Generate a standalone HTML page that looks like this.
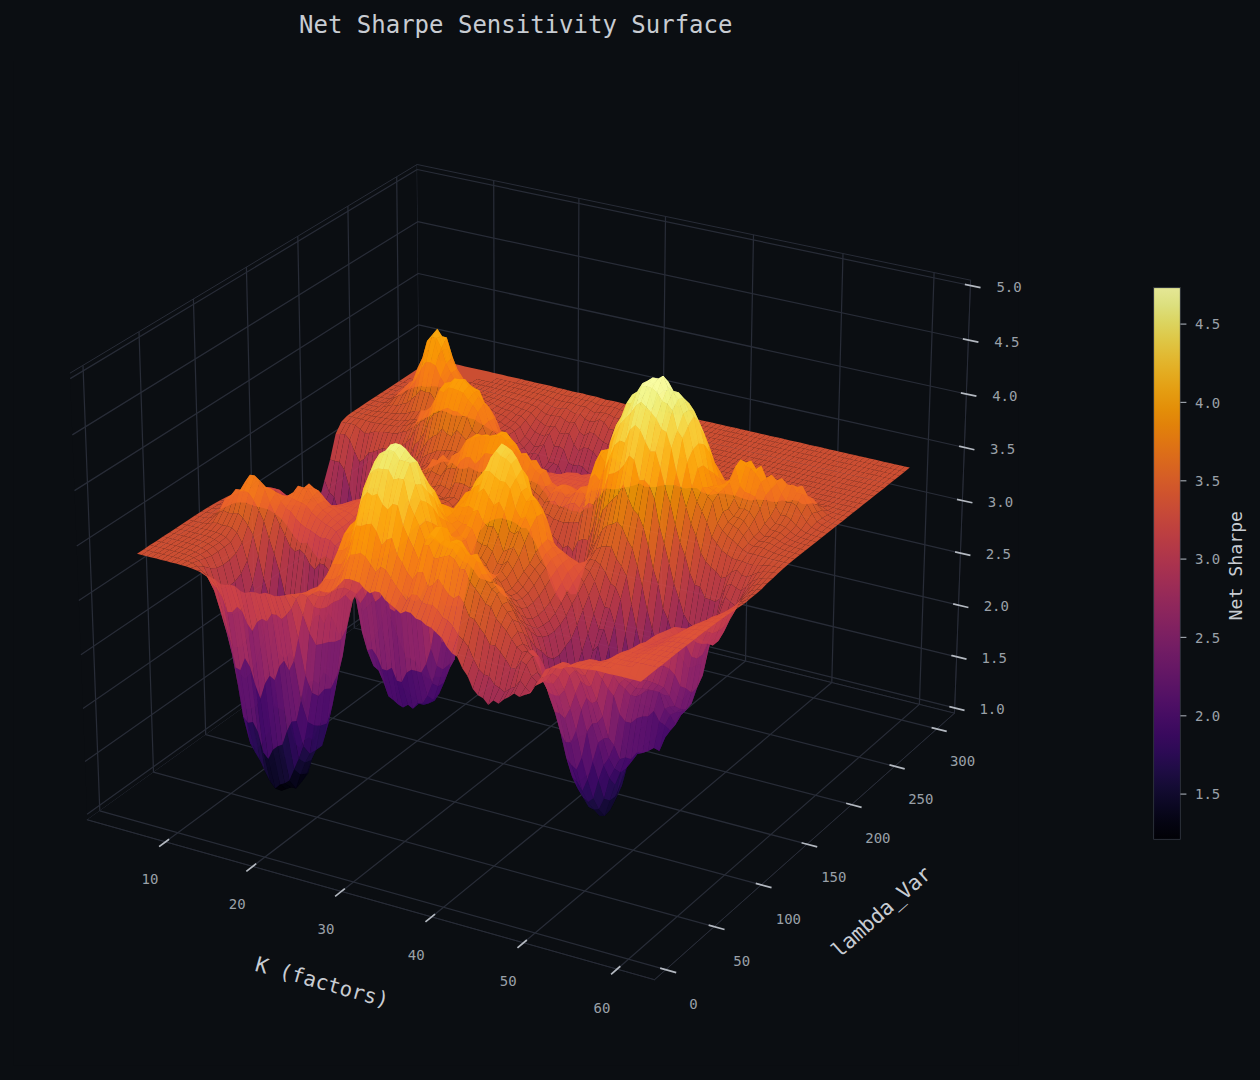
<!DOCTYPE html>
<html><head><meta charset="utf-8"><title>Net Sharpe Sensitivity Surface</title>
<style>html,body{margin:0;padding:0;background:#0b0e12;width:1260px;height:1080px;overflow:hidden}svg{display:block}</style>
</head><body>
<svg width="1260" height="1080" viewBox="0 0 1260 1080">
<defs>
<style type="text/css">*{stroke-linejoin: round; stroke-linecap: butt}</style>
</defs>
<g id="figure_1">
<g id="patch_1">
<path d="M0 1080l1260 0 0-1080-1260 0z" fill="#0b0e12"/>
</g>
<g id="patch_2">
<path d="M13.3 1065.7l1004.8 0 0-1004.8-1004.8 0z" fill="#0b0e12"/>
</g>
<g id="pane3d_1">
<g id="patch_3">
<path d="M87.3 819.8l333.7-239.7-3.9-415.6-347.2 208.7" style="fill: #0b0e12; stroke: #282c37; stroke-linejoin: miter"/>
</g>
</g>
<g id="pane3d_2">
<g id="patch_4">
<path d="M421 580.1l533.5 133.1 16.1-433-553.5-115.7" style="fill: #0b0e12; stroke: #282c37; stroke-linejoin: miter"/>
</g>
</g>
<g id="pane3d_3">
<g id="patch_5">
<path d="M87.3 819.8l567.2 159.9 300-266.5-533.5-133.1" style="fill: #0b0e12; stroke: #282c37; stroke-linejoin: miter"/>
</g>
</g>
<g id="grid3d_1">
<g id="Line3DCollection_1">
<path d="M165.6 841.8l329.3-243.3-1.2-418" style="fill: none; stroke: #282c37; stroke-width: 1.25"/>
<path d="M252.7 866.4l324.4-247.4 1.8-420.7" style="fill: none; stroke: #282c37; stroke-width: 1.25"/>
<path d="M341.4 891.4l319.2-251.5 4.9-423.5" style="fill: none; stroke: #282c37; stroke-width: 1.25"/>
<path d="M431.6 916.9l313.9-255.9 8-426.2" style="fill: none; stroke: #282c37; stroke-width: 1.25"/>
<path d="M523.5 942.8l308.3-260.2 11.2-429" style="fill: none; stroke: #282c37; stroke-width: 1.25"/>
<path d="M617 969.2l302.4-264.8 14.7-431.8" style="fill: none; stroke: #282c37; stroke-width: 1.25"/>
</g>
</g>
<g id="grid3d_2">
<g id="Line3DCollection_2">
<path d="M83 365.4l16.8 445.4 566 158.9" style="fill: none; stroke: #282c37; stroke-width: 1.25"/>
<path d="M139 331.7l14.5 440.5 560.7 154.5" style="fill: none; stroke: #282c37; stroke-width: 1.25"/>
<path d="M193.4 299l12.3 435.7 555.6 150.1" style="fill: none; stroke: #282c37; stroke-width: 1.25"/>
<path d="M246.4 267.1l10.2 431.1 550.5 146" style="fill: none; stroke: #282c37; stroke-width: 1.25"/>
<path d="M297.8 236.2l8.3 426.4 545.5 142.1" style="fill: none; stroke: #282c37; stroke-width: 1.25"/>
<path d="M347.9 206.1l6.4 421.9 540.5 138.3" style="fill: none; stroke: #282c37; stroke-width: 1.25"/>
<path d="M396.7 176.8l4.6 417.4 535.6 134.7" style="fill: none; stroke: #282c37; stroke-width: 1.25"/>
</g>
</g>
<g id="grid3d_3">
<g id="Line3DCollection_3">
<path d="M954.7 707.9l-533.7-132.9-333.9 239.3" style="fill: none; stroke: #282c37; stroke-width: 1.25"/>
<path d="M956.6 656.8l-536.1-131-335.5 235.8" style="fill: none; stroke: #282c37; stroke-width: 1.25"/>
<path d="M958.5 605.1l-538.5-128.9-337 232.2" style="fill: none; stroke: #282c37; stroke-width: 1.25"/>
<path d="M960.5 553.1l-540.9-126.9-338.7 228.6" style="fill: none; stroke: #282c37; stroke-width: 1.25"/>
<path d="M962.4 500.5l-543.3-124.8-340.3 224.9" style="fill: none; stroke: #282c37; stroke-width: 1.25"/>
<path d="M964.4 447.5l-545.8-122.7-341.9 221.1" style="fill: none; stroke: #282c37; stroke-width: 1.25"/>
<path d="M966.4 394l-548.2-120.5-343.7 217.1" style="fill: none; stroke: #282c37; stroke-width: 1.25"/>
<path d="M968.4 340l-550.7-118.3-345.4 213.2" style="fill: none; stroke: #282c37; stroke-width: 1.25"/>
<path d="M970.4 285.5l-553.2-116-347 209.1" style="fill: none; stroke: #282c37; stroke-width: 1.25"/>
</g>
</g>
<g id="axis3d_1">
<g id="line2d_1">
<path d="M87.3 819.8l567.2 159.9" style="fill: none; stroke: #282c37; stroke-width: 0.8; stroke-linecap: square"/>
</g>
<g id="xtick_1">
<g id="line2d_2">
<path d="M168.4 839.7l-8.6 6.4" style="fill: none; stroke: #b4b9c1; stroke-width: 1.7; stroke-linecap: square"/>
</g>
<g id="text_1">
<text style="font-size: 14px; font-family: 'DejaVu Sans Mono', monospace; text-anchor: middle; fill: #9aa0a8" x="150" y="884" transform="rotate(0 150 884)">10</text>
</g>
</g>
<g id="xtick_2">
<g id="line2d_3">
<path d="M255.5 864.2l-8.5 6.6" style="fill: none; stroke: #b4b9c1; stroke-width: 1.7; stroke-linecap: square"/>
</g>
<g id="text_2">
<text style="font-size: 14px; font-family: 'DejaVu Sans Mono', monospace; text-anchor: middle; fill: #9aa0a8" x="237.2" y="908.9" transform="rotate(0 237.2 908.9)">20</text>
</g>
</g>
<g id="xtick_3">
<g id="line2d_4">
<path d="M344.2 889.2l-8.4 6.6" style="fill: none; stroke: #b4b9c1; stroke-width: 1.7; stroke-linecap: square"/>
</g>
<g id="text_3">
<text style="font-size: 14px; font-family: 'DejaVu Sans Mono', monospace; text-anchor: middle; fill: #9aa0a8" x="326" y="934.3" transform="rotate(0 326 934.3)">30</text>
</g>
</g>
<g id="xtick_4">
<g id="line2d_5">
<path d="M434.4 914.6l-8.3 6.8" style="fill: none; stroke: #b4b9c1; stroke-width: 1.7; stroke-linecap: square"/>
</g>
<g id="text_4">
<text style="font-size: 14px; font-family: 'DejaVu Sans Mono', monospace; text-anchor: middle; fill: #9aa0a8" x="416.3" y="960.1" transform="rotate(0 416.3 960.1)">40</text>
</g>
</g>
<g id="xtick_5">
<g id="line2d_6">
<path d="M526.2 940.5l-8.1 6.9" style="fill: none; stroke: #b4b9c1; stroke-width: 1.7; stroke-linecap: square"/>
</g>
<g id="text_5">
<text style="font-size: 14px; font-family: 'DejaVu Sans Mono', monospace; text-anchor: middle; fill: #9aa0a8" x="508.3" y="986.3" transform="rotate(0 508.3 986.3)">50</text>
</g>
</g>
<g id="xtick_6">
<g id="line2d_7">
<path d="M619.7 966.8l-8 7" style="fill: none; stroke: #b4b9c1; stroke-width: 1.7; stroke-linecap: square"/>
</g>
<g id="text_6">
<text style="font-size: 14px; font-family: 'DejaVu Sans Mono', monospace; text-anchor: middle; fill: #9aa0a8" x="601.9" y="1013.1" transform="rotate(0 601.9 1013.1)">60</text>
</g>
</g>
<g id="text_7">
<text style="font-size: 20.8px; font-family: 'DejaVu Sans Mono', monospace; text-anchor: middle; fill: #c8ccd2" x="320.3" y="989.1" transform="rotate(-344.3 320.3 989.1)">K (factors)</text>
</g>
</g>
<g id="axis3d_2">
<g id="line2d_8">
<path d="M954.5 713.2l-300 266.5" style="fill: none; stroke: #282c37; stroke-width: 0.8; stroke-linecap: square"/>
</g>
<g id="xtick_7">
<g id="line2d_9">
<path d="M661 968.4l14.4 4" style="fill: none; stroke: #b4b9c1; stroke-width: 1.7; stroke-linecap: square"/>
</g>
<g id="text_8">
<text style="font-size: 14px; font-family: 'DejaVu Sans Mono', monospace; text-anchor: middle; fill: #9aa0a8" x="693.5" y="1009.2" transform="rotate(0 693.5 1009.2)">0</text>
</g>
</g>
<g id="xtick_8">
<g id="line2d_10">
<path d="M709.5 925.4l14.2 3.9" style="fill: none; stroke: #b4b9c1; stroke-width: 1.7; stroke-linecap: square"/>
</g>
<g id="text_9">
<text style="font-size: 14px; font-family: 'DejaVu Sans Mono', monospace; text-anchor: middle; fill: #9aa0a8" x="741.7" y="965.7" transform="rotate(0 741.7 965.7)">50</text>
</g>
</g>
<g id="xtick_9">
<g id="line2d_11">
<path d="M756.6 883.6l14.1 3.8" style="fill: none; stroke: #b4b9c1; stroke-width: 1.7; stroke-linecap: square"/>
</g>
<g id="text_10">
<text style="font-size: 14px; font-family: 'DejaVu Sans Mono', monospace; text-anchor: middle; fill: #9aa0a8" x="788.4" y="923.5" transform="rotate(0 788.4 923.5)">100</text>
</g>
</g>
<g id="xtick_10">
<g id="line2d_12">
<path d="M802.4 843l14 3.7" style="fill: none; stroke: #b4b9c1; stroke-width: 1.7; stroke-linecap: square"/>
</g>
<g id="text_11">
<text style="font-size: 14px; font-family: 'DejaVu Sans Mono', monospace; text-anchor: middle; fill: #9aa0a8" x="833.8" y="882.4" transform="rotate(0 833.8 882.4)">150</text>
</g>
</g>
<g id="xtick_11">
<g id="line2d_13">
<path d="M847 803.5l13.8 3.6" style="fill: none; stroke: #b4b9c1; stroke-width: 1.7; stroke-linecap: square"/>
</g>
<g id="text_12">
<text style="font-size: 14px; font-family: 'DejaVu Sans Mono', monospace; text-anchor: middle; fill: #9aa0a8" x="877.9" y="842.5" transform="rotate(0 877.9 842.5)">200</text>
</g>
</g>
<g id="xtick_12">
<g id="line2d_14">
<path d="M890.3 765.1l13.6 3.5" style="fill: none; stroke: #b4b9c1; stroke-width: 1.7; stroke-linecap: square"/>
</g>
<g id="text_13">
<text style="font-size: 14px; font-family: 'DejaVu Sans Mono', monospace; text-anchor: middle; fill: #9aa0a8" x="920.8" y="803.6" transform="rotate(0 920.8 803.6)">250</text>
</g>
</g>
<g id="xtick_13">
<g id="line2d_15">
<path d="M932.4 727.8l13.5 3.4" style="fill: none; stroke: #b4b9c1; stroke-width: 1.7; stroke-linecap: square"/>
</g>
<g id="text_14">
<text style="font-size: 14px; font-family: 'DejaVu Sans Mono', monospace; text-anchor: middle; fill: #9aa0a8" x="962.6" y="765.9" transform="rotate(0 962.6 765.9)">300</text>
</g>
</g>
<g id="text_15">
<text style="font-size: 20.8px; font-family: 'DejaVu Sans Mono', monospace; text-anchor: middle; fill: #c8ccd2" x="886.1" y="917.2" transform="rotate(-41.6 886.1 917.2)">lambda_Var</text>
</g>
</g>
<g id="axis3d_3">
<g id="line2d_16">
<path d="M954.5 713.2l16.1-433" style="fill: none; stroke: #282c37; stroke-width: 0.8; stroke-linecap: square"/>
</g>
<g id="xtick_14">
<g id="line2d_17">
<path d="M950.2 706.8l13.5 3.4" style="fill: none; stroke: #b4b9c1; stroke-width: 1.7; stroke-linecap: square"/>
</g>
<g id="text_16">
<text style="font-size: 14px; font-family: 'DejaVu Sans Mono', monospace; text-anchor: middle; fill: #9aa0a8" x="992.1" y="714" transform="rotate(0 992.1 714)">1.0</text>
</g>
</g>
<g id="xtick_15">
<g id="line2d_18">
<path d="M952.1 655.7l13.6 3.3" style="fill: none; stroke: #b4b9c1; stroke-width: 1.7; stroke-linecap: square"/>
</g>
<g id="text_17">
<text style="font-size: 14px; font-family: 'DejaVu Sans Mono', monospace; text-anchor: middle; fill: #9aa0a8" x="994.2" y="662.9" transform="rotate(0 994.2 662.9)">1.5</text>
</g>
</g>
<g id="xtick_16">
<g id="line2d_19">
<path d="M954 604.1l13.6 3.2" style="fill: none; stroke: #b4b9c1; stroke-width: 1.7; stroke-linecap: square"/>
</g>
<g id="text_18">
<text style="font-size: 14px; font-family: 'DejaVu Sans Mono', monospace; text-anchor: middle; fill: #9aa0a8" x="996.3" y="611.4" transform="rotate(0 996.3 611.4)">2.0</text>
</g>
</g>
<g id="xtick_17">
<g id="line2d_20">
<path d="M955.9 552l13.7 3.2" style="fill: none; stroke: #b4b9c1; stroke-width: 1.7; stroke-linecap: square"/>
</g>
<g id="text_19">
<text style="font-size: 14px; font-family: 'DejaVu Sans Mono', monospace; text-anchor: middle; fill: #9aa0a8" x="998.4" y="559.4" transform="rotate(0 998.4 559.4)">2.5</text>
</g>
</g>
<g id="xtick_18">
<g id="line2d_21">
<path d="M957.8 499.5l13.8 3.1" style="fill: none; stroke: #b4b9c1; stroke-width: 1.7; stroke-linecap: square"/>
</g>
<g id="text_20">
<text style="font-size: 14px; font-family: 'DejaVu Sans Mono', monospace; text-anchor: middle; fill: #9aa0a8" x="1000.5" y="506.9" transform="rotate(0 1000.5 506.9)">3.0</text>
</g>
</g>
<g id="xtick_19">
<g id="line2d_22">
<path d="M959.8 446.4l13.8 3.2" style="fill: none; stroke: #b4b9c1; stroke-width: 1.7; stroke-linecap: square"/>
</g>
<g id="text_21">
<text style="font-size: 14px; font-family: 'DejaVu Sans Mono', monospace; text-anchor: middle; fill: #9aa0a8" x="1002.6" y="454" transform="rotate(0 1002.6 454)">3.5</text>
</g>
</g>
<g id="xtick_20">
<g id="line2d_23">
<path d="M961.7 393l13.9 3" style="fill: none; stroke: #b4b9c1; stroke-width: 1.7; stroke-linecap: square"/>
</g>
<g id="text_22">
<text style="font-size: 14px; font-family: 'DejaVu Sans Mono', monospace; text-anchor: middle; fill: #9aa0a8" x="1004.8" y="400.5" transform="rotate(0 1004.8 400.5)">4.0</text>
</g>
</g>
<g id="xtick_21">
<g id="line2d_24">
<path d="M963.7 339l13.9 3" style="fill: none; stroke: #b4b9c1; stroke-width: 1.7; stroke-linecap: square"/>
</g>
<g id="text_23">
<text style="font-size: 14px; font-family: 'DejaVu Sans Mono', monospace; text-anchor: middle; fill: #9aa0a8" x="1006.9" y="346.6" transform="rotate(0 1006.9 346.6)">4.5</text>
</g>
</g>
<g id="xtick_22">
<g id="line2d_25">
<path d="M965.7 284.5l14 2.9" style="fill: none; stroke: #b4b9c1; stroke-width: 1.7; stroke-linecap: square"/>
</g>
<g id="text_24">
<text style="font-size: 14px; font-family: 'DejaVu Sans Mono', monospace; text-anchor: middle; fill: #9aa0a8" x="1009.1" y="292.2" transform="rotate(0 1009.1 292.2)">5.0</text>
</g>
</g>
</g>
<g id="axes_1">
<g id="Poly3DCollection_1" fill-opacity="0.9">
<path d="M427.1 362.7l4.6 1 5.6-3.7-4.6-1zM431.7 363.7l4.7 1.1 5.5-3.7-4.6-1.1zM436.4 364.8l4.6 1 5.5-3.7-4.6-1zM441 365.8l4.6 1.1 5.6-3.7-4.7-1.1zM421.5 366.3l4.6 1.1 5.6-3.7-4.6-1zM445.6 366.9l4.6 1 5.6-3.7-4.6-1zM426.1 367.4l4.7 1.1 5.6-3.7-4.7-1.1zM450.2 367.9l4.7 1.1 5.5-3.7-4.6-1.1zM430.8 368.5l4.6 1 5.6-3.7-4.6-1zM454.9 369l4.6 1 5.5-3.6-4.6-1.1zM435.4 369.5l4.6 1.1 5.6-3.7-4.6-1.1zM415.9 370l4.6 1.1 5.6-3.7-4.6-1.1zM459.5 370l4.6 1.1 5.6-3.7-4.7-1zM440 370.6l4.7 1 5.5-3.7-4.6-1zM420.5 371.1l4.7 1.1 5.6-3.7-4.7-1.1zM464.1 371.1l4.7 1.1 5.5-3.7-4.6-1.1zM444.7 371.6l4.6 1.1 5.6-3.7-4.7-1.1zM425.2 372.2l4.6 1 5.6-3.7-4.6-1zM468.8 372.2l4.6 1 5.6-3.7-4.7-1zM449.3 372.7l4.6 1.1 5.6-3.8-4.6-1zM429.8 373.2l4.6 1.1 5.6-3.7-4.6-1.1zM473.4 373.2l4.7 1.1 5.5-3.7-4.6-1.1zM410.3 373.8l4.6 1 5.6-3.7-4.6-1.1zM453.9 373.8l4.7 1 5.5-3.7-4.6-1.1zM434.4 374.3l4.7 1 5.6-3.7-4.7-1zM478.1 374.3l4.6 1.1 5.6-3.8-4.7-1zM414.9 374.8l4.6 1.1 5.7-3.7-4.7-1.1zM458.6 374.8l4.6 1.1 5.6-3.7-4.7-1.1zM439.1 375.3l4.6 1.1 5.6-3.7-4.6-1.1zM482.7 375.4l4.7 1 5.5-3.7-4.6-1.1zM419.5 375.9l4.7 1 5.6-3.7-4.6-1zM463.2 375.9l4.7 1 5.5-3.7-4.6-1zM443.7 376.4l4.7 1.1 5.5-3.7-4.6-1.1zM487.4 376.4l4.7 1.1 5.5-3.7-4.7-1.1zM424.2 376.9l4.6 1.1 5.6-3.7-4.6-1.1zM467.9 376.9l4.6 1.1 5.6-3.7-4.7-1.1zM404.6 377.5l4.7 1 5.6-3.7-4.6-1zM448.4 377.5l4.6 1 5.6-3.7-4.7-1zM492.1 377.5l4.6 1.1 5.6-3.8-4.7-1zM428.8 378l4.7 1 5.6-3.7-4.7-1zM472.5 378l4.7 1.1 5.5-3.7-4.6-1.1zM409.3 378.5l4.6 1.1 5.6-3.7-4.6-1.1zM453 378.5l4.7 1.1 5.5-3.7-4.6-1.1zM496.7 378.6l4.7 1 5.5-3.7-4.6-1.1zM477.2 379.1l4.7 1.1 5.5-3.8-4.7-1zM433.5 379l4.6 1.1 5.6-3.7-4.6-1.1zM413.9 379.6l4.6 1.1 5.7-3.8-4.7-1zM501.4 379.6l4.7 1.1 5.5-3.7-4.7-1.1zM457.7 379.6l4.6 1.1 5.6-3.8-4.7-1zM481.9 380.2l4.6 1 5.6-3.7-4.7-1.1zM438.1 380.1l4.7 1 5.6-3.6-4.7-1.1zM506.1 380.7l4.7 1.1 5.5-3.8-4.7-1zM462.3 380.7l4.7 1 5.5-3.7-4.6-1.1zM418.5 380.7l4.7 0.9 5.6-3.6-4.6-1.1zM399 381.2l4.6 1.1 5.7-3.8-4.7-1zM486.5 381.2l4.7 1.1 5.5-3.7-4.6-1.1zM442.8 381.1l4.6 1 5.6-3.6-4.6-1zM510.8 381.8l4.7 1.1 5.5-3.8-4.7-1.1zM467 381.7l4.6 1.1 5.6-3.7-4.7-1.1z" fill="#e05536"/>
<path d="M423.2 381.6l4.6 0.9 5.7-3.5-4.7-1z" fill="#e15635"/>
<path d="M403.6 382.3l4.6 1 5.7-3.7-4.6-1.1zM491.2 382.3l4.7 1.1 5.5-3.8-4.7-1zM447.4 382.1l4.7 1.1 5.6-3.6-4.7-1.1zM515.5 382.9l4.7 1.1 5.4-3.8-4.6-1.1zM471.6 382.8l4.7 1.1 5.6-3.7-4.7-1.1z" fill="#e05536"/>
<path d="M427.8 382.5l4.7 0.9 5.6-3.3-4.6-1.1z" fill="#e15635"/>
<path d="M495.9 383.4l4.7 1.1 5.5-3.8-4.7-1.1zM408.2 383.3l4.7 1 5.6-3.6-4.6-1.1z" fill="#e05536"/>
<path d="M452.1 383.2l4.6 1 5.6-3.5-4.6-1.1z" fill="#e15635"/>
<path d="M520.2 384l4.7 1.1 5.4-3.8-4.7-1.1zM476.3 383.9l4.7 1 5.5-3.7-4.6-1z" fill="#e05536"/>
<path d="M432.5 383.4l4.6 0.9 5.7-3.2-4.7-1z" fill="#e15635"/>
<path d="M500.6 384.5l4.7 1.1 5.5-3.8-4.7-1.1z" fill="#e05536"/>
<path d="M412.9 384.3l4.6 0.8 5.7-3.5-4.7-0.9zM456.7 384.2l4.7 1 5.6-3.5-4.7-1z" fill="#e15635"/>
<path d="M524.9 385.1l4.7 1.1 5.4-3.8-4.7-1.1zM393.3 384.9l4.6 1.1 5.7-3.7-4.6-1.1zM481 384.9l4.7 1.1 5.5-3.7-4.7-1.1z" fill="#e05536"/>
<path d="M437.1 384.3l4.7 1 5.6-3.2-4.6-1z" fill="#e15635"/>
<path d="M505.3 385.6l4.7 1.1 5.5-3.8-4.7-1.1z" fill="#e05536"/>
<path d="M461.4 385.2l4.7 0.9 5.5-3.3-4.6-1.1zM417.5 385.1l4.7 0.2 5.6-2.8-4.6-0.9z" fill="#e15635"/>
<path d="M529.6 386.2l4.7 1.1 5.4-3.9-4.7-1zM485.7 386l4.7 1.1 5.5-3.7-4.7-1.1zM397.9 386l4.7 1 5.6-3.7-4.6-1z" fill="#e05536"/>
<path d="M441.8 385.3l4.7 0.8 5.6-2.9-4.7-1.1z" fill="#e15635"/>
<path d="M510 386.7l4.7 1.1 5.5-3.8-4.7-1.1z" fill="#e05536"/>
<path d="M466.1 386.1l4.6 1.1 5.6-3.3-4.7-1.1zM422.2 385.3l4.6 0.3 5.7-2.2-4.7-0.9z" fill="#e15635"/>
<path d="M534.3 387.3l4.7 1.1 5.4-3.9-4.7-1.1zM490.4 387.1l4.7 1.2 5.5-3.8-4.7-1.1z" fill="#e05536"/>
<path d="M402.6 387l4.6 0.9 5.7-3.6-4.7-1zM446.5 386.1l4.6 0.8 5.6-2.7-4.6-1z" fill="#e15635"/>
<path d="M514.7 387.8l4.7 1.2 5.5-3.9-4.7-1.1z" fill="#e05536"/>
<path d="M470.7 387.2l4.7 1.2 5.6-3.5-4.7-1zM426.8 385.6l4.7 0.7 5.6-2-4.6-0.9z" fill="#e15635"/>
<path d="M539 388.4l4.7 1.2 5.4-4-4.7-1.1zM495.1 388.3l4.6 1.1 5.6-3.8-4.7-1.1z" fill="#e05536"/>
<path d="M407.2 387.9l4.6 0.1 5.7-2.9-4.6-0.8zM451.1 386.9l4.7 0.5 5.6-2.2-4.7-1z" fill="#e15635"/>
<path d="M519.4 389l4.7 1.3 5.5-4.1-4.7-1.1zM387.6 388.7l4.6 1 5.7-3.7-4.6-1.1z" fill="#e05536"/>
<path d="M475.4 388.4l4.7 1.2 5.6-3.6-4.7-1.1z" fill="#e15635"/>
<path d="M431.5 386.3l4.6-0.1 5.7-0.9-4.7-1z" fill="#e25734"/>
<path d="M543.7 389.6l4.7 1.2 5.5-4.1-4.8-1.1zM499.7 389.4l4.7 1.1 5.6-3.8-4.7-1.1z" fill="#e05536"/>
<path d="M455.8 387.4l4.7 0.6 5.6-1.9-4.7-0.9z" fill="#e15635"/>
<path d="M411.8 388l4.7-1.2 5.7-1.5-4.7-0.2z" fill="#e25734"/>
<path d="M524.1 390.3l4.7 1.1 5.5-4.1-4.7-1.1zM392.2 389.7l4.7 1 5.7-3.7-4.7-1zM480.1 389.6l4.7 1.1 5.6-3.6-4.7-1.1z" fill="#e05536"/>
<path d="M436.1 386.2l4.7 0.7 5.7-0.8-4.7-0.8z" fill="#e25734"/>
<path d="M548.4 390.8l4.7 1.2 5.5-4.1-4.7-1.2zM504.4 390.5l4.7 1.2 5.6-3.9-4.7-1.1z" fill="#e05536"/>
<path d="M460.5 388l4.6 1 5.6-1.8-4.6-1.1z" fill="#e15635"/>
<path d="M528.8 391.4l4.7 1.1 5.5-4.1-4.7-1.1zM484.8 390.7l4.7 1.3 5.6-3.7-4.7-1.2z" fill="#e05536"/>
<path d="M396.9 390.7l4.6 0.7 5.7-3.5-4.6-0.9z" fill="#e15635"/>
<path d="M416.5 386.8l4.6-0.9 5.7-0.3-4.6-0.3z" fill="#e35933"/>
<path d="M553.1 392l4.8 1.5 5.4-4.4-4.7-1.2zM509.1 391.7l4.8 1.3 5.5-4-4.7-1.2z" fill="#e05536"/>
<path d="M440.8 386.9l4.7 0.4 5.6-0.4-4.6-0.8z" fill="#e25734"/>
<path d="M465.1 389l4.7 1.2 5.6-1.8-4.7-1.2z" fill="#e15635"/>
<path d="M533.5 392.5l4.7 1.3 5.5-4.2-4.7-1.2zM489.5 392l4.7 1.2 5.5-3.8-4.6-1.1z" fill="#e05536"/>
<path d="M401.5 391.4l4.6-1 5.7-2.4-4.6-0.1z" fill="#e15635"/>
<path d="M421.1 385.9l4.7 0.8 5.7-0.4-4.7-0.7z" fill="#e35933"/>
<path d="M557.9 393.5l4.7 1.3 5.4-4.5-4.7-1.2zM513.9 393l4.7 1.5 5.5-4.2-4.7-1.3zM381.8 392.4l4.7 1 5.7-3.7-4.6-1z" fill="#e05536"/>
<path d="M469.8 390.2l4.7 1.8 5.6-2.4-4.7-1.2z" fill="#e15635"/>
<path d="M445.5 387.3l4.6-2 5.7 2.1-4.7-0.5z" fill="#e35933"/>
<path d="M538.2 393.8l4.7 1.3 5.5-4.3-4.7-1.2zM494.2 393.2l4.7 1.2 5.5-3.9-4.7-1.1zM562.6 394.8l4.7 1.1 5.4-4.5-4.7-1.1zM518.6 394.5l4.7 1.1 5.5-4.2-4.7-1.1z" fill="#e05536"/>
<path d="M425.8 386.7l4.6-2.3 5.7 1.8-4.6 0.1z" fill="#e45a31"/>
<path d="M386.5 393.4l4.6 1 5.8-3.7-4.7-1zM474.5 392l4.7 1.4 5.6-2.7-4.7-1.1z" fill="#e15635"/>
<path d="M406.1 390.4l4.7-3.3 5.7-0.3-4.7 1.2z" fill="#e35933"/>
<path d="M542.9 395.1l4.8 1.3 5.4-4.4-4.7-1.2zM498.9 394.4l4.7 1.3 5.5-4-4.7-1.2z" fill="#e05536"/>
<path d="M450.1 385.3l4.7-0.3 5.7 3-4.7-0.6z" fill="#e45a31"/>
<path d="M567.3 395.9l4.8 0.9 5.4-4.3-4.8-1.1zM523.3 395.6l4.7 1.3 5.5-4.4-4.7-1.1z" fill="#e05536"/>
<path d="M391.1 394.4l4.7 0.6 5.7-3.6-4.6-0.7zM479.2 393.4l4.7 1.6 5.6-3-4.7-1.3z" fill="#e15635"/>
<path d="M430.4 384.4l4.7-0.8 5.7 3.3-4.7-0.7z" fill="#e55c30"/>
<path d="M547.7 396.4l4.7 1.8 5.5-4.7-4.8-1.5zM503.6 395.7l4.7 1.5 5.6-4.2-4.8-1.3z" fill="#e05536"/>
<path d="M454.8 385l4.7 0.1 5.6 3.9-4.6-1zM410.8 387.1l4.6-3.3 5.7 2.1-4.6 0.9z" fill="#e55c30"/>
<path d="M528 396.9l4.7 1.7 5.5-4.8-4.7-1.3zM572.1 396.8l4.7 0.8 5.4-4.3-4.7-0.8z" fill="#e05536"/>
<path d="M483.9 395l4.7 1.7 5.6-3.5-4.7-1.2z" fill="#e15635"/>
<path d="M552.4 398.2l4.7 1.7 5.5-5.1-4.7-1.3z" fill="#df5337"/>
<path d="M508.3 397.2l4.7 1.7 5.6-4.4-4.7-1.5z" fill="#e05536"/>
<path d="M395.8 395l4.6-1.4 5.7-3.2-4.6 1z" fill="#e25734"/>
<path d="M376.1 396.2l4.7 1 5.7-3.8-4.7-1z" fill="#e05536"/>
<path d="M459.5 385.1l4.7 1.9 5.6 3.2-4.7-1.2z" fill="#e55c30"/>
<path d="M435.1 383.6l4.7-3.4 5.7 7.1-4.7-0.4z" fill="#e75e2e"/>
<path d="M532.7 398.6l4.7 1 5.5-4.5-4.7-1.3zM576.8 397.6l4.7 1.8 5.5-4.7-4.8-1.4zM488.6 396.7l4.7 1.5 5.6-3.8-4.7-1.2z" fill="#e05536"/>
<path d="M557.1 399.9l4.8 1.3 5.4-5.3-4.7-1.1z" fill="#df5337"/>
<path d="M415.4 383.8l4.7-0.8 5.7 3.7-4.7-0.8z" fill="#e75e2e"/>
<path d="M513 398.9l4.8 1.3 5.5-4.6-4.7-1.1z" fill="#e05536"/>
<path d="M464.2 387l4.7 3.3 5.6 1.7-4.7-1.8z" fill="#e45a31"/>
<path d="M380.8 397.2l4.6 1 5.7-3.8-4.6-1z" fill="#e15635"/>
<path d="M537.4 399.6l4.8 1.7 5.5-4.9-4.8-1.3z" fill="#df5337"/>
<path d="M581.5 399.4l4.8 1.1 5.4-4.7-4.7-1.1zM493.3 398.2l4.8 1.4 5.5-3.9-4.7-1.3z" fill="#e05536"/>
<path d="M400.4 393.6l4.6-5.6 5.8-0.9-4.7 3.3z" fill="#e45a31"/>
<path d="M561.9 401.2l4.7 1 5.5-5.4-4.8-0.9z" fill="#df5337"/>
<path d="M468.9 390.3l4.7 3.1 5.6 0-4.7-1.4z" fill="#e35933"/>
<path d="M517.8 400.2l4.7 1.5 5.5-4.8-4.7-1.3z" fill="#df5337"/>
<path d="M439.8 380.2l4.6-5 5.7 10.1-4.6 2z" fill="#e9612b"/>
<path d="M542.2 401.3l4.7 2.7 5.5-5.8-4.7-1.8z" fill="#df5337"/>
<path d="M385.4 398.2l4.7 0.5 5.7-3.7-4.7-0.6z" fill="#e15635"/>
<path d="M420.1 383l4.6-3.5 5.7 4.9-4.6 2.3z" fill="#e8602d"/>
<path d="M498.1 399.6l4.7 2 5.5-4.4-4.7-1.5zM586.3 400.5l4.8 0.7 5.4-4.5-4.8-0.9z" fill="#e05536"/>
<path d="M473.6 393.4l4.7 2.3 5.6-0.7-4.7-1.6z" fill="#e25734"/>
<path d="M522.5 401.7l4.7 1.3 5.5-4.4-4.7-1.7zM566.6 402.2l4.8 0.5 5.4-5.1-4.7-0.8z" fill="#df5337"/>
<path d="M546.9 404l4.7 2.2 5.5-6.3-4.7-1.7z" fill="#de5238"/>
<path d="M502.8 401.6l4.7 2 5.5-4.7-4.7-1.7z" fill="#df5337"/>
<path d="M591.1 401.2l4.7 2.6 5.4-5.5-4.7-1.6z" fill="#e05536"/>
<path d="M478.3 395.7l4.7 3.2 5.6-2.2-4.7-1.7zM390.1 398.7l4.6-1.5 5.7-3.6-4.6 1.4z" fill="#e25734"/>
<path d="M370.3 400l4.7 1 5.8-3.8-4.7-1z" fill="#e05536"/>
<path d="M444.4 375.2l4.7-4.9 5.7 14.7-4.7 0.3z" fill="#eb6628"/>
<path d="M527.2 403l4.7 1.9 5.5-5.3-4.7-1z" fill="#df5337"/>
<path d="M405 388l4.6-6 5.8 1.8-4.6 3.3z" fill="#e8602d"/>
<path d="M571.4 402.7l4.7 2 5.4-5.3-4.7-1.8z" fill="#df5337"/>
<path d="M551.6 406.2l4.8 1.8 5.5-6.8-4.8-1.3z" fill="#de5238"/>
<path d="M424.7 379.5l4.6-7 5.8 11.1-4.7 0.8z" fill="#eb6628"/>
<path d="M483 398.9l4.8 2.5 5.5-3.2-4.7-1.5z" fill="#e15635"/>
<path d="M507.5 403.6l4.7 1.5 5.6-4.9-4.8-1.3zM595.8 403.8l4.8 1.6 5.4-5.7-4.8-1.4z" fill="#df5337"/>
<path d="M531.9 404.9l4.8 2 5.5-5.6-4.8-1.7z" fill="#de5238"/>
<path d="M375 401l4.7 1.1 5.7-3.9-4.6-1z" fill="#e15635"/>
<path d="M576.1 404.7l4.8 1.3 5.4-5.5-4.8-1.1z" fill="#df5337"/>
<path d="M556.4 408l4.7 0.4 5.5-6.2-4.7-1z" fill="#de5238"/>
<path d="M449.1 370.3l4.7 2.5 5.7 12.3-4.7-0.1z" fill="#ec6726"/>
<path d="M487.8 401.4l4.7 2.1 5.6-3.9-4.8-1.4z" fill="#e05536"/>
<path d="M512.2 405.1l4.7 1.6 5.6-5-4.7-1.5zM600.6 405.4l4.7 0.6 5.4-5.6-4.7-0.7z" fill="#df5337"/>
<path d="M394.7 397.2l4.6-4.9 5.7-4.3-4.6 5.6z" fill="#e55c30"/>
<path d="M536.7 406.9l4.7 3.9 5.5-6.8-4.7-2.7z" fill="#dd513a"/>
<path d="M409.6 382l4.7-1.7 5.8 2.7-4.7 0.8z" fill="#eb6429"/>
<path d="M379.7 402.1l4.6 0.7 5.8-4.1-4.7-0.5z" fill="#e15635"/>
<path d="M580.9 406l4.7 0.7 5.5-5.5-4.8-0.7z" fill="#df5337"/>
<path d="M453.8 372.8l4.7 4.2 5.7 10-4.7-1.9z" fill="#eb6628"/>
<path d="M492.5 403.5l4.7 2.4 5.6-4.3-4.7-2z" fill="#e05536"/>
<path d="M541.4 410.8l4.7 3.5 5.5-8.1-4.7-2.2z" fill="#db503b"/>
<path d="M561.1 408.4l4.8-0.3 5.5-5.4-4.8-0.5zM516.9 406.7l4.8 2.4 5.5-6.1-4.7-1.3z" fill="#de5238"/>
<path d="M429.3 372.5l4.6-8.9 5.9 16.6-4.7 3.4z" fill="#ef6c23"/>
<path d="M458.5 377l4.7 5.2 5.7 8.1-4.7-3.3z" fill="#eb6429"/>
<path d="M605.3 406l4.8 0.5 5.4-5.1-4.8-1z" fill="#df5337"/>
<path d="M585.6 406.7l4.8 3.5 5.4-6.4-4.7-2.6z" fill="#de5238"/>
<path d="M497.2 405.9l4.7 2.4 5.6-4.7-4.7-2z" fill="#df5337"/>
<path d="M463.2 382.2l4.8 5.6 5.6 5.6-4.7-3.1z" fill="#e8602d"/>
<path d="M546.1 414.3l4.8 1.1 5.5-7.4-4.8-1.8z" fill="#da4e3c"/>
<path d="M521.7 409.1l4.7 1.3 5.5-5.5-4.7-1.9z" fill="#de5238"/>
<path d="M384.3 402.8l4.7-0.9 5.7-4.7-4.6 1.5z" fill="#e25734"/>
<path d="M565.9 408.1l4.7 2.9 5.5-6.3-4.7-2z" fill="#de5238"/>
<path d="M364.6 403.8l4.6 1.1 5.8-3.9-4.7-1z" fill="#e05536"/>
<path d="M414.3 380.3l4.6-7.1 5.8 6.3-4.6 3.5z" fill="#ed6925"/>
<path d="M468 387.8l4.7 3 5.6 4.9-4.7-2.3z" fill="#e75e2e"/>
<path d="M590.4 410.2l4.7 2.7 5.5-7.5-4.8-1.6z" fill="#dd513a"/>
<path d="M610.1 406.5l4.8 1 5.4-4.8-4.8-1.3z" fill="#df5337"/>
<path d="M399.3 392.3l4.6-4.4 5.7-5.9-4.6 6z" fill="#e9612b"/>
<path d="M501.9 408.3l4.8 1.6 5.5-4.8-4.7-1.5z" fill="#de5238"/>
<path d="M472.7 390.8l4.7 7.7 5.6 0.4-4.7-3.2z" fill="#e55c30"/>
<path d="M570.6 411l4.8 2.9 5.5-7.9-4.8-1.3zM526.4 410.4l4.8 2.6 5.5-6.1-4.8-2z" fill="#dd513a"/>
<path d="M550.9 415.4l4.7 0.6 5.5-7.6-4.7-0.4z" fill="#da4e3c"/>
<path d="M477.4 398.5l4.8 4.9 5.6-2-4.8-2.5z" fill="#e25734"/>
<path d="M369.2 404.9l4.7 1 5.8-3.8-4.7-1.1z" fill="#e05536"/>
<path d="M614.9 407.5l4.8 2.3 5.4-5.8-4.8-1.3z" fill="#df5337"/>
<path d="M595.1 412.9l4.8-0.3 5.4-6.6-4.7-0.6z" fill="#dd513a"/>
<path d="M531.2 413l4.7 5.5 5.5-7.7-4.7-3.9z" fill="#db503b"/>
<path d="M506.7 409.9l4.7 1.3 5.5-4.5-4.7-1.6z" fill="#de5238"/>
<path d="M433.9 363.6l4.7-8.5 5.8 20.1-4.6 5z" fill="#f2741c"/>
<path d="M389 401.9l4.6-3.4 5.7-6.2-4.6 4.9z" fill="#e45a31"/>
<path d="M482.2 403.4l4.7 3.1 5.6-3-4.7-2.1z" fill="#e15635"/>
<path d="M575.4 413.9l4.8 0.2 5.4-7.4-4.7-0.7z" fill="#dd513a"/>
<path d="M535.9 418.5l4.7 3.6 5.5-7.8-4.7-3.5z" fill="#d84c3e"/>
<path d="M555.6 416l4.8 0.4 5.5-8.3-4.8 0.3z" fill="#db503b"/>
<path d="M373.9 405.9l4.7 1 5.7-4.1-4.6-0.7z" fill="#e15635"/>
<path d="M619.7 409.8l4.7 1.4 5.4-5.9-4.7-1.3z" fill="#df5337"/>
<path d="M403.9 387.9l4.7 0 5.7-7.6-4.7 1.7z" fill="#eb6628"/>
<path d="M511.4 411.2l4.7 3.5 5.6-5.6-4.8-2.4z" fill="#dd513a"/>
<path d="M486.9 406.5l4.7 3.2 5.6-3.8-4.7-2.4z" fill="#e05536"/>
<path d="M540.6 422.1l4.8 3.6 5.5-10.3-4.8-1.1z" fill="#d74b3f"/>
<path d="M599.9 412.6l4.8 0.3 5.4-6.4-4.8-0.5z" fill="#de5238"/>
<path d="M580.2 414.1l4.7 4.9 5.5-8.8-4.8-3.5z" fill="#db503b"/>
<path d="M418.9 373.2l4.6-11.1 5.8 10.4-4.6 7z" fill="#f1731d"/>
<path d="M560.4 416.4l4.8 4 5.4-9.4-4.7-2.9zM584.9 419l4.8 2.5 5.4-8.6-4.7-2.7z" fill="#da4e3c"/>
<path d="M516.1 414.7l4.8 1.2 5.5-5.5-4.7-1.3z" fill="#db503b"/>
<path d="M491.6 409.7l4.8 3.4 5.5-4.8-4.7-2.4z" fill="#de5238"/>
<path d="M624.4 411.2l4.8 0.7 5.4-5.6-4.8-1z" fill="#df5337"/>
<path d="M378.6 406.9l4.6 0.2 5.8-5.2-4.7 0.9z" fill="#e15635"/>
<path d="M545.4 425.7l4.7 0.7 5.5-10.4-4.7-0.6z" fill="#d74b3f"/>
<path d="M565.2 420.4l4.7 2.6 5.5-9.1-4.8-2.9z" fill="#d94d3d"/>
<path d="M604.7 412.9l4.8 1.9 5.4-7.3-4.8-1z" fill="#de5238"/>
<path d="M393.6 398.5l4.6-3.1 5.7-7.5-4.6 4.4z" fill="#e8602d"/>
<path d="M358.8 407.7l4.6 1.1 5.8-3.9-4.6-1.1z" fill="#e05536"/>
<path d="M520.9 415.9l4.7 4.4 5.6-7.3-4.8-2.6z" fill="#db503b"/>
<path d="M496.4 413.1l4.7 1.5 5.6-4.7-4.8-1.6z" fill="#de5238"/>
<path d="M438.6 355.1l4.6-5.6 5.9 20.8-4.7 4.9z" fill="#f57d15"/>
<path d="M589.7 421.5l4.8 0.3 5.4-9.2-4.8 0.3z" fill="#d94d3d"/>
<path d="M525.6 420.3l4.8 6.8 5.5-8.6-4.7-5.5z" fill="#d84c3e"/>
<path d="M629.2 411.9l4.8 0.9 5.4-5.5-4.8-1z" fill="#df5337"/>
<path d="M408.6 387.9l4.6-8.4 5.7-6.3-4.6 7.1z" fill="#ef6c23"/>
<path d="M609.5 414.8l4.7 2.7 5.5-7.7-4.8-2.3z" fill="#dd513a"/>
<path d="M530.4 427.1l4.7 4.8 5.5-9.8-4.7-3.6z" fill="#d44842"/>
<path d="M569.9 423l4.8-0.6 5.5-8.3-4.8-0.2z" fill="#d94d3d"/>
<path d="M550.1 426.4l4.8-0.3 5.5-9.7-4.8-0.4z" fill="#d74b3f"/>
<path d="M363.4 408.8l4.7 1 5.8-3.9-4.7-1z" fill="#e05536"/>
<path d="M383.2 407.1l4.7-1.3 5.7-7.3-4.6 3.4z" fill="#e35933"/>
<path d="M501.1 414.6l4.7 2.2 5.6-5.6-4.7-1.3z" fill="#dd513a"/>
<path d="M535.1 431.9l4.8 2.7 5.5-8.9-4.8-3.6z" fill="#d24644"/>
<path d="M574.7 422.4l4.7 9.6 5.5-13-4.7-4.9z" fill="#d74b3f"/>
<path d="M398.2 395.4l4.7-0.6 5.7-6.9-4.7 0z" fill="#ea632a"/>
<path d="M614.2 417.5l4.8 1.3 5.4-7.6-4.7-1.4z" fill="#dd513a"/>
<path d="M554.9 426.1l4.7 7 5.6-12.7-4.8-4z" fill="#d54a41"/>
<path d="M579.4 432l4.8 3.8 5.5-14.3-4.8-2.5z" fill="#d34743"/>
<path d="M634 412.8l4.8 0.9 5.4-5.5-4.8-0.9z" fill="#df5337"/>
<path d="M471.8 395.7l4.7 8.8 5.7-1.1-4.8-4.9z" fill="#e55c30"/>
<path d="M594.5 421.8l4.8-2.3 5.4-6.6-4.8-0.3zM505.8 416.8l4.8 3.8 5.5-5.9-4.7-3.5z" fill="#db503b"/>
<path d="M443.2 349.5l4.7 0.3 5.9 23-4.7-2.5z" fill="#f68013"/>
<path d="M476.5 404.5l4.8 4.4 5.6-2.4-4.7-3.1z" fill="#e25734"/>
<path d="M467 385.1l4.8 10.6 5.6 2.8-4.7-7.7z" fill="#ea632a"/>
<path d="M368.1 409.8l4.7 1.1 5.8-4-4.7-1z" fill="#e15635"/>
<path d="M457.5 369.4l4.7 7.3 5.8 11.1-4.8-5.6z" fill="#ef6e21"/>
<path d="M559.6 433.1l4.8 0.8 5.5-10.9-4.7-2.6z" fill="#d34743"/>
<path d="M539.9 434.6l4.7 1.7 5.5-9.9-4.7-0.7z" fill="#d24644"/>
<path d="M462.2 376.7l4.8 8.4 5.7 5.7-4.7-3z" fill="#ed6925"/>
<path d="M423.5 362.1l4.6-12.9 5.8 14.4-4.6 8.9z" fill="#f68013"/>
<path d="M452.7 357.2l4.8 12.2 5.7 12.8-4.7-5.2z" fill="#f3761b"/>
<path d="M447.9 349.8l4.8 7.4 5.8 19.8-4.7-4.2z" fill="#f57d15"/>
<path d="M481.3 408.9l4.7 3.8 5.6-3-4.7-3.2z" fill="#e05536"/>
<path d="M619 418.8l4.8 1.6 5.4-8.5-4.8-0.7z" fill="#dd513a"/>
<path d="M510.6 420.6l4.7 1.7 5.6-6.4-4.8-1.2z" fill="#da4e3c"/>
<path d="M584.2 435.8l4.8-3.2 5.5-10.8-4.8-0.3z" fill="#d44842"/>
<path d="M638.8 413.7l4.8 0.2 5.4-5-4.8-0.7z" fill="#df5337"/>
<path d="M387.9 405.8l4.7-1 5.6-9.4-4.6 3.1z" fill="#e55c30"/>
<path d="M599.3 419.5l4.7 2.8 5.5-7.5-4.8-1.9z" fill="#db503b"/>
<path d="M486 412.7l4.8 4.1 5.6-3.7-4.8-3.4z" fill="#de5238"/>
<path d="M372.8 410.9l4.7 0.7 5.7-4.5-4.6-0.2z" fill="#e15635"/>
<path d="M564.4 433.9l4.8-0.6 5.5-10.9-4.8 0.6z" fill="#d44842"/>
<path d="M573.9 444.7l4.8 6.5 5.5-15.4-4.8-3.8z" fill="#ca404a"/>
<path d="M515.3 422.3l4.8 4.4 5.5-6.4-4.7-4.4z" fill="#d94d3d"/>
<path d="M520.1 426.7l4.7 9.8 5.6-9.4-4.8-6.8z" fill="#d44842"/>
<path d="M524.8 436.5l4.8 4.2 5.5-8.8-4.7-4.8z" fill="#cf4446"/>
<path d="M604 422.3l4.8 6.8 5.4-11.6-4.7-2.7z" fill="#d94d3d"/>
<path d="M544.6 436.3l4.8-3.1 5.5-7.1-4.8 0.3z" fill="#d34743"/>
<path d="M402.9 394.8l4.7-4.3 5.6-11-4.6 8.4z" fill="#ec6726"/>
<path d="M569.2 433.3l4.7 11.4 5.5-12.7-4.7-9.6z" fill="#d04545"/>
<path d="M353 411.5l4.6 1.1 5.8-3.8-4.6-1.1z" fill="#e05536"/>
<path d="M623.8 420.4l4.8-0.1 5.4-7.5-4.8-0.9z" fill="#dd513a"/>
<path d="M413.2 379.5l4.6-11.9 5.7-5.5-4.6 11.1z" fill="#f37819"/>
<path d="M490.8 416.8l4.7 1.9 5.6-4.1-4.7-1.5z" fill="#dd513a"/>
<path d="M529.6 440.7l4.7 6.1 5.6-12.2-4.8-2.7z" fill="#cc4248"/>
<path d="M549.4 433.2l4.7 13.2 5.5-13.3-4.7-7z" fill="#cf4446"/>
<path d="M643.6 413.9l4.9 0.6 5.3-4.6-4.8-1z" fill="#e05536"/>
<path d="M608.8 429.1l4.8 1 5.4-11.3-4.8-1.3z" fill="#d84c3e"/>
<path d="M554.1 446.4l4.8-0.1 5.5-12.4-4.8-0.8z" fill="#cc4248"/>
<path d="M589 432.6l4.8 0.6 5.5-13.7-4.8 2.3z" fill="#d54a41"/>
<path d="M392.6 404.8l4.6 0.9 5.7-10.9-4.7 0.6z" fill="#e75e2e"/>
<path d="M578.7 451.2l4.8-3.8 5.5-14.8-4.8 3.2z" fill="#cb4149"/>
<path d="M377.5 411.6l4.6 0.3 5.8-6.1-4.7 1.3z" fill="#e25734"/>
<path d="M534.3 446.8l4.8-0.6 5.5-9.9-4.7-1.7z" fill="#cb4149"/>
<path d="M495.5 418.7l4.8 3.2 5.5-5.1-4.7-2.2z" fill="#db503b"/>
<path d="M357.6 412.6l4.7 1.1 5.8-3.9-4.7-1z" fill="#e05536"/>
<path d="M568.4 462.7l4.8 2.9 5.5-14.4-4.8-6.5z" fill="#c03a51"/>
<path d="M628.6 420.3l4.8 0.4 5.4-7-4.8-0.9z" fill="#dd513a"/>
<path d="M648.5 414.5l4.8 1.4 5.3-4.8-4.8-1.2z" fill="#e05536"/>
<path d="M593.8 433.2l4.7 4.8 5.5-15.7-4.7-2.8z" fill="#d54a41"/>
<path d="M563.7 449.5l4.7 13.2 5.5-18-4.7-11.4z" fill="#c73e4c"/>
<path d="M613.6 430.1l4.8 0 5.4-9.7-4.8-1.6z" fill="#d84c3e"/>
<path d="M558.9 446.3l4.8 3.2 5.5-16.2-4.8 0.6z" fill="#cc4248"/>
<path d="M500.3 421.9l4.7 3.4 5.6-4.7-4.8-3.8z" fill="#da4e3c"/>
<path d="M598.5 438l4.8 4.2 5.5-13.1-4.8-6.8z" fill="#d24644"/>
<path d="M362.3 413.7l4.7 1.1 5.8-3.9-4.7-1.1z" fill="#e05536"/>
<path d="M428.1 349.2l4.6-14.9 5.9 20.8-4.7 8.5z" fill="#f98e09"/>
<path d="M548.6 462l4.8 1.2 5.5-16.9-4.8 0.1z" fill="#c13a50"/>
<path d="M382.1 411.9l4.7 0.5 5.8-7.6-4.7 1z" fill="#e35933"/>
<path d="M573.2 465.6l4.8-0.6 5.5-17.6-4.8 3.8z" fill="#c03a51"/>
<path d="M397.2 405.7l4.7-1.7 5.7-13.5-4.7 4.3z" fill="#e8602d"/>
<path d="M583.5 447.4l4.8 1.2 5.5-15.4-4.8-0.6z" fill="#cc4248"/>
<path d="M470.9 406.9l4.7 4.1 5.7-2.1-4.8-4.4z" fill="#e35933"/>
<path d="M505 425.3l4.8 2.5 5.5-5.5-4.7-1.7z" fill="#d94d3d"/>
<path d="M539.1 446.2l4.8-1.9 5.5-11.1-4.8 3.1z" fill="#ce4347"/>
<path d="M543.9 444.3l4.7 17.7 5.5-15.6-4.7-13.2z" fill="#c83f4b"/>
<path d="M653.3 415.9l4.8 0.9 5.3-4.7-4.8-1z" fill="#e05536"/>
<path d="M562.9 475.9l4.7 8.9 5.6-19.2-4.8-2.9z" fill="#b3325a"/>
<path d="M466.1 395.9l4.8 11 5.6-2.4-4.7-8.8z" fill="#e75e2e"/>
<path d="M633.4 420.7l4.9-0.9 5.3-5.9-4.8-0.2z" fill="#de5238"/>
<path d="M603.3 442.2l4.8 2.2 5.5-14.3-4.8-1z" fill="#d04545"/>
<path d="M407.6 390.5l4.6-5 5.6-17.9-4.6 11.9z" fill="#f1711f"/>
<path d="M519.3 442.4l4.7 5.3 5.6-7-4.8-4.2z" fill="#cc4248"/>
<path d="M618.4 430.1l4.8-0.1 5.4-9.7-4.8 0.1z" fill="#d84c3e"/>
<path d="M475.6 411l4.8 4.3 5.6-2.6-4.7-3.8z" fill="#e15635"/>
<path d="M524 447.7l4.8 6.8 5.5-7.7-4.7-6.1z" fill="#c83f4b"/>
<path d="M514.5 431.2l4.8 11.2 5.5-5.9-4.7-9.8z" fill="#d24644"/>
<path d="M558.1 465.5l4.8 10.4 5.5-13.2-4.7-13.2z" fill="#ba3655"/>
<path d="M509.8 427.8l4.7 3.4 5.6-4.5-4.8-4.4z" fill="#d84c3e"/>
<path d="M553.4 463.2l4.7 2.3 5.6-16-4.8-3.2z" fill="#c13a50"/>
<path d="M567.6 484.8l4.8 2 5.6-21.8-4.8 0.6z" fill="#b1325a"/>
<path d="M588.3 448.6l4.7 3.3 5.5-13.9-4.7-4.8z" fill="#cb4149"/>
<path d="M367 414.8l4.7 1.1 5.8-4.3-4.7-0.7z" fill="#e15635"/>
<path d="M480.4 415.3l4.8 4.6 5.6-3.1-4.8-4.1z" fill="#df5337"/>
<path d="M386.8 412.4l4.7 0.8 5.7-7.5-4.6-0.9z" fill="#e35933"/>
<path d="M461.3 380.3l4.8 15.6 5.7-0.2-4.8-10.6z" fill="#ee6a24"/>
<path d="M593 451.9l4.8 6.1 5.5-15.8-4.8-4.2z" fill="#c83f4b"/>
<path d="M608.1 444.4l4.8 1.6 5.5-15.9-4.8 0z" fill="#d04545"/>
<path d="M578 465l4.7 2.1 5.6-18.5-4.8-1.2z" fill="#c03a51"/>
<path d="M658.1 416.8l4.8 0.5 5.4-4.3-4.9-0.9z" fill="#e05536"/>
<path d="M417.8 367.6l4.6-9.8 5.7-8.6-4.6 12.9z" fill="#f8870e"/>
<path d="M528.8 454.5l4.8-1.6 5.5-6.7-4.8 0.6z" fill="#c73e4c"/>
<path d="M347.1 415.7l4.7 1.1 5.8-4.2-4.6-1.1z" fill="#e05536"/>
<path d="M638.3 419.8l4.8 0.5 5.4-5.8-4.9-0.6z" fill="#df5337"/>
<path d="M557.4 492.9l4.7 5.3 5.5-13.4-4.7-8.9z" fill="#a62d60"/>
<path d="M485.2 419.9l4.7 2.6 5.6-3.8-4.7-1.9z" fill="#dd513a"/>
<path d="M597.8 458l4.8 3.8 5.5-17.4-4.8-2.2z" fill="#c63d4d"/>
<path d="M623.2 430l4.8 0.7 5.4-10-4.8-0.4z" fill="#d94d3d"/>
<path d="M401.9 404l4.7-0.8 5.6-17.7-4.6 5z" fill="#eb6429"/>
<path d="M562.1 498.2l4.8 4.3 5.5-15.7-4.8-2z" fill="#a22b62"/>
<path d="M582.7 467.1l4.8 5.3 5.5-20.5-4.7-3.3z" fill="#bf3952"/>
<path d="M543.1 469.8l4.7-0.1 5.6-6.5-4.8-1.2z" fill="#ba3655"/>
<path d="M371.7 415.9l4.7 0.9 5.7-4.9-4.6-0.3z" fill="#e15635"/>
<path d="M572.4 486.8l4.8-2.2 5.5-17.5-4.7-2.1z" fill="#b1325a"/>
<path d="M456.5 369.2l4.8 11.1 5.7 4.8-4.8-8.4z" fill="#f3761b"/>
<path d="M552.6 478l4.8 14.9 5.5-17-4.8-10.4z" fill="#b0315b"/>
<path d="M391.5 413.2l4.7 0.2 5.7-9.4-4.7 1.7z" fill="#e45a31"/>
<path d="M662.9 417.3l4.8 1 5.4-4.3-4.8-1z" fill="#e05536"/>
<path d="M538.3 454.6l4.8 15.2 5.5-7.8-4.7-17.7z" fill="#c13a50"/>
<path d="M351.8 416.8l4.7 1.1 5.8-4.2-4.7-1.1z" fill="#e05536"/>
<path d="M489.9 422.5l4.7 1.8 5.7-2.4-4.8-3.2z" fill="#db503b"/>
<path d="M587.5 472.4l4.8 1.5 5.5-15.9-4.8-6.1z" fill="#bc3754"/>
<path d="M643.1 420.3l4.8 1.1 5.4-5.5-4.8-1.4z" fill="#df5337"/>
<path d="M612.9 446l4.8-2.1 5.5-13.9-4.8 0.1z" fill="#d24644"/>
<path d="M602.6 461.8l4.8-0.8 5.5-15-4.8-1.6z" fill="#c43c4e"/>
<path d="M451.7 358.1l4.8 11.1 5.7 7.5-4.7-7.3z" fill="#f68013"/>
<path d="M547.8 469.7l4.8 8.3 5.5-12.5-4.7-2.3z" fill="#b73557"/>
<path d="M533.6 452.9l4.7 1.7 5.6-10.3-4.8 1.9z" fill="#c83f4b"/>
<path d="M566.9 502.5l4.8 2.8 5.5-20.7-4.8 2.2z" fill="#a22b62"/>
<path d="M432.7 334.3l4.6-5.5 5.9 20.7-4.6 5.6z" fill="#fb9b06"/>
<path d="M592.3 473.9l4.7 7.2 5.6-19.3-4.8-3.8z" fill="#b93556"/>
<path d="M577.2 484.6l4.8 3.4 5.5-15.6-4.8-5.3z" fill="#b0315b"/>
<path d="M494.6 424.3l4.8 5.2 5.6-4.2-4.7-3.4zM628 430.7l4.8-3.2 5.5-7.7-4.9 0.9z" fill="#da4e3c"/>
<path d="M376.4 416.8l4.7 0.8 5.7-5.2-4.7-0.5z" fill="#e15635"/>
<path d="M412.2 385.5l4.6-7.8 5.6-19.9-4.6 9.8z" fill="#f57d15"/>
<path d="M582 488l4.7 7.7 5.6-21.8-4.8-1.5z" fill="#ad305d"/>
<path d="M667.7 418.3l4.9 0.8 5.3-4.1-4.8-1zM356.5 417.9l4.7 1.2 5.8-4.3-4.7-1.1z" fill="#e05536"/>
<path d="M338.2 542.2l4.9 13 5.7-14.1-4.8-7.7z" fill="#751b6e"/>
<path d="M647.9 421.4l4.8 1 5.4-5.6-4.8-0.9z" fill="#df5337"/>
<path d="M499.4 429.5l4.8 1.4 5.6-3.1-4.8-2.5z" fill="#d84c3e"/>
<path d="M396.2 413.4l4.7-0.1 5.7-10.1-4.7 0.8z" fill="#e55c30"/>
<path d="M343.1 555.2l4.7 2.8 5.6-19.8-4.6 2.9z" fill="#71196e"/>
<path d="M597 481.1l4.9-4.7 5.5-15.4-4.8 0.8z" fill="#b93556"/>
<path d="M586.7 495.7l4.8-1.7 5.5-12.9-4.7-7.2z" fill="#a92e5e"/>
<path d="M406.6 403.2l4.7-3.7 5.5-21.8-4.6 7.8z" fill="#ee6a24"/>
<path d="M446.8 337.6l4.9 20.5 5.8 11.3-4.8-12.2z" fill="#f98e09"/>
<path d="M571.7 505.3l4.8-2.1 5.5-15.2-4.8-3.4z" fill="#a22b62"/>
<path d="M344 533.4l4.8 7.7 5.4-30.8-5-23.6z" fill="#8d2369"/>
<path d="M513.7 444.7l4.8 5.4 5.5-2.4-4.7-5.3z" fill="#cb4149"/>
<path d="M465.2 409l4.8 5.3 5.6-3.3-4.7-4.1z" fill="#e45a31"/>
<path d="M607.4 461l4.8-1.2 5.5-15.9-4.8 2.1z" fill="#c73e4c"/>
<path d="M617.7 443.9l4.8-2.8 5.5-10.4-4.8-0.7z" fill="#d34743"/>
<path d="M518.5 450.1l4.7 7.1 5.6-2.7-4.8-6.8z" fill="#c73e4c"/>
<path d="M551.8 495.7l4.8 7.4 5.5-4.9-4.7-5.3z" fill="#a02a63"/>
<path d="M437.3 328.8l4.8 7.4 5.8 13.6-4.7-0.3z" fill="#fb9d07"/>
<path d="M348.8 541.1l4.6-2.9 5.3-36.6-4.5 8.7z" fill="#88226a"/>
<path d="M381.1 417.6l4.7 1 5.7-5.4-4.7-0.8z" fill="#e15635"/>
<path d="M460.4 398.1l4.8 10.9 5.7-2.1-4.8-11z" fill="#e9612b"/>
<path d="M508.9 434.4l4.8 10.3 5.6-2.3-4.8-11.2z" fill="#d24644"/>
<path d="M504.2 430.9l4.7 3.5 5.6-3.2-4.7-3.4z" fill="#d74b3f"/>
<path d="M556.6 503.1l4.8 3.5 5.5-4.1-4.8-4.3z" fill="#9b2964"/>
<path d="M470 414.3l4.8 3.1 5.6-2.1-4.8-4.3z" fill="#e25734"/>
<path d="M523.2 457.2l4.8 5.1 5.6-9.4-4.8 1.6z" fill="#c43c4e"/>
<path d="M361.2 419.1l4.7 1.4 5.8-4.6-4.7-1.1zM672.6 419.1l4.8 0.9 5.3-4-4.8-1z" fill="#e05536"/>
<path d="M576.5 503.2l4.7 4.8 5.5-12.3-4.7-7.7z" fill="#9f2a63"/>
<path d="M632.8 427.5l4.9-0.5 5.4-6.7-4.8-0.5z" fill="#dd513a"/>
<path d="M547.1 487.9l4.7 7.8 5.6-2.8-4.8-14.9z" fill="#a82e5f"/>
<path d="M442.1 336.2l4.7 1.4 5.9 19.6-4.8-7.4z" fill="#fb9906"/>
<path d="M652.7 422.4l4.9 0 5.3-5.1-4.8-0.5zM341.3 421.7l4.7 1.4 5.8-6.3-4.7-1.1z" fill="#df5337"/>
<path d="M333.4 530.9l4.8 11.3 5.8-8.8-5-20.5z" fill="#84206b"/>
<path d="M591.5 494l4.8 1.7 5.6-19.3-4.9 4.7z" fill="#ab2f5e"/>
<path d="M537.5 476.7l4.8 2 5.5-9-4.7 0.1z" fill="#b63458"/>
<path d="M474.8 417.4l4.7 3.3 5.7-0.8-4.8-4.6z" fill="#e05536"/>
<path d="M347.8 558l4.6-4.6 5.7-12.6-4.7-2.6z" fill="#741a6e"/>
<path d="M561.4 506.6l4.8 0.4 5.5-1.7-4.8-2.8z" fill="#9a2865"/>
<path d="M400.9 413.3l4.7 0.2 5.7-14-4.7 3.7z" fill="#e75e2e"/>
<path d="M422.4 357.8l4.6-16.9 5.7-6.6-4.6 14.9z" fill="#fb9906"/>
<path d="M532.8 462.7l4.7 14 5.6-6.9-4.8-15.2z" fill="#bd3853"/>
<path d="M542.3 478.7l4.8 9.2 5.5-9.9-4.8-8.3z" fill="#b3325a"/>
<path d="M385.8 418.6l4.7 0.7 5.7-5.9-4.7-0.2z" fill="#e25734"/>
<path d="M601.9 476.4l4.8-0.6 5.5-16-4.8 1.2z" fill="#bc3754"/>
<path d="M528 462.3l4.8 0.4 5.5-8.1-4.7-1.7z" fill="#c33b4f"/>
<path d="M365.9 420.5l4.7 1.5 5.8-5.2-4.7-0.9z" fill="#e05536"/>
<path d="M581.2 508l4.8-4.7 5.5-9.3-4.8 1.7z" fill="#9f2a63"/>
<path d="M677.4 420l4.9 1.2 5.3-4-4.9-1.2z" fill="#e05536"/>
<path d="M479.5 420.7l4.8 3.1 5.6-1.3-4.7-2.6z" fill="#df5337"/>
<path d="M455.6 381.7l4.8 16.4 5.7-2.2-4.8-15.6z" fill="#ef6e21"/>
<path d="M622.5 441.1l4.9-3.5 5.4-10.1-4.8 3.2z" fill="#d54a41"/>
<path d="M612.2 459.8l4.8-3.2 5.5-15.5-4.8 2.8z" fill="#ca404a"/>
<path d="M637.7 427l4.8 1.2 5.4-6.8-4.8-1.1z" fill="#dd513a"/>
<path d="M346 423.1l4.7 0.3 5.8-5.5-4.7-1.1z" fill="#df5337"/>
<path d="M657.6 422.4l4.8 0.4 5.3-4.5-4.8-1z" fill="#e05536"/>
<path d="M339 512.9l5 20.5 5.2-46.7-5-17.3z" fill="#9f2a63"/>
<path d="M566.2 507l4.8 3.4 5.5-7.2-4.8 2.1z" fill="#9a2865"/>
<path d="M411.3 399.5l4.6-4.2 5.5-26.7-4.6 9.1z" fill="#f1731d"/>
<path d="M328.5 521.2l4.9 9.7 5.6-18-4.9-16.2z" fill="#922568"/>
<path d="M484.3 423.8l4.7 3 5.6-2.5-4.7-1.8z" fill="#dd513a"/>
<path d="M337.2 558.7l4.6-0.8 6 0.1-4.7-2.8z" fill="#6c186e"/>
<path d="M596.3 495.7l4.9-1.8 5.5-18.1-4.8 0.6z" fill="#ad305d"/>
<path d="M332.3 545.1l4.9 13.6 5.9-3.5-4.9-13z" fill="#721a6e"/>
<path d="M353.4 538.2l4.7 2.6 5.1-50.5-4.5 11.3z" fill="#902568"/>
<path d="M352.4 553.4l4.7 2.2 5.6-17.5-4.6 2.7z" fill="#751b6e"/>
<path d="M370.6 422l4.7 0.9 5.8-5.3-4.7-0.8z" fill="#e05536"/>
<path d="M390.5 419.3l4.7 1 5.7-7-4.7 0.1z" fill="#e25734"/>
<path d="M416.8 377.7l4.6-9.1 5.6-27.7-4.6 16.9z" fill="#f98b0b"/>
<path d="M682.3 421.2l4.8 1.1 5.3-4.1-4.8-1z" fill="#e05536"/>
<path d="M642.5 428.2l4.8 0.7 5.4-6.5-4.8-1z" fill="#dd513a"/>
<path d="M450.8 373.3l4.8 8.4 5.7-1.4-4.8-11.1z" fill="#f57d15"/>
<path d="M405.6 413.5l4.7-1.2 5.6-17-4.6 4.2z" fill="#e9612b"/>
<path d="M350.7 423.4l4.7 1.8 5.8-6.1-4.7-1.2z" fill="#df5337"/>
<path d="M586 503.3l4.8 2.4 5.5-10-4.8-1.7z" fill="#a02a63"/>
<path d="M489 426.8l4.8 3.2 5.6-0.5-4.8-5.2z" fill="#db503b"/>
<path d="M662.4 422.8l4.8 0.6 5.4-4.3-4.9-0.8z" fill="#e05536"/>
<path d="M571 510.4l4.7 0.9 5.5-3.3-4.7-4.8z" fill="#9a2865"/>
<path d="M606.7 475.8l4.8-4.6 5.5-14.6-4.8 3.2z" fill="#bf3952"/>
<path d="M323.6 505.9l4.9 15.3 5.6-24.5-4.8-4.1z" fill="#9d2964"/>
<path d="M349.2 486.7l5 23.6 5.2-48.3-4.9-10.8z" fill="#b43359"/>
<path d="M627.4 437.6l4.8-2 5.5-8.6-4.9 0.5z" fill="#d94d3d"/>
<path d="M335.6 433.9l4.6 0.2 5.8-11-4.7-1.4z" fill="#db503b"/>
<path d="M446 363.5l4.8 9.8 5.7-4.1-4.8-11.1z" fill="#f8870e"/>
<path d="M354.2 510.3l4.5-8.7 5.3-42.7-4.6 3.1z" fill="#b0315b"/>
<path d="M324.5 480.2l4.8 12.4 5.4-31.5-4.6-1.7z" fill="#b93556"/>
<path d="M493.8 430l4.8 2.7 5.6-1.8-4.8-1.4z" fill="#da4e3c"/>
<path d="M375.3 422.9l4.7 0.6 5.8-4.9-4.7-1zM687.1 422.3l4.8 0.9 5.3-3.9-4.8-1.1z" fill="#e05536"/>
<path d="M327.4 532.7l4.9 12.4 5.9-2.9-4.8-11.3z" fill="#7f1e6c"/>
<path d="M617 456.6l4.9-5.7 5.5-13.3-4.9 3.5z" fill="#cf4446"/>
<path d="M355.4 425.2l4.7 4.1 5.8-8.8-4.7-1.4z" fill="#df5337"/>
<path d="M395.2 420.3l4.7 0.7 5.7-7.5-4.7-0.2z" fill="#e35933"/>
<path d="M318.9 501.5l4.7 4.4 5.7-13.3-4.8-12.4z" fill="#a62d60"/>
<path d="M334.1 496.7l4.9 16.2 5.2-43.5-4.8-7.4z" fill="#ae305c"/>
<path d="M341.8 557.9l4.7-0.3 5.9-4.2-4.6 4.6z" fill="#6d186e"/>
<path d="M508.1 445.3l4.8 10.8 5.6-6-4.8-5.4z" fill="#cc4248"/>
<path d="M459.6 412.7l4.7 3.5 5.7-1.9-4.8-5.3z" fill="#e55c30"/>
<path d="M329.3 492.6l4.8 4.1 5.3-34.7-4.7-0.9z" fill="#b43359"/>
<path d="M512.9 456.1l4.8 1 5.5 0.1-4.7-7.1z" fill="#c83f4b"/>
<path d="M454.8 404.4l4.8 8.3 5.6-3.7-4.8-10.9z" fill="#e9612b"/>
<path d="M647.3 428.9l4.9-0.5 5.4-6-4.9 0z" fill="#de5238"/>
<path d="M357.1 555.6l4.7 0 5.5-23.5-4.6 6z" fill="#781c6d"/>
<path d="M667.2 423.4l4.9 0.8 5.3-4.2-4.8-0.9z" fill="#e05536"/>
<path d="M330.1 459.4l4.6 1.7 5.5-27-4.6-0.2z" fill="#ce4347"/>
<path d="M503.3 437.9l4.8 7.4 5.6-0.6-4.8-10.3z" fill="#d34743"/>
<path d="M498.6 432.7l4.7 5.2 5.6-3.5-4.7-3.5z" fill="#d84c3e"/>
<path d="M546.3 493.8l4.8 9.9 5.5-0.6-4.8-7.4z" fill="#a32c61"/>
<path d="M358.1 540.8l4.6-2.7 5.2-47.9-4.7 0.1z" fill="#952667"/>
<path d="M590.8 505.7l4.9-6.1 5.5-5.7-4.9 1.8z" fill="#a32c61"/>
<path d="M601.2 493.9l4.8-6.5 5.5-16.2-4.8 4.6z" fill="#b1325a"/>
<path d="M427 340.9l4.7-3.6 5.6-8.5-4.6 5.5z" fill="#fca80d"/>
<path d="M360.1 429.3l4.8 3.9 5.7-11.2-4.7-1.5z" fill="#de5238"/>
<path d="M464.3 416.2l4.8 1.8 5.7-0.6-4.8-3.1z" fill="#e35933"/>
<path d="M551.1 503.7l4.8 0.9 5.5 2-4.8-3.5z" fill="#9f2a63"/>
<path d="M575.7 511.3l4.9-3.9 5.4-4.1-4.8 4.7z" fill="#9b2964"/>
<path d="M340.2 434.1l4.7 0.2 5.8-10.9-4.7-0.3z" fill="#db503b"/>
<path d="M632.2 435.6l4.8 2.2 5.5-9.6-4.8-1.2z" fill="#d94d3d"/>
<path d="M517.7 457.1l4.7-1.1 5.6 6.3-4.8-5.1z" fill="#c63d4d"/>
<path d="M410.3 412.3l4.7-1.2 5.6-21.4-4.7 5.6z" fill="#eb6628"/>
<path d="M322.5 518.8l4.9 13.9 6-1.8-4.9-9.7z" fill="#8a226a"/>
<path d="M691.9 423.2l4.9 1.1 5.3-3.9-4.9-1.1z" fill="#e05536"/>
<path d="M532 476.8l4.8-0.8 5.5 2.7-4.8-2z" fill="#b73557"/>
<path d="M380 423.5l4.7 0.9 5.8-5.1-4.7-0.7z" fill="#e15635"/>
<path d="M415.9 395.3l4.7-5.6 5.5-28-4.7 6.9z" fill="#f57b17"/>
<path d="M450 393.9l4.8 10.5 5.6-6.3-4.8-16.4z" fill="#ef6c23"/>
<path d="M541.5 478.5l4.8 15.3 5.5 1.9-4.7-7.8z" fill="#ad305d"/>
<path d="M527.2 460.8l4.8 16 5.5-0.1-4.7-14z" fill="#bd3853"/>
<path d="M399.9 421l4.7-0.2 5.7-8.5-4.7 1.2z" fill="#e35933"/>
<path d="M441.2 347.7l4.8 15.8 5.7-5.4-4.9-20.5z" fill="#fb9706"/>
<path d="M344.2 469.4l5 17.3 5.3-35.5-4.8-11.5z" fill="#c43c4e"/>
<path d="M672.1 424.2l4.8 1.4 5.4-4.4-4.9-1.2z" fill="#e05536"/>
<path d="M469.1 418l4.7 1 5.7 1.7-4.7-3.3z" fill="#e25734"/>
<path d="M652.2 428.4l4.8-0.6 5.4-5-4.8-0.4z" fill="#df5337"/>
<path d="M346.5 557.6l4.7-2.4 5.9 0.4-4.7-2.2z" fill="#71196e"/>
<path d="M334.7 461.1l4.7 0.9 5.5-27.7-4.7-0.2z" fill="#cf4446"/>
<path d="M611.5 471.2l4.9-6.1 5.5-14.2-4.9 5.7z" fill="#c43c4e"/>
<path d="M536.8 476l4.7 2.5 5.6 9.4-4.8-9.2z" fill="#b43359"/>
<path d="M364.9 433.2l4.6-0.1 5.8-10.2-4.7-0.9z" fill="#dd513a"/>
<path d="M522.4 456l4.8 4.8 5.6 1.9-4.8-0.4z" fill="#c63d4d"/>
<path d="M354.5 451.2l4.9 10.8 5.5-28.8-4.8-3.9z" fill="#d24644"/>
<path d="M555.9 504.6l4.8 0.9 5.5 1.5-4.8-0.4z" fill="#9d2964"/>
<path d="M344.9 434.3l4.8 5.4 5.7-14.5-4.7-1.8z" fill="#db503b"/>
<path d="M421.4 368.6l4.7-6.9 5.6-24.4-4.7 3.6z" fill="#fb9706"/>
<path d="M349.7 439.7l4.8 11.5 5.6-21.9-4.7-4.1z" fill="#d84c3e"/>
<path d="M637 437.8l4.9-0.5 5.4-8.4-4.8-0.7z" fill="#da4e3c"/>
<path d="M431.7 337.3l4.7 0.7 5.7-1.8-4.8-7.4z" fill="#fcaa0f"/>
<path d="M317.7 510l4.8 8.8 6 2.4-4.9-15.3z" fill="#972766"/>
<path d="M696.8 424.3l4.9 1.1 5.2-3.9-4.8-1.1z" fill="#e05536"/>
<path d="M445.2 385.1l4.8 8.8 5.6-12.2-4.8-8.4z" fill="#f37819"/>
<path d="M621.9 450.9l4.9-6.8 5.4-8.5-4.8 2z" fill="#d34743"/>
<path d="M384.7 424.4l4.7 0.8 5.8-4.9-4.7-1z" fill="#e15635"/>
<path d="M339.4 462l4.8 7.4 5.5-29.7-4.8-5.4z" fill="#cc4248"/>
<path d="M473.8 419l4.8 3.3 5.7 1.5-4.8-3.1z" fill="#e15635"/>
<path d="M436.4 338l4.8 9.7 5.6-10.1-4.7-1.4z" fill="#fca50a"/>
<path d="M361.8 555.6l4.6-4.5 5.6-21.9-4.7 2.9z" fill="#7d1e6d"/>
<path d="M580.6 507.4l4.8 0.5 5.4-2.2-4.8-2.4z" fill="#9f2a63"/>
<path d="M359.4 462l4.6-3.1 5.5-25.8-4.6 0.1z" fill="#d04545"/>
<path d="M415 411.1l4.7 0 5.6-19.2-4.7-2.2z" fill="#ec6726"/>
<path d="M362.7 538.1l4.6-6 5.3-45.5-4.7 3.6z" fill="#9a2865"/>
<path d="M358.7 501.6l4.5-11.3 5.4-37.6-4.6 6.2z" fill="#b93556"/>
<path d="M676.9 425.6l4.9 0.9 5.3-4.2-4.8-1.1z" fill="#e05536"/>
<path d="M440.4 377.3l4.8 7.8 5.6-11.8-4.8-9.8z" fill="#f68013"/>
<path d="M312.9 501.8l4.8 8.2 5.9-4.1-4.7-4.4z" fill="#a02a63"/>
<path d="M560.7 505.5l4.8 1.6 5.5 3.3-4.8-3.4z" fill="#9d2964"/>
<path d="M404.6 420.8l4.7-0.8 5.7-8.9-4.7 1.2z" fill="#e55c30"/>
<path d="M420.6 389.7l4.7 2.2 5.5-29.3-4.7-0.9z" fill="#f68013"/>
<path d="M657 427.8l4.9 0.2 5.3-4.6-4.8-0.6z" fill="#df5337"/>
<path d="M331.3 559.7l4.6 0 5.9-1.8-4.6 0.8z" fill="#6f196e"/>
<path d="M326.4 546.2l4.9 13.5 5.9-1-4.9-13.6z" fill="#741a6e"/>
<path d="M351.2 555.2l4.6-0.1 6 0.5-4.7 0z" fill="#721a6e"/>
<path d="M369.5 433.1l4.7-1.4 5.8-8.2-4.7-0.6z" fill="#de5238"/>
<path d="M595.7 499.6l4.8-7.7 5.5-4.5-4.8 6.5z" fill="#ab2f5e"/>
<path d="M478.6 422.3l4.8 2.8 5.6 1.7-4.7-3zM701.7 425.4l4.8 1.1 5.3-3.9-4.9-1.1z" fill="#e05536"/>
<path d="M606 487.4l4.9-8.8 5.5-13.5-4.9 6.1z" fill="#ba3655"/>
<path d="M389.4 425.2l4.7 0.8 5.8-5-4.7-0.7z" fill="#e15635"/>
<path d="M641.9 437.3l4.9-2.5 5.4-6.4-4.9 0.5z" fill="#db503b"/>
<path d="M435.6 365.8l4.8 11.5 5.6-13.8-4.8-15.8z" fill="#f98c0a"/>
<path d="M426.1 361.7l4.7 0.9 5.6-24.6-4.7-0.7z" fill="#fb9b06"/>
<path d="M681.8 426.5l4.8 0.8 5.3-4.1-4.8-0.9z" fill="#e05536"/>
<path d="M626.8 444.1l4.8 2.6 5.4-8.9-4.8-2.2z" fill="#d54a41"/>
<path d="M419.7 411.1l4.7-0.4 5.6-18.5-4.7-0.3z" fill="#ed6925"/>
<path d="M483.4 425.1l4.7 2.8 5.7 2.1-4.8-3.2z" fill="#df5337"/>
<path d="M434.8 400l4.8 3.4 5.6-18.3-4.8-7.8z" fill="#f1711f"/>
<path d="M565.5 507.1l4.8-0.4 5.4 4.6-4.7-0.9z" fill="#9d2964"/>
<path d="M425.3 391.9l4.7 0.3 5.6-26.4-4.8-3.2z" fill="#f67e14"/>
<path d="M449.1 410.2l4.8 5.3 5.7-2.8-4.8-8.3z" fill="#e8602d"/>
<path d="M585.4 507.9l4.8-0.5 5.5-7.8-4.9 6.1z" fill="#a02a63"/>
<path d="M430 392.2l4.8 7.8 5.6-22.7-4.8-11.5z" fill="#f47918"/>
<path d="M439.6 403.4l4.7 0.8 5.7-10.3-4.8-8.8z" fill="#ef6e21"/>
<path d="M444.3 404.2l4.8 6 5.7-5.8-4.8-10.5z" fill="#ec6726"/>
<path d="M661.9 428l4.8 0.5 5.4-4.3-4.9-0.8z" fill="#e05536"/>
<path d="M366.4 551.1l4.6-5.6 5.7-13-4.7-3.3z" fill="#82206c"/>
<path d="M430.8 362.6l4.8 3.2 5.6-18.1-4.8-9.7z" fill="#fb9706"/>
<path d="M409.3 420l4.7-0.5 5.7-8.4-4.7 0z" fill="#e65d2f"/>
<path d="M616.4 465.1l4.9-6.7 5.5-14.3-4.9 6.8z" fill="#cb4149"/>
<path d="M321.4 532.3l5 13.9 5.9-1.1-4.9-12.4z" fill="#82206c"/>
<path d="M706.5 426.5l4.9 1.1 5.3-3.9-4.9-1.1z" fill="#e05536"/>
<path d="M453.9 415.5l4.7-0.1 5.7 0.8-4.7-3.5z" fill="#e65d2f"/>
<path d="M374.2 431.7l4.7 0.3 5.8-7.6-4.7-0.9z" fill="#df5337"/>
<path d="M364 458.9l4.6-6.2 5.6-21-4.7 1.4z" fill="#d44842"/>
<path d="M335.9 559.7l4.7-2.4 5.9 0.3-4.7 0.3z" fill="#71196e"/>
<path d="M488.1 427.9l4.8 3.4 5.7 1.4-4.8-2.7z" fill="#dd513a"/>
<path d="M424.4 410.7l4.8 2.4 5.6-13.1-4.8-7.8z" fill="#ec6726"/>
<path d="M394.1 426l4.7 0.2 5.8-5.4-4.7 0.2z" fill="#e15635"/>
<path d="M355.8 555.1l4.7-4 5.9 0-4.6 4.5z" fill="#751b6e"/>
<path d="M631.6 446.7l4.8 1.1 5.5-10.5-4.9 0.5z" fill="#d54a41"/>
<path d="M686.6 427.3l4.9 1 5.3-4-4.9-1.1z" fill="#e05536"/>
<path d="M367.3 532.1l4.7-2.9 5.2-48.6-4.6 6z" fill="#a02a63"/>
<path d="M363.2 490.3l4.7-0.1 5.4-38.5-4.7 1z" fill="#bf3952"/>
<path d="M502.5 441.1l4.8 6.5 5.6 8.5-4.8-10.8z" fill="#d24644"/>
<path d="M646.8 434.8l4.8-0.7 5.4-6.3-4.8 0.6z" fill="#dd513a"/>
<path d="M492.9 431.3l4.8 2.9 5.6 3.7-4.7-5.2z" fill="#db503b"/>
<path d="M507.3 447.6l4.7 4.3 5.7 5.2-4.8-1z" fill="#ce4347"/>
<path d="M666.7 428.5l4.9 1.6 5.3-4.5-4.8-1.4z" fill="#e05536"/>
<path d="M570.3 506.7l4.8 2.3 5.5-1.6-4.9 3.9z" fill="#9f2a63"/>
<path d="M429.2 413.1l4.7-0.5 5.7-9.2-4.8-3.4z" fill="#eb6429"/>
<path d="M497.7 434.2l4.8 6.9 5.6 4.2-4.8-7.4z" fill="#d84c3e"/>
<path d="M711.4 427.6l4.9 1.1 5.2-3.9-4.8-1.1z" fill="#e05536"/>
<path d="M458.6 415.4l4.8-2 5.7 4.6-4.8-1.8z" fill="#e65d2f"/>
<path d="M378.9 432l4.7 0 5.8-6.8-4.7-0.8z" fill="#df5337"/>
<path d="M414 419.5l4.7-0.6 5.7-8.2-4.7 0.4z" fill="#e75e2e"/>
<path d="M600.5 491.9l4.9-4.5 5.5-8.8-4.9 8.8z" fill="#b3325a"/>
<path d="M691.5 428.3l4.9 1.1 5.3-4-4.9-1.1z" fill="#e05536"/>
<path d="M610.9 478.6l4.9-4.2 5.5-16-4.9 6.7z" fill="#c13a50"/>
<path d="M398.8 426.2l4.7-0.4 5.8-5.8-4.7 0.8z" fill="#e25734"/>
<path d="M340.6 557.3l4.7 0.1 5.9-2.2-4.7 2.4z" fill="#741a6e"/>
<path d="M316.4 511.3l5 21 6 0.4-4.9-13.9z" fill="#922568"/>
<path d="M540.8 487.8l4.8 4.7 5.5 11.2-4.8-9.9z" fill="#ad305d"/>
<path d="M368.6 452.7l4.7-1 5.6-19.7-4.7-0.3z" fill="#d74b3f"/>
<path d="M621.3 458.4l4.8-1 5.5-10.7-4.8-2.6z" fill="#cf4446"/>
<path d="M512 451.9l4.8 2.3 5.6 1.8-4.7 1.1z" fill="#cc4248"/>
<path d="M526.4 469.9l4.8 4.7 5.6 1.4-4.8 0.8z" fill="#bd3853"/>
<path d="M372 529.2l4.7 3.3 5.2-48.8-4.7-3.1z" fill="#a22b62"/>
<path d="M671.6 430.1l4.8 0.8 5.4-4.4-4.9-0.9z" fill="#e05536"/>
<path d="M371 545.5l4.6-4.2 5.7-18.6-4.6 9.8z" fill="#87216b"/>
<path d="M636.4 447.8l4.9-4 5.5-9-4.9 2.5z" fill="#d84c3e"/>
<path d="M651.6 434.1l4.9 0.1 5.4-6.2-4.9-0.2z" fill="#de5238"/>
<path d="M575.1 509l4.8 3.9 5.5-5-4.8-0.5z" fill="#9f2a63"/>
<path d="M590.2 507.4l4.9-9 5.4-6.5-4.8 7.7z" fill="#a82e5f"/>
<path d="M521.6 459l4.8 10.9 5.6 6.9-4.8-16z" fill="#c43c4e"/>
<path d="M367.9 490.2l4.7-3.6 5.4-36.7-4.7 1.8z" fill="#c13a50"/>
<path d="M433.9 412.6l4.7-2.6 5.7-5.8-4.7-0.8z" fill="#eb6628"/>
<path d="M716.3 428.7l4.8 1.1 5.3-3.9-4.9-1.1z" fill="#e05536"/>
<path d="M545.6 492.5l4.8 1 5.5 11.1-4.8-0.9z" fill="#a92e5e"/>
<path d="M383.6 432l4.7 0.4 5.8-6.4-4.7-0.8z" fill="#e05536"/>
<path d="M463.4 413.4l4.7-1.9 5.7 7.5-4.7-1z" fill="#e75e2e"/>
<path d="M306.9 503.5l4.8 8.3 6-1.8-4.8-8.2z" fill="#a22b62"/>
<path d="M418.7 418.9l4.7-0.5 5.8-5.3-4.8-2.4z" fill="#e8602d"/>
<path d="M311.7 511.8l4.7-0.5 6.1 7.5-4.8-8.8z" fill="#9d2964"/>
<path d="M516.8 454.2l4.8 4.8 5.6 1.8-4.8-4.8z" fill="#cb4149"/>
<path d="M360.5 551.1l4.6-3.2 5.9-2.4-4.6 5.6z" fill="#7c1d6d"/>
<path d="M536 474.3l4.8 13.5 5.5 6-4.8-15.3z" fill="#b63458"/>
<path d="M696.4 429.4l4.8 1 5.3-3.9-4.8-1.1z" fill="#e05536"/>
<path d="M531.2 474.6l4.8-0.3 5.5 4.2-4.7-2.5z" fill="#bd3853"/>
<path d="M403.5 425.8l4.7-1 5.8-5.3-4.7 0.5z" fill="#e45a31"/>
<path d="M626.1 457.4l4.9-1.4 5.4-8.2-4.8-1.1z" fill="#d04545"/>
<path d="M676.4 430.9l4.9 0.6 5.3-4.2-4.8-0.8z" fill="#e05536"/>
<path d="M438.6 410l4.8 0.8 5.7-0.6-4.8-6z" fill="#eb6628"/>
<path d="M373.3 451.7l4.7-1.8 5.6-17.9-4.7 0z" fill="#d84c3e"/>
<path d="M345.3 557.4l4.6-2 5.9-0.3-4.6 0.1z" fill="#751b6e"/>
<path d="M320.4 547.5l4.8 8.6 6.1 3.6-4.9-13.5z" fill="#781c6d"/>
<path d="M721.1 429.8l4.9 1.1 5.3-3.9-4.9-1.1z" fill="#e05536"/>
<path d="M325.2 556.1l4.8 3.2 5.9 0.4-4.6 0z" fill="#741a6e"/>
<path d="M376.7 532.5l4.6-9.8 5.4-36.2-4.8-2.8z" fill="#a32c61"/>
<path d="M550.4 493.5l4.8 2.1 5.5 9.9-4.8-0.9z" fill="#a82e5f"/>
<path d="M656.5 434.2l4.8-0.8 5.4-4.9-4.8-0.5z" fill="#df5337"/>
<path d="M579.9 512.9l4.8-7.5 5.5 2-4.8 0.5z" fill="#a22b62"/>
<path d="M468.1 411.5l4.8 2.6 5.7 8.2-4.8-3.3z" fill="#e75e2e"/>
<path d="M388.3 432.4l4.8 1.2 5.7-7.4-4.7-0.2zM701.2 430.4l4.9 1.1 5.3-3.9-4.9-1.1z" fill="#e05536"/>
<path d="M443.4 410.8l4.7 2 5.8 2.7-4.8-5.3z" fill="#ea632a"/>
<path d="M641.3 443.8l4.9-2.5 5.4-7.2-4.8 0.7z" fill="#da4e3c"/>
<path d="M615.8 474.4l4.8-6.9 5.5-10.1-4.8 1z" fill="#c73e4c"/>
<path d="M423.4 418.4l4.8-1.7 5.7-4.1-4.7 0.5z" fill="#e8602d"/>
<path d="M605.4 487.4l4.9-8.1 5.5-4.9-4.9 4.2z" fill="#ba3655"/>
<path d="M372.6 486.6l4.6-6 5.5-32.4-4.7 1.7z" fill="#c63d4d"/>
<path d="M555.2 495.6l4.8 5.7 5.5 5.8-4.8-1.6z" fill="#a62d60"/>
<path d="M472.9 414.1l4.8 5.1 5.7 5.9-4.8-2.8z" fill="#e65d2f"/>
<path d="M681.3 431.5l4.9 1 5.3-4.2-4.9-1zM726 430.9l4.9 1.1 5.3-3.9-4.9-1.1z" fill="#e05536"/>
<path d="M661.3 433.4l4.9 2.1 5.4-5.4-4.9-1.6z" fill="#df5337"/>
<path d="M375.6 541.3l4.6-6.7 5.7-15.2-4.6 3.3z" fill="#8f2469"/>
<path d="M408.2 424.8l4.7-2.1 5.8-3.8-4.7 0.6z" fill="#e55c30"/>
<path d="M595.1 498.4l4.8-3.3 5.5-7.7-4.9 4.5z" fill="#b0315b"/>
<path d="M378 449.9l4.7-1.7 5.6-15.8-4.7-0.4z" fill="#d94d3d"/>
<path d="M631 456l4.9-3.5 5.4-8.7-4.9 4z" fill="#d34743"/>
<path d="M448.1 412.8l4.8-1.1 5.7 3.7-4.7 0.1z" fill="#ea632a"/>
<path d="M706.1 431.5l4.9 1.1 5.3-3.9-4.9-1.1z" fill="#e05536"/>
<path d="M393.1 433.6l4.7-0.1 5.7-7.7-4.7 0.4z" fill="#e15635"/>
<path d="M315.3 524.6l5.1 22.9 6-1.3-5-13.9z" fill="#88226a"/>
<path d="M477.7 419.2l4.7 1.5 5.7 7.2-4.7-2.8z" fill="#e45a31"/>
<path d="M330 559.3l4.5-7.1 6.1 5.1-4.7 2.4z" fill="#771c6d"/>
<path d="M365.1 547.9l4.6-6.6 5.9 0-4.6 4.2z" fill="#82206c"/>
<path d="M560 501.3l4.8 1.9 5.5 3.5-4.8 0.4z" fill="#a62d60"/>
<path d="M349.9 555.4l4.6-3.9 6-0.4-4.7 4z" fill="#7a1d6d"/>
<path d="M381.3 522.7l4.6-3.3 5.5-36.4-4.7 3.5z" fill="#a82e5f"/>
<path d="M646.2 441.3l4.9-1 5.4-6.1-4.9-0.1z" fill="#db503b"/>
<path d="M686.2 432.5l4.8 1 5.4-4.1-4.9-1.1zM730.9 432l4.9 1.1 5.2-3.9-4.8-1.1z" fill="#e05536"/>
<path d="M620.6 467.5l4.9 2.7 5.5-14.2-4.9 1.4z" fill="#ca404a"/>
<path d="M482.4 420.7l4.8 5.5 5.7 5.1-4.8-3.4z" fill="#e35933"/>
<path d="M666.2 435.5l4.9 0.1 5.3-4.7-4.8-0.8z" fill="#df5337"/>
<path d="M377.2 480.6l4.7 3.1 5.5-34.4-4.7-1.1z" fill="#c83f4b"/>
<path d="M428.2 416.7l4.6-7.7 5.8 1-4.7 2.6z" fill="#eb6429"/>
<path d="M584.7 505.4l4.9-3.7 5.5-3.3-4.9 9z" fill="#a82e5f"/>
<path d="M382.7 448.2l4.7 1.1 5.7-15.7-4.8-1.2z" fill="#da4e3c"/>
<path d="M711 432.6l4.9 1.1 5.2-3.9-4.8-1.1z" fill="#e05536"/>
<path d="M412.9 422.7l4.8-0.7 5.7-3.6-4.7 0.5z" fill="#e75e2e"/>
<path d="M487.2 426.2l4.8 3 5.7 5-4.8-2.9z" fill="#e15635"/>
<path d="M564.8 503.2l4.8-2.2 5.5 8-4.8-2.3z" fill="#a62d60"/>
<path d="M397.8 433.5l4.7-1.8 5.7-6.9-4.7 1z" fill="#e25734"/>
<path d="M610.3 479.3l4.9-2.6 5.4-9.2-4.8 6.9z" fill="#c13a50"/>
<path d="M691 433.5l4.9 1 5.3-4.1-4.8-1zM735.8 433.1l4.9 1.1 5.2-3.9-4.9-1.1z" fill="#e05536"/>
<path d="M381.9 483.7l4.8 2.8 5.4-36.2-4.7-1z" fill="#c73e4c"/>
<path d="M334.5 552.2l4.7 1.7 6.1 3.5-4.7-0.1z" fill="#7a1d6d"/>
<path d="M452.9 411.7l4.7-7.2 5.8 8.9-4.8 2z" fill="#eb6628"/>
<path d="M492 429.2l4.8 2.5 5.7 9.4-4.8-6.9z" fill="#df5337"/>
<path d="M635.9 452.5l4.9-3.4 5.4-7.8-4.9 2.5z" fill="#d74b3f"/>
<path d="M671.1 435.6l4.8 0.3 5.4-4.4-4.9-0.6z" fill="#e05536"/>
<path d="M651.1 440.3l4.9-2 5.3-4.9-4.8 0.8z" fill="#de5238"/>
<path d="M496.8 431.7l4.8 6.3 5.7 9.6-4.8-6.5z" fill="#db503b"/>
<path d="M310.5 515.6l4.8 9 6.1 7.7-5-21z" fill="#9a2865"/>
<path d="M501.6 438l4.8 6.2 5.6 7.7-4.7-4.3z" fill="#d84c3e"/>
<path d="M715.9 433.7l4.8 1.1 5.3-3.9-4.9-1.1z" fill="#e05536"/>
<path d="M387.4 449.3l4.7 1 5.7-16.8-4.7 0.1z" fill="#da4e3c"/>
<path d="M354.5 551.5l4.7-4.1 5.9 0.5-4.6 3.2z" fill="#7f1e6c"/>
<path d="M380.2 534.6l4.7-6.2 5.6-17.7-4.6 8.7z" fill="#972766"/>
<path d="M569.6 501l4.8 4.1 5.5 7.8-4.8-3.9z" fill="#a62d60"/>
<path d="M599.9 495.1l4.9-10.9 5.5-4.9-4.9 8.1z" fill="#b93556"/>
<path d="M300.8 500.9l4.8 4.8 6.1 6.1-4.8-8.3z" fill="#a82e5f"/>
<path d="M625.5 470.2l4.9-10 5.5-7.7-4.9 3.5z" fill="#ce4347"/>
<path d="M369.7 541.3l4.7-6.3 5.8-0.4-4.6 6.7z" fill="#8a226a"/>
<path d="M506.4 444.2l4.8 4.1 5.6 5.9-4.8-2.3z" fill="#d54a41"/>
<path d="M432.8 409l4.8 1.5 5.8 0.3-4.8-0.8z" fill="#ec6726"/>
<path d="M695.9 434.5l4.9 1 5.3-4-4.9-1.1zM740.7 434.2l4.9 1.1 5.2-3.9-4.9-1.1z" fill="#e05536"/>
<path d="M305.6 505.7l4.9 9.9 5.9-4.3-4.7 0.5z" fill="#a32c61"/>
<path d="M385.9 519.4l4.6-8.7 5.5-32.7-4.6 5z" fill="#ae305c"/>
<path d="M417.7 422l4.7-3.9 5.8-1.4-4.8 1.7z" fill="#e9612b"/>
<path d="M516 453l4.8 9.8 5.6 7.1-4.8-10.9z" fill="#cc4248"/>
<path d="M386.7 486.5l4.7-3.5 5.4-32.8-4.7 0.1zM520.8 462.8l4.8-0.3 5.6 12.1-4.8-4.7z" fill="#c83f4b"/>
<path d="M402.5 431.7l4.7-0.8 5.7-8.2-4.7 2.1z" fill="#e45a31"/>
<path d="M675.9 435.9l4.9 0.8 5.4-4.2-4.9-1z" fill="#e05536"/>
<path d="M511.2 448.3l4.8 4.7 5.6 6-4.8-4.8z" fill="#d34743"/>
<path d="M656 438.3l4.8 2.4 5.4-5.2-4.9-2.1z" fill="#de5238"/>
<path d="M615.2 476.7l4.8 0 5.5-6.5-4.9-2.7z" fill="#c43c4e"/>
<path d="M720.7 434.8l4.9 1.1 5.3-3.9-4.9-1.1z" fill="#e05536"/>
<path d="M535.2 475.8l4.8 9.7 5.6 7-4.8-4.7z" fill="#ba3655"/>
<path d="M314.2 539.6l5.1 19.8 5.9-3.3-4.8-8.6z" fill="#7f1e6c"/>
<path d="M339.2 553.9l4.7-5.5 6 7-4.6 2z" fill="#7d1e6d"/>
<path d="M319.3 559.4l4.5-6.9 6.2 6.8-4.8-3.2z" fill="#7a1d6d"/>
<path d="M392.1 450.3l4.7-0.1 5.7-18.5-4.7 1.8z" fill="#db503b"/>
<path d="M640.8 449.1l4.8-1.9 5.5-6.9-4.9 1z" fill="#d94d3d"/>
<path d="M574.4 505.1l4.9-3.5 5.4 3.8-4.8 7.5z" fill="#a82e5f"/>
<path d="M457.6 404.5l4.7-2.8 5.8 9.8-4.7 1.9z" fill="#ee6a24"/>
<path d="M700.8 435.5l4.9 1 5.3-3.9-4.9-1.1zM745.6 435.3l4.9 1.2 5.2-4-4.9-1.1z" fill="#e05536"/>
<path d="M437.6 410.5l4.7-1.4 5.8 3.7-4.7-2z" fill="#ed6925"/>
<path d="M589.6 501.7l4.9-12.8 5.4 6.2-4.8 3.3z" fill="#b1325a"/>
<path d="M530.4 466.5l4.8 9.3 5.6 12-4.8-13.5z" fill="#c13a50"/>
<path d="M525.6 462.5l4.8 4 5.6 7.8-4.8 0.3z" fill="#c73e4c"/>
<path d="M540 485.5l4.8-3.3 5.6 11.3-4.8-1z" fill="#b73557"/>
<path d="M680.8 436.7l4.9 1 5.3-4.2-4.8-1z" fill="#e05536"/>
<path d="M660.8 440.7l4.9 0.4 5.4-5.5-4.9-0.1z" fill="#de5238"/>
<path d="M725.6 435.9l4.9 1.1 5.3-3.9-4.9-1.1z" fill="#e05536"/>
<path d="M359.2 547.4l4.7-1.9 5.8-4.2-4.6 6.6z" fill="#85216b"/>
<path d="M407.2 430.9l4.7-3 5.8-5.9-4.8 0.7z" fill="#e65d2f"/>
<path d="M391.4 483l4.6-5 5.5-31.3-4.7 3.5z" fill="#cc4248"/>
<path d="M705.7 436.5l4.8 1.2 5.4-4-4.9-1.1z" fill="#e05536"/>
<path d="M604.8 484.2l4.9-0.9 5.5-6.6-4.9 2.6z" fill="#bf3952"/>
<path d="M750.5 436.5l4.9 1.1 5.2-3.9-4.9-1.2z" fill="#e05536"/>
<path d="M630.4 460.2l4.9-4.6 5.5-6.5-4.9 3.4z" fill="#d34743"/>
<path d="M374.4 535l4.6-3.5 5.9-3.1-4.7 6.2z" fill="#922568"/>
<path d="M462.3 401.7l4.8 2.3 5.8 10.1-4.8-2.6z" fill="#ef6c23"/>
<path d="M396.8 450.2l4.7-3.5 5.7-15.8-4.7 0.8z" fill="#de5238"/>
<path d="M422.4 418.1l4.6-7.7 5.8-1.4-4.6 7.7z" fill="#ec6726"/>
<path d="M544.8 482.2l4.8 2.4 5.6 11-4.8-2.1z" fill="#b93556"/>
<path d="M343.9 548.4l4.6-1.3 6 4.4-4.6 3.9z" fill="#82206c"/>
<path d="M685.7 437.7l4.9 0.9 5.3-4.1-4.9-1z" fill="#e05536"/>
<path d="M645.6 447.2l4.9-3 5.5-5.9-4.9 2z" fill="#db503b"/>
<path d="M620 476.7l4.9-9.8 5.5-6.7-4.9 10z" fill="#ca404a"/>
<path d="M730.5 437l4.9 1.1 5.3-3.9-4.9-1.1z" fill="#e05536"/>
<path d="M442.3 409.1l4.7-6.1 5.9 8.7-4.8 1.1z" fill="#ef6c23"/>
<path d="M384.9 528.4l4.5-14.6 5.8-11.1-4.7 8z" fill="#a32c61"/>
<path d="M390.5 510.7l4.7-8 5.5-31.7-4.7 7z" fill="#b73557"/>
<path d="M665.7 441.1l4.9-0.8 5.3-4.4-4.8-0.3z" fill="#df5337"/>
<path d="M309.2 519.1l5 20.5 6.2 7.9-5.1-22.9z" fill="#922568"/>
<path d="M323.8 552.5l4.6-7.2 6.1 6.9-4.5 7.1z" fill="#801f6c"/>
<path d="M467.1 404l4.8 2 5.8 13.2-4.8-5.1z" fill="#ee6a24"/>
<path d="M549.6 484.6l4.9 3.3 5.5 13.4-4.8-5.7z" fill="#b63458"/>
<path d="M710.5 437.7l4.9 1.1 5.3-4-4.8-1.1zM755.4 437.6l4.9 1.1 5.2-3.9-4.9-1.1z" fill="#e05536"/>
<path d="M579.3 501.6l4.8-4.1 5.5 4.2-4.9 3.7z" fill="#ae305c"/>
<path d="M554.5 487.9l4.8 5.9 5.5 9.4-4.8-1.9z" fill="#b3325a"/>
<path d="M609.7 483.3l4.8-1.7 5.5-4.9-4.8 0z" fill="#c13a50"/>
<path d="M690.6 438.6l4.9 0.8 5.3-3.9-4.9-1zM735.4 438.1l4.9 1.2 5.3-4-4.9-1.1z" fill="#e05536"/>
<path d="M594.5 488.9l4.8-2.3 5.5-2.4-4.9 10.9z" fill="#ba3655"/>
<path d="M471.9 406l4.8-1.1 5.7 15.8-4.7-1.5z" fill="#ed6925"/>
<path d="M650.5 444.2l4.9 1.9 5.4-5.4-4.8-2.4z" fill="#dd513a"/>
<path d="M363.9 545.5l4.6-5.7 5.9-4.8-4.7 6.3z" fill="#8c2369"/>
<path d="M411.9 427.9l4.7-6.6 5.8-3.2-4.7 3.9z" fill="#e9612b"/>
<path d="M670.6 440.3l4.8 0.7 5.4-4.3-4.9-0.8z" fill="#e05536"/>
<path d="M635.3 455.6l4.9-4.8 5.4-3.6-4.8 1.9z" fill="#d84c3e"/>
<path d="M715.4 438.8l4.9 1 5.3-3.9-4.9-1.1zM760.3 438.7l4.9 1.1 5.2-3.9-4.9-1.1z" fill="#e05536"/>
<path d="M401.5 446.7l4.7-4.2 5.7-14.6-4.7 3z" fill="#e15635"/>
<path d="M396 478l4.7-7 5.5-28.5-4.7 4.2z" fill="#d24644"/>
<path d="M559.3 493.8l4.8 3.2 5.5 4-4.8 2.2z" fill="#b1325a"/>
<path d="M427 410.4l4.8-2.4 5.8 2.5-4.8-1.5z" fill="#ef6c23"/>
<path d="M348.5 547.1l4.7-5 6 5.3-4.7 4.1z" fill="#87216b"/>
<path d="M304.3 509.6l4.9 9.5 6.1 5.5-4.8-9z" fill="#a22b62"/>
<path d="M476.7 404.9l4.8 5.9 5.7 15.4-4.8-5.5z" fill="#ec6726"/>
<path d="M328.4 545.3l4.7 1.9 6.1 6.7-4.7-1.7z" fill="#84206b"/>
<path d="M695.5 439.4l4.8 1.1 5.4-4-4.9-1zM740.3 439.3l4.9 1.1 5.3-3.9-4.9-1.2z" fill="#e05536"/>
<path d="M481.5 410.8l4.8 6.8 5.7 11.6-4.8-3z" fill="#ea632a"/>
<path d="M655.4 446.1l4.9 0.6 5.4-5.6-4.9-0.4z" fill="#dd513a"/>
<path d="M675.4 441l4.9 1.1 5.4-4.4-4.9-1z" fill="#e05536"/>
<path d="M447 403l4.8-9.9 5.8 11.4-4.7 7.2z" fill="#f2741c"/>
<path d="M299.5 500.8l4.8 8.8 6.2 6-4.9-9.9z" fill="#ab2f5e"/>
<path d="M294.7 496.2l4.8 4.6 6.1 4.9-4.8-4.8z" fill="#b1325a"/>
<path d="M624.9 466.9l4.9-3.4 5.5-7.9-4.9 4.6z" fill="#d04545"/>
<path d="M720.3 439.8l4.9 1.2 5.3-4-4.9-1.1zM765.2 439.8l4.9 1.1 5.2-3.9-4.9-1.1z" fill="#e05536"/>
<path d="M486.3 417.6l4.8 3 5.7 11.1-4.8-2.5z" fill="#e8602d"/>
<path d="M379 531.5l4.6-13.6 5.8-4.1-4.5 14.6z" fill="#9d2964"/>
<path d="M564.1 497l4.8-3.9 5.5 12-4.8-4.1z" fill="#b3325a"/>
<path d="M599.3 486.6l4.9 1.8 5.5-5.1-4.9 0.9z" fill="#bf3952"/>
<path d="M395.2 502.7l4.6-11.1 5.5-28.5-4.6 7.9z" fill="#c13a50"/>
<path d="M700.3 440.5l4.9 1.2 5.3-4-4.8-1.2zM745.2 440.4l4.9 1.1 5.3-3.9-4.9-1.1z" fill="#e05536"/>
<path d="M389.4 513.8l4.7-4.9 5.7-17.3-4.6 11.1z" fill="#ae305c"/>
<path d="M313.1 552l4.7-2.3 6 2.8-4.5 6.9z" fill="#82206c"/>
<path d="M614.5 481.6l5-8 5.4-6.7-4.9 9.8z" fill="#c73e4c"/>
<path d="M491.1 420.6l4.8 2.9 5.7 14.5-4.8-6.3z" fill="#e75e2e"/>
<path d="M640.2 450.8l4.9-0.7 5.4-5.9-4.9 3z" fill="#da4e3c"/>
<path d="M431.8 408l4.7-3.4 5.8 4.5-4.7 1.4z" fill="#f06f20"/>
<path d="M308.1 532.4l5 19.6 6.2 7.4-5.1-19.8z" fill="#8a226a"/>
<path d="M584.1 497.5l4.9-11.7 5.5 3.1-4.9 12.8z" fill="#b73557"/>
<path d="M500.7 430.4l4.8 9.7 5.7 8.2-4.8-4.1z" fill="#e05536"/>
<path d="M495.9 423.5l4.8 6.9 5.7 13.8-4.8-6.2z" fill="#e35933"/>
<path d="M680.3 442.1l4.9 0.7 5.4-4.2-4.9-0.9z" fill="#e05536"/>
<path d="M660.3 446.7l4.9-1.3 5.4-5.1-4.9 0.8z" fill="#de5238"/>
<path d="M505.5 440.1l4.8 3.6 5.7 9.3-4.8-4.7z" fill="#dd513a"/>
<path d="M510.3 443.7l4.9 7.7 5.6 11.4-4.8-9.8z" fill="#d84c3e"/>
<path d="M333.1 547.2l4.7-6 6.1 7.2-4.7 5.5z" fill="#88226a"/>
<path d="M725.2 441l4.9 1.1 5.3-4-4.9-1.1zM770.1 440.9l5 1.2 5.2-4-5-1.1z" fill="#e05536"/>
<path d="M368.5 539.8l4.6-8.2 5.9-0.1-4.6 3.5z" fill="#932667"/>
<path d="M406.2 442.5l4.7-4.7 5.7-16.5-4.7 6.6z" fill="#e55c30"/>
<path d="M353.2 542.1l4.7-2.2 6 5.6-4.7 1.9z" fill="#8c2369"/>
<path d="M515.2 451.4l4.8 4.9 5.6 6.2-4.8 0.3z" fill="#d44842"/>
<path d="M416.6 421.3l4.6-11 5.8 0.1-4.6 7.7z" fill="#ee6a24"/>
<path d="M529.6 470.2l4.8 7.1 5.6 8.2-4.8-9.7z" fill="#c63d4d"/>
<path d="M400.7 471l4.6-7.9 5.6-25.3-4.7 4.7z" fill="#d84c3e"/>
<path d="M705.2 441.7l4.9 1 5.3-3.9-4.9-1.1zM750.1 441.5l5 1.1 5.2-3.9-4.9-1.1z" fill="#e05536"/>
<path d="M568.9 493.1l4.9-1.7 5.5 10.2-4.9 3.5z" fill="#b63458"/>
<path d="M524.8 458.6l4.8 11.6 5.6 5.6-4.8-9.3z" fill="#ce4347"/>
<path d="M604.2 488.4l4.9-5.1 5.4-1.7-4.8 1.7z" fill="#c13a50"/>
<path d="M645.1 450.1l4.9 1.4 5.4-5.4-4.9-1.9z" fill="#db503b"/>
<path d="M520 456.3l4.8 2.3 5.6 7.9-4.8-4z" fill="#d34743"/>
<path d="M685.2 442.8l4.9 0.8 5.4-4.2-4.9-0.8z" fill="#e05536"/>
<path d="M451.8 393.1l4.7-0.2 5.8 8.8-4.7 2.8z" fill="#f57b17"/>
<path d="M629.8 463.5l4.9-5 5.5-7.7-4.9 4.8z" fill="#d54a41"/>
<path d="M730.1 442.1l5 1.1 5.2-3.9-4.9-1.2zM775.1 442.1l4.9 1.1 5.2-3.9-4.9-1.2z" fill="#e05536"/>
<path d="M534.4 477.3l4.8-3.1 5.6 8-4.8 3.3z" fill="#c43c4e"/>
<path d="M665.2 445.4l4.9 0.2 5.3-4.6-4.8-0.7z" fill="#df5337"/>
<path d="M710.1 442.7l4.9 1.1 5.3-4-4.9-1zM755.1 442.6l4.9 1.2 5.2-4-4.9-1.1z" fill="#e05536"/>
<path d="M436.5 404.6l4.8-2.9 5.7 1.3-4.7 6.1z" fill="#f2741c"/>
<path d="M394.1 508.9l4.7-1.7 5.7-20.9-4.7 5.3z" fill="#b63458"/>
<path d="M650 451.5l4.8 0.7 5.5-5.5-4.9-0.6z" fill="#db503b"/>
<path d="M303.1 519l5 13.4 6.1 7.2-5-20.5z" fill="#9b2964"/>
<path d="M357.9 539.9l4.6-3.3 6 3.2-4.6 5.7z" fill="#902568"/>
<path d="M690.1 443.6l4.9 1 5.3-4.1-4.8-1.1z" fill="#e05536"/>
<path d="M317.8 549.7l4.5-9.9 6.1 5.5-4.6 7.2z" fill="#8a226a"/>
<path d="M735.1 443.2l4.9 1.1 5.2-3.9-4.9-1.1zM780 443.2l4.9 1.1 5.2-3.9-4.9-1.1z" fill="#e05536"/>
<path d="M399.8 491.6l4.7-5.3 5.5-29.9-4.7 6.7z" fill="#ca404a"/>
<path d="M619.5 473.6l4.9-6 5.4-4.1-4.9 3.4z" fill="#cf4446"/>
<path d="M383.6 517.9l4.7-4.6 5.8-4.4-4.7 4.9z" fill="#a92e5e"/>
<path d="M337.8 541.2l4.6-6.2 6.1 12.1-4.6 1.3z" fill="#8f2469"/>
<path d="M573.8 491.4l4.8 4.3 5.5 1.8-4.8 4.1z" fill="#b73557"/>
<path d="M456.5 392.9l4.8-0.6 5.8 11.7-4.8-2.3z" fill="#f57d15"/>
<path d="M670.1 445.6l4.8 1 5.4-4.5-4.9-1.1z" fill="#df5337"/>
<path d="M589 485.8l4.9-3.3 5.4 4.1-4.8 2.3z" fill="#c03a51"/>
<path d="M539.2 474.2l4.9 1.2 5.5 9.2-4.8-2.4z" fill="#c63d4d"/>
<path d="M421.2 410.3l4.8 0.2 5.8-2.5-4.8 2.4z" fill="#f1711f"/>
<path d="M715 443.8l4.9 1.1 5.3-3.9-4.9-1.2zM760 443.8l4.9 1.1 5.2-4-4.9-1.1z" fill="#e05536"/>
<path d="M410.9 437.8l4.7-9.4 5.6-18.1-4.6 11z" fill="#eb6429"/>
<path d="M634.7 458.5l5-3.7 5.4-4.7-4.9 0.7z" fill="#d94d3d"/>
<path d="M373.1 531.6l4.6-10.2 5.9-3.5-4.6 13.6z" fill="#9f2a63"/>
<path d="M405.3 463.1l4.7-6.7 5.6-28-4.7 9.4z" fill="#de5238"/>
<path d="M695 444.6l4.9 1.2 5.3-4.1-4.9-1.2zM740 444.3l4.9 1.1 5.2-3.9-4.9-1.1zM784.9 444.3l5 1.1 5.2-3.9-5-1.1z" fill="#e05536"/>
<path d="M544.1 475.4l4.8 2.5 5.6 10-4.9-3.3z" fill="#c63d4d"/>
<path d="M609.1 483.3l4.9-9.1 5.5-0.6-5 8z" fill="#c73e4c"/>
<path d="M654.8 452.2l5-2.3 5.4-4.5-4.9 1.3z" fill="#dd513a"/>
<path d="M461.3 392.3l4.8 1.7 5.8 12-4.8-2z" fill="#f57d15"/>
<path d="M674.9 446.6l4.9 0.5 5.4-4.3-4.9-0.7z" fill="#e05536"/>
<path d="M298.1 504.8l5 14.2 6.1 0.1-4.9-9.5z" fill="#ab2f5e"/>
<path d="M719.9 444.9l4.9 1.1 5.3-3.9-4.9-1.1zM764.9 444.9l4.9 1.1 5.3-3.9-5-1.2z" fill="#e05536"/>
<path d="M548.9 477.9l4.8 5.6 5.6 10.3-4.8-5.9zM593.9 482.5l4.8 2.9 5.5 3-4.9-1.8z" fill="#c13a50"/>
<path d="M288.6 495.6l4.8 6 6.1-0.8-4.8-4.6z" fill="#b73557"/>
<path d="M553.7 483.5l4.8 8.4 5.6 5.1-4.8-3.2z" fill="#bd3853"/>
<path d="M342.4 535l4.7 2.8 6.1 4.3-4.7 5z" fill="#922568"/>
<path d="M293.4 501.6l4.7 3.2 6.2 4.8-4.8-8.8z" fill="#b3325a"/>
<path d="M388.3 513.3l4.7 0.3 5.8-6.4-4.7 1.7z" fill="#ad305d"/>
<path d="M322.3 539.8l4.7 0.3 6.1 7.1-4.7-1.9z" fill="#902568"/>
<path d="M699.9 445.8l4.9 1 5.3-4.1-4.9-1zM744.9 445.4l4.9 1.2 5.3-4-5-1.1zM789.9 445.4l4.9 1.2 5.2-4-4.9-1.1z" fill="#e05536"/>
<path d="M426 410.5l4.7-3.2 5.8-2.7-4.7 3.4z" fill="#f2741c"/>
<path d="M639.7 454.8l4.8 2.5 5.5-5.8-4.9-1.4z" fill="#da4e3c"/>
<path d="M624.4 467.6l4.9-4.8 5.4-4.3-4.9 5z" fill="#d44842"/>
<path d="M441.3 401.7l4.6-13.3 5.9 4.7-4.8 9.9z" fill="#f68013"/>
<path d="M466.1 394l4.8-0.5 5.8 11.4-4.8 1.1z" fill="#f57d15"/>
<path d="M362.5 536.6l4.6-8.8 6 3.8-4.6 8.2z" fill="#982766"/>
<path d="M679.8 447.1l4.9 0.4 5.4-3.9-4.9-0.8zM724.8 446l5 1.1 5.3-3.9-5-1.1z" fill="#e05536"/>
<path d="M578.6 495.7l4.9-12.4 5.5 2.5-4.9 11.7z" fill="#bf3952"/>
<path d="M769.8 446l5 1.1 5.2-3.9-4.9-1.1z" fill="#e05536"/>
<path d="M659.8 449.9l4.9 0.3 5.4-4.6-4.9-0.2z" fill="#df5337"/>
<path d="M398.8 507.2l4.6-14.9 5.7-16.9-4.6 10.9z" fill="#bf3952"/>
<path d="M558.5 491.9l4.9-3.9 5.5 5.1-4.8 3.9z" fill="#bd3853"/>
<path d="M404.5 486.3l4.6-10.9 5.5-31-4.6 12z" fill="#d34743"/>
<path d="M598.7 485.4l4.9-3.1 5.5 1-4.9 5.1z" fill="#c43c4e"/>
<path d="M704.8 446.8l4.9 1 5.3-4-4.9-1.1zM749.8 446.6l4.9 1.1 5.3-3.9-4.9-1.2zM794.8 446.6l5 1.1 5.1-3.9-4.9-1.2z" fill="#e05536"/>
<path d="M306.9 542.5l4.7-0.7 6.2 7.9-4.7 2.3z" fill="#8f2469"/>
<path d="M644.5 457.3l4.9-0.3 5.4-4.8-4.8-0.7z" fill="#da4e3c"/>
<path d="M347.1 537.8l4.8 1.1 6 1-4.7 2.2z" fill="#952667"/>
<path d="M415.6 428.4l4.7-6.4 5.7-11.5-4.8-0.2z" fill="#ef6c23"/>
<path d="M302 529.9l4.9 12.6 6.2 9.5-5-19.6z" fill="#952667"/>
<path d="M470.9 393.5l4.8 1 5.8 16.3-4.8-5.9z" fill="#f57d15"/>
<path d="M684.7 447.5l4.9 1.1 5.4-4-4.9-1zM729.8 447.1l4.9 1.2 5.3-4-4.9-1.1zM774.8 447.1l4.9 1.2 5.2-4-4.9-1.1z" fill="#e05536"/>
<path d="M614 474.2l4.9-2.4 5.5-4.2-4.9 6z" fill="#cf4446"/>
<path d="M475.7 394.5l4.8 6.1 5.8 17-4.8-6.8z" fill="#f37819"/>
<path d="M504.7 439.8l4.8 5.3 5.7 6.3-4.9-7.7z" fill="#e15635"/>
<path d="M664.7 450.2l4.8 0.8 5.4-4.4-4.8-1z" fill="#df5337"/>
<path d="M327 540.1l4.6-8 6.2 9.1-4.7 6z" fill="#952667"/>
<path d="M499.8 428.8l4.9 11 5.6 3.9-4.8-3.6z" fill="#e55c30"/>
<path d="M377.7 521.4l4.7-6.8 5.9-1.3-4.7 4.6z" fill="#a92e5e"/>
<path d="M410 456.4l4.6-12 5.7-22.4-4.7 6.4z" fill="#e55c30"/>
<path d="M480.5 400.6l4.8 5.5 5.8 14.5-4.8-3z" fill="#f1731d"/>
<path d="M509.5 445.1l4.8 4.7 5.7 6.5-4.8-4.9z" fill="#de5238"/>
<path d="M430.7 407.3l4.8-4.9 5.8-0.7-4.8 2.9z" fill="#f47918"/>
<path d="M709.7 447.8l4.9 1.1 5.3-4-4.9-1.1zM754.7 447.7l5 1.1 5.2-3.9-4.9-1.1zM799.8 447.7l4.9 1.1 5.2-3.9-5-1.1z" fill="#e05536"/>
<path d="M629.3 462.8l4.9-2.9 5.5-5.1-5 3.7z" fill="#d84c3e"/>
<path d="M495 416.9l4.8 11.9 5.7 11.3-4.8-9.7z" fill="#ea632a"/>
<path d="M485.3 406.1l4.9 5.9 5.7 11.5-4.8-2.9z" fill="#f06f20"/>
<path d="M524 459.3l4.8 6.9 5.6 11.1-4.8-7.1z" fill="#d24644"/>
<path d="M514.3 449.8l4.8 4.3 5.7 4.5-4.8-2.3z" fill="#db503b"/>
<path d="M519.1 454.1l4.9 5.2 5.6 10.9-4.8-11.6z" fill="#d84c3e"/>
<path d="M393 513.6l4.6-14.2 5.8-7.1-4.6 14.9z" fill="#b63458"/>
<path d="M689.6 448.6l4.9 1.2 5.4-4-4.9-1.2z" fill="#e05536"/>
<path d="M490.2 412l4.8 4.9 5.7 13.5-4.8-6.9z" fill="#ee6a24"/>
<path d="M734.7 448.3l4.9 1.1 5.3-4-4.9-1.1zM779.7 448.3l5 1.1 5.2-4-5-1.1z" fill="#e05536"/>
<path d="M649.4 457l4.9-2.8 5.5-4.3-5 2.3z" fill="#dd513a"/>
<path d="M563.4 488l4.9-4.2 5.5 7.6-4.9 1.7z" fill="#c13a50"/>
<path d="M669.5 451l5 0.3 5.3-4.2-4.9-0.5z" fill="#df5337"/>
<path d="M445.9 388.4l4.8-6.3 5.8 10.8-4.7 0.2z" fill="#f8890c"/>
<path d="M420.3 422l4.7-2.5 5.7-12.2-4.7 3.2z" fill="#f1711f"/>
<path d="M528.8 466.2l4.8-0.6 5.6 8.6-4.8 3.1z" fill="#d04545"/>
<path d="M351.9 538.9l4.6-8.8 6 6.5-4.6 3.3z" fill="#9a2865"/>
<path d="M714.6 448.9l4.9 1.1 5.3-4-4.9-1.1zM759.7 448.8l4.9 1.2 5.2-4-4.9-1.1zM804.7 448.8l5 1.2 5.1-4-4.9-1.1z" fill="#e05536"/>
<path d="M296.9 509.6l5.1 20.3 6.1 2.5-5-13.4z" fill="#a62d60"/>
<path d="M367.1 527.8l4.7-7.5 5.9 1.1-4.6 10.2z" fill="#a32c61"/>
<path d="M583.5 483.3l4.9-4.9 5.5 4.1-4.9 3.3z" fill="#c83f4b"/>
<path d="M603.6 482.3l4.9-7.7 5.5-0.4-4.9 9.1z" fill="#cb4149"/>
<path d="M311.6 541.8l4.5-9.2 6.2 7.2-4.5 9.9z" fill="#952667"/>
<path d="M634.2 459.9l4.9 1.2 5.4-3.8-4.8-2.5z" fill="#da4e3c"/>
<path d="M382.4 514.6l4.7 0.1 5.9-1.1-4.7-0.3z" fill="#ae305c"/>
<path d="M694.5 449.8l5 1 5.3-4-4.9-1zM739.6 449.4l4.9 1.1 5.3-3.9-4.9-1.2zM784.7 449.4l4.9 1.1 5.2-3.9-4.9-1.2z" fill="#e05536"/>
<path d="M618.9 471.8l4.9-7.2 5.5-1.8-4.9 4.8z" fill="#d44842"/>
<path d="M568.3 483.8l4.8 2.3 5.5 9.6-4.8-4.3z" fill="#c33b4f"/>
<path d="M674.5 451.3l4.9 0.3 5.3-4.1-4.9-0.4z" fill="#e05536"/>
<path d="M409.1 475.4l4.6-14 5.7-20.9-4.8 3.9z" fill="#db503b"/>
<path d="M331.6 532.1l4.7-2.7 6.1 5.6-4.6 6.2z" fill="#9d2964"/>
<path d="M654.3 454.2l4.9 0.1 5.5-4.1-4.9-0.3z" fill="#de5238"/>
<path d="M719.5 450l5 1.1 5.3-4-5-1.1zM764.6 450l4.9 1.1 5.3-4-5-1.1z" fill="#e05536"/>
<path d="M282.5 495.9l4.7 1.7 6.2 4-4.8-6z" fill="#bc3754"/>
<path d="M809.7 450l4.9 1.1 5.2-4-5-1.1z" fill="#e05536"/>
<path d="M414.6 444.4l4.8-3.9 5.6-21-4.7 2.5z" fill="#ea632a"/>
<path d="M533.6 465.6l4.9 0.1 5.6 9.7-4.9-1.2z" fill="#d24644"/>
<path d="M403.4 492.3l4.6-15.7 5.7-15.2-4.6 14z" fill="#ce4347"/>
<path d="M450.7 382.1l4.8-0.7 5.8 10.9-4.8 0.6z" fill="#f98e09"/>
<path d="M639.1 461.1l4.9 0 5.4-4.1-4.9 0.3z" fill="#da4e3c"/>
<path d="M699.5 450.8l4.9 0.9 5.3-3.9-4.9-1zM744.5 450.5l5 1.2 5.2-4-4.9-1.1zM789.6 450.5l5 1.2 5.2-4-5-1.1z" fill="#e05536"/>
<path d="M291.9 497.2l5 12.4 6.2 9.4-5-14.2z" fill="#b43359"/>
<path d="M588.4 478.4l4.9 0.9 5.4 6.1-4.8-2.9z" fill="#ca404a"/>
<path d="M435.5 402.4l4.6-13.5 5.8-0.5-4.6 13.3z" fill="#f8850f"/>
<path d="M287.2 497.6l4.7-0.4 6.2 7.6-4.7-3.2z" fill="#ba3655"/>
<path d="M679.4 451.6l4.9 1 5.3-4-4.9-1.1z" fill="#e05536"/>
<path d="M538.5 465.7l4.8 6.5 5.6 5.7-4.8-2.5z" fill="#d04545"/>
<path d="M724.5 451.1l4.9 1.1 5.3-3.9-4.9-1.2zM769.5 451.1l5 1.1 5.2-3.9-4.9-1.2zM814.6 451.1l5 1.1 5.2-3.9-5-1.2z" fill="#e05536"/>
<path d="M659.2 454.3l4.9 0.8 5.4-4.1-4.8-0.8z" fill="#df5337"/>
<path d="M425 419.5l4.7-10.2 5.8-6.9-4.8 4.9z" fill="#f37819"/>
<path d="M356.5 530.1l4.7 1 5.9-3.3-4.6 8.8z" fill="#a02a63"/>
<path d="M543.3 472.2l4.9 3.7 5.5 7.6-4.8-5.6z" fill="#ce4347"/>
<path d="M336.3 529.4l4.7 0.8 6.1 7.6-4.7-2.8z" fill="#9f2a63"/>
<path d="M316.1 532.6l4.7-1.5 6.2 9-4.7-0.3z" fill="#9d2964"/>
<path d="M704.4 451.7l4.9 1.1 5.3-3.9-4.9-1.1zM749.5 451.7l4.9 1.1 5.3-4-5-1.1zM794.6 451.7l4.9 1.1 5.2-4-4.9-1.1z" fill="#e05536"/>
<path d="M455.5 381.4l4.8 0.4 5.8 12.2-4.8-1.7z" fill="#f98e09"/>
<path d="M608.5 474.6l4.9-4 5.5 1.2-4.9 2.4z" fill="#d24644"/>
<path d="M573.1 486.1l4.9-7.8 5.5 5-4.9 12.4z" fill="#c73e4c"/>
<path d="M548.2 475.9l4.8 1.8 5.5 14.2-4.8-8.4z" fill="#ca404a"/>
<path d="M623.8 464.6l4.9-2 5.5-2.7-4.9 2.9z" fill="#d94d3d"/>
<path d="M371.8 520.3l4.6-5.5 6-0.2-4.7 6.8z" fill="#ad305d"/>
<path d="M593.3 479.3l4.8-0.4 5.5 3.4-4.9 3.1z" fill="#cb4149"/>
<path d="M684.3 452.6l4.9 1.3 5.3-4.1-4.9-1.2z" fill="#e05536"/>
<path d="M644 461.1l4.9-2.5 5.4-4.4-4.9 2.8z" fill="#db503b"/>
<path d="M387.1 514.7l4.6-15.1 5.9-0.2-4.6 14.2z" fill="#b73557"/>
<path d="M729.4 452.2l4.9 1.2 5.3-4-4.9-1.1zM774.5 452.2l4.9 1.2 5.3-4-5-1.1zM819.6 452.2l5 1.2 5.1-4-4.9-1.1z" fill="#e05536"/>
<path d="M664.1 455.1l4.9 0.4 5.5-4.2-5-0.3z" fill="#df5337"/>
<path d="M341 530.2l4.8 2 6.1 6.7-4.8-1.1z" fill="#9f2a63"/>
<path d="M300.8 543.3l4.6-6.9 6.2 5.4-4.7 0.7z" fill="#982766"/>
<path d="M295.7 521.6l5.1 21.7 6.1-0.8-4.9-12.6z" fill="#9f2a63"/>
<path d="M419.4 440.5l4.7-7.9 5.6-23.3-4.7 10.2z" fill="#ee6a24"/>
<path d="M397.6 499.4l4.6-16 5.8-6.8-4.6 15.7z" fill="#c73e4c"/>
<path d="M709.3 452.8l4.9 1.2 5.3-4-4.9-1.1z" fill="#e05536"/>
<path d="M553 477.7l4.8 1.6 5.6 8.7-4.9 3.9z" fill="#ca404a"/>
<path d="M754.4 452.8l4.9 1.1 5.3-3.9-4.9-1.2zM799.5 452.8l5 1.1 5.2-3.9-5-1.2z" fill="#e05536"/>
<path d="M413.7 461.4l4.7-6.2 5.7-22.6-4.7 7.9z" fill="#e35933"/>
<path d="M460.3 381.8l4.8-2.6 5.8 14.3-4.8 0.5z" fill="#fa9008"/>
<path d="M499 433.2l4.8 5.3 5.7 6.6-4.8-5.3z" fill="#e8602d"/>
<path d="M689.2 453.9l4.9 1 5.4-4.1-5-1z" fill="#e05536"/>
<path d="M628.7 462.6l4.9 1.9 5.5-3.4-4.9-1.2z" fill="#da4e3c"/>
<path d="M734.3 453.4l4.9 1.1 5.3-4-4.9-1.1zM779.4 453.4l5 1.1 5.2-4-4.9-1.1zM824.6 453.4l4.9 1.1 5.2-4-5-1.1z" fill="#e05536"/>
<path d="M503.8 438.5l4.8 5 5.7 6.3-4.8-4.7z" fill="#e55c30"/>
<path d="M669 455.5l5 0.3 5.4-4.2-4.9-0.3z" fill="#e05536"/>
<path d="M494.1 418.2l4.9 15 5.7 6.6-4.9-11z" fill="#ec6726"/>
<path d="M508.6 443.5l4.9 7.8 5.6 2.8-4.8-4.3z" fill="#e25734"/>
<path d="M648.9 458.6l4.9-0.4 5.4-3.9-4.9-0.1z" fill="#de5238"/>
<path d="M408 476.6l4.7-5.6 5.7-15.8-4.7 6.2z" fill="#d84c3e"/>
<path d="M714.2 454l4.9 1.1 5.4-4-5-1.1zM759.3 453.9l5 1.2 5.2-4-4.9-1.1zM804.5 453.9l5 1.2 5.1-4-4.9-1.1z" fill="#e05536"/>
<path d="M320.8 531.1l4.6-9.2 6.2 10.2-4.6 8z" fill="#a32c61"/>
<path d="M376.4 514.8l4.8-0.1 5.9 0-4.7-0.1z" fill="#b1325a"/>
<path d="M361.2 531.1l4.6-12.2 6 1.4-4.7 7.5z" fill="#a92e5e"/>
<path d="M613.4 470.6l5-4 5.4-2-4.9 7.2z" fill="#d54a41"/>
<path d="M440.1 388.9l4.8-6 5.8-0.8-4.8 6.3z" fill="#fa9407"/>
<path d="M513.5 451.3l4.8 3.3 5.7 4.7-4.9-5.2z" fill="#df5337"/>
<path d="M598.1 478.9l4.9-4.6 5.5 0.3-4.9 7.7z" fill="#cf4446"/>
<path d="M345.8 532.2l4.7 0.4 6-2.5-4.6 8.8z" fill="#a22b62"/>
<path d="M465.1 379.2l4.8 5.5 5.8 9.8-4.8-1z" fill="#fa9008"/>
<path d="M518.3 454.6l4.9 6.5 5.6 5.1-4.8-6.9z" fill="#db503b"/>
<path d="M694.1 454.9l4.9 0.8 5.4-4-4.9-0.9z" fill="#e05536"/>
<path d="M429.7 409.3l4.7-9.1 5.7-11.3-4.6 13.5z" fill="#f78410"/>
<path d="M739.2 454.5l5 1.1 5.3-3.9-5-1.2zM784.4 454.5l5 1.1 5.2-3.9-5-1.2zM829.5 454.5l5 1.1 5.2-3.9-5-1.2z" fill="#e05536"/>
<path d="M633.6 464.5l4.9-0.4 5.5-3-4.9 0z" fill="#da4e3c"/>
<path d="M578 478.3l4.9-2.1 5.5 2.2-4.9 4.9z" fill="#cf4446"/>
<path d="M557.8 479.3l4.9-1.6 5.6 6.1-4.9 4.2z" fill="#cc4248"/>
<path d="M469.9 384.7l4.8 3.5 5.8 12.4-4.8-6.1z" fill="#f98c0a"/>
<path d="M489.3 407.5l4.8 10.7 5.7 10.6-4.8-11.9z" fill="#f2741c"/>
<path d="M674 455.8l4.9 0.9 5.4-4.1-4.9-1z" fill="#e05536"/>
<path d="M523.2 461.1l4.8 1.3 5.6 3.2-4.8 0.6z" fill="#da4e3c"/>
<path d="M719.1 455.1l5 1.1 5.3-4-4.9-1.1zM764.3 455.1l4.9 1.1 5.3-4-5-1.1zM809.5 455.1l4.9 1.1 5.2-4-5-1.1z" fill="#e05536"/>
<path d="M653.8 458.2l4.9 1.2 5.4-4.3-4.9-0.8z" fill="#df5337"/>
<path d="M484.4 402.3l4.9 5.2 5.7 9.4-4.8-4.9z" fill="#f57b17"/>
<path d="M474.7 388.2l4.8 2.4 5.8 15.5-4.8-5.5z" fill="#f8890c"/>
<path d="M479.5 390.6l4.9 11.7 5.8 9.7-4.9-5.9z" fill="#f78212"/>
<path d="M290.5 497.6l5.2 24 6.3 8.3-5.1-20.3z" fill="#b3325a"/>
<path d="M276.2 490.6l4.8 3 6.2 4-4.7-1.7z" fill="#c33b4f"/>
<path d="M699 455.7l4.9 1.1 5.4-4-4.9-1.1z" fill="#e05536"/>
<path d="M305.4 536.4l4.5-13.9 6.2 10.1-4.5 9.2z" fill="#a32c61"/>
<path d="M744.2 455.6l4.9 1.2 5.3-4-4.9-1.1zM789.4 455.6l4.9 1.2 5.2-4-4.9-1.1zM834.5 455.6l5 1.2 5.1-4-4.9-1.1z" fill="#e05536"/>
<path d="M418.4 455.2l4.7-7.6 5.6-26.9-4.6 11.9z" fill="#e9612b"/>
<path d="M424.1 432.6l4.6-11.9 5.7-20.5-4.7 9.1z" fill="#f37819"/>
<path d="M678.9 456.7l4.9 1.3 5.4-4.1-4.9-1.3z" fill="#e05536"/>
<path d="M444.9 382.9l4.8 0.3 5.8-1.8-4.8 0.7z" fill="#fb9706"/>
<path d="M325.4 521.9l4.8 5.5 6.1 2-4.7 2.7z" fill="#a82e5f"/>
<path d="M582.9 476.2l4.8 2.3 5.6 0.8-4.9-0.9z" fill="#d04545"/>
<path d="M638.5 464.1l5-2.1 5.4-3.4-4.9 2.5z" fill="#dd513a"/>
<path d="M350.5 532.6l4.7-3.9 6 2.4-4.7-1z" fill="#a52c60"/>
<path d="M724.1 456.2l4.9 1.1 5.3-3.9-4.9-1.2z" fill="#e05536"/>
<path d="M562.7 477.7l4.9-1 5.5 9.4-4.8-2.3z" fill="#ce4347"/>
<path d="M769.2 456.2l5 1.1 5.2-3.9-4.9-1.2z" fill="#e05536"/>
<path d="M528 462.4l4.8 2 5.7 1.3-4.9-0.1z" fill="#da4e3c"/>
<path d="M814.4 456.2l5 1.1 5.2-3.9-5-1.2z" fill="#e05536"/>
<path d="M618.4 466.6l4.9-3 5.4-1-4.9 2z" fill="#da4e3c"/>
<path d="M402.2 483.4l4.7-5.7 5.8-6.7-4.7 5.6z" fill="#d24644"/>
<path d="M658.7 459.4l4.9 0.3 5.4-4.2-4.9-0.4z" fill="#df5337"/>
<path d="M412.7 471l4.8-3.1 5.6-20.3-4.7 7.6z" fill="#dd513a"/>
<path d="M391.7 499.6l4.7-10 5.8-6.2-4.6 16z" fill="#c63d4d"/>
<path d="M281 493.6l4.7 1.2 6.2 2.4-4.7 0.4z" fill="#c33b4f"/>
<path d="M603 474.3l5-2.7 5.4-1-4.9 4z" fill="#d44842"/>
<path d="M703.9 456.8l5 1.2 5.3-4-4.9-1.2zM749.1 456.8l5 1.1 5.2-4-4.9-1.1zM794.3 456.8l5 1.1 5.2-4-5-1.1zM839.5 456.8l5 1.1 5.1-4-5-1.1z" fill="#e05536"/>
<path d="M381.2 514.7l4.6-13 5.9-2.1-4.6 15.1z" fill="#ba3655"/>
<path d="M365.8 518.9l4.7-5.2 5.9 1.1-4.6 5.5z" fill="#b3325a"/>
<path d="M532.8 464.4l4.9 2.5 5.6 5.3-4.8-6.5z" fill="#d94d3d"/>
<path d="M285.7 494.8l4.8 2.8 6.4 12-5-12.4z" fill="#c03a51"/>
<path d="M683.8 458l4.9 0.9 5.4-4-4.9-1zM729 457.3l4.9 1.2 5.3-4-4.9-1.1zM774.2 457.3l5 1.2 5.2-4-5-1.1zM819.4 457.3l5 1.2 5.1-4-4.9-1.1z" fill="#e05536"/>
<path d="M330.2 527.4l4.7-1.8 6.1 4.6-4.7-0.8z" fill="#a82e5f"/>
<path d="M587.7 478.5l4.9-2.8 5.5 3.2-4.8 0.4z" fill="#d24644"/>
<path d="M537.7 466.9l4.8 3.1 5.7 5.9-4.9-3.7z" fill="#d74b3f"/>
<path d="M623.3 463.6l4.9 3.1 5.4-2.2-4.9-1.9z" fill="#db503b"/>
<path d="M663.6 459.7l4.9 0 5.5-3.9-5-0.3z" fill="#e05536"/>
<path d="M449.7 383.2l4.8-4.7 5.8 3.3-4.8-0.4z" fill="#fb9b06"/>
<path d="M643.5 462l4.9 0 5.4-3.8-4.9 0.4z" fill="#de5238"/>
<path d="M434.4 400.2l4.7-9.9 5.8-7.4-4.8 6z" fill="#fa9207"/>
<path d="M708.9 458l4.9 1.1 5.3-4-4.9-1.1zM754.1 457.9l4.9 1.1 5.3-3.9-5-1.2zM799.3 457.9l5 1.1 5.2-3.9-5-1.2zM844.5 457.9l5 1.2 5.1-4-5-1.2z" fill="#e05536"/>
<path d="M567.6 476.7l4.9-1.9 5.5 3.5-4.9 7.8z" fill="#d24644"/>
<path d="M542.5 470l4.9 3.6 5.6 4.1-4.8-1.8z" fill="#d54a41"/>
<path d="M309.9 522.5l4.7-0.7 6.2 9.3-4.7 1.5z" fill="#ab2f5e"/>
<path d="M294.6 537l4.6-7 6.2 6.4-4.6 6.9z" fill="#a22b62"/>
<path d="M688.7 458.9l4.9 0.9 5.4-4.1-4.9-0.8z" fill="#e05536"/>
<path d="M406.9 477.7l4.8-0.7 5.8-9.1-4.8 3.1z" fill="#d54a41"/>
<path d="M733.9 458.5l5 1.1 5.3-4-5-1.1zM779.2 458.5l4.9 1.1 5.3-4-5-1.1zM824.4 458.5l5 1.1 5.1-4-5-1.1z" fill="#e05536"/>
<path d="M289.5 515.9l5.1 21.1 6.2 6.3-5.1-21.7z" fill="#a82e5f"/>
<path d="M608 471.6l4.9-2.6 5.5-2.4-5 4z" fill="#d84c3e"/>
<path d="M334.9 525.6l4.8 0.3 6.1 6.3-4.8-2z" fill="#a92e5e"/>
<path d="M628.2 466.7l4.9 0.2 5.4-2.8-4.9 0.4z" fill="#db503b"/>
<path d="M370.5 513.7l4.7 0.4 6 0.6-4.8 0.1z" fill="#b63458"/>
<path d="M668.5 459.7l5 1 5.4-4-4.9-0.9z" fill="#e05536"/>
<path d="M503 445.8l4.8 6.3 5.7-0.8-4.9-7.8z" fill="#e65d2f"/>
<path d="M493.2 430.5l4.9 6.2 5.7 1.8-4.8-5.3z" fill="#ec6726"/>
<path d="M355.2 528.7l4.6-12 6 2.2-4.6 12.2z" fill="#ae305c"/>
<path d="M498.1 436.7l4.9 9.1 5.6-2.3-4.8-5z" fill="#ea632a"/>
<path d="M713.8 459.1l4.9 1.1 5.4-4-5-1.1zM759 459l5 1.2 5.2-4-4.9-1.1zM804.3 459l4.9 1.2 5.2-4-4.9-1.1zM849.5 459.1l5 1.1 5.1-4-5-1.1z" fill="#e05536"/>
<path d="M423.1 447.6l4.7-7.2 5.7-26.3-4.8 6.6z" fill="#ef6c23"/>
<path d="M648.4 462l4.9 0.8 5.4-3.4-4.9-1.2z" fill="#df5337"/>
<path d="M417.5 467.9l4.6-9.7 5.7-17.8-4.7 7.2zM507.8 452.1l4.8 2.5 5.7 0-4.8-3.3z" fill="#e35933"/>
<path d="M547.4 473.6l4.9 0.6 5.5 5.1-4.8-1.6z" fill="#d44842"/>
<path d="M428.7 420.7l4.8-6.6 5.6-23.8-4.7 9.9z" fill="#f78410"/>
<path d="M454.5 378.5l4.8 0.8 5.8-0.1-4.8 2.6z" fill="#fc9f07"/>
<path d="M488.4 421.4l4.8 9.1 5.8 2.7-4.9-15z" fill="#f1711f"/>
<path d="M592.6 475.7l4.9-3.3 5.5 1.9-4.9 4.6z" fill="#d54a41"/>
<path d="M693.6 459.8l5 1 5.3-4-4.9-1.1zM738.9 459.6l4.9 1.2 5.3-4-4.9-1.2zM784.1 459.6l5 1.2 5.2-4-4.9-1.2zM829.4 459.6l5 1.2 5.1-4-5-1.2z" fill="#e05536"/>
<path d="M396.4 489.6l4.7-4.5 5.8-7.4-4.7 5.7z" fill="#cf4446"/>
<path d="M512.6 454.6l4.9 4.1 5.7 2.4-4.9-6.5z" fill="#e15635"/>
<path d="M439.1 390.3l4.8 2.3 5.8-9.4-4.8-0.3z" fill="#fb9706"/>
<path d="M339.7 525.9l4.7 0.2 6.1 6.5-4.7-0.4z" fill="#a92e5e"/>
<path d="M673.5 460.7l4.9 1.3 5.4-4-4.9-1.3z" fill="#e05536"/>
<path d="M572.5 474.8l4.8-1.8 5.6 3.2-4.9 2.1z" fill="#d54a41"/>
<path d="M718.7 460.2l5 1.1 5.3-4-4.9-1.1zM764 460.2l4.9 1.1 5.3-4-5-1.1zM809.2 460.2l5 1.1 5.2-4-5-1.1zM854.5 460.2l5 1.1 5.1-4-5-1.1z" fill="#e05536"/>
<path d="M653.3 462.8l4.9 0.6 5.4-3.7-4.9-0.3z" fill="#df5337"/>
<path d="M633.1 466.9l4.9-1.5 5.5-3.4-5 2.1z" fill="#dd513a"/>
<path d="M517.5 458.7l4.8 3.1 5.7 0.6-4.8-1.3z" fill="#df5337"/>
<path d="M459.3 379.3l4.8 0.4 5.8 5-4.8-5.5z" fill="#fc9f07"/>
<path d="M552.3 474.2l4.8 1 5.6 2.5-4.9 1.6z" fill="#d54a41"/>
<path d="M612.9 469l4.9-1.3 5.5-4.1-4.9 3z" fill="#db503b"/>
<path d="M314.6 521.8l4.6-6.6 6.2 6.7-4.6 9.2z" fill="#b1325a"/>
<path d="M385.8 501.7l4.7-9.7 5.9-2.4-4.7 10z" fill="#c73e4c"/>
<path d="M698.6 460.8l4.9 1.2 5.4-4-5-1.2zM743.8 460.8l5 1.1 5.3-4-5-1.1z" fill="#e05536"/>
<path d="M483.5 404.1l4.9 17.3 5.7-3.2-4.8-10.7z" fill="#f67e14"/>
<path d="M789.1 460.8l5 1.1 5.2-4-5-1.1zM834.4 460.8l5 1.1 5.1-4-5-1.1z" fill="#e05536"/>
<path d="M411.7 477l4.7-4.1 5.7-14.7-4.6 9.7z" fill="#da4e3c"/>
<path d="M270.1 490.2l4.6-1.7 6.3 5.1-4.8-3z" fill="#cb4149"/>
<path d="M464.1 379.7l4.8 6 5.8 2.5-4.8-3.5z" fill="#fb9b06"/>
<path d="M678.4 462l4.9 0.8 5.4-3.9-4.9-0.9z" fill="#e05536"/>
<path d="M522.3 461.8l4.9 2.3 5.6 0.3-4.8-2z" fill="#df5337"/>
<path d="M723.7 461.3l4.9 1.2 5.3-4-4.9-1.2zM768.9 461.3l5 1.2 5.3-4-5-1.2zM814.2 461.3l5 1.2 5.2-4-5-1.2z" fill="#e05536"/>
<path d="M375.2 514.1l4.7-7.5 5.9-4.9-4.6 13z" fill="#bc3754"/>
<path d="M859.5 461.3l5 1.2 5.1-4-5-1.2z" fill="#e05536"/>
<path d="M597.5 472.4l4.9-0.6 5.6-0.2-5 2.7z" fill="#d84c3e"/>
<path d="M577.3 473l4.9 2.5 5.5 3-4.8-2.3z" fill="#d54a41"/>
<path d="M427.8 440.4l4.8-4 5.7-24.1-4.8 1.8z" fill="#f1731d"/>
<path d="M478.6 396.4l4.9 7.7 5.8 3.4-4.9-5.2z" fill="#f8890c"/>
<path d="M468.9 385.7l4.9 6.8 5.7-1.9-4.8-2.4z" fill="#fb9706"/>
<path d="M284.4 497.9l5.1 18 6.2 5.7-5.2-24z" fill="#bd3853"/>
<path d="M433.5 414.1l4.8-1.8 5.6-19.7-4.8-2.3z" fill="#f8890c"/>
<path d="M473.8 392.5l4.8 3.9 5.8 5.9-4.9-11.7z" fill="#fa9008"/>
<path d="M443.9 392.6l4.8-5.1 5.8-9-4.8 4.7z" fill="#fb9b06"/>
<path d="M658.2 463.4l4.9 0.3 5.4-4-4.9 0z" fill="#e05536"/>
<path d="M344.4 526.1l4.7-4.8 6.1 7.4-4.7 3.9z" fill="#ae305c"/>
<path d="M401.1 485.1l4.7-2 5.9-6.1-4.8 0.7z" fill="#d34743"/>
<path d="M422.1 458.2l4.8-3.8 5.7-18-4.8 4z" fill="#e8602d"/>
<path d="M638 465.4l4.9 0.5 5.5-3.9-4.9 0z" fill="#df5337"/>
<path d="M703.5 462l4.9 1.1 5.4-4-4.9-1.1zM748.8 461.9l4.9 1.1 5.3-4-4.9-1.1z" fill="#e05536"/>
<path d="M299.2 530l4.5-13.2 6.2 5.7-4.5 13.9z" fill="#ae305c"/>
<path d="M794.1 461.9l4.9 1.1 5.3-4-5-1.1zM839.4 461.9l5 1.1 5.1-3.9-5-1.2z" fill="#e05536"/>
<path d="M359.8 516.7l4.7-0.3 6-2.7-4.7 5.2z" fill="#b73557"/>
<path d="M617.8 467.7l4.9 1.4 5.5-2.4-4.9-3.1z" fill="#dd513a"/>
<path d="M557.1 475.2l4.9-1.2 5.6 2.7-4.9 1z" fill="#d74b3f"/>
<path d="M527.2 464.1l4.8 2.7 5.7 0.1-4.9-2.5z" fill="#de5238"/>
<path d="M274.7 488.5l4.8 1.2 6.2 5.1-4.7-1.2z" fill="#cb4149"/>
<path d="M683.3 462.8l4.9 0.9 5.4-3.9-4.9-0.9zM728.6 462.5l5 1.1 5.3-4-5-1.1zM773.9 462.5l5 1.1 5.2-4-4.9-1.1zM819.2 462.5l5 1.1 5.2-4-5-1.1zM864.5 462.5l5 1.1 5.1-4-5-1.1z" fill="#e05536"/>
<path d="M319.2 515.2l4.7-2.3 6.3 14.5-4.8-5.5z" fill="#b63458"/>
<path d="M582.2 475.5l4.9-0.8 5.5 1-4.9 2.8z" fill="#d74b3f"/>
<path d="M663.1 463.7l4.9 0.9 5.5-3.9-5-1z" fill="#e05536"/>
<path d="M279.5 489.7l4.9 8.2 6.1-0.3-4.8-2.8z" fill="#c83f4b"/>
<path d="M532 466.8l4.9 2.5 5.6 0.7-4.8-3.1z" fill="#dd513a"/>
<path d="M708.4 463.1l5 1.1 5.3-4-4.9-1.1zM753.7 463l5 1.2 5.3-4-5-1.2zM799 463l5 1.2 5.2-4-4.9-1.2zM844.4 463l5 1.2 5.1-4-5-1.1z" fill="#e05536"/>
<path d="M622.7 469.1l4.9 0.4 5.5-2.6-4.9-0.2z" fill="#dd513a"/>
<path d="M497.2 450.7l4.9 5.1 5.7-3.7-4.8-6.3z" fill="#e65d2f"/>
<path d="M642.9 465.9l4.9 0.6 5.5-3.7-4.9-0.8z" fill="#df5337"/>
<path d="M602.4 471.8l5-1.1 5.5-1.7-4.9 2.6z" fill="#da4e3c"/>
<path d="M492.4 443l4.8 7.7 5.8-4.9-4.9-9.1z" fill="#ea632a"/>
<path d="M487.5 438.1l4.9 4.9 5.7-6.3-4.9-6.2z" fill="#ed6925"/>
<path d="M438.3 412.3l4.7-2.8 5.7-22-4.8 5.1z" fill="#f98c0a"/>
<path d="M416.4 472.9l4.8-5.5 5.7-13-4.8 3.8z" fill="#e05536"/>
<path d="M448.7 387.5l4.8 1.3 5.8-9.5-4.8-0.8z" fill="#fc9f07"/>
<path d="M432.6 436.4l4.8-1.8 5.6-25.1-4.7 2.8z" fill="#f3761b"/>
<path d="M482.7 426.4l4.8 11.7 5.7-7.6-4.8-9.1z" fill="#f1711f"/>
<path d="M688.2 463.7l5 1.1 5.4-4-5-1z" fill="#e05536"/>
<path d="M390.5 492l4.7-4.6 5.9-2.3-4.7 4.5z" fill="#cf4446"/>
<path d="M733.6 463.6l4.9 1.2 5.3-4-4.9-1.2z" fill="#e05536"/>
<path d="M323.9 512.9l4.9 7.4 6.1 5.3-4.7 1.8z" fill="#b43359"/>
<path d="M778.9 463.6l5 1.2 5.2-4-5-1.2zM824.2 463.6l5 1.2 5.2-4-5-1.2zM869.5 463.6l5 1.2 5.1-4-5-1.2z" fill="#e05536"/>
<path d="M405.8 483.1l4.8-2.9 5.8-7.3-4.7 4.1z" fill="#d54a41"/>
<path d="M364.5 516.4l4.8-2.4 5.9 0.1-4.7-0.4z" fill="#ba3655"/>
<path d="M502.1 455.8l4.8 1 5.7-2.2-4.8-2.5z" fill="#e55c30"/>
<path d="M562 474l4.9-1.4 5.6 2.2-4.9 1.9z" fill="#d94d3d"/>
<path d="M426.9 454.4l4.8-1.5 5.7-18.3-4.8 1.8z" fill="#eb6429"/>
<path d="M536.9 469.3l4.9 2.3 5.6 2-4.9-3.6z" fill="#da4e3c"/>
<path d="M668 464.6l5 1.3 5.4-3.9-4.9-1.3zM713.4 464.2l4.9 1.1 5.4-4-5-1.1zM758.7 464.2l5 1.1 5.2-4-4.9-1.1zM804 464.2l5 1.1 5.2-4-5-1.1zM849.4 464.2l5 1.1 5.1-4-5-1.1z" fill="#e05536"/>
<path d="M647.8 466.5l4.9 0.5 5.5-3.6-4.9-0.6z" fill="#df5337"/>
<path d="M349.1 521.3l4.7-5.1 6 0.5-4.6 12z" fill="#b63458"/>
<path d="M506.9 456.8l4.9 3.7 5.7-1.8-4.9-4.1z" fill="#e35933"/>
<path d="M627.6 469.5l4.9-0.9 5.5-3.2-4.9 1.5z" fill="#de5238"/>
<path d="M453.5 388.8l4.9 1.7 5.7-10.8-4.8-0.4z" fill="#fc9f07"/>
<path d="M587.1 474.7l4.9-1.3 5.5-1-4.9 3.3z" fill="#d94d3d"/>
<path d="M328.8 520.3l4.7 1.3 6.2 4.3-4.8-0.3z" fill="#b3325a"/>
<path d="M693.2 464.8l4.9 1.2 5.4-4-4.9-1.2zM738.5 464.8l5 1.1 5.3-4-5-1.1zM783.9 464.8l4.9 1.1 5.3-4-5-1.1zM829.2 464.8l5 1.1 5.2-4-5-1.1zM874.5 464.8l5.1 1.1 5-4-5-1.1z" fill="#e05536"/>
<path d="M541.8 471.6l4.8 0.8 5.7 1.8-4.9-0.6z" fill="#da4e3c"/>
<path d="M283.2 509.8l5.1 17.4 6.3 9.8-5.1-21.1z" fill="#b43359"/>
<path d="M477.8 412.5l4.9 13.9 5.7-5-4.9-17.3z" fill="#f67e14"/>
<path d="M607.4 470.7l4.9-1.2 5.5-1.8-4.9 1.3z" fill="#dd513a"/>
<path d="M288.3 527.2l4.6-7 6.3 9.8-4.6 7z" fill="#b0315b"/>
<path d="M303.7 516.8l4.6-4.1 6.3 9.1-4.7 0.7z" fill="#b73557"/>
<path d="M379.9 506.6l4.6-13.2 6-1.4-4.7 9.7z" fill="#c83f4b"/>
<path d="M443 409.5l4.8-1.4 5.7-19.3-4.8-1.3z" fill="#fa9008"/>
<path d="M511.8 460.5l4.9 3.4 5.6-2.1-4.8-3.1z" fill="#e25734"/>
<path d="M673 465.9l4.9 0.9 5.4-4-4.9-0.8zM718.3 465.3l5 1.2 5.3-4-4.9-1.2zM763.7 465.3l4.9 1.2 5.3-4-5-1.2zM809 465.3l5 1.2 5.2-4-5-1.2zM854.4 465.3l5 1.2 5.1-4-5-1.2z" fill="#e05536"/>
<path d="M458.4 390.5l4.8 2.6 5.7-7.4-4.8-6z" fill="#fb9d07"/>
<path d="M437.4 434.6l4.8-6.2 5.6-20.3-4.8 1.4z" fill="#f57b17"/>
<path d="M566.9 472.6l4.9 0.1 5.5 0.3-4.8 1.8z" fill="#da4e3c"/>
<path d="M421.2 467.4l4.7-3.2 5.8-11.3-4.8 1.5z" fill="#e35933"/>
<path d="M395.2 487.4l4.8-0.3 5.8-4-4.7 2z" fill="#d24644"/>
<path d="M463.2 393.1l4.9 7.1 5.7-7.7-4.9-6.8z" fill="#fb9706"/>
<path d="M652.7 467l5 0.5 5.4-3.8-4.9-0.3z" fill="#e05536"/>
<path d="M468.1 400.2l4.8 5 5.7-8.8-4.8-3.9z" fill="#fa9207"/>
<path d="M431.7 452.9l4.8-2.2 5.7-22.3-4.8 6.2z" fill="#ec6726"/>
<path d="M698.1 466l5 1.1 5.3-4-4.9-1.1zM743.5 465.9l4.9 1.1 5.3-4-4.9-1.1zM788.8 465.9l5 1.2 5.2-4.1-4.9-1.1zM834.2 465.9l5 1.2 5.2-4.1-5-1.1z" fill="#e05536"/>
<path d="M472.9 405.2l4.9 7.3 5.7-8.4-4.9-7.7z" fill="#f98b0b"/>
<path d="M879.6 465.9l5 1.2 5.1-4-5.1-1.2z" fill="#e05536"/>
<path d="M516.7 463.9l4.8 2.7 5.7-2.5-4.9-2.3z" fill="#e15635"/>
<path d="M632.5 468.6l4.9 0.5 5.5-3.2-4.9-0.5z" fill="#df5337"/>
<path d="M546.6 472.4l4.9 0.4 5.6 2.4-4.8-1z" fill="#da4e3c"/>
<path d="M333.5 521.6l4.8-2.1 6.1 6.6-4.7-0.2z" fill="#b43359"/>
<path d="M410.6 480.2l4.7-6.6 5.9-6.2-4.8 5.5z" fill="#da4e3c"/>
<path d="M369.3 514l4.6-9.9 6 2.5-4.7 7.5z" fill="#c03a51"/>
<path d="M263.8 487.7l4.8 3 6.1-2.2-4.6 1.7z" fill="#d04545"/>
<path d="M612.3 469.5l4.9 2 5.5-2.4-4.9-1.4z" fill="#de5238"/>
<path d="M447.8 408.1l4.9 2.9 5.7-20.5-4.9-1.7z" fill="#fa9008"/>
<path d="M592 473.4l4.9-0.5 5.5-1.1-4.9 0.6z" fill="#db503b"/>
<path d="M677.9 466.8l4.9 0.9 5.4-4-4.9-0.9zM723.3 466.5l4.9 1.1 5.4-4-5-1.1zM768.6 466.5l5 1.1 5.3-4-5-1.1zM814 466.5l5 1.1 5.2-4-5-1.1zM859.4 466.5l5 1.1 5.1-4-5-1.1z" fill="#e05536"/>
<path d="M481.8 446.6l4.9 3.9 5.7-7.5-4.9-4.9z" fill="#eb6628"/>
<path d="M571.8 472.7l4.9 1.8 5.5 1-4.9-2.5z" fill="#db503b"/>
<path d="M442.2 428.4l4.8 5.7 5.7-23.1-4.9-2.9z" fill="#f57d15"/>
<path d="M521.5 466.6l4.9 1.9 5.6-1.7-4.8-2.7z" fill="#e05536"/>
<path d="M308.3 512.7l4.8 2 6.1 0.5-4.6 6.6z" fill="#bc3754"/>
<path d="M486.7 450.5l4.8 4.4 5.7-4.2-4.8-7.7z" fill="#e9612b"/>
<path d="M476.9 434.4l4.9 12.2 5.7-8.5-4.8-11.7z" fill="#ef6e21"/>
<path d="M657.7 467.5l4.9 1.1 5.4-4-4.9-0.9z" fill="#e05536"/>
<path d="M353.8 516.2l4.7-3.9 6 4.1-4.7 0.3z" fill="#bc3754"/>
<path d="M491.5 454.9l4.9 6.2 5.7-5.3-4.9-5.1z" fill="#e65d2f"/>
<path d="M703.1 467.1l4.9 1.1 5.4-4-5-1.1zM748.4 467l5 1.2 5.3-4-5-1.2zM793.8 467.1l5 1.1 5.2-4-5-1.2zM839.2 467.1l5 1.1 5.2-4-5-1.2zM884.6 467.1l5 1.1 5.1-4-5-1.1z" fill="#e05536"/>
<path d="M278.1 494.8l5.1 15 6.3 6.1-5.1-18z" fill="#c43c4e"/>
<path d="M452.7 411l4.8 1.1 5.7-19-4.8-2.6z" fill="#fa9008"/>
<path d="M637.4 469.1l4.9 0.8 5.5-3.4-4.9-0.6z" fill="#df5337"/>
<path d="M436.5 450.7l4.8 0.4 5.7-17-4.8-5.7z" fill="#ed6925"/>
<path d="M425.9 464.2l4.8-1.9 5.8-11.6-4.8 2.2z" fill="#e55c30"/>
<path d="M551.5 472.8l4.9 1.3 5.6-0.1-4.9 1.2z" fill="#db503b"/>
<path d="M617.2 471.5l4.9 0.7 5.5-2.7-4.9-0.4z" fill="#de5238"/>
<path d="M400 487.1l4.7-4.3 5.9-2.6-4.8 2.9z" fill="#d54a41"/>
<path d="M447 434.1l4.8 2.5 5.7-24.5-4.8-1.1z" fill="#f47918"/>
<path d="M682.8 467.7l5 1.1 5.4-4-5-1.1z" fill="#e05536"/>
<path d="M268.6 490.7l4.7-2.7 6.2 1.7-4.8-1.2z" fill="#d04545"/>
<path d="M728.2 467.6l5 1.2 5.3-4-4.9-1.2zM773.6 467.6l5 1.2 5.3-4-5-1.2zM819 467.6l5 1.2 5.2-4-5-1.2zM864.4 467.6l5 1.2 5.1-4-5-1.2z" fill="#e05536"/>
<path d="M472.1 430.1l4.8 4.3 5.8-8-4.9-13.9z" fill="#f37819"/>
<path d="M496.4 461.1l4.8 0.5 5.7-4.8-4.8-1z" fill="#e55c30"/>
<path d="M596.9 472.9l4.9 0.2 5.6-2.4-5 1.1z" fill="#dd513a"/>
<path d="M526.4 468.5l4.8 1.9 5.7-1.1-4.9-2.5z" fill="#df5337"/>
<path d="M457.5 412.1l4.8 4.2 5.8-16.1-4.9-7.1z" fill="#f98c0a"/>
<path d="M338.3 519.5l4.7-0.7 6.1 2.5-4.7 4.8z" fill="#b73557"/>
<path d="M576.7 474.5l4.8 0.4 5.6-0.2-4.9 0.8z" fill="#db503b"/>
<path d="M384.5 493.4l4.8-3.8 5.9-2.2-4.7 4.6z" fill="#d04545"/>
<path d="M662.6 468.6l4.9 1.2 5.5-3.9-5-1.3zM708 468.2l5 1.1 5.3-4-4.9-1.1zM753.4 468.2l5 1.1 5.3-4-5-1.1zM798.8 468.2l5 1.2 5.2-4.1-5-1.1zM844.2 468.2l5 1.2 5.2-4.1-5-1.1zM889.6 468.2l5.1 1.2 5-4.1-5-1.1z" fill="#e05536"/>
<path d="M441.3 451.1l4.8-0.8 5.7-13.7-4.8-2.5z" fill="#ed6925"/>
<path d="M292.9 520.2l4.5-9.9 6.3 6.5-4.5 13.2z" fill="#ba3655"/>
<path d="M273.3 488l4.8 6.8 6.3 3.1-4.9-8.2z" fill="#cf4446"/>
<path d="M462.3 416.3l4.9 0.4 5.7-11.5-4.8-5z" fill="#f8890c"/>
<path d="M467.2 416.7l4.9 13.4 5.7-17.6-4.9-7.3z" fill="#f78212"/>
<path d="M415.3 473.6l4.8-3.2 5.8-6.2-4.7 3.2z" fill="#df5337"/>
<path d="M642.3 469.9l5 0.9 5.4-3.8-4.9-0.5z" fill="#e05536"/>
<path d="M531.2 470.4l4.9 2 5.7-0.8-4.9-2.3z" fill="#de5238"/>
<path d="M358.5 512.3l4.8 0.7 6 1-4.8 2.4z" fill="#bf3952"/>
<path d="M501.2 461.6l4.9 2.6 5.7-3.7-4.9-3.7z" fill="#e45a31"/>
<path d="M687.8 468.8l4.9 1.1 5.4-3.9-4.9-1.2zM733.2 468.8l4.9 1.1 5.4-4-5-1.1zM778.6 468.8l5 1.1 5.2-4-4.9-1.1zM824 468.8l5 1.1 5.2-4-5-1.1zM869.4 468.8l5.1 1.1 5.1-4-5.1-1.1z" fill="#e05536"/>
<path d="M622.1 472.2l4.9-0.4 5.5-3.2-4.9 0.9z" fill="#df5337"/>
<path d="M451.8 436.6l4.8-6.5 5.7-13.8-4.8-4.2z" fill="#f57b17"/>
<path d="M556.4 474.1l4.9-0.2 5.6-1.3-4.9 1.4z" fill="#dd513a"/>
<path d="M313.1 514.7l4.7-4.2 6.1 2.4-4.7 2.3z" fill="#c03a51"/>
<path d="M430.7 462.3l4.8 1.1 5.8-12.3-4.8-0.4z" fill="#e65d2f"/>
<path d="M667.5 469.8l5 0.9 5.4-3.9-4.9-0.9z" fill="#e05536"/>
<path d="M601.8 473.1l4.9-0.6 5.6-3-4.9 1.2z" fill="#de5238"/>
<path d="M713 469.3l4.9 1.2 5.4-4-5-1.2zM758.4 469.3l5 1.2 5.2-4-4.9-1.2zM803.8 469.4l5 1.1 5.2-4-5-1.2zM849.2 469.4l5.1 1.1 5.1-4-5-1.2zM894.7 469.4l5 1.1 5.1-4-5.1-1.2z" fill="#e05536"/>
<path d="M581.5 474.9l4.9-0.5 5.6-1-4.9 1.3z" fill="#dd513a"/>
<path d="M506.1 464.2l4.9 3.7 5.7-4-4.9-3.4z" fill="#e35933"/>
<path d="M471.2 450.4l4.9 6.8 5.7-10.6-4.9-12.2z" fill="#eb6628"/>
<path d="M373.9 504.1l4.7-8.3 5.9-2.4-4.6 13.2z" fill="#ca404a"/>
<path d="M476.1 457.2l4.8 1.7 5.8-8.4-4.9-3.9z" fill="#e9612b"/>
<path d="M536.1 472.4l4.9 1 5.6-1-4.8-0.8z" fill="#de5238"/>
<path d="M647.3 470.8l4.9 0.6 5.5-3.9-5-0.5z" fill="#e05536"/>
<path d="M466.3 440.1l4.9 10.3 5.7-16-4.8-4.3z" fill="#ef6e21"/>
<path d="M389.3 489.6l4.8-0.1 5.9-2.4-4.8 0.3z" fill="#d34743"/>
<path d="M404.7 482.8l4.7-5.8 5.9-3.4-4.7 6.6z" fill="#da4e3c"/>
<path d="M446.1 450.3l4.8 0.1 5.7-20.3-4.8 6.5z" fill="#ee6a24"/>
<path d="M692.7 469.9l5 1.2 5.4-4-5-1.1zM738.1 469.9l5 1.2 5.3-4.1-4.9-1.1zM783.6 469.9l5 1.2 5.2-4-5-1.2zM829 469.9l5 1.2 5.2-4-5-1.2zM874.5 469.9l5 1.2 5.1-4-5-1.2z" fill="#e05536"/>
<path d="M456.6 430.1l4.9 5 5.7-18.4-4.9-0.4z" fill="#f57b17"/>
<path d="M343 518.8l4.7-6.2 6.1 3.6-4.7 5.1z" fill="#bd3853"/>
<path d="M317.8 510.5l4.7 0.5 6.3 9.3-4.9-7.4z" fill="#c03a51"/>
<path d="M627 471.8l4.9 0.8 5.5-3.5-4.9-0.5z" fill="#df5337"/>
<path d="M511 467.9l4.8 2.3 5.7-3.6-4.8-2.7z" fill="#e15635"/>
<path d="M461.5 435.1l4.8 5 5.8-10-4.9-13.4z" fill="#f3761b"/>
<path d="M480.9 458.9l4.9 4.6 5.7-8.6-4.8-4.4zM435.5 463.4l4.8-1.5 5.8-11.6-4.8 0.8z" fill="#e75e2e"/>
<path d="M561.3 473.9l4.9 0.5 5.6-1.7-4.9-0.1z" fill="#de5238"/>
<path d="M420.1 470.4l4.8-1.9 5.8-6.2-4.8 1.9z" fill="#e25734"/>
<path d="M672.5 470.7l4.9 1 5.4-4-4.9-0.9zM717.9 470.5l5 1.1 5.3-4-4.9-1.1zM763.4 470.5l4.9 1.1 5.3-4-5-1.1zM808.8 470.5l5 1.2 5.2-4.1-5-1.1zM854.3 470.5l5 1.2 5.1-4.1-5-1.1zM899.7 470.5l5 1.2 5.1-4.1-5-1.1z" fill="#e05536"/>
<path d="M606.7 472.5l4.9 1.6 5.6-2.6-4.9-2z" fill="#df5337"/>
<path d="M485.8 463.5l4.9 3.3 5.7-5.7-4.9-6.2z" fill="#e55c30"/>
<path d="M322.5 511l4.9 4.9 6.1 5.7-4.7-1.3z" fill="#bd3853"/>
<path d="M586.4 474.4l5 0.3 5.5-1.8-4.9 0.5zM541 473.4l4.9 1.2 5.6-1.8-4.9-0.4z" fill="#de5238"/>
<path d="M652.2 471.4l4.9 1 5.5-3.8-4.9-1.1zM697.7 471.1l4.9 1.1 5.4-4-4.9-1.1zM743.1 471.1l5 1.1 5.3-4-5-1.2zM788.6 471.1l5 1.1 5.2-4-5-1.1zM834 471.1l5.1 1.1 5.1-4-5-1.1zM879.5 471.1l5 1.1 5.1-4-5-1.1z" fill="#e05536"/>
<path d="M297.4 510.3l4.7-0.6 6.2 3-4.6 4.1z" fill="#c13a50"/>
<path d="M515.8 470.2l4.9 1.5 5.7-3.2-4.9-1.9z" fill="#e15635"/>
<path d="M363.3 513l4.6-8 6-0.9-4.6 9.9z" fill="#c43c4e"/>
<path d="M276.9 505.1l5 13.9 6.4 8.2-5.1-17.4z" fill="#c03a51"/>
<path d="M257.6 487.5l4.8 0.9 6.2 2.3-4.8-3z" fill="#d44842"/>
<path d="M450.9 450.4l4.9 1 5.7-16.3-4.9-5z" fill="#ef6c23"/>
<path d="M631.9 472.6l4.9 0.9 5.5-3.6-4.9-0.8z" fill="#e05536"/>
<path d="M566.2 474.4l4.9 1.3 5.6-1.2-4.9-1.8z" fill="#de5238"/>
<path d="M490.7 466.8l4.8 0.5 5.7-5.7-4.8-0.5z" fill="#e45a31"/>
<path d="M281.9 519l4.7-4.3 6.3 5.5-4.6 7z" fill="#bc3754"/>
<path d="M677.4 471.7l4.9 1.1 5.5-4-5-1.1zM722.9 471.6l4.9 1.2 5.4-4-5-1.2zM768.3 471.6l5 1.2 5.3-4-5-1.2zM813.8 471.7l5 1.1 5.2-4-5-1.2zM859.3 471.7l5 1.1 5.1-4-5-1.2z" fill="#e05536"/>
<path d="M611.6 474.1l5 0.8 5.5-2.7-4.9-0.7z" fill="#df5337"/>
<path d="M394.1 489.5l4.7-3.8 5.9-2.9-4.7 4.3z" fill="#d54a41"/>
<path d="M440.3 461.9l4.9-1.5 5.7-10-4.8-0.1z" fill="#e9612b"/>
<path d="M424.9 468.5l4.8-0.7 5.8-4.4-4.8-1.1z" fill="#e35933"/>
<path d="M455.8 451.4l4.8 4.1 5.7-15.4-4.8-5z" fill="#ee6a24"/>
<path d="M465.5 460.5l4.8 5.7 5.8-9-4.9-6.8z" fill="#e75e2e"/>
<path d="M327.4 515.9l4.7-0.3 6.2 3.9-4.8 2.1z" fill="#bf3952"/>
<path d="M460.6 455.5l4.9 5 5.7-10.1-4.9-10.3z" fill="#eb6429"/>
<path d="M520.7 471.7l4.9 1.6 5.6-2.9-4.8-1.9zM657.1 472.4l5 1.1 5.4-3.7-4.9-1.2z" fill="#e05536"/>
<path d="M545.9 474.6l4.9 1 5.6-1.5-4.9-1.3z" fill="#de5238"/>
<path d="M702.6 472.2l5 1.1 5.4-4-5-1.1zM748.1 472.2l5 1.2 5.3-4.1-5-1.1zM793.6 472.2l5 1.2 5.2-4-5-1.2zM839.1 472.2l5 1.2 5.1-4-5-1.2zM884.5 472.2l5.1 1.2 5.1-4-5.1-1.2z" fill="#e05536"/>
<path d="M591.4 474.7l4.9 0.3 5.5-1.9-4.9-0.2zM409.4 477l4.8-3.4 5.9-3.2-4.8 3.2z" fill="#df5337"/>
<path d="M347.7 512.6l4.7-3 6.1 2.7-4.7 3.9z" fill="#c33b4f"/>
<path d="M378.6 495.8l4.7-4.3 6-1.9-4.8 3.8z" fill="#d24644"/>
<path d="M495.5 467.3l4.9 1.8 5.7-4.9-4.9-2.6z" fill="#e45a31"/>
<path d="M470.3 466.2l4.9 0.3 5.7-7.6-4.8-1.7z" fill="#e55c30"/>
<path d="M262.4 488.4l4.7-1.4 6.2 1-4.7 2.7z" fill="#d54a41"/>
<path d="M636.8 473.5l5 0.8 5.5-3.5-5-0.9z" fill="#e05536"/>
<path d="M571.1 475.7l4.9 0.7 5.5-1.5-4.8-0.4z" fill="#de5238"/>
<path d="M302.1 509.7l4.8-1.4 6.2 6.4-4.8-2z" fill="#c43c4e"/>
<path d="M682.3 472.8l5 1.1 5.4-4-4.9-1.1zM727.8 472.8l5 1.1 5.3-4-4.9-1.1zM773.3 472.8l5 1.2 5.3-4.1-5-1.1zM818.8 472.8l5 1.2 5.2-4.1-5-1.1zM864.3 472.8l5 1.2 5.2-4.1-5.1-1.1z" fill="#e05536"/>
<path d="M271.9 493.9l5 11.2 6.3 4.7-5.1-15z" fill="#cc4248"/>
<path d="M616.6 474.9l4.9 0.2 5.5-3.3-4.9 0.4z" fill="#df5337"/>
<path d="M525.6 473.3l4.8 1.6 5.7-2.5-4.9-2z" fill="#e05536"/>
<path d="M445.2 460.4l4.8-0.3 5.8-8.7-4.9-1z" fill="#ea632a"/>
<path d="M662.1 473.5l4.9 0.9 5.5-3.7-5-0.9zM753.1 473.4l5 1.1 5.3-4-5-1.2zM707.6 473.3l4.9 1.2 5.4-4-4.9-1.2zM798.6 473.4l5 1.1 5.2-4-5-1.1zM844.1 473.4l5 1.1 5.2-4-5.1-1.1zM889.6 473.4l5 1.1 5.1-4-5-1.1z" fill="#e05536"/>
<path d="M500.4 469.1l4.8 2.8 5.8-4-4.9-3.7z" fill="#e35933"/>
<path d="M550.8 475.6l4.8 0.6 5.7-2.3-4.9 0.2z" fill="#df5337"/>
<path d="M429.7 467.8l4.8-2.1 5.8-3.8-4.8 1.5z" fill="#e55c30"/>
<path d="M267.1 487l4.8 6.9 6.2 0.9-4.8-6.8z" fill="#d44842"/>
<path d="M475.2 466.5l4.8 2 5.8-5-4.9-4.6z" fill="#e55c30"/>
<path d="M596.3 475l4.9 0.9 5.5-3.4-4.9 0.6z" fill="#df5337"/>
<path d="M332.1 515.6l4.8-2.1 6.1 5.3-4.7 0.7z" fill="#c03a51"/>
<path d="M641.8 474.3l4.9 0.9 5.5-3.8-4.9-0.6zM732.8 473.9l5 1.2 5.3-4-5-1.2zM778.3 474l5 1.1 5.3-4-5-1.2zM687.3 473.9l4.9 1.1 5.5-3.9-5-1.2zM823.8 474l5 1.1 5.2-4-5-1.2z" fill="#e05536"/>
<path d="M576 476.4l4.9 0.6 5.5-2.6-4.9 0.5z" fill="#df5337"/>
<path d="M869.3 474l5.1 1.1 5.1-4-5-1.2z" fill="#e05536"/>
<path d="M352.4 509.6l4.8 1.4 6.1 2-4.8-0.7z" fill="#c63d4d"/>
<path d="M398.8 485.7l4.8-5.4 5.8-3.3-4.7 5.8z" fill="#da4e3c"/>
<path d="M505.2 471.9l4.9 2.2 5.7-3.9-4.8-2.3z" fill="#e15635"/>
<path d="M414.2 473.6l4.8-2.6 5.9-2.5-4.8 1.9z" fill="#e25734"/>
<path d="M383.3 491.5l4.8 0.9 6-2.9-4.8 0.1z" fill="#d44842"/>
<path d="M530.4 474.9l4.9 1.3 5.7-2.8-4.9-1z" fill="#e05536"/>
<path d="M480 468.5l4.9 2.8 5.8-4.5-4.9-3.3z" fill="#e35933"/>
<path d="M621.5 475.1l4.9 1 5.5-3.5-4.9-0.8z" fill="#e05536"/>
<path d="M450 460.1l4.8 1.4 5.8-6-4.8-4.1z" fill="#e9612b"/>
<path d="M367.9 505l4.7-8.7 6-0.5-4.7 8.3z" fill="#ce4347"/>
<path d="M286.6 514.7l4.6-7.4 6.2 3-4.5 9.9z" fill="#c43c4e"/>
<path d="M306.9 508.3l4.6-3.5 6.3 5.7-4.7 4.2z" fill="#c73e4c"/>
<path d="M667 474.4l5 1.2 5.4-3.9-4.9-1zM758.1 474.5l4.9 1.2 5.3-4.1-4.9-1.1zM712.5 474.5l5 1.1 5.4-4-5-1.1zM803.6 474.5l5 1.2 5.2-4-5-1.2zM849.1 474.5l5 1.2 5.2-4-5-1.2zM894.6 474.5l5.1 1.2 5-4-5-1.2z" fill="#e05536"/>
<path d="M555.6 476.2l4.9 0.9 5.7-2.7-4.9-0.5z" fill="#df5337"/>
<path d="M601.2 475.9l4.9 1.2 5.5-3-4.9-1.6z" fill="#e05536"/>
<path d="M454.8 461.5l4.9 3.6 5.8-4.6-4.9-5z" fill="#e8602d"/>
<path d="M646.7 475.2l5 0.9 5.4-3.7-4.9-1zM737.8 475.1l5 1.1 5.3-4-5-1.1zM783.3 475.1l5 1.2 5.3-4.1-5-1.1zM828.8 475.1l5.1 1.2 5.2-4.1-5.1-1.1zM874.4 475.1l5 1.2 5.1-4.1-5-1.1zM692.2 475l5 1.1 5.4-3.9-4.9-1.1z" fill="#e05536"/>
<path d="M510.1 474.1l4.9 1.2 5.7-3.6-4.9-1.5z" fill="#e15635"/>
<path d="M434.5 465.7l4.8-3.3 5.9-2-4.9 1.5z" fill="#e75e2e"/>
<path d="M580.9 477l4.9 0.8 5.6-3.1-5-0.3z" fill="#df5337"/>
<path d="M484.9 471.3l4.9-0.6 5.7-3.4-4.8-0.5z" fill="#e35933"/>
<path d="M535.3 476.2l4.9 1.2 5.7-2.8-4.9-1.2z" fill="#e05536"/>
<path d="M459.7 465.1l4.8 3.4 5.8-2.3-4.8-5.7z" fill="#e55c30"/>
<path d="M626.4 476.1l4.9 0.8 5.5-3.4-4.9-0.9zM763 475.7l5 1.1 5.3-4-5-1.2zM808.6 475.7l5 1.1 5.2-4-5-1.1zM717.5 475.6l5 1.1 5.3-3.9-4.9-1.2zM672 475.6l4.9 1 5.4-3.8-4.9-1.1zM854.1 475.7l5.1 1.2 5.1-4.1-5-1.1z" fill="#e05536"/>
<path d="M336.9 513.5l4.7-3.6 6.1 2.7-4.7 6.2z" fill="#c43c4e"/>
<path d="M560.5 477.1l4.9 1.2 5.7-2.6-4.9-1.3z" fill="#df5337"/>
<path d="M419 471l4.8-0.8 5.9-2.4-4.8 0.7z" fill="#e35933"/>
<path d="M388.1 492.4l4.8-2.8 5.9-3.9-4.7 3.8z" fill="#d74b3f"/>
<path d="M606.1 477.1l4.9 0.6 5.6-2.8-5-0.8z" fill="#e05536"/>
<path d="M311.5 504.8l4.9 3.7 6.1 2.5-4.7-0.5zM357.2 511l4.7-5.3 6-0.7-4.6 8z" fill="#c83f4b"/>
<path d="M251.4 487.8l4.8 1.6 6.2-1-4.8-0.9z" fill="#d84c3e"/>
<path d="M651.7 476.1l4.9 0.8 5.5-3.4-5-1.1zM742.8 476.2l4.9 1.2 5.4-4-5-1.2zM788.3 476.3l5 1.1 5.3-4-5-1.2zM833.9 476.3l5 1.1 5.2-4-5-1.2zM879.4 476.3l5.1 1.1 5.1-4-5.1-1.2z" fill="#e05536"/>
<path d="M697.2 476.1l5 1.1 5.4-3.9-5-1.1zM515 475.3l4.9 1.2 5.7-3.2-4.9-1.6z" fill="#e15635"/>
<path d="M403.6 480.3l4.7-2.9 5.9-3.8-4.8 3.4z" fill="#df5337"/>
<path d="M464.5 468.5l4.9-1.5 5.8-0.5-4.9-0.3z" fill="#e55c30"/>
<path d="M540.2 477.4l4.9 1 5.7-2.8-4.9-1zM585.8 477.8l4.9 0.6 5.6-3.4-4.9-0.3z" fill="#e05536"/>
<path d="M489.8 470.7l4.8 1.1 5.8-2.7-4.9-1.8z" fill="#e35933"/>
<path d="M631.3 476.9l5 0.9 5.5-3.5-5-0.8z" fill="#e05536"/>
<path d="M316.4 508.5l4.8 4 6.2 3.4-4.9-4.9z" fill="#c73e4c"/>
<path d="M768 476.8l5 1.2 5.3-4-5-1.2zM813.6 476.8l5 1.2 5.2-4-5-1.2z" fill="#e05536"/>
<path d="M291.2 507.3l4.7-1 6.2 3.4-4.7 0.6z" fill="#ca404a"/>
<path d="M722.5 476.7l4.9 1.2 5.4-4-5-1.1zM859.2 476.9l5 1.1 5.1-4-5-1.2z" fill="#e05536"/>
<path d="M676.9 476.6l5 1 5.4-3.7-5-1.1z" fill="#e15635"/>
<path d="M372.6 496.3l4.8-2.1 5.9-2.7-4.7 4.3z" fill="#d44842"/>
<path d="M439.3 462.4l4.8-1 5.9-1.3-4.8 0.3z" fill="#e9612b"/>
<path d="M565.4 478.3l4.9 1 5.7-2.9-4.9-0.7z" fill="#df5337"/>
<path d="M270.7 502.8l4.9 11.3 6.3 4.9-5-13.9z" fill="#c83f4b"/>
<path d="M611 477.7l4.9 0.8 5.6-3.4-4.9-0.2zM747.7 477.4l5 1.1 5.4-4-5-1.1zM793.3 477.4l5 1.2 5.3-4.1-5-1.1zM838.9 477.4l5 1.2 5.2-4.1-5-1.1zM884.5 477.4l5 1.2 5.1-4.1-5-1.1z" fill="#e05536"/>
<path d="M702.2 477.2l4.9 1.2 5.4-3.9-4.9-1.2zM656.6 476.9l4.9 1 5.5-3.5-4.9-0.9zM519.9 476.5l4.8 1.2 5.7-2.8-4.8-1.6z" fill="#e15635"/>
<path d="M256.2 489.4l4.7-0.6 6.2-1.8-4.7 1.4z" fill="#d84c3e"/>
<path d="M494.6 471.8l4.9 2.2 5.7-2.1-4.8-2.8z" fill="#e35933"/>
<path d="M275.6 514.1l4.7-2.4 6.3 3-4.7 4.3z" fill="#c63d4d"/>
<path d="M469.4 467l4.9 2.8 5.7-1.3-4.8-2zM423.8 470.2l4.8-2.7 5.9-1.8-4.8 2.1z" fill="#e55c30"/>
<path d="M321.2 512.5l4.8-0.7 6.1 3.8-4.7 0.3z" fill="#c63d4d"/>
<path d="M545.1 478.4l4.9 1 5.6-3.2-4.8-0.6zM590.7 478.4l4.9 0.9 5.6-3.4-4.9-0.9z" fill="#e05536"/>
<path d="M341.6 509.9l4.7-1.1 6.1 0.8-4.7 3z" fill="#c83f4b"/>
<path d="M636.3 477.8l4.9 0.9 5.5-3.5-4.9-0.9zM773 478l5 1.2 5.3-4.1-5-1.1zM727.4 477.9l5 1.2 5.4-4-5-1.2zM818.6 478l5 1.2 5.2-4.1-5-1.1zM864.2 478l5 1.2 5.2-4.1-5.1-1.1z" fill="#e05536"/>
<path d="M681.9 477.6l4.9 1 5.4-3.6-4.9-1.1z" fill="#e15635"/>
<path d="M392.9 489.6l4.8-4.4 5.9-4.9-4.8 5.4z" fill="#db503b"/>
<path d="M265.7 491.8l5 11 6.2 2.3-5-11.2z" fill="#d24644"/>
<path d="M570.3 479.3l5 0.7 5.6-3-4.9-0.6z" fill="#e05536"/>
<path d="M444.1 461.4l4.9 0.2 5.8-0.1-4.8-1.4z" fill="#e9612b"/>
<path d="M408.3 477.4l4.8-2.8 5.9-3.6-4.8 2.6zM499.5 474l4.9 2.3 5.7-2.2-4.9-2.2z" fill="#e25734"/>
<path d="M260.9 488.8l4.8 3 6.2 2.1-4.8-6.9z" fill="#d84c3e"/>
<path d="M615.9 478.5l5 0.9 5.5-3.3-4.9-1z" fill="#e05536"/>
<path d="M295.9 506.3l4.7-2.5 6.3 4.5-4.8 1.4z" fill="#cc4248"/>
<path d="M474.3 469.8l4.8 2.4 5.8-0.9-4.9-2.8z" fill="#e45a31"/>
<path d="M752.7 478.5l5 1.2 5.3-4-4.9-1.2zM798.3 478.6l5 1.1 5.3-4-5-1.2zM843.9 478.6l5.1 1.1 5.1-4-5-1.2z" fill="#e05536"/>
<path d="M524.7 477.7l4.9 1.3 5.7-2.8-4.9-1.3z" fill="#e15635"/>
<path d="M889.5 478.6l5.1 1.2 5.1-4.1-5.1-1.2z" fill="#e05536"/>
<path d="M707.1 478.4l5 1.1 5.4-3.9-5-1.1zM661.5 477.9l5 1.4 5.5-3.7-5-1.2z" fill="#e15635"/>
<path d="M377.4 494.2l4.8 0.6 5.9-2.4-4.8-0.9z" fill="#d54a41"/>
<path d="M550 479.4l4.9 1.1 5.6-3.4-4.9-0.9zM595.6 479.3l4.9 0.7 5.6-2.9-4.9-1.2z" fill="#e05536"/>
<path d="M361.9 505.7l4.7-7.8 6-1.6-4.7 8.7z" fill="#d04545"/>
<path d="M778 479.2l5 1.1 5.3-4-5-1.2zM732.4 479.1l5 1.2 5.4-4.1-5-1.1zM823.6 479.2l5.1 1.1 5.2-4-5.1-1.2zM869.2 479.2l5.1 1.1 5.1-4-5-1.2z" fill="#e05536"/>
<path d="M641.2 478.7l5 1.1 5.5-3.7-5-0.9zM686.8 478.6l5 1.1 5.4-3.6-5-1.1z" fill="#e15635"/>
<path d="M326 511.8l4.8 0.6 6.1 1.1-4.8 2.1z" fill="#c73e4c"/>
<path d="M346.3 508.8l4.8 0.5 6.1 1.7-4.8-1.4z" fill="#cb4149"/>
<path d="M449 461.6l4.8 2.1 5.9 1.4-4.9-3.6z" fill="#e9612b"/>
<path d="M575.3 480l4.9 0.9 5.6-3.1-4.9-0.8z" fill="#e05536"/>
<path d="M504.4 476.3l4.9 0.2 5.7-1.2-4.9-1.2z" fill="#e25734"/>
<path d="M529.6 479l4.9 1.3 5.7-2.9-4.9-1.2zM757.7 479.7l5 1.2 5.3-4.1-5-1.1zM803.3 479.7l5.1 1.2 5.2-4.1-5-1.1zM849 479.7l5 1.2 5.2-4-5.1-1.2z" fill="#e05536"/>
<path d="M620.9 479.4l4.9 0.7 5.5-3.2-4.9-0.8zM712.1 479.5l5 1.1 5.4-3.9-5-1.1zM666.5 479.3l5 0.9 5.4-3.6-4.9-1z" fill="#e15635"/>
<path d="M428.6 467.5l4.8-6 5.9 0.9-4.8 3.3z" fill="#e8602d"/>
<path d="M479.1 472.2l4.9-5 5.8 3.5-4.9 0.6z" fill="#e55c30"/>
<path d="M453.8 463.7l4.9 4.7 5.8 0.1-4.8-3.4z" fill="#e75e2e"/>
<path d="M280.3 511.7l4.6-7.1 6.3 2.7-4.6 7.4z" fill="#cb4149"/>
<path d="M382.2 494.8l4.8-1.2 5.9-4-4.8 2.8z" fill="#d84c3e"/>
<path d="M554.9 480.5l4.9 1 5.6-3.2-4.9-1.2z" fill="#e05536"/>
<path d="M413.1 474.6l4.8-1.8 5.9-2.6-4.8 0.8z" fill="#e45a31"/>
<path d="M600.5 480l5 0.8 5.5-3.1-4.9-0.6z" fill="#e05536"/>
<path d="M300.6 503.8l4.8 0.7 6.1 0.3-4.6 3.5z" fill="#cf4446"/>
<path d="M783 480.3l5.1 1.2 5.2-4.1-5-1.1zM828.7 480.3l5 1.2 5.2-4.1-5-1.1zM737.4 480.3l5 1.1 5.3-4-4.9-1.2zM874.3 480.3l5.1 1.2 5.1-4.1-5.1-1.1z" fill="#e05536"/>
<path d="M691.8 479.7l5 1.2 5.4-3.7-5-1.1z" fill="#e15635"/>
<path d="M397.7 485.2l4.7-2.4 5.9-5.4-4.7 2.9z" fill="#df5337"/>
<path d="M646.2 479.8l4.9 0.2 5.5-3.1-4.9-0.8z" fill="#e15635"/>
<path d="M509.3 476.5l4.8 0.8 5.8-0.8-4.9-1.2z" fill="#e25734"/>
<path d="M245.2 489.8l4.7 1.3 6.3-1.7-4.8-1.6z" fill="#da4e3c"/>
<path d="M580.2 480.9l4.9 0.9 5.6-3.4-4.9-0.6zM534.5 480.3l4.9 1.2 5.7-3.1-4.9-1zM762.7 480.9l5 1.1 5.3-4-5-1.2zM808.4 480.9l5 1.2 5.2-4.1-5-1.2zM854 480.9l5.1 1.2 5.1-4.1-5-1.1z" fill="#e05536"/>
<path d="M717.1 480.6l5 1.2 5.3-3.9-4.9-1.2zM625.8 480.1l5 0.8 5.5-3.1-5-0.9zM671.5 480.2l4.9 0.8 5.5-3.4-5-1z" fill="#e15635"/>
<path d="M330.8 512.4l4.7-4.4 6.1 1.9-4.7 3.6z" fill="#cb4149"/>
<path d="M351.1 509.3l4.7-5.3 6.1 1.7-4.7 5.3z" fill="#ce4347"/>
<path d="M559.8 481.5l4.9 1 5.6-3.2-4.9-1z" fill="#e05536"/>
<path d="M305.4 504.5l4.8 4.5 6.2-0.5-4.9-3.7z" fill="#ce4347"/>
<path d="M458.7 468.4l4.8-5.5 5.9 4.1-4.9 1.5z" fill="#e8602d"/>
<path d="M788.1 481.5l5 1.1 5.2-4-5-1.2zM833.7 481.5l5 1.1 5.2-4-5-1.2zM742.4 481.4l5 1.1 5.3-4-5-1.1zM879.4 481.5l5 1.2 5.1-4.1-5-1.2z" fill="#e05536"/>
<path d="M605.5 480.8l4.9 1 5.5-3.3-4.9-0.8z" fill="#e15635"/>
<path d="M366.6 497.9l4.8-1.7 6-2-4.8 2.1z" fill="#d54a41"/>
<path d="M696.8 480.9l4.9 1.2 5.4-3.7-4.9-1.2z" fill="#e15635"/>
<path d="M484 467.2l4.8-1 5.8 5.6-4.8-1.1z" fill="#e75e2e"/>
<path d="M651.1 480l5 0.9 5.4-3-4.9-1z" fill="#e15635"/>
<path d="M433.4 461.5l4.9 0.2 5.8-0.3-4.8 1z" fill="#eb6429"/>
<path d="M585.1 481.8l4.9 1 5.6-3.5-4.9-0.9z" fill="#e05536"/>
<path d="M514.1 477.3l4.9-0.1 5.7 0.5-4.8-1.2z" fill="#e25734"/>
<path d="M539.4 481.5l4.9 1.2 5.7-3.3-4.9-1zM767.7 482l5 1.2 5.3-4-5-1.2zM813.4 482.1l5 1.1 5.2-4-5-1.2zM859.1 482.1l5 1.1 5.1-4-5-1.2z" fill="#e05536"/>
<path d="M722.1 481.8l5 1.3 5.3-4-5-1.2z" fill="#e15635"/>
<path d="M249.9 491.1l4.8 0 6.2-2.3-4.7 0.6z" fill="#da4e3c"/>
<path d="M417.9 472.8l4.8-2.9 5.9-2.4-4.8 2.7z" fill="#e65d2f"/>
<path d="M310.2 509l4.8 1.2 6.2 2.3-4.8-4z" fill="#cc4248"/>
<path d="M630.8 480.9l4.9 1.4 5.5-3.6-4.9-0.9zM676.4 481l5 0.9 5.4-3.3-4.9-1z" fill="#e15635"/>
<path d="M387 493.6l4.7-3.8 6-4.6-4.8 4.4z" fill="#db503b"/>
<path d="M284.9 504.6l4.8 0.5 6.2 1.2-4.7 1z" fill="#cf4446"/>
<path d="M402.4 482.8l4.8-2 5.9-6.2-4.8 2.8z" fill="#e25734"/>
<path d="M564.7 482.5l4.9 1 5.7-3.5-5-0.7zM793.1 482.6l5 1.2 5.2-4.1-5-1.1zM838.7 482.6l5.1 1.2 5.2-4.1-5.1-1.1zM747.4 482.5l5 1.2 5.3-4-5-1.2z" fill="#e05536"/>
<path d="M488.8 466.2l4.9 5.5 5.8 2.3-4.9-2.2z" fill="#e65d2f"/>
<path d="M884.4 482.7l5.1 1.1 5.1-4-5.1-1.2z" fill="#e05536"/>
<path d="M701.7 482.1l5 1.1 5.4-3.7-5-1.1z" fill="#e15635"/>
<path d="M264.4 501.7l4.9 8.1 6.3 4.3-4.9-11.3z" fill="#cf4446"/>
<path d="M610.4 481.8l4.9 0.7 5.6-3.1-5-0.9zM656.1 480.9l4.9 1.7 5.5-3.3-5-1.4z" fill="#e15635"/>
<path d="M463.5 462.9l4.9 0.8 5.9 6.1-4.9-2.8z" fill="#e9612b"/>
<path d="M371.4 496.2l4.8 0.9 6-2.3-4.8-0.6z" fill="#d84c3e"/>
<path d="M335.5 508l4.7-0.7 6.1 1.5-4.7 1.1z" fill="#ce4347"/>
<path d="M772.7 483.2l5 1.2 5.3-4.1-5-1.1z" fill="#e05536"/>
<path d="M544.3 482.7l4.9 1.2 5.7-3.4-4.9-1.1z" fill="#e15635"/>
<path d="M818.4 483.2l5.1 1.2 5.2-4.1-5.1-1.1z" fill="#e05536"/>
<path d="M519 477.2l4.9 1.8 5.7 0-4.9-1.3z" fill="#e25734"/>
<path d="M254.7 491.1l4.8 2.9 6.2-2.2-4.8-3z" fill="#da4e3c"/>
<path d="M864.1 483.2l5.1 1.2 5.1-4.1-5.1-1.1z" fill="#e05536"/>
<path d="M727.1 483.1l4.9 1.1 5.4-3.9-5-1.2z" fill="#e15635"/>
<path d="M315 510.2l4.8 0.5 6.2 1.1-4.8 0.7z" fill="#cc4248"/>
<path d="M590 482.8l4.9 0.4 5.6-3.2-4.9-0.7z" fill="#e15635"/>
<path d="M259.5 494l4.9 7.7 6.3 1.1-5-11z" fill="#d74b3f"/>
<path d="M269.3 509.8l4.8-1.8 6.2 3.7-4.7 2.4z" fill="#cc4248"/>
<path d="M493.7 471.7l4.9 2.9 5.8 1.7-4.9-2.3z" fill="#e55c30"/>
<path d="M635.7 482.3l4.9 0.6 5.6-3.1-5-1.1zM681.4 481.9l5 0.9 5.4-3.1-5-1.1z" fill="#e15635"/>
<path d="M438.3 461.7l4.8-6.9 5.9 6.8-4.9-0.2z" fill="#ec6726"/>
<path d="M798.1 483.8l5 1.2 5.3-4.1-5.1-1.2z" fill="#e05536"/>
<path d="M569.6 483.5l4.9 0.9 5.7-3.5-4.9-0.9z" fill="#e15635"/>
<path d="M843.8 483.8l5 1.2 5.2-4.1-5-1.2zM752.4 483.7l5 1.2 5.3-4-5-1.2z" fill="#e05536"/>
<path d="M355.8 504l4.8-4.8 6-1.3-4.7 7.8z" fill="#d44842"/>
<path d="M706.7 483.2l5 1 5.4-3.6-5-1.1z" fill="#e15635"/>
<path d="M289.7 505.1l4.8-1 6.1-0.3-4.7 2.5z" fill="#d24644"/>
<path d="M661 482.6l5 0.7 5.5-3.1-5-0.9zM615.3 482.5l5 0.4 5.5-2.8-4.9-0.7z" fill="#e15635"/>
<path d="M468.4 463.7l4.9-0.8 5.8 9.3-4.8-2.4z" fill="#e9612b"/>
<path d="M407.2 480.8l4.9-1.6 5.8-6.4-4.8 1.8z" fill="#e45a31"/>
<path d="M422.7 469.9l4.9-2.6 5.8-5.8-4.8 6z" fill="#ea632a"/>
<path d="M391.7 489.8l4.8-1.7 5.9-5.3-4.7 2.4z" fill="#de5238"/>
<path d="M523.9 479l4.9 1.6 5.7-0.3-4.9-1.3z" fill="#e25734"/>
<path d="M777.7 484.4l5.1 1.1 5.3-4-5.1-1.2zM823.5 484.4l5 1.2 5.2-4.1-5-1.2zM869.2 484.4l5 1.2 5.2-4.1-5.1-1.2z" fill="#e05536"/>
<path d="M732 484.2l5 1.1 5.4-3.9-5-1.1zM549.2 483.9l4.9 0.8 5.7-3.2-4.9-1z" fill="#e15635"/>
<path d="M376.2 497.1l4.8-1.2 6-2.3-4.8 1.2z" fill="#d94d3d"/>
<path d="M340.2 507.3l4.8 1.3 6.1 0.7-4.8-0.5z" fill="#cf4446"/>
<path d="M594.9 483.2l5 0.5 5.6-2.9-5-0.8zM686.4 482.8l4.9 1.3 5.5-3.2-5-1.2z" fill="#e15635"/>
<path d="M498.6 474.6l4.9-3.7 5.8 5.6-4.9-0.2z" fill="#e55c30"/>
<path d="M319.8 510.7l4.8-0.8 6.2 2.5-4.8-0.6z" fill="#ce4347"/>
<path d="M640.6 482.9l5-0.8 5.5-2.1-4.9-0.2z" fill="#e25734"/>
<path d="M443.1 454.8l4.8 5 5.9 3.9-4.8-2.1z" fill="#ed6925"/>
<path d="M803.1 485l5 1.1 5.3-4-5-1.2zM757.4 484.9l5 1.2 5.3-4.1-5-1.1zM848.8 485l5.1 1.1 5.2-4-5.1-1.2z" fill="#e05536"/>
<path d="M574.5 484.4l5 1 5.6-3.6-4.9-0.9zM711.7 484.2l5 1.2 5.4-3.6-5-1.2zM666 483.3l5 0.3 5.4-2.6-4.9-0.8z" fill="#e15635"/>
<path d="M620.3 482.9l4.9 0.7 5.6-2.7-5-0.8z" fill="#e25734"/>
<path d="M238.9 491.7l4.8 0.7 6.2-1.3-4.7-1.3z" fill="#db503b"/>
<path d="M528.8 480.6l4.9 1.1 5.7-0.2-4.9-1.2z" fill="#e25734"/>
<path d="M294.5 504.1l4.7-1 6.2 1.4-4.8-0.7z" fill="#d34743"/>
<path d="M782.8 485.5l5 1.2 5.3-4.1-5-1.1zM828.5 485.6l5 1.1 5.2-4.1-5-1.1zM874.2 485.6l5.1 1.1 5.1-4-5-1.2z" fill="#e05536"/>
<path d="M737 485.3l5 1.1 5.4-3.9-5-1.1z" fill="#e15635"/>
<path d="M274.1 508l4.6-4.7 6.2 1.3-4.6 7.1z" fill="#d24644"/>
<path d="M554.1 484.7l5 0.9 5.6-3.1-4.9-1z" fill="#e15635"/>
<path d="M447.9 459.8l4.9 1.5 5.9 7.1-4.9-4.7z" fill="#eb6628"/>
<path d="M691.3 484.1l5 1.4 5.4-3.4-4.9-1.2zM599.9 483.7l4.9 1.2 5.6-3.1-4.9-1z" fill="#e15635"/>
<path d="M412.1 479.2l4.8-1.1 5.8-8.2-4.8 2.9z" fill="#e65d2f"/>
<path d="M396.5 488.1l4.9-0.9 5.8-6.4-4.8 2z" fill="#e05536"/>
<path d="M645.6 482.1l5 0.6 5.5-1.8-5-0.9z" fill="#e25734"/>
<path d="M808.1 486.1l5.1 1.2 5.2-4.1-5-1.1zM762.4 486.1l5 1.2 5.3-4.1-5-1.2zM853.9 486.1l5 1.2 5.2-4.1-5-1.1z" fill="#e05536"/>
<path d="M360.6 499.2l4.8-2.2 6-0.8-4.8 1.7z" fill="#d84c3e"/>
<path d="M473.3 462.9l4.8-8.7 5.9 13-4.9 5z" fill="#eb6628"/>
<path d="M716.7 485.4l5 1.4 5.4-3.7-5-1.3zM579.5 485.4l4.9 0.9 5.6-3.5-4.9-1z" fill="#e15635"/>
<path d="M503.5 470.9l4.9-3.3 5.7 9.7-4.8-0.8z" fill="#e75e2e"/>
<path d="M345 508.6l4.8-5.3 6 0.7-4.7 5.3z" fill="#d24644"/>
<path d="M381 495.9l4.8-3.6 5.9-2.5-4.7 3.8z" fill="#db503b"/>
<path d="M625.2 483.6l5 1.6 5.5-2.9-4.9-1.4z" fill="#e25734"/>
<path d="M324.6 509.9l4.7-2.9 6.2 1-4.7 4.4z" fill="#d04545"/>
<path d="M533.7 481.7l4.9 2.8 5.7-1.8-4.9-1.2zM671 483.6l4.9 0.6 5.5-2.3-5-0.9z" fill="#e25734"/>
<path d="M299.2 503.1l4.8 3.5 6.2 2.4-4.8-4.5z" fill="#d34743"/>
<path d="M427.6 467.3l4.7-8.3 6 2.7-4.9-0.2z" fill="#ec6726"/>
<path d="M243.7 492.4l4.8 0.9 6.2-2.2-4.8 0z" fill="#dd513a"/>
<path d="M787.8 486.7l5 1.2 5.3-4.1-5-1.2zM833.5 486.7l5.1 1.2 5.2-4.1-5.1-1.2zM879.3 486.7l5.1 1.2 5.1-4.1-5.1-1.1z" fill="#e05536"/>
<path d="M742 486.4l5 1.2 5.4-3.9-5-1.2zM559.1 485.6l4.9 1.2 5.6-3.3-4.9-1zM696.3 485.5l5 0.9 5.4-3.2-5-1.1zM604.8 484.9l5 0.5 5.5-2.9-4.9-0.7z" fill="#e15635"/>
<path d="M650.6 482.7l4.9 2.6 5.5-2.7-4.9-1.7z" fill="#e25734"/>
<path d="M767.4 487.3l5 1.1 5.3-4-5-1.2zM813.2 487.3l5 1.2 5.3-4.1-5.1-1.2zM858.9 487.3l5.1 1.2 5.2-4.1-5.1-1.2z" fill="#e05536"/>
<path d="M721.7 486.8l5 1.1 5.3-3.7-4.9-1.1z" fill="#e15635"/>
<path d="M304 506.6l4.8 1.3 6.2 2.3-4.8-1.2z" fill="#d24644"/>
<path d="M452.8 461.3l4.8-8.6 5.9 10.2-4.8 5.5z" fill="#ed6925"/>
<path d="M584.4 486.3l4.9-0.1 5.6-3-4.9-0.4z" fill="#e15635"/>
<path d="M278.7 503.3l4.8 0.6 6.2 1.2-4.8-0.5z" fill="#d44842"/>
<path d="M538.6 484.5l4.9 1.5 5.7-2.1-4.9-1.2z" fill="#e15635"/>
<path d="M365.4 497l4.8 1.4 6-1.3-4.8-0.9z" fill="#d94d3d"/>
<path d="M630.2 485.2l4.9-0.1 5.5-2.2-4.9-0.6zM401.4 487.2l4.8-0.2 5.9-7.8-4.9 1.6z" fill="#e25734"/>
<path d="M248.5 493.3l4.8 2.3 6.2-1.6-4.8-2.9z" fill="#db503b"/>
<path d="M675.9 484.2l5 0.4 5.5-1.8-5-0.9z" fill="#e25734"/>
<path d="M792.8 487.9l5 1.1 5.3-4-5-1.2zM838.6 487.9l5 1.2 5.2-4.1-5-1.2z" fill="#e05536"/>
<path d="M747 487.6l5.1 1.2 5.3-3.9-5-1.2z" fill="#e15635"/>
<path d="M416.9 478.1l4.8-3.9 5.9-6.9-4.9 2.6zM508.4 467.6l4.9-0.2 5.7 9.8-4.9 0.1z" fill="#e8602d"/>
<path d="M564 486.8l4.9 1 5.6-3.4-4.9-0.9z" fill="#e15635"/>
<path d="M258.2 501.7l4.8 6.1 6.3 2-4.9-8.1z" fill="#d44842"/>
<path d="M701.3 486.4l5 0.7 5.4-2.9-5-1z" fill="#e15635"/>
<path d="M253.3 495.6l4.9 6.1 6.2 0-4.9-7.7z" fill="#d94d3d"/>
<path d="M655.5 485.3l5 0.2 5.5-2.2-5-0.7z" fill="#e25734"/>
<path d="M329.3 507l4.8 0.2 6.1 0.1-4.7 0.7z" fill="#d34743"/>
<path d="M609.8 485.4l4.9-0.3 5.6-2.2-5-0.4z" fill="#e25734"/>
<path d="M385.8 492.3l4.8-0.8 5.9-3.4-4.8 1.7z" fill="#de5238"/>
<path d="M478.1 454.2l4.9-1.1 5.8 13.1-4.8 1z" fill="#ee6a24"/>
<path d="M772.4 488.4l5.1 1.2 5.3-4.1-5.1-1.1zM818.2 488.5l5.1 1.1 5.2-4-5-1.2zM864 488.5l5.1 1.1 5.1-4-5-1.2z" fill="#e05536"/>
<path d="M726.7 487.9l5 0.9 5.3-3.5-5-1.1z" fill="#e15635"/>
<path d="M308.8 507.9l4.9 1.6 6.1 1.2-4.8-0.5z" fill="#d24644"/>
<path d="M432.3 459l4.9 1.6 5.9-5.8-4.8 6.9z" fill="#ef6c23"/>
<path d="M543.5 486l5-0.1 5.6-1.2-4.9-0.8z" fill="#e25734"/>
<path d="M349.8 503.3l4.7-3.3 6.1-0.8-4.8 4.8z" fill="#d74b3f"/>
<path d="M589.3 486.2l5 0 5.6-2.5-5-0.5z" fill="#e25734"/>
<path d="M263 507.8l4.8-1.1 6.3 1.3-4.8 1.8z" fill="#d34743"/>
<path d="M680.9 484.6l5 1.8 5.4-2.3-4.9-1.3z" fill="#e25734"/>
<path d="M797.8 489l5.1 1.2 5.2-4.1-5-1.1zM843.6 489.1l5.1 1.1 5.2-4.1-5.1-1.1z" fill="#e05536"/>
<path d="M752.1 488.8l5 1.2 5.3-3.9-5-1.2z" fill="#e15635"/>
<path d="M283.5 503.9l4.7-1.8 6.3 2-4.8 1z" fill="#d54a41"/>
<path d="M370.2 498.4l4.8-2 6-0.5-4.8 1.2z" fill="#da4e3c"/>
<path d="M513.3 467.4l4.9 3 5.7 8.6-4.9-1.8z" fill="#e8602d"/>
<path d="M568.9 487.8l4.9 1 5.7-3.4-5-1z" fill="#e15635"/>
<path d="M635.1 485.1l5-2.5 5.5-0.5-5 0.8zM406.2 487l4.8-0.4 5.9-8.5-4.8 1.1z" fill="#e35933"/>
<path d="M706.3 487.1l5 1.2 5.4-2.9-5-1.2z" fill="#e15635"/>
<path d="M483 453.1l4.9 3.6 5.8 15-4.9-5.5z" fill="#ee6a24"/>
<path d="M457.6 452.7l4.9-0.7 5.9 11.7-4.9-0.8z" fill="#ef6e21"/>
<path d="M777.5 489.6l5 1.2 5.3-4.1-5-1.2zM823.3 489.6l5 1.2 5.2-4.1-5-1.1zM869.1 489.6l5 1.2 5.2-4.1-5.1-1.1z" fill="#e05536"/>
<path d="M334.1 507.2l4.8 0.5 6.1 0.9-4.8-1.3z" fill="#d44842"/>
<path d="M660.5 485.5l5-0.5 5.5-1.4-5-0.3zM614.7 485.1l5 0.6 5.5-2.1-4.9-0.7z" fill="#e35933"/>
<path d="M731.7 488.8l5 1.1 5.3-3.5-5-1.1z" fill="#e15635"/>
<path d="M232.7 493.9l4.8 1 6.2-2.5-4.8-0.7z" fill="#de5238"/>
<path d="M313.7 509.5l4.7-1.6 6.2 2-4.8 0.8z" fill="#d34743"/>
<path d="M390.6 491.5l4.8-0.7 6-3.6-4.9 0.9z" fill="#e05536"/>
<path d="M487.9 456.7l4.9 3.6 5.8 14.3-4.9-2.9z" fill="#ec6726"/>
<path d="M548.5 485.9l4.9 1.5 5.7-1.8-5-0.9zM685.9 486.4l5 1.4 5.4-2.3-5-1.4z" fill="#e25734"/>
<path d="M518.2 470.4l4.9 2.2 5.7 8-4.9-1.6z" fill="#e8602d"/>
<path d="M437.2 460.6l4.9-0.8 5.8 0-4.8-5z" fill="#ef6e21"/>
<path d="M594.3 486.2l4.9 1.5 5.6-2.8-4.9-1.2z" fill="#e25734"/>
<path d="M421.7 474.2l4.8-0.7 5.8-14.5-4.7 8.3z" fill="#eb6628"/>
<path d="M802.9 490.2l5 1.2 5.3-4.1-5.1-1.2zM848.7 490.2l5.1 1.2 5.1-4.1-5-1.2zM757.1 490l5 1.3 5.3-4-5-1.2z" fill="#e05536"/>
<path d="M711.3 488.3l5 1.9 5.4-3.4-5-1.4zM573.8 488.8l5 1 5.6-3.5-4.9-0.9z" fill="#e15635"/>
<path d="M288.2 502.1l4.8-0.2 6.2 1.2-4.7 1z" fill="#d84c3e"/>
<path d="M782.5 490.8l5 1.1 5.3-4-5-1.2zM828.3 490.8l5.1 1.2 5.2-4.1-5.1-1.2zM874.1 490.8l5.1 1.2 5.2-4.1-5.1-1.2z" fill="#e05536"/>
<path d="M640.1 482.6l5 0 5.5 0.1-5-0.6z" fill="#e45a31"/>
<path d="M354.5 500l4.8-0.8 6.1-2.2-4.8 2.2z" fill="#da4e3c"/>
<path d="M267.8 506.7l4.7-3 6.2-0.4-4.6 4.7z" fill="#d54a41"/>
<path d="M619.7 485.7l4.9 1.7 5.6-2.2-5-1.6z" fill="#e35933"/>
<path d="M442.1 459.8l4.9 6.4 5.8-4.9-4.9-1.5z" fill="#ef6c23"/>
<path d="M736.7 489.9l5 1.3 5.3-3.6-5-1.2z" fill="#e15635"/>
<path d="M462.5 452l4.9 1.5 5.9 9.4-4.9 0.8z" fill="#f06f20"/>
<path d="M523.1 472.6l4.9 4.5 5.7 4.6-4.9-1.1z" fill="#e75e2e"/>
<path d="M665.5 485l5-0.2 5.4-0.6-4.9-0.6z" fill="#e35933"/>
<path d="M411 486.6l4.8-2 5.9-10.4-4.8 3.9z" fill="#e55c30"/>
<path d="M237.5 494.9l4.7 0.8 6.3-2.4-4.8-0.9zM375 496.4l4.7-4.4 6.1 0.3-4.8 3.6z" fill="#de5238"/>
<path d="M553.4 487.4l4.9 1.6 5.7-2.2-4.9-1.2zM690.9 487.8l5 0.3 5.4-1.7-5-0.9z" fill="#e25734"/>
<path d="M807.9 491.4l5.1 1.1 5.2-4-5-1.2zM853.8 491.4l5 1.2 5.2-4.1-5.1-1.2z" fill="#e05536"/>
<path d="M599.2 487.7l5-0.1 5.6-2.2-5-0.5z" fill="#e25734"/>
<path d="M762.1 491.3l5 1.2 5.3-4.1-5-1.1z" fill="#e05536"/>
<path d="M338.9 507.7l4.8-2.6 6.1-1.8-4.8 5.3z" fill="#d54a41"/>
<path d="M492.8 460.3l4.9-2 5.8 12.6-4.9 3.7z" fill="#ed6925"/>
<path d="M716.3 490.2l5 1.1 5.4-3.4-5-1.1zM395.4 490.8l4.8-0.8 6-3-4.8 0.2z" fill="#e15635"/>
<path d="M318.4 507.9l4.8-0.8 6.1-0.1-4.7 2.9z" fill="#d54a41"/>
<path d="M578.8 489.8l4.9-0.8 5.6-2.8-4.9 0.1z" fill="#e25734"/>
<path d="M645.1 482.6l4.9 4.2 5.5-1.5-4.9-2.6z" fill="#e45a31"/>
<path d="M528 477.1l4.9 3.1 5.7 4.3-4.9-2.8z" fill="#e65d2f"/>
<path d="M293 501.9l4.8 3.3 6.2 1.4-4.8-3.5z" fill="#d84c3e"/>
<path d="M787.5 491.9l5.1 1.2 5.2-4.1-5-1.1zM833.4 492l5 1.1 5.2-4-5-1.2z" fill="#e05536"/>
<path d="M741.7 491.2l5 1.2 5.4-3.6-5.1-1.2z" fill="#e15635"/>
<path d="M426.5 473.5l4.9-2.8 5.8-10.1-4.9-1.6z" fill="#ed6925"/>
<path d="M624.6 487.4l5-0.8 5.5-1.5-4.9 0.1z" fill="#e35933"/>
<path d="M242.2 495.7l4.8 2 6.3-2.1-4.8-2.3z" fill="#de5238"/>
<path d="M558.3 489l4.9 1.1 5.7-2.3-4.9-1z" fill="#e25734"/>
<path d="M359.3 499.2l4.8-0.9 6.1 0.1-4.8-1.4z" fill="#db503b"/>
<path d="M670.5 484.8l5 0.2 5.4-0.4-5-0.4z" fill="#e45a31"/>
<path d="M813 492.5l5 1.2 5.3-4.1-5.1-1.1zM858.8 492.6l5.1 1.1 5.2-4.1-5.1-1.1zM767.1 492.5l5 1.1 5.4-4-5.1-1.2z" fill="#e05536"/>
<path d="M695.9 488.1l5 0.5 5.4-1.5-5-0.7z" fill="#e25734"/>
<path d="M272.5 503.7l4.8 0.2 6.2 0-4.8-0.6z" fill="#d84c3e"/>
<path d="M297.8 505.2l4.8 1.6 6.2 1.1-4.8-1.3z" fill="#d74b3f"/>
<path d="M532.9 480.2l4.9 1.7 5.7 4.1-4.9-1.5z" fill="#e55c30"/>
<path d="M721.3 491.3l5 0.4 5.4-2.9-5-0.9z" fill="#e15635"/>
<path d="M604.2 487.6l4.9-0.8 5.6-1.7-4.9 0.3zM650 486.8l5 0.2 5.5-1.5-5-0.2z" fill="#e35933"/>
<path d="M247 497.7l4.9 4.6 6.3-0.6-4.9-6.1z" fill="#db503b"/>
<path d="M447 466.2l4.8-10.1 5.8-3.4-4.8 8.6z" fill="#f1711f"/>
<path d="M415.8 484.6l4.9-1.3 5.8-9.8-4.8 0.7z" fill="#e75e2e"/>
<path d="M379.7 492l4.9 0.2 6-0.7-4.8 0.8z" fill="#e05536"/>
<path d="M400.2 490l4.9 0.9 5.9-4.3-4.8 0.4z" fill="#e25734"/>
<path d="M792.6 493.1l5 1.2 5.3-4.1-5.1-1.2zM838.4 493.1l5.1 1.2 5.2-4.1-5.1-1.1z" fill="#e05536"/>
<path d="M251.9 502.3l4.9 4.1 6.2 1.4-4.8-6.1z" fill="#d84c3e"/>
<path d="M746.7 492.4l5 1.3 5.4-3.7-5-1.2z" fill="#e15635"/>
<path d="M583.7 489l5-0.2 5.6-2.6-5 0z" fill="#e35933"/>
<path d="M323.2 507.1l4.8-0.3 6.1 0.4-4.8-0.2z" fill="#d74b3f"/>
<path d="M467.4 453.5l4.8-11.6 5.9 12.3-4.8 8.7z" fill="#f3761b"/>
<path d="M431.4 470.7l4.9 3.4 5.8-14.3-4.9 0.8z" fill="#ee6a24"/>
<path d="M563.2 490.1l5 1.3 5.6-2.6-4.9-1z" fill="#e25734"/>
<path d="M343.7 505.1l4.8-3.2 6-1.9-4.7 3.3z" fill="#da4e3c"/>
<path d="M497.7 458.3l4.9-5.8 5.8 15.1-4.9 3.3z" fill="#ef6e21"/>
<path d="M675.5 485l5 2 5.4-0.6-5-1.8z" fill="#e45a31"/>
<path d="M818 493.7l5.1 1.2 5.2-4.1-5-1.2zM863.9 493.7l5.1 1.2 5.1-4.1-5-1.2zM772.1 493.6l5.1 1.1 5.3-3.9-5-1.2z" fill="#e05536"/>
<path d="M400.4 686.6l4.8 2.4 5.7-30.2-4.9-1.8z" fill="#4a0c6b"/>
<path d="M700.9 488.6l5 1.5 5.4-1.8-5-1.2z" fill="#e35933"/>
<path d="M395.4 674.2l5 12.4 5.6-29.6-5-12.3z" fill="#510e6c"/>
<path d="M302.6 506.8l4.8-0.6 6.3 3.3-4.9-1.6z" fill="#d74b3f"/>
<path d="M364.1 498.3l4.8-1.5 6.1-0.4-4.8 2z" fill="#de5238"/>
<path d="M726.3 491.7l5 0.9 5.4-2.7-5-1.1z" fill="#e15635"/>
<path d="M537.8 481.9l5-0.4 5.7 4.4-5 0.1zM629.6 486.6l5-5.5 5.5 1.5-5 2.5z" fill="#e55c30"/>
<path d="M277.3 503.9l4.7 0.5 6.2-2.3-4.7 1.8z" fill="#d94d3d"/>
<path d="M256.8 506.4l4.7-0.5 6.3 0.8-4.8 1.1z" fill="#d84c3e"/>
<path d="M226.4 496.9l4.8 0.9 6.3-2.9-4.8-1z" fill="#df5337"/>
<path d="M843.5 494.3l5.1 1.2 5.2-4.1-5.1-1.2zM797.6 494.3l5 1.1 5.3-4-5-1.2z" fill="#e05536"/>
<path d="M609.1 486.8l5-0.7 5.6-0.4-5-0.6z" fill="#e45a31"/>
<path d="M436.3 474.1l4.8 1.7 5.9-9.6-4.9-6.4z" fill="#ed6925"/>
<path d="M751.7 493.7l5 1.4 5.4-3.8-5-1.3z" fill="#e15635"/>
<path d="M394.5 697.1l4.9 4.1 5.8-12.2-4.8-2.4z" fill="#360961"/>
<path d="M655 487l5.1-3.4 5.4 1.4-5 0.5z" fill="#e55c30"/>
<path d="M405.2 689l4.9 6.5 5.7-33.4-4.9-3.3z" fill="#470b6a"/>
<path d="M588.7 488.8l4.9 1.7 5.6-2.8-4.9-1.5z" fill="#e35933"/>
<path d="M420.7 483.3l4.8 0.3 5.9-12.9-4.9 2.8z" fill="#e9612b"/>
<path d="M405.1 490.9l4.8-2.3 5.9-4-4.8 2z" fill="#e35933"/>
<path d="M384.6 492.2l4.8-2.8 6 1.4-4.8 0.7zM568.2 491.4l4.9 1.5 5.7-3.1-5-1z" fill="#e25734"/>
<path d="M328 506.8l4.8 0.8 6.1 0.1-4.8-0.5z" fill="#d84c3e"/>
<path d="M680.5 487l5 1.2 5.4-0.4-5-1.4z" fill="#e45a31"/>
<path d="M410.1 695.5l4.9 2.4 5.7-26.4-4.9-9.4z" fill="#420a68"/>
<path d="M389.5 682l5 15.1 5.9-10.5-5-12.4z" fill="#3e0966"/>
<path d="M705.9 490.1l5 2.5 5.4-2.4-5-1.9z" fill="#e25734"/>
<path d="M823.1 494.9l5 1.2 5.3-4.1-5.1-1.2zM869 494.9l5.1 1.2 5.1-4.1-5.1-1.2zM777.2 494.7l5 1.2 5.3-4-5-1.1z" fill="#e05536"/>
<path d="M399.4 701.2l4.8 2.9 5.9-8.6-4.9-6.5z" fill="#340a5f"/>
<path d="M390.4 661.2l5 13 5.6-29.5-4.9-12.8z" fill="#5c126e"/>
<path d="M415 697.9l4.9 2.2 5.7-23.3-4.9-5.3z" fill="#3e0966"/>
<path d="M731.3 492.6l5 1.4 5.4-2.8-5-1.3z" fill="#e15635"/>
<path d="M542.8 481.5l4.9 3.1 5.7 2.8-4.9-1.5z" fill="#e55c30"/>
<path d="M451.8 456.1l4.8-0.8 5.9-3.3-4.9 0.7z" fill="#f37819"/>
<path d="M307.4 506.2l4.8-0.6 6.2 2.3-4.7 1.6z" fill="#d84c3e"/>
<path d="M348.5 501.9l4.8-1 6-1.7-4.8 0.8z" fill="#dd513a"/>
<path d="M848.6 495.5l5 1.2 5.2-4.1-5-1.2zM802.6 495.4l5.1 1.2 5.3-4.1-5.1-1.1z" fill="#e05536"/>
<path d="M614.1 486.1l5 2.5 5.5-1.2-4.9-1.7z" fill="#e45a31"/>
<path d="M756.7 495.1l5.1 1.2 5.3-3.8-5-1.2z" fill="#e15635"/>
<path d="M231.2 497.8l4.8 0.8 6.2-2.9-4.7-0.8z" fill="#df5337"/>
<path d="M282 504.4l4.8-1.3 6.2-1.2-4.8 0.2z" fill="#db503b"/>
<path d="M502.6 452.5l4.9-5.1 5.8 20-4.9 0.2z" fill="#f1731d"/>
<path d="M593.6 490.5l5-0.7 5.6-2.2-5 0.1z" fill="#e35933"/>
<path d="M425.5 483.6l4.9 2.3 5.9-11.8-4.9-3.4z" fill="#e9612b"/>
<path d="M404.2 704.1l4.9-1.5 5.9-4.7-4.9-2.4z" fill="#320a5e"/>
<path d="M710.9 492.6l5 1.1 5.4-2.4-5-1.1z" fill="#e25734"/>
<path d="M261.5 505.9l4.7-2 6.3-0.2-4.7 3z" fill="#da4e3c"/>
<path d="M634.6 481.1l5-0.5 5.5 2-5 0z" fill="#e8602d"/>
<path d="M368.9 496.8l4.8-3.4 6-1.4-4.7 4.4z" fill="#e05536"/>
<path d="M685.5 488.2l5-0.6 5.4 0.5-5-0.3z" fill="#e45a31"/>
<path d="M828.1 496.1l5.1 1.1 5.2-4.1-5-1.1zM782.2 495.9l5.1 1.1 5.3-3.9-5.1-1.2z" fill="#e05536"/>
<path d="M384.5 671.2l5 10.8 5.9-7.8-5-13z" fill="#4c0c6b"/>
<path d="M660.1 483.6l5-0.6 5.4 1.8-5 0.2z" fill="#e65d2f"/>
<path d="M419.9 700.1l4.8-1.6 5.8-19-4.9-2.7z" fill="#3d0965"/>
<path d="M573.1 492.9l5-1.9 5.6-2-4.9 0.8z" fill="#e35933"/>
<path d="M441.1 475.8l4.9-6.2 5.8-13.5-4.8 10.1z" fill="#ef6c23"/>
<path d="M389.4 489.4l4.8 1.3 6-0.7-4.8 0.8z" fill="#e35933"/>
<path d="M547.7 484.6l4.9 1.9 5.7 2.5-4.9-1.6z" fill="#e55c30"/>
<path d="M332.8 507.6l4.8-1.7 6.1-0.8-4.8 2.6z" fill="#d94d3d"/>
<path d="M736.3 494l5.1 1.1 5.3-2.7-5-1.2z" fill="#e15635"/>
<path d="M472.2 441.9l4.9-8.2 5.9 19.4-4.9 1.1z" fill="#f68013"/>
<path d="M409.9 488.6l4.9-1.4 5.9-3.9-4.9 1.3z" fill="#e55c30"/>
<path d="M853.6 496.7l5.1 1.1 5.2-4.1-5.1-1.1zM807.7 496.6l5.1 1.2 5.2-4.1-5-1.2z" fill="#e05536"/>
<path d="M236 498.6l4.8 1.7 6.2-2.6-4.8-2z" fill="#df5337"/>
<path d="M761.8 496.3l5 1 5.3-3.7-5-1.1z" fill="#e15635"/>
<path d="M385.3 643.5l5.1 17.7 5.7-29.3-5-12.5z" fill="#6a176e"/>
<path d="M639.6 480.6l4.9 5.9 5.5 0.3-4.9-4.2z" fill="#e75e2e"/>
<path d="M619.1 488.6l4.9-1.3 5.6-0.7-5 0.8z" fill="#e55c30"/>
<path d="M430.4 485.9l4.9 0.7 5.8-10.8-4.8-1.7z" fill="#e9612b"/>
<path d="M286.8 503.1l4.8 1.9 6.2 0.2-4.8-3.3z" fill="#db503b"/>
<path d="M353.3 500.9l4.8-1 6-1.6-4.8 0.9z" fill="#de5238"/>
<path d="M312.2 505.6l4.8-1.2 6.2 2.7-4.8 0.8z" fill="#da4e3c"/>
<path d="M456.6 455.3l4.9-6.9 5.9 5.1-4.9-1.5z" fill="#f57b17"/>
<path d="M409.1 702.6l4.8-0.5 6-2-4.9-2.2z" fill="#320a5e"/>
<path d="M507.5 447.4l4.9 2.7 5.8 20.3-4.9-3z" fill="#f2741c"/>
<path d="M715.9 493.7l5-0.5 5.4-1.5-5-0.4z" fill="#e25734"/>
<path d="M833.2 497.2l5.1 1.2 5.2-4.1-5.1-1.2z" fill="#e05536"/>
<path d="M787.3 497l5 1 5.3-3.7-5-1.2z" fill="#e15635"/>
<path d="M552.6 486.5l5 2.7 5.6 0.9-4.9-1.1z" fill="#e45a31"/>
<path d="M690.5 487.6l5 0 5.4 1-5-0.5zM598.6 489.8l4.9-2.3 5.6-0.7-4.9 0.8z" fill="#e55c30"/>
<path d="M741.4 495.1l5 1.5 5.3-2.9-5-1.3z" fill="#e15635"/>
<path d="M240.8 500.3l4.8 2.2 6.3-0.2-4.9-4.6z" fill="#de5238"/>
<path d="M266.2 503.9l4.8 0.9 6.3-0.9-4.8-0.2z" fill="#db503b"/>
<path d="M379.5 657.7l5 13.5 5.9-10-5.1-17.7z" fill="#5a116e"/>
<path d="M665.1 483l5-1.8 5.4 3.8-5-0.2z" fill="#e8602d"/>
<path d="M424.7 698.5l4.9 0 5.7-21.8-4.8 2.8z" fill="#3e0966"/>
<path d="M394.2 490.7l4.9-2.3 6 2.5-4.9-0.9zM578.1 491l4.9-0.7 5.7-1.5-5 0.2z" fill="#e45a31"/>
<path d="M644.5 486.5l5-1.3 5.5 1.8-5-0.2z" fill="#e65d2f"/>
<path d="M858.7 497.8l5.1 1.2 5.2-4.1-5.1-1.2zM812.8 497.8l5 1.2 5.3-4.1-5.1-1.2z" fill="#e05536"/>
<path d="M414.8 487.2l4.8 2.2 5.9-5.8-4.8-0.3z" fill="#e65d2f"/>
<path d="M766.8 497.3l5.1 1 5.3-3.6-5.1-1.1z" fill="#e15635"/>
<path d="M291.6 505l4.8 0.3 6.2 1.5-4.8-1.6z" fill="#da4e3c"/>
<path d="M373.7 493.4l4.8-2.8 6.1 1.6-4.9-0.2z" fill="#e35933"/>
<path d="M512.4 450.1l4.9 3.5 5.8 19-4.9-2.2z" fill="#f1731d"/>
<path d="M477.1 433.7l4.9 1.6 5.9 21.4-4.9-3.6z" fill="#f78212"/>
<path d="M337.6 505.9l4.8-1.9 6.1-2.1-4.8 3.2zM245.6 502.5l4.8 2 6.4 1.9-4.9-4.1z" fill="#db503b"/>
<path d="M557.6 489.2l4.9 2.4 5.7-0.2-5-1.3z" fill="#e45a31"/>
<path d="M388.4 696.3l4.9 3.6 6.1 1.3-4.9-4.1z" fill="#360961"/>
<path d="M838.3 498.4l5 1.2 5.3-4.1-5.1-1.2z" fill="#e05536"/>
<path d="M792.3 498l5.1 0.9 5.2-3.5-5-1.1z" fill="#e15635"/>
<path d="M413.9 702.1l4.9 1.7 5.9-5.3-4.8 1.6z" fill="#340a5f"/>
<path d="M435.3 486.6l4.9-1.5 5.8-15.5-4.9 6.2z" fill="#ea632a"/>
<path d="M380.3 626.8l5 16.7 5.8-24.1-5-14.1z" fill="#7a1d6d"/>
<path d="M720.9 493.2l5.1 0.5 5.3-1.1-5-0.9z" fill="#e35933"/>
<path d="M220.2 500.2l4.7 0.9 6.3-3.3-4.8-0.9z" fill="#df5337"/>
<path d="M446 469.6l4.8-1.9 5.8-12.4-4.8 0.8z" fill="#f1731d"/>
<path d="M746.4 496.6l5 1.5 5.3-3-5-1.4z" fill="#e15635"/>
<path d="M317 504.4l4.8 0 6.2 2.4-4.8 0.3z" fill="#db503b"/>
<path d="M517.3 453.6l4.9 4.6 5.8 18.9-4.9-4.5z" fill="#f06f20"/>
<path d="M695.5 487.6l5 1.7 5.4 0.8-5-1.5z" fill="#e55c30"/>
<path d="M522.2 458.2l5 12.7 5.7 9.3-4.9-3.1z" fill="#ee6a24"/>
<path d="M358.1 499.9l4.8-2.3 6-0.8-4.8 1.5z" fill="#e05536"/>
<path d="M419.6 489.4l4.9 2.4 5.9-5.9-4.9-2.3z" fill="#e65d2f"/>
<path d="M271 504.8l4.8-0.3 6.2-0.1-4.7-0.5z" fill="#dd513a"/>
<path d="M383.4 681.7l5 14.6 6.1 0.8-5-15.1z" fill="#3e0966"/>
<path d="M670.1 481.2l5 2 5.4 3.8-5-2z" fill="#e8602d"/>
<path d="M393.3 699.9l4.9 4.6 6-0.4-4.8-2.9z" fill="#320a5e"/>
<path d="M863.8 499l5.1 1.2 5.2-4.1-5.1-1.2zM817.8 499l5.1 1.1 5.2-4-5-1.2z" fill="#e05536"/>
<path d="M583 490.3l5 1.9 5.6-1.7-4.9-1.7z" fill="#e45a31"/>
<path d="M482 435.3l4.9-0.9 5.9 25.9-4.9-3.6z" fill="#f78212"/>
<path d="M771.9 498.3l5 1 5.3-3.4-5-1.2z" fill="#e15635"/>
<path d="M429.6 698.5l4.9 2.3 5.7-23.9-4.9-0.2z" fill="#400a67"/>
<path d="M603.5 487.5l5-1.5 5.6 0.1-5 0.7z" fill="#e75e2e"/>
<path d="M624 487.3l5.1-10.4 5.5 4.2-5 5.5z" fill="#e9612b"/>
<path d="M562.5 491.6l4.9 2.7 5.7-1.4-4.9-1.5z" fill="#e35933"/>
<path d="M527.2 470.9l4.9-1.9 5.7 12.9-4.9-1.7z" fill="#ec6726"/>
<path d="M296.4 505.3l4.8-2.1 6.2 3-4.8 0.6z" fill="#db503b"/>
<path d="M399.1 488.4l4.8-2.5 6 2.7-4.8 2.3z" fill="#e65d2f"/>
<path d="M250.4 504.5l4.8-0.7 6.3 2.1-4.7 0.5z" fill="#db503b"/>
<path d="M843.3 499.6l5.1 1.2 5.2-4.1-5-1.2z" fill="#e05536"/>
<path d="M700.5 489.3l5 4 5.4-0.7-5-2.5z" fill="#e45a31"/>
<path d="M797.4 498.9l5 0.9 5.3-3.2-5.1-1.2z" fill="#e15635"/>
<path d="M378.5 490.6l4.9-1.4 6 0.2-4.8 2.8z" fill="#e55c30"/>
<path d="M649.5 485.2l5.1-6.1 5.5 4.5-5.1 3.4z" fill="#e9612b"/>
<path d="M751.4 498.1l5 1.2 5.4-3-5.1-1.2z" fill="#e15635"/>
<path d="M726 493.7l5 1.1 5.3-0.8-5-1.4z" fill="#e35933"/>
<path d="M224.9 501.1l4.8 0.8 6.3-3.3-4.8-0.8z" fill="#e05536"/>
<path d="M374.4 636.5l5.1 21.2 5.8-14.2-5-16.7z" fill="#6c186e"/>
<path d="M461.5 448.4l4.8-8.3 5.9 1.8-4.8 11.6z" fill="#f78410"/>
<path d="M406 657l4.9 1.8 5.2-75-4.9-0.3z" fill="#7d1e6d"/>
<path d="M418.8 703.8l4.9 0.9 5.9-6.2-4.9 0z" fill="#340a5f"/>
<path d="M424.5 491.8l4.9 1.7 5.9-6.9-4.9-0.7z" fill="#e55c30"/>
<path d="M398.2 704.5l4.9 2.9 6-4.8-4.9 1.5z" fill="#310a5c"/>
<path d="M342.4 504l4.8 0.1 6.1-3.2-4.8 1z" fill="#de5238"/>
<path d="M321.8 504.4l4.8 0.8 6.2 2.4-4.8-0.8z" fill="#db503b"/>
<path d="M675.1 483.2l5 2.5 5.4 2.5-5-1.2z" fill="#e75e2e"/>
<path d="M420.7 671.5l4.9 5.3 5.4-64.5-5-11.3z" fill="#6c186e"/>
<path d="M822.9 500.1l5.1 1.2 5.2-4.1-5.1-1.1z" fill="#e05536"/>
<path d="M378.4 670.2l5 11.5 6.1 0.3-5-10.8z" fill="#4d0d6c"/>
<path d="M776.9 499.3l5.1 1 5.3-3.3-5.1-1.1z" fill="#e15635"/>
<path d="M401 644.7l5 12.3 5.2-73.5-5-20.3z" fill="#85216b"/>
<path d="M486.9 434.4l4.9 2.1 5.9 21.8-4.9 2z" fill="#f78212"/>
<path d="M440.2 485.1l4.9 2.2 5.7-19.6-4.8 1.9z" fill="#eb6628"/>
<path d="M608.5 486l5 3.2 5.6-0.6-5-2.5z" fill="#e75e2e"/>
<path d="M275.8 504.5l4.8-0.2 6.2-1.2-4.8 1.3z" fill="#de5238"/>
<path d="M588 492.2l4.9-1.6 5.7-0.8-5 0.7z" fill="#e55c30"/>
<path d="M450.8 467.7l4.9 1.4 5.8-20.7-4.9 6.9z" fill="#f3761b"/>
<path d="M705.5 493.3l5 1.4 5.4-1-5-1.1z" fill="#e45a31"/>
<path d="M425.6 676.8l4.9 2.7 5.3-71.7-4.8 4.5z" fill="#6a176e"/>
<path d="M391.1 619.4l5 12.5 5.3-62.9-4.9-2.2z" fill="#932667"/>
<path d="M362.9 497.6l4.8-2.1 6-2.1-4.8 3.4z" fill="#e25734"/>
<path d="M848.4 500.8l5.1 1.2 5.2-4.2-5.1-1.1z" fill="#e05536"/>
<path d="M567.4 494.3l5-3.4 5.7 0.1-5 1.9z" fill="#e45a31"/>
<path d="M415.8 662.1l4.9 9.4 5.3-70.5-5-15.8z" fill="#771c6d"/>
<path d="M434.5 700.8l4.8-7.3 5.8-16.3-4.9-0.3z" fill="#440a68"/>
<path d="M802.4 499.8l5.1 1.7 5.3-3.7-5.1-1.2z" fill="#e15635"/>
<path d="M532.1 469l5-1.5 5.7 14-5 0.4z" fill="#ed6925"/>
<path d="M373.5 666.1l4.9 4.1 6.1 1-5-13.5z" fill="#550f6d"/>
<path d="M731 494.8l5 1 5.4-0.7-5.1-1.1z" fill="#e35933"/>
<path d="M410.9 658.8l4.9 3.3 5.2-76.9-4.9-1.4z" fill="#7d1e6d"/>
<path d="M396.1 631.9l4.9 12.8 5.2-81.5-4.8 5.8z" fill="#8f2469"/>
<path d="M756.4 499.3l5.1 0.4 5.3-2.4-5-1z" fill="#e15635"/>
<path d="M229.7 501.9l4.8 0.8 6.3-2.4-4.8-1.7z" fill="#e05536"/>
<path d="M255.2 503.8l4.7-0.6 6.3 0.7-4.7 2zM301.2 503.2l4.7-3.8 6.3 6.2-4.8 0.6z" fill="#de5238"/>
<path d="M403.9 485.9l4.8-1.2 6.1 2.5-4.9 1.4zM680.1 485.7l5-0.3 5.4 2.2-5 0.6z" fill="#e8602d"/>
<path d="M423.7 704.7l4.8-1.2 6-2.7-4.9-2.3z" fill="#360961"/>
<path d="M429.4 493.5l4.9-0.2 5.9-8.2-4.9 1.5z" fill="#e65d2f"/>
<path d="M828 501.3l5 1.2 5.3-4.1-5.1-1.2z" fill="#e05536"/>
<path d="M326.6 505.2l4.9 0.4 6.1 0.3-4.8 1.7z" fill="#dd513a"/>
<path d="M383.4 489.2l4.8-1.5 6 3-4.8-1.3z" fill="#e65d2f"/>
<path d="M386.1 605.3l5 14.1 5.4-52.6-5-11.6z" fill="#9d2964"/>
<path d="M403.1 707.4l4.9-2.6 5.9-2.7-4.8 0.5z" fill="#340a5f"/>
<path d="M347.2 504.1l4.8 0.1 6.1-4.3-4.8 1z" fill="#df5337"/>
<path d="M782 500.3l5 0.7 5.3-3-5-1z" fill="#e15635"/>
<path d="M445.1 487.3l4.9 2.6 5.7-20.8-4.9-1.4z" fill="#eb6628"/>
<path d="M629.1 476.9l5-1.8 5.5 5.5-5 0.5z" fill="#ec6726"/>
<path d="M375.1 598.7l5.2 28.1 5.8-21.5-5.2-26.5z" fill="#902568"/>
<path d="M280.6 504.3l4.8-0.1 6.2 0.8-4.8-1.9z" fill="#de5238"/>
<path d="M613.5 489.2l5-4.3 5.5 2.4-4.9 1.3z" fill="#e8602d"/>
<path d="M654.6 479.1l5.1-2.6 5.4 6.5-5 0.6z" fill="#eb6429"/>
<path d="M853.5 502l5.1 1.2 5.2-4.2-5.1-1.2z" fill="#e05536"/>
<path d="M807.5 501.5l5.1 1.2 5.2-3.7-5-1.2z" fill="#e15635"/>
<path d="M710.5 494.7l5.1-3 5.3 1.5-5 0.5z" fill="#e45a31"/>
<path d="M537.1 467.5l4.9 3 5.7 14.1-4.9-3.1z" fill="#ed6925"/>
<path d="M736 495.8l5 1.4 5.4-0.6-5-1.5z" fill="#e35933"/>
<path d="M491.8 436.5l4.9-2 5.9 18-4.9 5.8z" fill="#f8850f"/>
<path d="M592.9 490.6l5-3.5 5.6 0.4-4.9 2.3z" fill="#e75e2e"/>
<path d="M234.5 502.7l4.8-0.4 6.3 0.2-4.8-2.2z" fill="#e05536"/>
<path d="M761.5 499.7l5.1 0.4 5.3-1.8-5.1-1z" fill="#e25734"/>
<path d="M634.1 475.1l5 7.7 5.4 3.7-4.9-5.9z" fill="#eb6429"/>
<path d="M430.5 679.5l4.8-2.8 5.4-71.7-4.9 2.8z" fill="#6d186e"/>
<path d="M833 502.5l5.1 1.2 5.2-4.1-5-1.2z" fill="#e05536"/>
<path d="M572.4 490.9l5-0.8 5.6 0.2-4.9 0.7z" fill="#e65d2f"/>
<path d="M259.9 503.2l4.8 0.1 6.3 1.5-4.8-0.9z" fill="#df5337"/>
<path d="M434.3 493.3l4.9 2.4 5.9-8.4-4.9-2.2z" fill="#e65d2f"/>
<path d="M367.7 495.5l4.8-0.8 6-4.1-4.8 2.8z" fill="#e55c30"/>
<path d="M542 470.5l4.9 7.4 5.7 8.6-4.9-1.9z" fill="#eb6628"/>
<path d="M368.4 644.2l5.1 21.9 6-8.4-5.1-21.2z" fill="#65156e"/>
<path d="M408.7 484.7l4.9-1.3 6 6-4.8-2.2z" fill="#e9612b"/>
<path d="M408 704.8l4.9 4 5.9-5-4.9-1.7z" fill="#340a5f"/>
<path d="M787 501l5.1-1 5.3-1.1-5.1-0.9z" fill="#e15635"/>
<path d="M213.9 503.7l4.8 0.8 6.2-3.4-4.7-0.9z" fill="#e05536"/>
<path d="M685.1 485.4l5.1-2.8 5.3 5-5 0z" fill="#e9612b"/>
<path d="M305.9 499.4l4.8 0.3 6.3 4.7-4.8 1.2z" fill="#e05536"/>
<path d="M466.3 440.1l4.9-2.6 5.9-3.8-4.9 8.2z" fill="#f98e09"/>
<path d="M331.5 505.6l4.8-0.3 6.1-1.3-4.8 1.9z" fill="#de5238"/>
<path d="M455.7 469.1l4.9-7.8 5.7-21.2-4.8 8.3z" fill="#f67e14"/>
<path d="M388.2 487.7l4.8-1.5 6.1 2.2-4.9 2.3z" fill="#e8602d"/>
<path d="M858.6 503.2l5.1 1.1 5.2-4.1-5.1-1.2z" fill="#e05536"/>
<path d="M812.6 502.7l5 0.9 5.3-3.5-5.1-1.1z" fill="#e15635"/>
<path d="M741 497.2l5.1 2 5.3-1.1-5-1.5z" fill="#e35933"/>
<path d="M352 504.2l4.8-2.6 6.1-4-4.8 2.3z" fill="#e15635"/>
<path d="M546.9 477.9l5 4.5 5.7 6.8-5-2.7z" fill="#ea632a"/>
<path d="M428.5 703.5l4.9-3.7 5.9-6.3-4.8 7.3z" fill="#390963"/>
<path d="M285.4 504.2l4.7-3.3 6.3 4.4-4.8-0.3z" fill="#df5337"/>
<path d="M288.9 772.4l4.9 3.2 5.7-28-4.9-4.9z" fill="#08051d"/>
<path d="M639.1 482.8l5-3.6 5.4 6-5 1.3z" fill="#eb6429"/>
<path d="M766.6 500.1l5 1.3 5.3-2.1-5-1z" fill="#e25734"/>
<path d="M439.2 495.7l4.9 2.6 5.9-8.4-4.9-2.6z" fill="#e65d2f"/>
<path d="M450 489.9l4.8-7.1 5.8-21.5-4.9 7.8z" fill="#ee6a24"/>
<path d="M380.9 578.8l5.2 26.5 5.4-50.1-5.1-15.1z" fill="#ae305c"/>
<path d="M715.6 491.7l5 0.1 5.4 1.9-5.1-0.5z" fill="#e65d2f"/>
<path d="M239.3 502.3l4.7-2.1 6.4 4.3-4.8-2z" fill="#e05536"/>
<path d="M369.1 604.6l5.3 31.9 5.9-9.7-5.2-28.1z" fill="#85216b"/>
<path d="M838.1 503.7l5.1 1.2 5.2-4.1-5.1-1.2z" fill="#e05536"/>
<path d="M439.3 693.5l4.8-10.9 5.8-14.8-4.8 9.4z" fill="#4c0c6b"/>
<path d="M659.7 476.5l5-4.6 5.4 9.3-5 1.8z" fill="#ed6925"/>
<path d="M577.4 490.1l4.9 2.8 5.7-0.7-5-1.9z" fill="#e75e2e"/>
<path d="M278 778.7l4.9 4.8 6-11.1-5-11.9z" fill="#02020c"/>
<path d="M435.3 676.7l4.9 0.2 5.4-66-4.9-5.9z" fill="#6f196e"/>
<path d="M413.6 483.4l4.9 1.3 6 7.1-4.9-2.4z" fill="#e9612b"/>
<path d="M264.7 503.3l4.8-0.2 6.3 1.4-4.8 0.3z" fill="#e05536"/>
<path d="M283.9 760.5l5 11.9 5.7-29.7-5.2-19.1z" fill="#0e092b"/>
<path d="M551.9 482.4l4.9 3.3 5.7 5.9-4.9-2.4z" fill="#e9612b"/>
<path d="M218.7 504.5l4.7 0.6 6.3-3.2-4.8-0.8z" fill="#e05536"/>
<path d="M597.9 487.1l5-1.6 5.6 0.5-5 1.5z" fill="#e9612b"/>
<path d="M412.9 708.8l4.8-5.7 6 1.6-4.9-0.9z" fill="#360961"/>
<path d="M792.1 500l5.1 0.6 5.2-0.8-5-0.9z" fill="#e25734"/>
<path d="M282.9 783.5l4.8 0.9 6.1-8.8-4.9-3.2z" fill="#010108"/>
<path d="M690.2 482.6l5 1.9 5.3 4.8-5-1.7z" fill="#ea632a"/>
<path d="M746.1 499.2l5 1.4 5.3-1.3-5-1.2z" fill="#e25734"/>
<path d="M817.6 503.6l5.1 1 5.3-3.3-5.1-1.2z" fill="#e15635"/>
<path d="M496.7 434.5l4.9-3 5.9 15.9-4.9 5.1z" fill="#f98c0a"/>
<path d="M372.5 494.7l4.8-2.4 6.1-3.1-4.9 1.4z" fill="#e75e2e"/>
<path d="M310.7 499.7l4.8-2.1 6.3 6.8-4.8 0z" fill="#e15635"/>
<path d="M336.3 505.3l4.8 0.8 6.1-2-4.8-0.1z" fill="#df5337"/>
<path d="M556.8 485.7l5 6.8 5.6 1.8-4.9-2.7z" fill="#e75e2e"/>
<path d="M440.2 676.9l4.9 0.3 5.5-59.9-5-6.4z" fill="#6c186e"/>
<path d="M771.6 501.4l5.1 0.7 5.3-1.8-5.1-1z" fill="#e25734"/>
<path d="M418.5 484.7l4.9 6.1 6 2.7-4.9-1.7z" fill="#e8602d"/>
<path d="M293.8 775.6l4.8-0.2 5.5-35.4-4.6 7.6z" fill="#09061f"/>
<path d="M618.5 484.9l5.1-13.9 5.5 5.9-5.1 10.4z" fill="#ec6726"/>
<path d="M471.2 437.5l4.9 0.3 5.9-2.5-4.9-1.6z" fill="#fa9207"/>
<path d="M720.6 491.8l5.1 1.2 5.3 1.8-5-1.1z" fill="#e65d2f"/>
<path d="M843.2 504.9l5.1 1.2 5.2-4.1-5.1-1.2z" fill="#e05536"/>
<path d="M695.2 484.5l4.9 6.4 5.4 2.4-5-4z" fill="#e8602d"/>
<path d="M356.8 501.6l4.9 0.6 6-6.7-4.8 2.1z" fill="#e35933"/>
<path d="M272.9 762.6l5.1 16.1 5.9-18.2-5.1-14.5z" fill="#08051d"/>
<path d="M444.1 498.3l4.9-1 5.8-14.5-4.8 7.1z" fill="#e75e2e"/>
<path d="M290.1 500.9l4.8-2 6.3 4.3-4.8 2.1z" fill="#e15635"/>
<path d="M664.7 471.9l5 6 5.4 5.3-5-2z" fill="#ed6925"/>
<path d="M393 486.2l4.8-6.3 6.1 6-4.8 2.5z" fill="#eb6429"/>
<path d="M244 500.2l4.7-1.2 6.5 4.8-4.8 0.7z" fill="#e15635"/>
<path d="M582.3 492.9l5-1.9 5.6-0.4-4.9 1.6z" fill="#e75e2e"/>
<path d="M797.2 500.6l5 3.4 5.3-2.5-5.1-1.7z" fill="#e25734"/>
<path d="M287.7 784.4l4.9 1.9 6-10.9-4.8 0.2z" fill="#010108"/>
<path d="M602.9 485.5l5 3.1 5.6 0.6-5-3.2z" fill="#ea632a"/>
<path d="M268.9 731.3l5.1 14.9 5.5-37.7-4.9-2.4z" fill="#260c51"/>
<path d="M223.4 505.1l4.8 0.5 6.3-2.9-4.8-0.8zM269.5 503.1l4.8 0.1 6.3 1.1-4.8 0.2z" fill="#e15635"/>
<path d="M268 757.6l4.9 5 5.9-16.6-4.8 0.2z" fill="#0d0829"/>
<path d="M822.7 504.6l5.1 1.4 5.2-3.5-5-1.2z" fill="#e15635"/>
<path d="M460.6 461.3l4.8-4 5.8-19.8-4.9 2.6z" fill="#f8850f"/>
<path d="M700.1 490.9l5 1.8 5.4 2-5-1.4z" fill="#e75e2e"/>
<path d="M278.8 746l5.1 14.5 5.5-36.9-5.1-12.9z" fill="#1b0c41"/>
<path d="M751.1 500.6l5.1-2.7 5.3 1.8-5.1-0.4z" fill="#e35933"/>
<path d="M644.1 479.2l5.1-7 5.4 6.9-5.1 6.1z" fill="#ee6a24"/>
<path d="M274 746.2l4.8-0.2 5.5-35.3-4.8-2.2z" fill="#210c4a"/>
<path d="M341.1 506.1l4.9 1 6-2.9-4.8-0.1z" fill="#e05536"/>
<path d="M423.4 490.8l4.9-0.9 6 3.4-4.9 0.2z" fill="#e75e2e"/>
<path d="M669.7 477.9l5 2.4 5.4 5.4-5-2.5z" fill="#ec6726"/>
<path d="M262.9 742.5l5.1 15.1 6-11.4-5.1-14.9z" fill="#140b34"/>
<path d="M417.7 703.1l4.9 0.5 5.9-0.1-4.8 1.2z" fill="#390963"/>
<path d="M454.8 482.8l4.9 0.1 5.7-25.6-4.8 4z" fill="#f1711f"/>
<path d="M315.5 497.6l4.8 0 6.3 7.6-4.8-0.8z" fill="#e25734"/>
<path d="M561.8 492.5l4.9-5.6 5.7 4-5 3.4z" fill="#e8602d"/>
<path d="M445.1 677.2l4.8-9.4 5.6-46.1-4.9-4.4z" fill="#6d186e"/>
<path d="M501.6 431.5l5 1.1 5.8 17.5-4.9-2.7z" fill="#f98e09"/>
<path d="M848.3 506.1l5.1 1.2 5.2-4.1-5.1-1.2z" fill="#e05536"/>
<path d="M725.7 493l5-0.2 5.3 3-5-1z" fill="#e65d2f"/>
<path d="M776.7 502.1l5.1-2.1 5.2 1-5-0.7z" fill="#e35933"/>
<path d="M377.3 492.3l4.9-1.9 6-2.7-4.8 1.5z" fill="#e9612b"/>
<path d="M476.1 437.8l4.9-2.4 5.9-1-4.9 0.9z" fill="#fa9407"/>
<path d="M802.2 504l5.1 0.3 5.3-1.6-5.1-1.2z" fill="#e15635"/>
<path d="M361.7 502.2l4.8-0.8 6-6.7-4.8 0.8z" fill="#e45a31"/>
<path d="M382.1 669l4.8 1.6 6.4 29.3-4.9-3.6z" fill="#4c0c6b"/>
<path d="M433.4 699.8l4.8-13.5 5.9-3.7-4.8 10.9z" fill="#450a69"/>
<path d="M827.8 506l5.1 1.6 5.2-3.9-5.1-1.2z" fill="#e15635"/>
<path d="M248.7 499l4.8-0.2 6.4 4.4-4.7 0.6z" fill="#e35933"/>
<path d="M294.6 742.7l4.9 4.9 5.3-44.7-5.1-15z" fill="#290b55"/>
<path d="M506.6 432.6l4.9 6.4 5.8 14.6-4.9-3.5z" fill="#f98c0a"/>
<path d="M428.3 489.9l5 7.1 5.9-1.3-4.9-2.4z" fill="#e75e2e"/>
<path d="M516.5 444.4l4.9 9.2 5.8 17.3-5-12.7z" fill="#f67e14"/>
<path d="M369.7 559.7l5.4 39 5.8-19.9-5.3-30.8z" fill="#b0315b"/>
<path d="M377 656.2l5.1 12.8 6.3 27.3-5-14.6z" fill="#540f6d"/>
<path d="M274.3 503.2l4.8-0.6 6.3 1.6-4.8 0.1z" fill="#e15635"/>
<path d="M449 497.3l4.9-0.1 5.8-14.3-4.9-0.1z" fill="#e9612b"/>
<path d="M298.6 775.4l4.7-3.5 5.6-34.5-4.8 2.6z" fill="#0c0826"/>
<path d="M607.9 488.6l5-5.5 5.6 1.8-5 4.3z" fill="#eb6429"/>
<path d="M228.2 505.6l4.7-4 6.4 0.7-4.8 0.4z" fill="#e25734"/>
<path d="M292.6 786.3l4.7-1.7 6-12.7-4.7 3.5z" fill="#02010a"/>
<path d="M397.8 479.9l4.9 0.7 6 4.1-4.8 1.2z" fill="#ec6726"/>
<path d="M511.5 439l5 5.4 5.7 13.8-4.9-4.6z" fill="#f8870e"/>
<path d="M363.1 611l5.3 33.2 6-7.7-5.3-31.9z" fill="#82206c"/>
<path d="M207.6 507.4l4.8 0.8 6.3-3.7-4.8-0.8z" fill="#e05536"/>
<path d="M375.6 548l5.3 30.8 5.5-38.7-5.1-21.8z" fill="#c43c4e"/>
<path d="M587.3 491l5-3.9 5.6 0-5 3.5z" fill="#ea632a"/>
<path d="M271.7 778.8l5 8.7 6.2-4-4.9-4.8z" fill="#010108"/>
<path d="M674.7 480.3l5-3.1 5.4 8.2-5 0.3z" fill="#ed6925"/>
<path d="M853.4 507.3l5.1 1.2 5.2-4.2-5.1-1.1z" fill="#e05536"/>
<path d="M521.4 453.6l5-0.7 5.7 16.1-4.9 1.9z" fill="#f57b17"/>
<path d="M294.9 498.9l4.6-6.8 6.4 7.3-4.7 3.8z" fill="#e55c30"/>
<path d="M320.3 497.6l4.9 1.1 6.3 6.9-4.9-0.4z" fill="#e35933"/>
<path d="M756.2 497.9l5.1-1.5 5.3 3.7-5.1-0.4z" fill="#e55c30"/>
<path d="M730.7 492.8l5.1 1.8 5.2 2.6-5-1.4z" fill="#e65d2f"/>
<path d="M346 507.1l4.8-0.4 6-5.1-4.8 2.6z" fill="#e15635"/>
<path d="M465.4 457.3l4.9 0.3 5.8-19.8-4.9-0.3z" fill="#f8890c"/>
<path d="M705.1 492.7l5.2-6.7 5.3 5.7-5.1 3z" fill="#e9612b"/>
<path d="M459.7 482.9l4.9 1.7 5.7-27-4.9-0.3z" fill="#f1731d"/>
<path d="M433.3 497l4.9 1.5 5.9-0.2-4.9-2.6z" fill="#e55c30"/>
<path d="M367.2 650.2l4.9-1.3 6.3 21.3-4.9-4.1z" fill="#64156e"/>
<path d="M386.9 670.6l4.9-2.9 6.4 36.8-4.9-4.6z" fill="#4c0c6b"/>
<path d="M444.1 682.6l4.7-18 5.9-5.3-4.8 8.5z" fill="#5a116e"/>
<path d="M807.3 504.3l5.2-0.9 5.1 0.2-5-0.9z" fill="#e25734"/>
<path d="M276.7 787.5l4.9 3.2 6.1-6.3-4.8-0.9z" fill="#010005"/>
<path d="M481 435.4l5 1.4 5.8-0.3-4.9-2.1z" fill="#fb9606"/>
<path d="M623.6 471l5-3.9 5.5 8-5 1.8z" fill="#f1711f"/>
<path d="M781.8 500l5.2-3 5.1 3-5.1 1z" fill="#e45a31"/>
<path d="M832.9 507.6l5.1 1.3 5.2-4-5.1-1.2z" fill="#e15635"/>
<path d="M266.7 769.6l5 9.2 6.3-0.1-5.1-16.1z" fill="#040314"/>
<path d="M372.1 648.9l4.9 7.3 6.4 25.5-5-11.5z" fill="#5f136e"/>
<path d="M566.7 486.9l5-0.1 5.7 3.3-5 0.8z" fill="#ea632a"/>
<path d="M382.2 490.4l4.8-2.1 6-2.1-4.8 1.5z" fill="#eb6429"/>
<path d="M422.6 703.6l4.8-7.9 6 4.1-4.9 3.7z" fill="#3e0966"/>
<path d="M453.9 497.2l4.9 3.6 5.8-16.2-4.9-1.7z" fill="#e9612b"/>
<path d="M391.8 667.7l5 13.1 6.3 26.6-4.9-2.9z" fill="#490b6a"/>
<path d="M366.5 501.4l4.9-0.6 5.9-8.5-4.8 2.4z" fill="#e65d2f"/>
<path d="M464.6 484.6l4.9 3.4 5.8-24-5-6.4z" fill="#f1711f"/>
<path d="M735.8 494.6l5 3.1 5.3 1.5-5.1-2z" fill="#e65d2f"/>
<path d="M325.2 498.7l4.9 6.2 6.2 0.4-4.8 0.3z" fill="#e25734"/>
<path d="M649.2 472.2l5.1-6.6 5.4 10.9-5.1 2.6z" fill="#f1711f"/>
<path d="M253.5 498.8l4.7-4 6.5 8.5-4.8-0.1z" fill="#e45a31"/>
<path d="M212.4 508.2l4.7 0.5 6.3-3.6-4.7-0.6z" fill="#e15635"/>
<path d="M362.1 632.6l5.1 17.6 6.3 15.9-5.1-21.9z" fill="#6d186e"/>
<path d="M526.4 452.9l4.9 7.7 5.8 6.9-5 1.5z" fill="#f57b17"/>
<path d="M628.6 467.1l4.9 11.7 5.6 4-5-7.7z" fill="#f06f20"/>
<path d="M470.3 457.6l5 6.4 5.7-28.6-4.9 2.4z" fill="#f8890c"/>
<path d="M261.7 759.8l5 9.8 6.2-7-4.9-5z" fill="#0a0722"/>
<path d="M303.3 771.9l4.9 1.2 5.5-33.4-4.8-2.3z" fill="#0d0829"/>
<path d="M761.3 496.4l5.1 2.2 5.2 2.8-5-1.3z" fill="#e55c30"/>
<path d="M299.5 747.6l4.6-7.6 5.1-57.9-4.4 20.8z" fill="#2d0b59"/>
<path d="M438.2 498.5l4.9 1.3 5.9-2.5-4.9 1z" fill="#e55c30"/>
<path d="M449.9 667.8l4.8-8.5 5.7-48.4-4.9 10.8z" fill="#751b6e"/>
<path d="M279.1 502.6l4.7-4.8 6.3 3.1-4.7 3.3z" fill="#e45a31"/>
<path d="M396.8 680.8l4.9 1.3 6.3 22.7-4.9 2.6z" fill="#450a69"/>
<path d="M402.7 480.6l4.8-4.8 6.1 7.6-4.9 1.3z" fill="#ee6a24"/>
<path d="M289.4 723.6l5.2 19.1 5.1-54.8-5.4-27.5z" fill="#3b0964"/>
<path d="M350.8 506.7l4.9 0.5 6-5-4.9-0.6z" fill="#e25734"/>
<path d="M297.3 784.6l4.8-3.3 6.1-8.2-4.9-1.2z" fill="#02020e"/>
<path d="M391.5 555.2l5 11.6 5.2-71.8-4.9-0.4z" fill="#d34743"/>
<path d="M281.6 790.7l4.8-1.7 6.2-2.7-4.9-1.9z" fill="#010005"/>
<path d="M386.4 540.1l5.1 15.1 5.3-60.6-4.9-0.9z" fill="#d84c3e"/>
<path d="M458.8 500.8l4.9 1.3 5.8-14.1-4.9-3.4z" fill="#e8602d"/>
<path d="M571.7 486.8l5 5.5 5.6 0.6-4.9-2.8z" fill="#ea632a"/>
<path d="M838 508.9l5 1.3 5.3-4.1-5.1-1.2z" fill="#e05536"/>
<path d="M812.5 503.4l5.1 0.7 5.1 0.5-5.1-1z" fill="#e35933"/>
<path d="M486 436.8l4.9-1.1 5.8-1.2-4.9 2z" fill="#fb9606"/>
<path d="M263.2 689.5l5.7 41.8 5.7-25.2-5.6-37.9z" fill="#400a67"/>
<path d="M274.6 706.1l4.9 2.4 5.2-49.4-4.9-5.3z" fill="#510e6c"/>
<path d="M232.9 501.6l4.6-7.4 6.5 6-4.7 2.1z" fill="#e55c30"/>
<path d="M592.3 487.1l5-3.2 5.6 1.6-5 1.6z" fill="#ec6726"/>
<path d="M679.7 477.2l5.2-5.8 5.3 11.2-5.1 2.8z" fill="#ef6c23"/>
<path d="M256.7 748.8l5 11 6.3-2.2-5.1-15.1z" fill="#110a30"/>
<path d="M330.1 504.9l4.9 1.8 6.1-0.6-4.8-0.8z" fill="#e25734"/>
<path d="M710.3 486l5-0.8 5.3 6.6-5-0.1z" fill="#eb6429"/>
<path d="M363.7 568.6l5.4 36 6-5.9-5.4-39z" fill="#a82e5f"/>
<path d="M787 497l5.1-0.3 5.1 3.9-5.1-0.6z" fill="#e65d2f"/>
<path d="M531.3 460.6l5-0.7 5.7 10.6-4.9-3z" fill="#f57b17"/>
<path d="M633.5 478.8l5.1-7 5.5 7.4-5 3.6z" fill="#ef6e21"/>
<path d="M740.8 497.7l5.1-1.5 5.2 4.4-5-1.4z" fill="#e65d2f"/>
<path d="M299.5 492.1l4.8-4.3 6.4 11.9-4.8-0.3z" fill="#e8602d"/>
<path d="M371.4 500.8l4.9 6.9 5.9-17.3-4.9 1.9z" fill="#e65d2f"/>
<path d="M469.5 488l4.9-2.7 5.8-26-4.9 4.7z" fill="#f1711f"/>
<path d="M387 488.3l4.9 5.4 5.9-13.8-4.8 6.3z" fill="#eb6628"/>
<path d="M396.5 566.8l4.9 2.2 5.2-76.5-4.9 2.5z" fill="#d24644"/>
<path d="M217.1 508.7l4.8-0.2 6.3-2.9-4.8-0.5z" fill="#e15635"/>
<path d="M766.4 498.6l5 1.3 5.3 2.2-5.1-0.7z" fill="#e55c30"/>
<path d="M381.3 518.3l5.1 21.8 5.5-46.4-4.9-5.4z" fill="#df5337"/>
<path d="M258.2 494.8l4.9 2.3 6.4 6-4.8 0.2z" fill="#e55c30"/>
<path d="M475.3 464l4.9-4.7 5.8-22.5-5-1.4z" fill="#f98b0b"/>
<path d="M536.3 459.9l4.9 8.3 5.7 9.7-4.9-7.4z" fill="#f3761b"/>
<path d="M443.1 499.8l4.9 1.4 5.9-4-4.9 0.1z" fill="#e65d2f"/>
<path d="M576.7 492.3l5-1 5.6-0.3-5 1.9z" fill="#ea632a"/>
<path d="M355.7 507.2l4.8 2.6 6-8.4-4.8 0.8zM817.6 504.1l5 2.9 5.2-1-5.1-1.4z" fill="#e25734"/>
<path d="M843 510.2l5.1 1.2 5.3-4.1-5.1-1.2z" fill="#e05536"/>
<path d="M541.2 468.2l5 2.1 5.7 12.1-5-4.5z" fill="#f1711f"/>
<path d="M551.1 483.6l5 6.9 5.7 2-5-6.8z" fill="#eb6628"/>
<path d="M370.5 526.1l5.1 21.9 5.7-29.7-5-10.6z" fill="#d54a41"/>
<path d="M407.5 475.8l5 4.6 6 4.3-4.9-1.3z" fill="#ef6c23"/>
<path d="M463.7 502.1l4.9 1 5.8-17.8-4.9 2.7z" fill="#e8602d"/>
<path d="M376.3 507.7l5 10.6 5.7-30-4.8 2.1z" fill="#e55c30"/>
<path d="M257.2 705.1l5.7 37.4 6-11.2-5.7-41.8z" fill="#310a5c"/>
<path d="M546.2 470.3l4.9 13.3 5.7 2.1-4.9-3.3z" fill="#ef6c23"/>
<path d="M335 506.7l4.8 2.2 6.2-1.8-4.9-1z" fill="#e15635"/>
<path d="M279.5 708.5l4.8 2.2 5-58.1-4.6 6.5z" fill="#510e6c"/>
<path d="M792.1 496.7l5 3.9 5.1 3.4-5-3.4z" fill="#e55c30"/>
<path d="M597.3 483.9l5 4.7 5.6 0-5-3.1z" fill="#ec6726"/>
<path d="M286.4 789l4.7-1.7 6.2-2.7-4.7 1.7z" fill="#010106"/>
<path d="M426 601l5 11.3 5.3-80.4-5-8.6z" fill="#b63458"/>
<path d="M401.7 682.1l4.8-9.4 6.4 36.1-4.9-4z" fill="#490b6a"/>
<path d="M612.9 483.1l5.2-19.6 5.5 7.5-5.1 13.9z" fill="#f1711f"/>
<path d="M715.3 485.2l5.1 1.5 5.3 6.3-5.1-1.2z" fill="#eb6628"/>
<path d="M654.3 465.6l5-4.2 5.4 10.5-5 4.6z" fill="#f37819"/>
<path d="M412.5 480.4l4.9 5.7 6 4.7-4.9-6.1z" fill="#ed6925"/>
<path d="M490.9 435.7l4.9 1.1 5.8-5.3-4.9 3z" fill="#fb9906"/>
<path d="M283.8 497.8l4.8-0.6 6.3 1.7-4.8 2z" fill="#e65d2f"/>
<path d="M684.9 471.4l5 2.2 5.3 10.9-5-1.9z" fill="#f06f20"/>
<path d="M448 501.2l4.9 5.4 5.9-5.8-4.9-3.6z" fill="#e55c30"/>
<path d="M284.3 710.7l5.1 12.9 4.9-63.2-5-7.8z" fill="#4d0d6c"/>
<path d="M411.2 583.5l4.9 0.3 5.3-74.9-5-5.3z" fill="#c83f4b"/>
<path d="M822.6 507l5 3.6 5.3-3-5.1-1.6z" fill="#e25734"/>
<path d="M391.9 493.7l4.9 0.9 5.9-14-4.9-0.7z" fill="#ec6726"/>
<path d="M360.5 509.8l5 6.7 5.9-15.7-4.9 0.6z" fill="#e25734"/>
<path d="M689.9 473.6l4.9 11.7 5.3 5.6-4.9-6.4z" fill="#ee6a24"/>
<path d="M263.1 497.1l4.8-0.1 6.4 6.2-4.8-0.1z" fill="#e65d2f"/>
<path d="M431 612.3l4.8-4.5 5.4-75.6-4.9-0.3z" fill="#b3325a"/>
<path d="M438.2 686.3l4.7-17.1 5.9-4.6-4.7 18z" fill="#57106e"/>
<path d="M201.3 511.4l4.8 0.9 6.3-4.1-4.8-0.8z" fill="#e05536"/>
<path d="M401.4 569l4.8-5.8 5.3-67.3-4.9-3.4z" fill="#d34743"/>
<path d="M745.9 496.2l5.1-4.7 5.2 6.4-5.1 2.7z" fill="#e8602d"/>
<path d="M417.4 486.1l4.9 5.1 6-1.3-4.9 0.9z" fill="#eb6628"/>
<path d="M848.1 511.4l5.2 1.2 5.2-4.1-5.1-1.2z" fill="#e05536"/>
<path d="M406.2 563.2l5 20.3 5.2-79.9-4.9-7.7z" fill="#cf4446"/>
<path d="M365.5 516.5l5 9.6 5.8-18.4-4.9-6.9z" fill="#df5337"/>
<path d="M237.5 494.2l4.7-4.3 6.5 9.1-4.7 1.2z" fill="#e8602d"/>
<path d="M771.4 499.9l5.2-5.1 5.2 5.2-5.1 2.1z" fill="#e65d2f"/>
<path d="M304.3 487.8l4.7-4.2 6.5 14-4.8 2.1z" fill="#ea632a"/>
<path d="M694.8 485.3l5 1.2 5.3 6.2-5-1.8z" fill="#eb6628"/>
<path d="M364.5 536.9l5.2 22.8 5.9-11.7-5.1-21.9z" fill="#ca404a"/>
<path d="M308.2 773.1l4.5-16.8 5.6-30.6-4.6 14z" fill="#150b37"/>
<path d="M427.4 695.7l4.8-12.3 6 2.9-4.8 13.5z" fill="#4a0c6b"/>
<path d="M556.1 490.5l4.9-5.8 5.7 2.2-4.9 5.6z" fill="#eb6628"/>
<path d="M339.8 508.9l4.9 2.1 6.1-4.3-4.8 0.4z" fill="#e15635"/>
<path d="M221.9 508.5l4.7-5.1 6.3-1.8-4.7 4z" fill="#e35933"/>
<path d="M421 585.2l5 15.8 5.3-77.7-5-11.1z" fill="#c03a51"/>
<path d="M797.1 500.6l5.2-3.4 5 7.1-5.1-0.3z" fill="#e55c30"/>
<path d="M452.9 506.6l4.9 2.7 5.9-7.2-4.9-1.3z" fill="#e45a31"/>
<path d="M474.4 485.3l4.9-0.1 5.8-32.2-4.9 6.3z" fill="#f3761b"/>
<path d="M269 668.2l5.6 37.9 5.2-52.3-5.5-29.8z" fill="#64156e"/>
<path d="M468.6 503.1l4.9 0 5.8-17.9-4.9 0.1z" fill="#e9612b"/>
<path d="M302.1 781.3l4.7-7.7 5.9-17.3-4.5 16.8z" fill="#07051b"/>
<path d="M304.1 740l4.8-2.6 5.1-56.8-4.8 1.5z" fill="#390963"/>
<path d="M416.1 583.8l4.9 1.4 5.3-73-4.9-3.3z" fill="#c73e4c"/>
<path d="M480.2 459.3l4.9-6.3 5.8-17.3-4.9 1.1z" fill="#f98e09"/>
<path d="M720.4 486.7l5.1-0.7 5.2 6.8-5 0.2z" fill="#eb6628"/>
<path d="M827.6 510.6l5.1 1.9 5.3-3.6-5.1-1.3z" fill="#e15635"/>
<path d="M659.3 461.4l5 2.3 5.4 14.2-5-6z" fill="#f47918"/>
<path d="M581.7 491.3l5-5.5 5.6 1.3-5 3.9z" fill="#ec6726"/>
<path d="M422.3 491.2l4.9-2.4 6.1 8.2-5-7.1z" fill="#eb6429"/>
<path d="M602.3 488.6l5-9.3 5.6 3.8-5 5.5z" fill="#ee6a24"/>
<path d="M495.8 436.8l4.9-1.6 5.9-2.6-5-1.1z" fill="#fb9b06"/>
<path d="M291.1 787.3l4.9 1.1 6.1-7.1-4.8 3.3z" fill="#02010a"/>
<path d="M638.6 471.8l5.2-11.6 5.4 12-5.1 7z" fill="#f37819"/>
<path d="M356.8 602.3l5.3 30.3 6.3 11.6-5.3-33.2z" fill="#88226a"/>
<path d="M206.1 512.3l4.8 0.7 6.2-4.3-4.7-0.5z" fill="#e15635"/>
<path d="M396.8 494.6l4.9 0.4 5.8-19.2-4.8 4.8z" fill="#ed6925"/>
<path d="M267.9 497l4.8-0.3 6.4 5.9-4.8 0.6z" fill="#e75e2e"/>
<path d="M270.3 781.8l5 6.8 6.3 2.1-4.9-3.2z" fill="#010108"/>
<path d="M664.3 463.7l5 5.3 5.4 11.3-5-2.4z" fill="#f3761b"/>
<path d="M265.3 772.1l5 9.7 6.4 5.7-5-8.7z" fill="#030210"/>
<path d="M344.7 511l4.9 2 6.1-5.8-4.9-0.5z" fill="#e25734"/>
<path d="M457.8 509.3l5 0.9 5.8-7.1-4.9-1z" fill="#e35933"/>
<path d="M406.5 672.7l4.8-2.9 6.4 33.3-4.8 5.7z" fill="#4d0d6c"/>
<path d="M435.8 607.8l4.9-2.8 5.4-71-4.9-1.8z" fill="#b63458"/>
<path d="M288.6 497.2l4.7-5 6.2-0.1-4.6 6.8z" fill="#ea632a"/>
<path d="M309 483.6l4.9 4.5 6.4 9.5-4.8 0z" fill="#eb6429"/>
<path d="M427.2 488.8l5 7.5 6 2.2-4.9-1.5zM242.2 489.9l4.8 2.4 6.5 6.5-4.8 0.2z" fill="#ea632a"/>
<path d="M357.6 571.4l5.5 39.6 6-6.4-5.4-36z" fill="#a62d60"/>
<path d="M832.7 512.5l5.1 1.6 5.2-3.9-5-1.3z" fill="#e15635"/>
<path d="M308.9 737.4l4.8 2.3 5.2-55.4-4.9-3.7z" fill="#390963"/>
<path d="M500.7 435.2l5 4.7 5.8-0.9-4.9-6.4z" fill="#fb9906"/>
<path d="M448.8 664.6l4.8-22.6 5.9-12.3-4.8 29.6z" fill="#721a6e"/>
<path d="M802.3 497.2l5.1-1.4 5.1 7.6-5.2 0.9z" fill="#e75e2e"/>
<path d="M260.2 760.7l5.1 11.4 6.4 6.7-5-9.2z" fill="#08051d"/>
<path d="M725.5 486l5 0.5 5.3 8.1-5.1-1.8z" fill="#ec6726"/>
<path d="M250.9 708.8l5.8 40 6.2-6.3-5.7-37.4z" fill="#2b0b57"/>
<path d="M751 491.5l5.2-4 5.1 8.9-5.1 1.5z" fill="#eb6429"/>
<path d="M505.7 439.9l5 6.1 5.8-1.6-5-5.4z" fill="#fa9407"/>
<path d="M473.5 503.1l5-0.2 5.7-22.1-4.9 4.4z" fill="#eb6429"/>
<path d="M359.5 526l5 10.9 6-10.8-5-9.6z" fill="#d84c3e"/>
<path d="M561 484.7l5 0.1 5.7 2-5 0.1z" fill="#ee6a24"/>
<path d="M485.1 453l4.9 1 5.8-17.2-4.9-1.1z" fill="#fa9207"/>
<path d="M510.7 446l4.9 3 5.8 4.6-4.9-9.2z" fill="#f98e09"/>
<path d="M432.2 496.3l4.9 3.8 6-0.3-4.9-1.3z" fill="#e8602d"/>
<path d="M479.3 485.2l4.9-4.4 5.8-26.8-4.9-1z" fill="#f57b17"/>
<path d="M699.8 486.5l5.2-11.9 5.3 11.4-5.2 6.7z" fill="#ef6c23"/>
<path d="M349.6 513l4.9 3.9 6-7.1-4.8-2.6z" fill="#e15635"/>
<path d="M776.6 494.8l5.3-6.7 5.1 8.9-5.2 3z" fill="#ea632a"/>
<path d="M440.7 605l4.9 5.9 5.5-71.5-5-5.4z" fill="#b43359"/>
<path d="M454.7 659.3l4.8-29.6 5.7-38.4-4.8 19.6z" fill="#88226a"/>
<path d="M210.9 513l4.7 0.3 6.3-4.8-4.8 0.2z" fill="#e15635"/>
<path d="M275.3 788.6l4.7-4.2 6.4 4.6-4.8 1.7z" fill="#02010a"/>
<path d="M313.9 488.1l4.9 2.6 6.4 8-4.9-1.1z" fill="#eb6429"/>
<path d="M354.5 516.9l5 9.1 6-9.5-5-6.7z" fill="#de5238"/>
<path d="M255.2 752.5l5 8.2 6.5 8.9-5-9.8z" fill="#0e092b"/>
<path d="M445.6 610.9l5 6.4 5.4-72.5-4.9-5.4z" fill="#b0315b"/>
<path d="M462.8 510.2l4.9 1.2 5.8-8.3-4.9 0z" fill="#e45a31"/>
<path d="M515.6 449l5 6.4 5.8-2.5-5 0.7z" fill="#f98b0b"/>
<path d="M669.3 469l5.1-4.7 5.3 12.9-5 3.1z" fill="#f37819"/>
<path d="M401.7 495l4.9-2.5 5.9-12.1-5-4.6z" fill="#ee6a24"/>
<path d="M730.5 486.5l5 6.1 5.3 5.1-5-3.1z" fill="#eb6628"/>
<path d="M618.1 463.5l5-2.9 5.5 6.5-5 3.9z" fill="#f67e14"/>
<path d="M837.8 514.1l5.1 1.4 5.2-4.1-5.1-1.2z" fill="#e15635"/>
<path d="M566 484.8l5 7 5.7 0.5-5-5.5z" fill="#ed6925"/>
<path d="M318.8 490.7l5.1 10.3 6.2 3.9-4.9-6.2zM226.6 503.4l4.5-8.4 6.4-0.8-4.6 7.4z" fill="#e8602d"/>
<path d="M586.7 485.8l5-1.7 5.6-0.2-5 3.2z" fill="#ef6c23"/>
<path d="M450.6 617.3l4.9 4.4 5.5-73.6-5-3.3z" fill="#ad305d"/>
<path d="M272.7 496.7l4.7-1.4 6.4 2.5-4.7 4.8z" fill="#e9612b"/>
<path d="M323.9 501l4.9 5.6 6.2 0.1-4.9-1.8z" fill="#e55c30"/>
<path d="M437.1 500.1l4.9 3.9 6-2.8-4.9-1.4z" fill="#e75e2e"/>
<path d="M358.5 542.5l5.2 26.1 6-8.9-5.2-22.8z" fill="#c63d4d"/>
<path d="M250.2 743.3l5 9.2 6.5 7.3-5-11z" fill="#160b39"/>
<path d="M411.3 669.8l5 1.1 6.3 32.7-4.9-0.5z" fill="#510e6c"/>
<path d="M299.7 687.9l5.1 15 4.8-74-5-10.8z" fill="#69166e"/>
<path d="M478.5 502.9l4.9 1.5 5.8-17.9-5-5.7z" fill="#eb6429"/>
<path d="M623.1 460.6l4.9 12.3 5.5 5.9-4.9-11.7z" fill="#f57b17"/>
<path d="M807.4 495.8l5.1 2.4 5.1 5.9-5.1-0.7z" fill="#e8602d"/>
<path d="M756.2 487.5l5 4.1 5.2 7-5.1-2.2z" fill="#eb6429"/>
<path d="M520.6 455.4l4.9 0 5.8 5.2-4.9-7.7z" fill="#f8870e"/>
<path d="M247 492.3l4.7-6.1 6.5 8.6-4.7 4z" fill="#eb6628"/>
<path d="M484.2 480.8l5 5.7 5.8-32.3-5-0.2z" fill="#f57b17"/>
<path d="M490 454l5 0.2 5.7-19-4.9 1.6z" fill="#fa9207"/>
<path d="M406.6 492.5l4.9 3.4 5.9-9.8-4.9-5.7zM545.4 487.1l4.9 6.8 5.8-3.4-5-6.9z" fill="#ed6925"/>
<path d="M296 788.4l4.5-13.9 6.3-0.9-4.7 7.7z" fill="#040314"/>
<path d="M442 504l5 5.4 5.9-2.8-4.9-5.4z" fill="#e55c30"/>
<path d="M571 491.8l5-0.3 5.7-0.2-5 1z" fill="#ec6726"/>
<path d="M257.6 657.8l5.6 31.7 5.8-21.3-5.5-27.8z" fill="#65156e"/>
<path d="M328.8 506.6l4.9 2.5 6.1-0.2-4.8-2.2z" fill="#e45a31"/>
<path d="M735.5 492.6l5.1-1.4 5.3 5-5.1 1.5zM411.5 495.9l4.9 7.7 5.9-12.4-4.9-5.1z" fill="#eb6429"/>
<path d="M467.7 511.4l4.9 1 5.9-9.5-5 0.2z" fill="#e45a31"/>
<path d="M194.9 515.6l4.8 1 6.4-4.3-4.8-0.9z" fill="#e05536"/>
<path d="M525.5 455.4l5 8.2 5.8-3.7-5 0.7z" fill="#f78410"/>
<path d="M842.9 515.5l5.1 1.3 5.3-4.2-5.2-1.2z" fill="#e05536"/>
<path d="M312.7 756.3l4.6-10.2 5.7-26.1-4.7 5.7z" fill="#230c4c"/>
<path d="M812.5 498.2l5 6.7 5.1 2.1-5-2.9z" fill="#e65d2f"/>
<path d="M293.3 492.2l4.7-6.5 6.3 2.1-4.8 4.3z" fill="#ed6925"/>
<path d="M483.4 504.4l4.9 2.3 5.8-19.3-4.9-0.9z" fill="#ea632a"/>
<path d="M447 509.4l4.9 4.1 5.9-4.2-4.9-2.7z" fill="#e35933"/>
<path d="M530.5 463.6l4.9 7.4 5.8-2.8-4.9-8.3z" fill="#f67e14"/>
<path d="M591.7 484.1l4.9 3.2 5.7 1.3-5-4.7z" fill="#ef6c23"/>
<path d="M313.7 739.7l4.6-14 5.2-53.5-4.6 12.1z" fill="#420a68"/>
<path d="M540.4 474.5l5 12.6 5.7-3.5-4.9-13.3z" fill="#f1731d"/>
<path d="M643.8 460.2l5.1-10.1 5.4 15.5-5.1 6.6z" fill="#f78212"/>
<path d="M489.2 486.5l4.9 0.9 5.8-29.6-4.9-3.6z" fill="#f47918"/>
<path d="M215.6 513.3l4.7-4.5 6.3-5.4-4.7 5.1z" fill="#e45a31"/>
<path d="M306.8 773.6l4.5-13.7 6-13.8-4.6 10.2z" fill="#110a30"/>
<path d="M280 784.4l4.8-1.1 6.3 4-4.7 1.7z" fill="#02020e"/>
<path d="M761.2 491.6l5.1-1.2 5.1 9.5-5-1.3z" fill="#eb6429"/>
<path d="M416.4 503.6l5 5.3 5.8-20.1-4.9 2.4z" fill="#ea632a"/>
<path d="M628 472.9l5.1-11.8 5.5 10.7-5.1 7z" fill="#f47918"/>
<path d="M279.8 653.8l4.9 5.3 5-59.7-4.9-5.3z" fill="#87216b"/>
<path d="M781.9 488.1l5.2-3.8 5 12.4-5.1 0.3z" fill="#ec6726"/>
<path d="M535.4 471l5 3.5 5.8-4.2-5-2.1z" fill="#f57b17"/>
<path d="M817.5 504.9l5 5.2 5.1 0.5-5-3.6z" fill="#e45a31"/>
<path d="M495 454.2l4.9 3.6 5.8-17.9-5-4.7z" fill="#fa9207"/>
<path d="M333.7 509.1l4.9 4.9 6.1-3-4.9-2.1z" fill="#e35933"/>
<path d="M432.2 683.4l4.7-17.6 6 3.4-4.7 17.1z" fill="#5c126e"/>
<path d="M455.5 621.7l4.9-10.8 5.5-66.7-4.9 3.9z" fill="#b0315b"/>
<path d="M277.4 495.3l4.9 0 6.3 1.9-4.8 0.6z" fill="#eb6429"/>
<path d="M705 474.6l5.1-1.6 5.2 12.2-5 0.8z" fill="#f1731d"/>
<path d="M416.3 670.9l4.9 1.6 6.2 23.2-4.8 7.9z" fill="#540f6d"/>
<path d="M550.3 493.9l5-5.9 5.7-3.3-4.9 5.8z" fill="#ee6a24"/>
<path d="M304.8 702.9l4.4-20.8 5-64.8-4.6 11.6z" fill="#6c186e"/>
<path d="M251.6 672.2l5.6 32.9 6-15.6-5.6-31.7z" fill="#59106e"/>
<path d="M451.9 513.5l5 0.9 5.9-4.2-5-0.9zM822.5 510.1l5 4.9 5.2-2.5-5.1-1.9z" fill="#e25734"/>
<path d="M421.4 508.9l4.9 3.3 5.9-15.9-5-7.5z" fill="#e8602d"/>
<path d="M472.6 512.4l5 1.4 5.8-9.4-4.9-1.5z" fill="#e45a31"/>
<path d="M199.7 516.6l4.8 1.1 6.4-4.7-4.8-0.7z" fill="#e15635"/>
<path d="M499.9 457.8l4.9 0.6 5.9-12.4-5-6.1z" fill="#f98e09"/>
<path d="M431.3 523.3l5 8.6 5.7-27.9-4.9-3.9z" fill="#e15635"/>
<path d="M674.4 464.3l5.2-7 5.3 14.1-5.2 5.8z" fill="#f67e14"/>
<path d="M426.3 512.2l5 11.1 5.8-23.2-4.9-3.8z" fill="#e55c30"/>
<path d="M488.3 506.7l5 1.1 5.8-19.8-5-0.6z" fill="#ea632a"/>
<path d="M607.3 479.3l5.2-23.9 5.6 8.1-5.2 19.6z" fill="#f57b17"/>
<path d="M338.6 514l4.9 3.8 6.1-4.8-4.9-2z" fill="#e15635"/>
<path d="M509.8 468.1l5 12.3 5.8-25-5-6.4z" fill="#f78212"/>
<path d="M353.5 531.4l5 11.1 6-5.6-5-10.9z" fill="#d44842"/>
<path d="M263.5 640.4l5.5 27.8 5.3-44.2-5.4-27.9z" fill="#84206b"/>
<path d="M494.1 487.4l5 0.6 5.7-29.6-4.9-0.6z" fill="#f47918"/>
<path d="M251.7 486.2l4.7-5.5 6.7 16.4-4.9-2.3z" fill="#ee6a24"/>
<path d="M504 494.3l5 6.7 5.8-20.6-5-12.3z" fill="#ef6e21"/>
<path d="M504.8 458.4l5 9.7 5.8-19.1-4.9-3z" fill="#f98b0b"/>
<path d="M436.3 531.9l4.9 0.3 5.8-22.8-5-5.4z" fill="#de5238"/>
<path d="M294.3 660.4l5.4 27.5 4.9-69.8-5.3-20.1z" fill="#7c1d6d"/>
<path d="M576 491.5l5-4.6 5.7-1.1-5 5.5z" fill="#ee6a24"/>
<path d="M231.1 495l4.7-6 6.4 0.9-4.7 4.3zM787.1 484.3l5.1 2.2 4.9 14.1-5-3.9z" fill="#ed6925"/>
<path d="M442.9 669.2l4.7-28.5 6 1.3-4.8 22.6z" fill="#71196e"/>
<path d="M827.5 515l5 2.7 5.3-3.6-5.1-1.6z" fill="#e15635"/>
<path d="M284.7 659.1l4.6-6.5 5.1-59.1-4.7 5.9z" fill="#8a226a"/>
<path d="M499.1 488l4.9 6.3 5.8-26.2-5-9.7z" fill="#f3761b"/>
<path d="M514.8 480.4l4.9-4.1 5.8-20.9-4.9 0z" fill="#f68013"/>
<path d="M343.5 517.8l5 4.6 6-5.5-4.9-3.9z" fill="#e05536"/>
<path d="M317.3 746.1l4.8-0.3 5.9-20.9-5-4.9z" fill="#280b53"/>
<path d="M348.5 522.4l5 9 6-5.4-5-9.1z" fill="#db503b"/>
<path d="M596.6 487.3l5.1-7.9 5.6-0.1-5 9.3z" fill="#f06f20"/>
<path d="M710.1 473l5 3.3 5.3 10.4-5.1-1.5z" fill="#f1731d"/>
<path d="M284.8 783.3l4.7-2.8 6.5 7.9-4.9-1.1z" fill="#040312"/>
<path d="M298 485.7l4.9 2.8 6.1-4.9-4.7 4.2z" fill="#ef6e21"/>
<path d="M493.3 507.8l4.9 2 5.8-15.5-4.9-6.3z" fill="#ea632a"/>
<path d="M477.6 513.8l4.9 1.1 5.8-8.2-4.9-2.3z" fill="#e45a31"/>
<path d="M766.3 490.4l5.2-2.9 5.1 7.3-5.2 5.1z" fill="#ec6726"/>
<path d="M456.9 514.4l4.9 2.2 5.9-5.2-4.9-1.2z" fill="#e25734"/>
<path d="M274.3 624l5.5 29.8 5-59.7-5.3-22.4z" fill="#972766"/>
<path d="M509 501l4.9-3.5 5.8-21.2-4.9 4.1zM740.6 491.2l5.4-14.4 5 14.7-5.1 4.7z" fill="#ef6c23"/>
<path d="M204.5 517.7l4.8 0.4 6.3-4.8-4.7-0.3z" fill="#e15635"/>
<path d="M282.3 495.3l4.8 0.7 6.2-3.8-4.7 5z" fill="#eb6628"/>
<path d="M441.2 532.2l4.9 1.8 5.8-20.5-4.9-4.1z" fill="#dd513a"/>
<path d="M498.2 509.8l5 3 5.8-11.8-5-6.7z" fill="#e75e2e"/>
<path d="M244.6 708.8l5.6 34.5 6.5 5.5-5.8-40z" fill="#2f0a5b"/>
<path d="M351.5 568.9l5.3 33.4 6.3 8.7-5.5-39.6z" fill="#ab2f5e"/>
<path d="M555.3 488l5 1.8 5.7-5-5-0.1z" fill="#ef6e21"/>
<path d="M352.4 548.6l5.2 22.8 6.1-2.8-5.2-26.1z" fill="#c43c4e"/>
<path d="M689.5 473l5 2.2 5.3 11.3-5-1.2z" fill="#f2741c"/>
<path d="M684.6 458.5l4.9 14.5 5.3 12.3-4.9-11.7z" fill="#f57b17"/>
<path d="M832.5 517.7l5.1 1.7 5.3-3.9-5.1-1.4z" fill="#e15635"/>
<path d="M256.4 480.7l4.8 1.2 6.7 15.1-4.8 0.1z" fill="#ef6c23"/>
<path d="M792.2 486.5l5.1 0.4 5 10.3-5.2 3.4z" fill="#ed6925"/>
<path d="M679.6 457.3l5 1.2 5.3 15.1-5-2.2z" fill="#f78212"/>
<path d="M519.7 476.3l5 2.1 5.8-14.8-5-8.2z" fill="#f68013"/>
<path d="M648.9 450.1l5.1-8.2 5.3 19.5-5 4.2z" fill="#f98c0a"/>
<path d="M318.3 725.7l4.7-5.7 5.5-44.1-5-3.7z" fill="#4a0c6b"/>
<path d="M220.3 508.8l4.5-9.6 6.3-4.2-4.5 8.4z" fill="#e9612b"/>
<path d="M524.7 478.4l5 7.4 5.7-14.8-4.9-7.4z" fill="#f47918"/>
<path d="M539.6 496.1l5 6.5 5.7-8.7-4.9-6.8z" fill="#ec6726"/>
<path d="M446.1 534l5 5.4 5.8-25-5-0.9z" fill="#db503b"/>
<path d="M715.1 476.3l5.1-0.7 5.3 10.4-5.1 0.7zM529.7 485.8l4.9 6.3 5.8-17.6-5-3.5z" fill="#f2741c"/>
<path d="M482.5 514.9l4.9 0.8 5.9-7.9-5-1.1z" fill="#e45a31"/>
<path d="M235.8 489l4.8 2.9 6.4 0.4-4.8-2.4z" fill="#ee6a24"/>
<path d="M461.8 516.6l4.9 1.5 5.9-5.7-4.9-1z" fill="#e25734"/>
<path d="M560.3 489.8l5 7.4 5.7-5.4-5-7z" fill="#ee6a24"/>
<path d="M534.6 492.1l5 4 5.8-9-5-12.6z" fill="#ef6e21"/>
<path d="M289.3 652.6l5 7.8 5-62.4-4.9-4.5z" fill="#8a226a"/>
<path d="M302.9 488.5l4.8 0 6.2-0.4-4.9-4.5z" fill="#ef6e21"/>
<path d="M300.5 774.5l4.6-12.1 6.2-2.5-4.5 13.7z" fill="#0d0829"/>
<path d="M311.3 759.9l4.7-9.9 6.1-4.2-4.8 0.3z" fill="#1b0c41"/>
<path d="M421.2 672.5l4.8-8.4 6.2 19.3-4.8 12.3z" fill="#5c126e"/>
<path d="M581 486.9l5-0.7 5.7-2.1-5 1.7z" fill="#f06f20"/>
<path d="M503.2 512.8l4.9-0.5 5.8-14.8-4.9 3.5z" fill="#e75e2e"/>
<path d="M323 720l5 4.9 5.5-36.6-5-12.4z" fill="#490b6a"/>
<path d="M317.7 504.1l4.9 5.9 6.2-3.4-4.9-5.6z" fill="#e75e2e"/>
<path d="M355.4 596.3l5 6.8 6.8 47.1-5.1-17.6z" fill="#902568"/>
<path d="M451.1 539.4l4.9 5.4 5.8-28.2-4.9-2.2z" fill="#da4e3c"/>
<path d="M245.4 679.1l5.5 29.7 6.3-3.7-5.6-32.9z" fill="#520e6d"/>
<path d="M312.7 496.4l5 7.7 6.2-3.1-5.1-10.3z" fill="#eb6628"/>
<path d="M188.6 519.8l4.8 1.1 6.3-4.3-4.8-1z" fill="#e05536"/>
<path d="M513.9 497.5l5 1.7 5.8-20.8-5-2.1z" fill="#ef6e21"/>
<path d="M307.7 488.5l5 7.9 6.1-5.7-4.9-2.6z" fill="#ef6c23"/>
<path d="M565.3 497.2l4.9 0 5.8-5.7-5 0.3z" fill="#ed6925"/>
<path d="M261.2 481.9l4.9 5.3 6.6 9.5-4.8 0.3z" fill="#ef6c23"/>
<path d="M837.6 519.4l5.2 1.5 5.2-4.1-5.1-1.3z" fill="#e15635"/>
<path d="M633.1 461.1l5.2-13.1 5.5 12.2-5.2 11.6z" fill="#f8890c"/>
<path d="M209.3 518.1l4.8-1.5 6.2-7.8-4.7 4.5z" fill="#e35933"/>
<path d="M252.2 630.8l5.4 27 5.9-17.4-5.4-26z" fill="#82206c"/>
<path d="M460.4 610.9l4.8-19.6 5.6-52.3-4.9 5.2z" fill="#ba3655"/>
<path d="M287.1 496l4.9 2.5 6-12.8-4.7 6.5z" fill="#ee6a24"/>
<path d="M322.6 510l5 3.7 6.1-4.6-4.9-2.5z" fill="#e55c30"/>
<path d="M544.6 502.6l4.9-1.6 5.8-13-5 5.9z" fill="#ec6726"/>
<path d="M309.2 682.1l4.8-1.5 5-66.1-4.8 2.8z" fill="#771c6d"/>
<path d="M360.4 603.1l4.8-7.1 6.9 52.9-4.9 1.3z" fill="#8d2369"/>
<path d="M487.4 515.7l5 1.5 5.8-7.4-4.9-2z" fill="#e45a31"/>
<path d="M720.2 475.6l5 5.3 5.3 5.6-5-0.5z" fill="#f2741c"/>
<path d="M466.7 518.1l5 0.8 5.9-5.1-5-1.4z" fill="#e25734"/>
<path d="M518.9 499.2l5 5.5 5.8-18.9-5-7.4z" fill="#ee6a24"/>
<path d="M456 544.8l5 3.3 5.7-30-4.9-1.5z" fill="#d84c3e"/>
<path d="M797.3 486.9l5.1-1.2 5 10.1-5.1 1.4z" fill="#ef6c23"/>
<path d="M523.9 504.7l4.9 3.8 5.8-16.4-4.9-6.3z" fill="#eb6628"/>
<path d="M771.5 487.5l5.3-7.1 5.1 7.7-5.3 6.7z" fill="#f06f20"/>
<path d="M654 441.9l5 4.8 5.3 17-5-2.3z" fill="#fa9008"/>
<path d="M327.6 513.7l4.9 4.7 6.1-4.4-4.9-4.9z" fill="#e35933"/>
<path d="M586 486.2l5 3.4 5.6-2.3-4.9-3.2z" fill="#f06f20"/>
<path d="M289.5 780.5l4.6-11.3 6.4 5.3-4.5 13.9z" fill="#08051d"/>
<path d="M612.5 455.4l5 0.4 5.6 4.8-5 2.9z" fill="#f98b0b"/>
<path d="M725.2 480.9l5.1 3.2 5.2 8.5-5-6.1z" fill="#f1711f"/>
<path d="M193.4 520.9l4.8 1.1 6.3-4.3-4.8-1.1z" fill="#e15635"/>
<path d="M459.5 629.7l4.7-30.8 5.8-28.9-4.8 21.3z" fill="#a52c60"/>
<path d="M347.4 536.5l5 12.1 6.1-6.1-5-11.1z" fill="#d34743"/>
<path d="M266.1 487.2l4.9 1.6 6.4 6.5-4.7 1.4z" fill="#ef6c23"/>
<path d="M258.1 614.4l5.4 26 5.4-44.3-5.3-17.9z" fill="#9d2964"/>
<path d="M528.8 508.5l5 3.2 5.8-15.6-5-4z" fill="#ea632a"/>
<path d="M508.1 512.3l5 0.4 5.8-13.5-5-1.7z" fill="#e8602d"/>
<path d="M240.6 491.9l4.6-10.5 6.5 4.8-4.7 6.1z" fill="#f06f20"/>
<path d="M314 680.6l4.9 3.7 5.1-60.9-5-8.9z" fill="#771c6d"/>
<path d="M694.5 475.2l5.3-14 5.2 13.4-5.2 11.9z" fill="#f57b17"/>
<path d="M746 476.8l5.2-8 5 18.7-5.2 4z" fill="#f3761b"/>
<path d="M332.5 518.4l4.9 4 6.1-4.6-4.9-3.8z" fill="#e15635"/>
<path d="M322.1 745.8l4.5-22.4 5.9-18.4-4.5 19.9z" fill="#340a5f"/>
<path d="M492.4 517.2l4.9 1.3 5.9-5.7-5-3z" fill="#e35933"/>
<path d="M659 446.7l5.1 1.1 5.2 21.2-5-5.3z" fill="#f98c0a"/>
<path d="M453.6 642l4.7-34.8 5.9-8.3-4.7 30.8z" fill="#922568"/>
<path d="M812.3 502.9l4.9 9.2 5.3-2-5-5.2z" fill="#e75e2e"/>
<path d="M802.4 485.7l4.9 9.9 5.2 2.6-5.1-2.4zM292 498.5l4.9 2.5 6-12.5-4.9-2.8z" fill="#ee6a24"/>
<path d="M807.3 495.6l5 7.3 5.2 2-5-6.7z" fill="#eb6429"/>
<path d="M617.5 455.8l5 6.6 5.5 10.5-4.9-12.3z" fill="#f8870e"/>
<path d="M817.2 512.1l5 5.9 5.3-3-5-4.9z" fill="#e45a31"/>
<path d="M471.7 518.9l4.9 0.8 5.9-4.8-4.9-1.1z" fill="#e25734"/>
<path d="M533.8 511.7l5 3.4 5.8-12.5-5-6.5z" fill="#e8602d"/>
<path d="M224.8 499.2l4.8 0.5 6.2-10.7-4.7 6z" fill="#ed6925"/>
<path d="M263.3 752.2l5 6.7 7 29.7-5-6.8z" fill="#0d0829"/>
<path d="M342.4 527l5 9.5 6.1-5.1-5-9z" fill="#da4e3c"/>
<path d="M337.4 522.4l5 4.6 6.1-4.6-5-4.6z" fill="#df5337"/>
<path d="M570.2 497.2l5.1-4.7 5.7-5.6-5 4.6z" fill="#ef6c23"/>
<path d="M461 548.1l4.9-3.9 5.8-25.3-5-0.8z" fill="#d94d3d"/>
<path d="M549.5 501l5 0.2 5.8-11.4-5-1.8z" fill="#ed6925"/>
<path d="M268.9 596.1l5.4 27.9 5.2-52.3-5.3-18z" fill="#b0315b"/>
<path d="M328 724.9l4.5-19.9 5.7-30.1-4.7 13.4z" fill="#4d0d6c"/>
<path d="M350.3 581.4l5.1 14.9 6.7 36.3-5.3-30.3z" fill="#a22b62"/>
<path d="M246 640.6l5.6 31.6 6-14.4-5.4-27z" fill="#781c6d"/>
<path d="M513.1 512.7l5 2.7 5.8-10.7-5-5.5z" fill="#e75e2e"/>
<path d="M822.2 518l5.1 3.4 5.2-3.7-5-2.7z" fill="#e25734"/>
<path d="M198.2 522l4.8 1 6.3-4.9-4.8-0.4z" fill="#e15635"/>
<path d="M730.3 484.1l5.2-6 5.1 13.1-5.1 1.4z" fill="#f1711f"/>
<path d="M365.2 596l4.8-9.1 7 69.3-4.9-7.3z" fill="#902568"/>
<path d="M271 488.8l4.9 3.2 6.4 3.3-4.9 0z" fill="#ef6c23"/>
<path d="M370 586.9l5.1 14.9 7 67.2-5.1-12.8z" fill="#8c2369"/>
<path d="M214.1 516.6l4.7-4.2 6-13.2-4.5 9.6z" fill="#e75e2e"/>
<path d="M375.1 601.8l4.8-3.9 7 72.7-4.8-1.6z" fill="#85216b"/>
<path d="M554.5 501.2l5 7 5.8-11-5-7.4z" fill="#eb6628"/>
<path d="M296.9 501l4.8 1.8 6-14.3-4.8 0z" fill="#ee6a24"/>
<path d="M436.9 665.8l4.8-23.2 5.9-1.9-4.7 28.5z" fill="#751b6e"/>
<path d="M497.3 518.5l5-0.5 5.8-5.7-4.9 0.5z" fill="#e45a31"/>
<path d="M258 732l5.3 20.2 7 29.6-5-9.7z" fill="#160b39"/>
<path d="M284.8 594.1l4.9 5.3 5.3-47.9-4.9-5.1z" fill="#bc3754"/>
<path d="M518.1 515.4l4.9 2.6 5.8-9.5-4.9-3.8z" fill="#e65d2f"/>
<path d="M591 489.6l5-8.2 5.7-2-5.1 7.9z" fill="#f2741c"/>
<path d="M751.2 468.8l5 7.6 5 15.2-5-4.1z" fill="#f37819"/>
<path d="M538.8 515.1l5-1.9 5.7-12.2-4.9 1.6z" fill="#e8602d"/>
<path d="M601.7 479.4l5.2-25.3 5.6 1.3-5.2 23.9z" fill="#f78410"/>
<path d="M664.1 447.8l5-3.1 5.3 19.6-5.1 4.7z" fill="#f98e09"/>
<path d="M476.6 519.7l5-0.4 5.8-3.6-4.9-0.8z" fill="#e35933"/>
<path d="M827.3 521.4l5.1 2 5.2-4-5.1-1.7z" fill="#e15635"/>
<path d="M275.9 492l5 9.5 6.2-5.5-4.8-0.7z" fill="#ed6925"/>
<path d="M776.8 480.4l5.1-2.1 5.2 6-5.2 3.8z" fill="#f3761b"/>
<path d="M318.9 684.3l4.6-12.1 5.2-59.3-4.7 10.5z" fill="#7a1d6d"/>
<path d="M268.3 758.9l4.6-9.1 7.1 34.6-4.7 4.2z" fill="#0e092b"/>
<path d="M559.5 508.2l5-2 5.7-9-4.9 0z" fill="#eb6429"/>
<path d="M305.1 762.4l4.7-8.7 6.2-3.7-4.7 9.9z" fill="#190c3e"/>
<path d="M622.5 462.4l5.2-13.4 5.4 12.1-5.1 11.8z" fill="#f98b0b"/>
<path d="M346.3 549.4l5.2 19.5 6.1 2.5-5.2-22.8z" fill="#c73e4c"/>
<path d="M301.7 502.8l4.9 3 6.1-9.4-5-7.9z" fill="#ec6726"/>
<path d="M306.6 505.8l5 6.6 6.1-8.3-5-7.7z" fill="#ea632a"/>
<path d="M280.9 501.5l5 7 6.1-10-4.9-2.5z" fill="#eb6628"/>
<path d="M523 518l5 2 5.8-8.3-5-3.2z" fill="#e55c30"/>
<path d="M279.5 571.7l5.3 22.4 5.3-47.7-5.1-11.2z" fill="#c43c4e"/>
<path d="M311.6 512.4l5 4.8 6-7.2-4.9-5.9z" fill="#e75e2e"/>
<path d="M756.2 476.4l5.1 1.4 5 12.6-5.1 1.2z" fill="#f2741c"/>
<path d="M229.6 499.7l4.7-4.8 6.3-3-4.8-2.9z" fill="#ef6c23"/>
<path d="M304.6 618.1l5 10.8 5.1-59.4-4.9-5.4z" fill="#a92e5e"/>
<path d="M203 523l4.8 0.5 6.3-6.9-4.8 1.5z" fill="#e15635"/>
<path d="M465.9 544.2l4.9-5.2 5.8-19.3-4.9-0.8z" fill="#db503b"/>
<path d="M243.2 716.4l4.9 6.4 7.1 29.7-5-9.2z" fill="#2f0a5b"/>
<path d="M426 664.1l4.8-15.4 6.1 17.1-4.7 17.6z" fill="#6c186e"/>
<path d="M575.3 492.5l5-2.8 5.7-3.5-5 0.7z" fill="#f1711f"/>
<path d="M252.9 721.9l5.1 10.1 7.3 40.1-5.1-11.4z" fill="#230c4c"/>
<path d="M289.7 599.4l4.7-5.9 5.4-44.1-4.8 2.1z" fill="#bc3754"/>
<path d="M182.2 524l4.8 1.1 6.4-4.2-4.8-1.1z" fill="#e05536"/>
<path d="M316 750l4.4-24.2 6.2-2.4-4.5 22.4z" fill="#2b0b57"/>
<path d="M316.6 517.2l4.9 4 6.1-7.5-5-3.7z" fill="#e45a31"/>
<path d="M248.1 722.8l4.8-0.9 7.3 38.8-5-8.2z" fill="#290b55"/>
<path d="M638.3 448l5.2-16 5.4 18.1-5.1 10.1z" fill="#fb9906"/>
<path d="M502.3 518l5 0.1 5.8-5.4-5-0.4z" fill="#e45a31"/>
<path d="M285.9 508.5l4.9 3.1 6.1-10.6-4.9-2.5z" fill="#ea632a"/>
<path d="M832.4 523.4l5.1 1.6 5.3-4.1-5.2-1.5z" fill="#e15635"/>
<path d="M245.2 481.4l4.7-6.6 6.5 5.9-4.7 5.5z" fill="#f47918"/>
<path d="M481.6 519.3l4.9 0.7 5.9-2.8-5-1.5z" fill="#e35933"/>
<path d="M543.8 513.2l4.9 1.9 5.8-13.9-5-0.2z" fill="#e9612b"/>
<path d="M465.2 591.3l4.8-21.3 5.7-36.9-4.9 5.9z" fill="#c83f4b"/>
<path d="M699.8 461.2l5.1-3.4 5.2 15.2-5.1 1.6z" fill="#f8850f"/>
<path d="M528 520l5 2.9 5.8-7.8-5-3.4z" fill="#e35933"/>
<path d="M781.9 478.3l5 7.2 5.3 1-5.1-2.2z" fill="#f3761b"/>
<path d="M389.9 608.4l4.9 3.2 6.9 70.5-4.9-1.3z" fill="#7f1e6c"/>
<path d="M321.5 521.2l4.9 3.8 6.1-6.6-4.9-4.7z" fill="#e25734"/>
<path d="M379.9 597.9l4.8-7.9 7.1 77.7-4.9 2.9z" fill="#8a226a"/>
<path d="M238.8 673l5.8 35.8 6.3 0-5.5-29.7z" fill="#550f6d"/>
<path d="M263.6 578.2l5.3 17.9 5.3-42.4-5.1-15.2z" fill="#c13a50"/>
<path d="M246.6 600.9l5.6 29.9 5.9-16.4-5.5-31.1z" fill="#a02a63"/>
<path d="M299.3 598l5.3 20.1 5.2-54-5.1-9.9z" fill="#b43359"/>
<path d="M218.8 512.4l4.7-2 6.1-10.7-4.8-0.5z" fill="#ea632a"/>
<path d="M328.5 675.9l5 12.4 5.3-54.4-5.1-13z" fill="#771c6d"/>
<path d="M290.8 511.6l5 7 5.9-15.8-4.8-1.8z" fill="#e9612b"/>
<path d="M252.6 583.3l5.5 31.1 5.5-36.2-5.3-22.5z" fill="#b63458"/>
<path d="M294.1 769.2l4.7-10.5 6.3 3.7-4.6 12.1z" fill="#120a32"/>
<path d="M384.7 590l5.2 18.4 6.9 72.4-5-13.1z" fill="#87216b"/>
<path d="M548.7 515.1l5 3.9 5.8-10.8-5-7z" fill="#e75e2e"/>
<path d="M580.3 489.7l5 6.5 5.7-6.6-5-3.4z" fill="#f1711f"/>
<path d="M239.8 647.7l5.6 31.4 6.2-6.9-5.6-31.6z" fill="#721a6e"/>
<path d="M761.3 477.8l5.1 0.1 5.1 9.6-5.2 2.9z" fill="#f37819"/>
<path d="M187 525.1l4.8 1.2 6.4-4.3-4.8-1.1z" fill="#e05536"/>
<path d="M564.5 506.2l5-2.2 5.8-11.5-5.1 4.7z" fill="#ed6925"/>
<path d="M309.6 628.9l4.6-11.6 5.3-53.7-4.8 5.9z" fill="#ab2f5e"/>
<path d="M326.4 525l4.9 2.7 6.1-5.3-4.9-4z" fill="#e15635"/>
<path d="M341.3 540.4l5 9 6.1-0.8-5-12.1z" fill="#d34743"/>
<path d="M507.3 518.1l4.9 2.3 5.9-5-5-2.7z" fill="#e45a31"/>
<path d="M323.5 672.2l5 3.7 5.2-55-5-8z" fill="#7f1e6c"/>
<path d="M735.5 478.1l5.2-7.1 5.3 5.8-5.4 14.4z" fill="#f57b17"/>
<path d="M786.9 485.5l5.2-0.7 5.2 2.1-5.1-0.4z" fill="#f2741c"/>
<path d="M295.8 518.6l4.9 5.2 5.9-18-4.9-3z" fill="#e75e2e"/>
<path d="M294.4 593.5l4.9 4.5 5.4-43.8-4.9-4.8z" fill="#bd3853"/>
<path d="M274.2 553.7l5.3 18 5.5-36.5-5.1-10.2z" fill="#d24644"/>
<path d="M486.5 520l5 0.3 5.8-1.8-4.9-1.3zM207.8 523.5l4.8-0.8 6.2-10.3-4.7 4.2zM533 522.9l5 0.7 5.8-10.4-5 1.9z" fill="#e35933"/>
<path d="M447.6 640.7l4.7-35.5 6 2-4.7 34.8z" fill="#922568"/>
<path d="M290.1 546.4l4.9 5.1 5.7-27.7-4.9-5.2z" fill="#d94d3d"/>
<path d="M272.9 749.8l4.8-3.5 7.1 37-4.8 1.1z" fill="#140b34"/>
<path d="M285 535.2l5.1 11.2 5.7-27.8-5-7z" fill="#de5238"/>
<path d="M704.9 457.8l5.1 2.8 5.1 15.7-5-3.3z" fill="#f8870e"/>
<path d="M669.1 444.7l5.3-11.9 5.2 24.5-5.2 7z" fill="#fb9706"/>
<path d="M470.8 539l4.9-5.9 5.9-13.8-5 0.4z" fill="#de5238"/>
<path d="M300.7 523.8l5 4 5.9-15.4-5-6.6z" fill="#e45a31"/>
<path d="M345.1 561l5.2 20.4 6.5 20.9-5.3-33.4z" fill="#ba3655"/>
<path d="M234.3 494.9l4.8-3.2 6.1-10.3-4.6 10.5z" fill="#f1711f"/>
<path d="M333.5 688.3l4.7-13.4 5.4-45.8-4.8 4.8z" fill="#751b6e"/>
<path d="M331.3 527.7l4.9 4 6.2-4.7-5-4.6z" fill="#df5337"/>
<path d="M336.2 531.7l5.1 8.7 6.1-3.9-5-9.5z" fill="#da4e3c"/>
<path d="M553.7 519l5 1.7 5.8-14.5-5 2z" fill="#e65d2f"/>
<path d="M279.9 525l5.1 10.2 5.8-23.6-4.9-3.1z" fill="#e35933"/>
<path d="M812 513.3l4.9 8.4 5.3-3.7-5-5.9z" fill="#e55c30"/>
<path d="M274.9 514.6l5 10.4 6-16.5-5-7z" fill="#e75e2e"/>
<path d="M249.9 474.8l4.8 0.8 6.5 6.3-4.8-1.2z" fill="#f57d15"/>
<path d="M512.2 520.4l5 1.3 5.8-3.7-4.9-2.6z" fill="#e45a31"/>
<path d="M305.7 527.8l4.9 2.7 6-13.3-5-4.8z" fill="#e25734"/>
<path d="M223.5 510.4l4.9 2.5 5.9-18-4.7 4.8z" fill="#eb6628"/>
<path d="M191.8 526.3l4.9 1.2 6.3-4.5-4.8-1z" fill="#e15635"/>
<path d="M807 504l5 9.3 5.2-1.2-4.9-9.2z" fill="#ea632a"/>
<path d="M792.1 484.8l4.9 8.3 5.4-7.4-5.1 1.2z" fill="#f2741c"/>
<path d="M816.9 521.7l5.1 3.4 5.3-3.7-5.1-3.4z" fill="#e25734"/>
<path d="M295 551.5l4.8-2.1 5.9-21.6-5-4z" fill="#d84c3e"/>
<path d="M710 460.6l5 4.1 5.2 10.9-5.1 0.7z" fill="#f8850f"/>
<path d="M269.8 503l5.1 11.6 6-13.1-5-9.5z" fill="#ec6726"/>
<path d="M538 523.6l5 4.1 5.7-12.6-4.9-1.9z" fill="#e35933"/>
<path d="M269.1 538.5l5.1 15.2 5.7-28.7-5-10.4z" fill="#db503b"/>
<path d="M585.3 496.2l5-7.8 5.7-7-5 8.2z" fill="#f2741c"/>
<path d="M802.1 494.1l4.9 9.9 5.3-1.1-5-7.3z" fill="#ee6a24"/>
<path d="M254.7 475.6l5 6.5 6.4 5.1-4.9-5.3z" fill="#f47918"/>
<path d="M394.8 611.6l4.8-11.6 6.9 72.7-4.8 9.4z" fill="#84206b"/>
<path d="M237.5 682.7l5.7 33.7 7 26.9-5.6-34.5z" fill="#450a69"/>
<path d="M684.2 454.6l5.1 2.2 5.2 18.4-5-2.2z" fill="#f98b0b"/>
<path d="M797 493.1l5.1 1 5.2 1.5-4.9-9.9z" fill="#f1711f"/>
<path d="M310.6 530.5l4.9 3.7 6-13-4.9-4z" fill="#e05536"/>
<path d="M240.5 610.7l5.5 29.9 6.2-9.8-5.6-29.9z" fill="#972766"/>
<path d="M491.5 520.3l4.9-2.2 5.9-0.1-5 0.5z" fill="#e45a31"/>
<path d="M258.3 555.7l5.3 22.5 5.5-39.7-5.2-17.2z" fill="#d24644"/>
<path d="M606.9 454.1l5.1-6.1 5.5 7.8-5-0.4z" fill="#fb9606"/>
<path d="M569.5 504l5-0.9 5.8-13.4-5 2.8z" fill="#ef6c23"/>
<path d="M259.7 482.1l5 7.3 6.3-0.6-4.9-1.6z" fill="#f3761b"/>
<path d="M517.2 521.7l5 2.7 5.8-4.4-5-2z" fill="#e35933"/>
<path d="M822 525.1l5.1 2.4 5.3-4.1-5.1-2z" fill="#e15635"/>
<path d="M766.4 477.9l5.2-3.2 5.2 5.7-5.3 7.1z" fill="#f57d15"/>
<path d="M212.6 522.7l4.8 0.2 6.1-12.5-4.7 2z" fill="#e55c30"/>
<path d="M264.7 489.4l5.1 13.6 6.1-11-4.9-3.2z" fill="#f06f20"/>
<path d="M715 464.7l5 6.6 5.2 9.6-5-5.3z" fill="#f78212"/>
<path d="M299.8 549.4l4.9 4.8 5.9-23.7-4.9-2.7z" fill="#d74b3f"/>
<path d="M558.7 520.7l5 2 5.8-18.7-5 2.2z" fill="#e75e2e"/>
<path d="M543 527.7l4.9 4.8 5.8-13.5-5-3.9z" fill="#e25734"/>
<path d="M720 471.3l4.9 9.2 5.4 3.6-5.1-3.2z" fill="#f57d15"/>
<path d="M679.4 434.2l4.8 20.4 5.3 18.4-4.9-14.5z" fill="#fb9606"/>
<path d="M315.5 534.2l4.9 3.5 6-12.7-4.9-3.8z" fill="#df5337"/>
<path d="M627.7 449l5.1-15.8 5.5 14.8-5.2 13.1z" fill="#fb9d07"/>
<path d="M196.7 527.5l4.8 1.1 6.3-5.1-4.8-0.5z" fill="#e15635"/>
<path d="M277.7 746.3l4.8-1.8 7 36-4.7 2.8z" fill="#160b39"/>
<path d="M314.2 617.3l4.8-2.8 5.4-49.7-4.9-1.2z" fill="#b1325a"/>
<path d="M304.7 554.2l5.1 9.9 5.7-29.9-4.9-3.7z" fill="#d44842"/>
<path d="M332.5 705l4.3-29.3 5.9-20-4.5 19.2z" fill="#65156e"/>
<path d="M475.7 533.1l4.9-6.3 5.9-6.8-4.9-0.7z" fill="#e15635"/>
<path d="M612 448l4.9 12 5.6 2.4-5-6.6z" fill="#fa9407"/>
<path d="M643.5 432l5.2-11.6 5.3 21.5-5.1 8.2z" fill="#fca80d"/>
<path d="M309.8 564.1l4.9 5.4 5.7-31.8-4.9-3.5z" fill="#d04545"/>
<path d="M596 481.4l5.2-31 5.7 3.7-5.2 25.3z" fill="#f98b0b"/>
<path d="M674.4 432.8l5 1.4 5.2 24.3-5-1.2z" fill="#fc9f07"/>
<path d="M228.4 512.9l4.8 0.3 5.9-21.5-4.8 3.2z" fill="#ec6726"/>
<path d="M522.2 524.4l5 3 5.8-4.5-5-2.9z" fill="#e25734"/>
<path d="M547.9 532.5l5 3.5 5.8-15.3-5-1.7zM175.8 528.2l4.8 1.2 6.4-4.3-4.8-1.1z" fill="#e05536"/>
<path d="M574.5 503.1l5 5.2 5.8-12.1-5-6.5z" fill="#ef6c23"/>
<path d="M263.9 521.3l5.2 17.2 5.8-23.9-5.1-11.6z" fill="#e55c30"/>
<path d="M827.1 527.5l5.1 1.7 5.3-4.2-5.1-1.6z" fill="#e15635"/>
<path d="M319 614.5l5 8.9 5.4-52.1-5-6.5z" fill="#b0315b"/>
<path d="M464.2 598.9l4.8-36.9 5.8-13.6-4.8 21.6z" fill="#c33b4f"/>
<path d="M239.1 491.7l4.7-1.3 6.1-15.6-4.7 6.6z" fill="#f47918"/>
<path d="M320.4 537.7l4.9 0.5 6-10.5-4.9-2.7z" fill="#de5238"/>
<path d="M724.9 480.5l5.1 0.6 5.5-3-5.2 6z" fill="#f57d15"/>
<path d="M496.4 518.1l5-0.1 5.9 0.1-5-0.1z" fill="#e55c30"/>
<path d="M217.4 522.9l4.9 2.3 6.1-12.3-4.9-2.5z" fill="#e65d2f"/>
<path d="M326.6 723.4l4.2-34.9 6-12.8-4.3 29.3z" fill="#540f6d"/>
<path d="M247.2 560.7l5.4 22.6 5.7-27.6-5.3-21z" fill="#cb4149"/>
<path d="M309.8 753.7l4.3-28.5 6.3 0.6-4.4 24.2z" fill="#2f0a5b"/>
<path d="M470 570l4.8-21.6 5.8-21.6-4.9 6.3z" fill="#d54a41"/>
<path d="M740.7 471l5.3-8.2 5.2 6-5.2 8z" fill="#f8870e"/>
<path d="M298.8 758.7l4.6-12.4 6.4 7.4-4.7 8.7z" fill="#1f0c48"/>
<path d="M340.1 549.8l5 11.2 6.4 7.9-5.2-19.5z" fill="#cc4248"/>
<path d="M771.6 474.7l4.9 9 5.4-5.4-5.1 2.1z" fill="#f67e14"/>
<path d="M552.9 536l5 5.2 5.8-18.5-5-2z" fill="#df5337"/>
<path d="M563.7 522.7l5-0.5 5.8-19.1-5 0.9z" fill="#e8602d"/>
<path d="M527.2 527.4l5 4.4 5.8-8.2-5-0.7zM201.5 528.6l4.8 0.9 6.3-6.8-4.8 0.8z" fill="#e15635"/>
<path d="M776.5 483.7l4.9 10.4 5.5-8.6-5-7.2z" fill="#f47918"/>
<path d="M781.4 494.1l5 8.5 5.7-17.8-5.2 0.7z" fill="#f1731d"/>
<path d="M241.1 573.4l5.5 27.5 6-17.6-5.4-22.6z" fill="#bc3754"/>
<path d="M314.7 569.5l4.8-5.9 5.8-25.4-4.9-0.5z" fill="#d04545"/>
<path d="M180.6 529.4l4.9 1.2 6.3-4.3-4.8-1.2z" fill="#e05536"/>
<path d="M325.3 538.2l4.9 2.2 6-8.7-4.9-4z" fill="#dd513a"/>
<path d="M253 534.7l5.3 21 5.6-34.4-5.1-11zM532.2 531.8l5 5.6 5.8-9.7-5-4.1z" fill="#df5337"/>
<path d="M557.9 541.2l5 6.7 5.8-25.7-5 0.5z" fill="#dd513a"/>
<path d="M258.8 510.3l5.1 11 5.9-18.3-5.1-13.6z" fill="#ec6726"/>
<path d="M689.3 456.8l5.3-15.9 5.2 20.3-5.3 14z" fill="#fa9407"/>
<path d="M222.3 525.2l4.8 0.8 6.1-12.8-4.8-0.3z" fill="#e55c30"/>
<path d="M480.6 526.8l5-2.7 5.9-3.8-5-0.3z" fill="#e35933"/>
<path d="M786.4 502.6l5.1 0 5.5-9.5-4.9-8.3z" fill="#f06f20"/>
<path d="M330.2 540.4l4.9 5.5 6.2-5.5-5.1-8.7z" fill="#d94d3d"/>
<path d="M233.2 513.2l4.8-0.1 5.8-22.7-4.7 1.3z" fill="#ee6a24"/>
<path d="M335.1 545.9l5 3.9 6.2-0.4-5-9z" fill="#d44842"/>
<path d="M501.4 518l5 1.5 5.8 0.9-4.9-2.3z" fill="#e65d2f"/>
<path d="M338.2 674.9l4.5-19.2 5.6-36.1-4.7 9.5z" fill="#84206b"/>
<path d="M324 623.4l4.7-10.5 5.5-45.8-4.8 4.2z" fill="#b0315b"/>
<path d="M430.8 648.7l4.7-26.6 6.2 20.5-4.8 23.2z" fill="#84206b"/>
<path d="M233.4 646.8l5.4 26.2 6.6 6.1-5.6-31.4z" fill="#751b6e"/>
<path d="M579.5 508.3l5.1-7.8 5.7-12.1-5 7.8z" fill="#ef6e21"/>
<path d="M648.7 420.4l5 4.4 5.3 21.9-5-4.8z" fill="#fcae12"/>
<path d="M537.2 537.4l4.9 6.2 5.8-11.1-4.9-4.8z" fill="#dd513a"/>
<path d="M399.6 600l4.9-6.7 6.8 76.5-4.8 2.9z" fill="#8d2369"/>
<path d="M243.8 490.4l4.9 2.5 6-17.3-4.8-0.8z" fill="#f57b17"/>
<path d="M806.5 522.1l5 5.2 5.4-5.6-4.9-8.4z" fill="#e55c30"/>
<path d="M552.1 562.5l5 5.7 5.8-20.3-5-6.7z" fill="#cf4446"/>
<path d="M616.9 460l5.2-20.3 5.6 9.3-5.2 13.4z" fill="#fb9906"/>
<path d="M344.3 587.3l4.9 2.7 6.2 6.3-5.1-14.9z" fill="#b43359"/>
<path d="M568.7 522.2l5-0.3 5.8-13.6-5-5.2z" fill="#e9612b"/>
<path d="M547.1 551.6l5 10.9 5.8-21.3-5-5.2z" fill="#d44842"/>
<path d="M542.1 543.6l5 8 5.8-15.6-5-3.5z" fill="#d94d3d"/>
<path d="M801.5 514.1l5 8 5.5-8.8-5-9.3z" fill="#e9612b"/>
<path d="M206.3 529.5l4.8 1.2 6.3-7.8-4.8-0.2z" fill="#e25734"/>
<path d="M253.7 500.6l5.1 9.7 5.9-20.9-5-7.3z" fill="#f1711f"/>
<path d="M234.1 614.1l5.7 33.6 6.2-7.1-5.5-29.9z" fill="#932667"/>
<path d="M349.2 590l4.8-2.7 6.4 15.8-5-6.8z" fill="#b1325a"/>
<path d="M557.1 568.2l5 10.6 5.8-33.2-5 2.3z" fill="#cb4149"/>
<path d="M791.5 502.6l5.1 3.2 5.5-11.7-5.1-1z" fill="#ef6e21"/>
<path d="M185.5 530.6l4.8 1.2 6.4-4.3-4.9-1.2z" fill="#e05536"/>
<path d="M811.5 527.3l5.1 2.7 5.4-4.9-5.1-3.4z" fill="#e25734"/>
<path d="M333.7 620.9l5.1 13 5.5-46.6-5.2-14.3z" fill="#a82e5f"/>
<path d="M248.7 492.9l5 7.7 6-18.5-5-6.5z" fill="#f37819"/>
<path d="M458.3 607.2l4.7-42.3 6-2.9-4.8 36.9z" fill="#ba3655"/>
<path d="M556.3 594.9l5 7.5 5.8-18.3-5-5.3z" fill="#b43359"/>
<path d="M441.7 642.6l4.7-35.6 5.9-1.8-4.7 35.5z" fill="#972766"/>
<path d="M338.8 633.9l4.8-4.8 5.6-39.1-4.9-2.7z" fill="#a32c61"/>
<path d="M746 462.8l5.1-2.2 5.1 15.8-5-7.6z" fill="#f98c0a"/>
<path d="M282.5 744.5l4.5-13.6 7.1 38.3-4.6 11.3z" fill="#1f0c48"/>
<path d="M796.6 505.8l4.9 8.3 5.5-10.1-4.9-9.9z" fill="#ed6925"/>
<path d="M247.9 525.3l5.1 9.4 5.8-24.4-5.1-9.7z" fill="#e75e2e"/>
<path d="M319.5 563.6l4.9 1.2 5.8-24.4-4.9-2.2z" fill="#d24644"/>
<path d="M238 513.1l4.9 5 5.8-25.2-4.9-2.5z" fill="#ee6a24"/>
<path d="M562.1 578.8l5 5.3 5.8-32.3-5-6.2z" fill="#c83f4b"/>
<path d="M562.9 547.9l5-2.3 5.8-23.7-5 0.3z" fill="#de5238"/>
<path d="M653.7 424.8l5.1-1.3 5.3 24.3-5.1-1.1z" fill="#fcac11"/>
<path d="M506.4 519.5l5 1.2 5.8 1-5-1.3z" fill="#e55c30"/>
<path d="M242 542.7l5.2 18 5.8-26-5.1-9.4z" fill="#d94d3d"/>
<path d="M227.1 526l4.8 1.7 6.1-14.6-4.8 0.1z" fill="#e65d2f"/>
<path d="M242.9 518.1l5 7.2 5.8-24.7-5-7.7z" fill="#eb6628"/>
<path d="M551.3 579.3l5 15.6 5.8-16.1-5-10.6z" fill="#bd3853"/>
<path d="M328.7 612.9l5 8 5.4-47.9-4.9-5.9z" fill="#b1325a"/>
<path d="M751.1 460.6l5 8.4 5.2 8.8-5.1-1.4z" fill="#f8890c"/>
<path d="M730 481.1l5.4-14.6 5.3 4.5-5.2 7.1z" fill="#f8850f"/>
<path d="M324.4 564.8l5 6.5 5.7-25.4-4.9-5.5z" fill="#cf4446"/>
<path d="M816.6 530l5.1 1.9 5.4-4.4-5.1-2.4z" fill="#e15635"/>
<path d="M775.9 506.7l4.9 8.4 5.6-12.5-5-8.5z" fill="#ed6925"/>
<path d="M339.1 573l5.2 14.3 6-5.9-5.2-20.4z" fill="#c03a51"/>
<path d="M211.1 530.7l4.9 1.5 6.3-7-4.9-2.3z" fill="#e25734"/>
<path d="M404.5 593.3l5 4.8 6.8 72.8-5-1.1z" fill="#902568"/>
<path d="M234.9 581.6l5.6 29.1 6.1-9.8-5.5-27.5z" fill="#b43359"/>
<path d="M190.3 531.8l4.8 1.2 6.4-4.4-4.8-1.1z" fill="#e05536"/>
<path d="M485.6 524.1l4.9-6.2 5.9 0.2-4.9 2.2z" fill="#e65d2f"/>
<path d="M573.7 521.9l5 0.7 5.9-22.1-5.1 7.8z" fill="#ea632a"/>
<path d="M231.9 527.7l5 4.9 6-14.5-4.9-5z" fill="#e55c30"/>
<path d="M236.9 532.6l5.1 10.1 5.9-17.4-5-7.2z" fill="#e15635"/>
<path d="M320.4 725.8l4.2-36.8 6.2-0.5-4.2 34.9z" fill="#4f0d6c"/>
<path d="M511.4 520.7l5 2.7 5.8 1-5-2.7z" fill="#e55c30"/>
<path d="M780.8 515.1l5.1 0.6 5.6-13.1-5.1 0z" fill="#eb6628"/>
<path d="M567.9 545.6l5 6.2 5.8-29.2-5-0.7z" fill="#de5238"/>
<path d="M632.8 433.2l5.2-14.2 5.5 13-5.2 16z" fill="#fcb014"/>
<path d="M590.3 488.4l5.2-26.8 5.7-11.2-5.2 31z" fill="#f98b0b"/>
<path d="M546.3 566.4l5 12.9 5.8-11.1-5-5.7z" fill="#c63d4d"/>
<path d="M329.4 571.3l4.8-4.2 5.9-17.3-5-3.9z" fill="#ce4347"/>
<path d="M169.4 532.4l4.8 1.2 6.4-4.2-4.8-1.2z" fill="#e05536"/>
<path d="M561.3 602.4l5-12.1 5.8-11.5-5 5.3z" fill="#b63458"/>
<path d="M771.1 488.9l4.8 17.8 5.5-12.6-4.9-10.4z" fill="#f2741c"/>
<path d="M235.8 553.4l5.3 20 6.1-12.7-5.2-18z" fill="#cf4446"/>
<path d="M756.1 469l5.2-3.2 5.1 12.1-5.1-0.1z" fill="#f8890c"/>
<path d="M821.7 531.9l5.2 1.6 5.3-4.3-5.1-1.7z" fill="#e15635"/>
<path d="M658.8 423.5l5.1-0.1 5.2 21.3-5 3.1z" fill="#fcae12"/>
<path d="M409.5 598.1l4.9 3.4 6.8 71-4.9-1.6z" fill="#8f2469"/>
<path d="M567.1 584.1l5-5.3 5.9-37.8-5.1 10.8z" fill="#ca404a"/>
<path d="M231.9 653.5l5.6 29.2 7.1 26.1-5.8-35.8z" fill="#69166e"/>
<path d="M216 532.2l4.9 2.1 6.2-8.3-4.8-0.8z" fill="#e15635"/>
<path d="M354 587.3l4.8-11.5 6.4 20.2-4.8 7.1z" fill="#b63458"/>
<path d="M474.8 548.4l4.9-17.2 5.9-7.1-5 2.7z" fill="#e05536"/>
<path d="M516.4 523.4l4.9 4.3 5.9-0.3-5-3z" fill="#e35933"/>
<path d="M601.2 450.4l5.1-0.9 5.7-1.5-5.1 6.1z" fill="#fc9f07"/>
<path d="M334.2 567.1l4.9 5.9 6-12-5-11.2z" fill="#cb4149"/>
<path d="M343.6 629.1l4.7-9.5 5.7-32.3-4.8 2.7z" fill="#a82e5f"/>
<path d="M195.1 533l4.9 1.2 6.3-4.7-4.8-0.9z" fill="#e15635"/>
<path d="M694.6 440.9l5.1-1.6 5.2 18.5-5.1 3.4z" fill="#fc9f07"/>
<path d="M541.3 554.3l5 12.1 5.8-3.9-5-10.9z" fill="#ce4347"/>
<path d="M785.9 515.7l5.1 4 5.6-13.9-5.1-3.2z" fill="#eb6628"/>
<path d="M791 519.7l5 5.8 5.5-11.4-4.9-8.3z" fill="#e9612b"/>
<path d="M796 525.5l5.1 4.3 5.4-7.7-5-8z" fill="#e55c30"/>
<path d="M719.5 478.8l5 8.2 5.5-5.9-5.1-0.6zM766.2 478.8l4.9 10.1 5.4-5.2-4.9-9z" fill="#f68013"/>
<path d="M174.2 533.6l4.9 1.2 6.4-4.2-4.9-1.2z" fill="#e05536"/>
<path d="M521.3 527.7l5 0.3 5.9 3.8-5-4.4z" fill="#e25734"/>
<path d="M761.3 465.8l4.9 13 5.4-4.1-5.2 3.2z" fill="#f8870e"/>
<path d="M606.3 449.5l5 7.2 5.6 3.3-4.9-12z" fill="#fb9d07"/>
<path d="M220.9 534.3l4.9 2.9 6.1-9.5-4.8-1.7z" fill="#e15635"/>
<path d="M801.1 529.8l5 3.3 5.4-5.8-5-5.2z" fill="#e35933"/>
<path d="M714.7 462.5l4.8 16.3 5.4 1.7-4.9-9.2z" fill="#f8890c"/>
<path d="M536.3 541.7l5 12.6 5.8-2.7-5-8z" fill="#d74b3f"/>
<path d="M490.5 517.9l5-4.9 5.9 5-5 0.1z" fill="#e9612b"/>
<path d="M526.3 528l5 6.3 5.9 3.1-5-5.6z" fill="#e05536"/>
<path d="M200 534.2l4.8 1.4 6.3-4.9-4.8-1.2z" fill="#e15635"/>
<path d="M230.7 542.2l5.1 11.2 6.2-10.7-5.1-10.1z" fill="#da4e3c"/>
<path d="M699.7 439.3l5 5.9 5.3 15.4-5.1-2.8z" fill="#fca108"/>
<path d="M531.3 534.3l5 7.4 5.8 1.9-4.9-6.2z" fill="#dd513a"/>
<path d="M303.4 746.3l4.4-24.4 6.3 3.3-4.3 28.5z" fill="#360961"/>
<path d="M770.3 516.3l5 7.3 5.5-8.5-4.9-8.4z" fill="#ea632a"/>
<path d="M414.4 601.5l5-2.3 6.6 64.9-4.8 8.4z" fill="#922568"/>
<path d="M225.8 537.2l4.9 5 6.2-9.6-5-4.9z" fill="#df5337"/>
<path d="M806.1 533.1l5.2 1.7 5.3-4.8-5.1-2.7z" fill="#e15635"/>
<path d="M572.9 551.8l5.1-10.8 5.8-33.1-5.1 14.7z" fill="#e25734"/>
<path d="M287 730.9l4.7-9.3 7.1 37.1-4.7 10.5z" fill="#2f0a5b"/>
<path d="M179.1 534.8l4.8 1.2 6.4-4.2-4.8-1.2z" fill="#e05536"/>
<path d="M584.6 500.5l5.1-21.8 5.8-17.1-5.2 26.8z" fill="#f68013"/>
<path d="M775.3 523.6l5.1 1.1 5.5-9-5.1-0.6z" fill="#e8602d"/>
<path d="M709.8 447.8l4.9 14.7 5.3 8.8-5-6.6z" fill="#fb9606"/>
<path d="M735.4 466.5l5.2-7.1 5.4 3.4-5.3 8.2z" fill="#fa9207"/>
<path d="M704.7 445.2l5.1 2.6 5.2 16.9-5-4.1z" fill="#fb9d07"/>
<path d="M227.7 614.2l5.7 32.6 6.4 0.9-5.7-33.6z" fill="#952667"/>
<path d="M622.1 439.7l5.2-16.6 5.5 10.1-5.1 15.8z" fill="#fcb014"/>
<path d="M452.3 605.2l4.7-37.6 6-2.7-4.7 42.3z" fill="#bc3754"/>
<path d="M550.5 581.5l5 10.8 5.8 10.1-5-7.5z" fill="#b63458"/>
<path d="M204.8 535.6l4.9 1.5 6.3-4.9-4.9-1.5z" fill="#e05536"/>
<path d="M469 562l4.8-27 5.9-3.8-4.9 17.2z" fill="#da4e3c"/>
<path d="M566.3 590.3l5-1.7 5.9-20.3-5.1 10.5z" fill="#bf3952"/>
<path d="M228.6 586.3l5.5 27.8 6.4-3.4-5.6-29.1z" fill="#b1325a"/>
<path d="M342.7 655.7l4.4-28.8 5.8-26.9-4.6 19.6z" fill="#9a2865"/>
<path d="M663.9 423.4l5.2-12.6 5.3 22-5.3 11.9z" fill="#fbba1f"/>
<path d="M336.8 675.7l4.3-36.5 6-12.3-4.4 28.8z" fill="#85216b"/>
<path d="M495.5 513l5 1.8 5.9 4.7-5-1.5z" fill="#ea632a"/>
<path d="M229.5 559.9l5.4 21.7 6.2-8.2-5.3-20z" fill="#ca404a"/>
<path d="M578.7 522.6l5.1-14.7 5.9-29.2-5.1 21.8z" fill="#f06f20"/>
<path d="M811.3 534.8l5.1 1.6 5.3-4.5-5.1-1.9z" fill="#e15635"/>
<path d="M724.5 487l5.2-7.4 5.7-13.1-5.4 14.6z" fill="#f8850f"/>
<path d="M572.1 578.8l5.1-10.5 5.8-29.4-5 2.1z" fill="#d24644"/>
<path d="M765.6 495.4l4.7 20.9 5.6-9.6-4.8-17.8z" fill="#f06f20"/>
<path d="M611.3 456.7l5.1-12.8 5.7-4.2-5.2 20.3z" fill="#fca309"/>
<path d="M780.4 524.7l5.1 2.6 5.5-7.6-5.1-4z" fill="#e75e2e"/>
<path d="M183.9 536l4.8 1.2 6.4-4.2-4.8-1.2z" fill="#e05536"/>
<path d="M679 433.1l5 4.8 5.3 18.9-5.1-2.2z" fill="#fca60c"/>
<path d="M358.8 575.8l4.7-10.2 6.5 21.3-4.8 9.1z" fill="#c03a51"/>
<path d="M479.7 531.2l4.9-12.4 5.9-0.9-4.9 6.2z" fill="#e75e2e"/>
<path d="M785.5 527.3l5.1 4.4 5.4-6.2-5-5.8z" fill="#e55c30"/>
<path d="M545.5 566.1l5 15.4 5.8 13.4-5-15.6z" fill="#c03a51"/>
<path d="M209.7 537.1l4.8 2.4 6.4-5.2-4.9-2.1z" fill="#e05536"/>
<path d="M638 419l5.2-10.4 5.5 11.8-5.2 11.6z" fill="#fac42a"/>
<path d="M163 536.6l4.8 1.2 6.4-4.2-4.8-1.2z" fill="#e05536"/>
<path d="M314.1 725.2l4.3-29.3 6.2-6.9-4.2 36.8z" fill="#520e6d"/>
<path d="M500.5 514.8l5 1.6 5.9 4.3-5-1.2z" fill="#ea632a"/>
<path d="M816.4 536.4l5.1 1.3 5.4-4.2-5.2-1.6z" fill="#e15635"/>
<path d="M348.3 619.6l4.6-19.6 5.9-24.2-4.8 11.5z" fill="#b43359"/>
<path d="M555.5 592.3l5.1-7.8 5.7 5.8-5 12.1z" fill="#b73557"/>
<path d="M790.6 531.7l5.1 3.7 5.4-5.6-5.1-4.3z" fill="#e35933"/>
<path d="M740.6 459.4l5 6.8 5.5-5.6-5.1 2.2z" fill="#fb9706"/>
<path d="M674.1 416.9l4.9 16.2 5.2 21.5-4.8-20.4z" fill="#fcb418"/>
<path d="M571.3 588.6l5 5.3 5.9-20.8-5-4.8z" fill="#c03a51"/>
<path d="M595.5 461.6l5.1-6.1 5.7-6-5.1 0.9z" fill="#fc9f07"/>
<path d="M255.3 684.8l5.2 14 7.8 60.1-5-6.7z" fill="#450a69"/>
<path d="M188.7 537.2l4.9 1.3 6.4-4.3-4.9-1.2z" fill="#e05536"/>
<path d="M435.5 622.1l4.8-23.8 6.1 8.7-4.7 35.6z" fill="#a32c61"/>
<path d="M226.5 631.9l5.4 21.6 6.9 19.5-5.4-26.2z" fill="#85216b"/>
<path d="M214.5 539.5l4.9 3 6.4-5.3-4.9-2.9z" fill="#df5337"/>
<path d="M577.2 568.3l5 4.8 5.8-32.8-5-1.4z" fill="#d44842"/>
<path d="M745.6 466.2l5.1 2.2 5.4 0.6-5-8.4z" fill="#fa9407"/>
<path d="M760.7 482.3l4.9 13.1 5.5-6.5-4.9-10.1z" fill="#f68013"/>
<path d="M235.5 667.5l4.9 2.5 7.7 52.8-4.9-6.4z" fill="#61136e"/>
<path d="M795.7 535.4l5.1 2.2 5.3-4.5-5-3.3z" fill="#e25734"/>
<path d="M363.5 565.6l5 5.9 6.6 30.3-5.1-14.9z" fill="#c13a50"/>
<path d="M224.4 546.9l5.1 13 6.3-6.5-5.1-11.2z" fill="#d84c3e"/>
<path d="M764.8 523.5l5.1 6.1 5.4-6-5-7.3z" fill="#e8602d"/>
<path d="M167.8 537.8l4.8 1.2 6.5-4.2-4.9-1.2z" fill="#e05536"/>
<path d="M578 541l5-2.1 5.9-35.8-5.1 4.8z" fill="#e8602d"/>
<path d="M505.5 516.4l5 0.2 5.9 6.8-5-2.7z" fill="#ea632a"/>
<path d="M419.4 599.2l4.8-11 6.6 60.5-4.8 15.4z" fill="#9d2964"/>
<path d="M669.1 410.8l5 6.1 5.3 17.3-5-1.4z" fill="#fac026"/>
<path d="M540.5 555l5 11.1 5.8 13.2-5-12.9z" fill="#cc4248"/>
<path d="M291.7 721.6l4.9-0.6 6.8 25.3-4.6 12.4z" fill="#390963"/>
<path d="M219.4 542.5l5 4.4 6.3-4.7-4.9-5z" fill="#dd513a"/>
<path d="M330.8 688.5l4.1-46.8 6.2-2.5-4.3 36.5z" fill="#7d1e6d"/>
<path d="M600.6 455.5l5 8.3 5.7-7.1-5-7.2z" fill="#fb9d07"/>
<path d="M769.9 529.6l5.1 1.4 5.4-6.3-5.1-1.1z" fill="#e65d2f"/>
<path d="M193.6 538.5l4.8 1.4 6.4-4.3-4.8-1.4z" fill="#e05536"/>
<path d="M750.7 468.4l5.1 5 5.5-7.6-5.2 3.2z" fill="#fa9207"/>
<path d="M755.8 473.4l4.9 8.9 5.5-3.5-4.9-13z" fill="#f98b0b"/>
<path d="M714.2 473.3l4.8 14.9 5.5-1.2-5-8.2z" fill="#f8850f"/>
<path d="M800.8 537.6l5.1 1.6 5.4-4.4-5.2-1.7z" fill="#e15635"/>
<path d="M510.5 516.6l5 4.4 5.8 6.7-4.9-4.3z" fill="#e9612b"/>
<path d="M643.2 408.6l5 2.5 5.5 13.7-5-4.4z" fill="#f9c932"/>
<path d="M684 437.9l5.3-15 5.3 18-5.3 15.9z" fill="#fcb014"/>
<path d="M260.5 698.8l4.5-15.2 7.9 66.2-4.6 9.1z" fill="#490b6a"/>
<path d="M368.5 571.5l4.8-11.7 6.6 38.1-4.8 3.9z" fill="#c03a51"/>
<path d="M250 666.7l5.3 18.1 8 67.4-5.3-20.2z" fill="#540f6d"/>
<path d="M760 508.9l4.8 14.6 5.5-7.2-4.7-20.9z" fill="#ee6a24"/>
<path d="M172.6 539l4.9 1.3 6.4-4.3-4.8-1.2z" fill="#e05536"/>
<path d="M535.5 543l5 12 5.8 11.4-5-12.1z" fill="#d54a41"/>
<path d="M560.6 584.5l5 2.8 5.7 1.3-5 1.7z" fill="#bd3853"/>
<path d="M729.7 479.6l5.4-12.6 5.5-7.6-5.2 7.1z" fill="#fa9407"/>
<path d="M463 564.9l4.8-27.4 6-2.5-4.8 27z" fill="#d94d3d"/>
<path d="M240.4 670l4.5-12 8 63.9-4.8 0.9z" fill="#62146e"/>
<path d="M719 488.2l5.2-4.2 5.5-4.4-5.2 7.4z" fill="#f78410"/>
<path d="M223.2 564.7l5.4 21.6 6.3-4.7-5.4-21.7z" fill="#c83f4b"/>
<path d="M589.7 478.7l5.1-4.7 5.8-18.5-5.1 6.1z" fill="#fa9407"/>
<path d="M775 531l5.1 1.8 5.4-5.5-5.1-2.6z" fill="#e55c30"/>
<path d="M583 538.9l5 1.4 5.9-35.4-5-1.8z" fill="#e9612b"/>
<path d="M198.4 539.9l4.9 1.6 6.4-4.4-4.9-1.5z" fill="#e05536"/>
<path d="M583.8 507.9l5.1-4.8 5.9-29.1-5.1 4.7z" fill="#f57d15"/>
<path d="M576.3 593.9l5.1-15.8 5.9-20.8-5.1 15.8z" fill="#c73e4c"/>
<path d="M484.6 518.8l5-13.2 5.9 7.4-5 4.9z" fill="#ed6925"/>
<path d="M515.5 521l5-2 5.8 9-5-0.3z" fill="#e8602d"/>
<path d="M805.9 539.2l5.1 1.4 5.4-4.2-5.1-1.6z" fill="#e15635"/>
<path d="M627.3 423.1l5.2-15.3 5.5 11.2-5.2 14.2z" fill="#fac62d"/>
<path d="M530.5 535.1l5 7.9 5.8 11.3-5-12.6z" fill="#de5238"/>
<path d="M229.9 639l5.6 28.5 7.7 48.9-5.7-33.7z" fill="#721a6e"/>
<path d="M446.4 607l4.7-36.2 5.9-3.2-4.7 37.6z" fill="#bd3853"/>
<path d="M565.6 587.3l5 7 5.7-0.4-5-5.3z" fill="#bc3754"/>
<path d="M648.2 411.1l5.2-4.3 5.4 16.7-5.1 1.3z" fill="#f9c932"/>
<path d="M739.9 485.9l5 6 5.8-23.5-5.1-2.2z" fill="#f98b0b"/>
<path d="M222.2 588.5l5.5 25.7 6.4-0.1-5.5-27.8z" fill="#b3325a"/>
<path d="M582.2 573.1l5.1-15.8 5.9-30.9-5.2 13.9z" fill="#da4e3c"/>
<path d="M177.5 540.3l4.8 1.2 6.4-4.3-4.8-1.2z" fill="#e05536"/>
<path d="M780.1 532.8l5.1 3.9 5.4-5-5.1-4.4z" fill="#e45a31"/>
<path d="M605.6 463.8l5.1-16 5.7-3.9-5.1 12.8z" fill="#fca309"/>
<path d="M709.4 451.8l4.8 21.5 5.3 5.5-4.8-16.3z" fill="#fb9606"/>
<path d="M735.1 467l4.8 18.9 5.7-19.7-5-6.8z" fill="#fa9207"/>
<path d="M244.9 658l5.1 8.7 8 65.3-5.1-10.1z" fill="#62146e"/>
<path d="M203.3 541.5l4.9 2.2 6.3-4.2-4.8-2.4z" fill="#e05536"/>
<path d="M755.1 496.9l4.9 12 5.6-13.5-4.9-13.1z" fill="#f47918"/>
<path d="M594.8 474l5 6.3 5.8-16.5-5-8.3z" fill="#fa9407"/>
<path d="M744.9 491.9l5.1 2.1 5.8-20.6-5.1-5z" fill="#f8870e"/>
<path d="M156.5 540.9l4.8 1.2 6.5-4.3-4.8-1.2z" fill="#e05536"/>
<path d="M525.5 519.8l5 15.3 5.8 6.6-5-7.4z" fill="#e45a31"/>
<path d="M473.8 535l4.9-17.2 5.9 1-4.9 12.4z" fill="#e8602d"/>
<path d="M785.2 536.7l5.1 3 5.4-4.3-5.1-3.7z" fill="#e25734"/>
<path d="M811 540.6l5.2 1.4 5.3-4.3-5.1-1.3z" fill="#e15635"/>
<path d="M520.5 519l5 0.8 5.8 14.5-5-6.3z" fill="#e8602d"/>
<path d="M352.9 600l4.8-9.1 5.8-25.3-4.7 10.2z" fill="#c33b4f"/>
<path d="M588.9 503.1l5 1.8 5.9-24.6-5-6.3z" fill="#f67e14"/>
<path d="M616.4 443.9l5.3-20.9 5.6 0.1-5.2 16.6z" fill="#fbba1f"/>
<path d="M750 494l5.1 2.9 5.6-14.6-4.9-8.9z" fill="#f78410"/>
<path d="M734.2 498.2l5 10.6 5.7-16.9-5-6z" fill="#f47918"/>
<path d="M759.3 531.4l5.1 5.2 5.5-7-5.1-6.1z" fill="#e65d2f"/>
<path d="M182.3 541.5l4.9 1.3 6.4-4.3-4.9-1.3z" fill="#e05536"/>
<path d="M347.1 626.9l4.6-25 6-11-4.8 9.1z" fill="#b1325a"/>
<path d="M208.2 543.7l4.9 2.9 6.3-4.1-4.9-3z" fill="#df5337"/>
<path d="M221 605.8l5.5 26.1 6.9 14.9-5.7-32.6z" fill="#a02a63"/>
<path d="M218 551.5l5.2 13.2 6.3-4.8-5.1-13z" fill="#d74b3f"/>
<path d="M373.3 559.8l4.9-2.1 6.5 32.3-4.8 7.9z" fill="#c83f4b"/>
<path d="M790.3 539.7l5.1 2.1 5.4-4.2-5.1-2.2z" fill="#e15635"/>
<path d="M739.2 508.8l5.1 0.3 5.7-15.1-5.1-2.1z" fill="#f3761b"/>
<path d="M307.8 721.9l4.3-28.9 6.3 2.9-4.3 29.3z" fill="#57106e"/>
<path d="M754.4 518.9l4.9 12.5 5.5-7.9-4.8-14.6z" fill="#eb6429"/>
<path d="M489.6 505.6l5 1.3 5.9 7.9-5-1.8z" fill="#ef6e21"/>
<path d="M161.3 542.1l4.9 1.2 6.4-4.3-4.8-1.2z" fill="#e05536"/>
<path d="M213.1 546.6l4.9 4.9 6.4-4.6-5-4.4z" fill="#dd513a"/>
<path d="M764.4 536.6l5.1 0 5.5-5.6-5.1-1.4z" fill="#e45a31"/>
<path d="M724.2 484l5.2-1.4 5.7-15.6-5.4 12.6z" fill="#f98c0a"/>
<path d="M265 683.6l4.7-7.8 8 70.5-4.8 3.5z" fill="#520e6d"/>
<path d="M689.3 422.9l5.2-5.3 5.2 21.7-5.1 1.6z" fill="#fbbe23"/>
<path d="M588 540.3l5.2-13.9 5.9-35.6-5.2 14.1z" fill="#ed6925"/>
<path d="M324.6 689l4.1-46.9 6.2-0.4-4.1 46.8z" fill="#7d1e6d"/>
<path d="M653.4 406.8l5.2-11.5 5.3 28.1-5.1 0.1z" fill="#f7d13d"/>
<path d="M570.6 594.3l5.1-14.2 5.7-2-5.1 15.8z" fill="#c03a51"/>
<path d="M187.2 542.8l4.8 1.4 6.4-4.3-4.8-1.4z" fill="#e05536"/>
<path d="M729.4 482.6l4.8 15.6 5.7-12.3-4.8-18.9z" fill="#f8870e"/>
<path d="M296.6 721l4.4-20.2 6.8 21.1-4.4 24.4z" fill="#4c0c6b"/>
<path d="M704.5 433.9l4.9 17.9 5.3 10.7-4.9-14.7z" fill="#fcaa0f"/>
<path d="M378.2 557.7l4.9 0.1 6.8 50.6-5.2-18.4z" fill="#c73e4c"/>
<path d="M744.3 509.1l5.1 2.7 5.7-14.9-5.1-2.9z" fill="#f2741c"/>
<path d="M795.4 541.8l5.1 1.6 5.4-4.2-5.1-1.6z" fill="#e15635"/>
<path d="M599.8 480.3l5.1-12.8 5.8-19.7-5.1 16z" fill="#fb9906"/>
<path d="M749.4 511.8l5 7.1 5.6-10-4.9-12z" fill="#f06f20"/>
<path d="M424.2 588.2l4.8-16 6.5 49.9-4.7 26.6z" fill="#b0315b"/>
<path d="M166.2 543.3l4.8 1.2 6.5-4.2-4.9-1.3z" fill="#e05536"/>
<path d="M383.1 557.8l4.9-4.2 6.8 58-4.9-3.2z" fill="#c43c4e"/>
<path d="M694.5 417.6l5 9.8 5.2 17.8-5-5.9z" fill="#fbbc21"/>
<path d="M494.6 506.9l5-2.1 5.9 11.6-5-1.6z" fill="#ef6e21"/>
<path d="M769.5 536.6l5.1 1.4 5.5-5.2-5.1-1.8z" fill="#e45a31"/>
<path d="M357.7 590.9l4.8-3.9 6-15.5-5-5.9z" fill="#c73e4c"/>
<path d="M699.5 427.4l5 6.5 5.3 13.9-5.1-2.6z" fill="#fbb61a"/>
<path d="M593.9 504.9l5.2-14.1 5.8-23.3-5.1 12.8z" fill="#f8850f"/>
<path d="M192 544.2l4.9 1.5 6.4-4.2-4.9-1.6z" fill="#e05536"/>
<path d="M216.8 567.9l5.4 20.6 6.4-2.2-5.4-21.6z" fill="#ca404a"/>
<path d="M632.5 407.8l5.2-7.9 5.5 8.7-5.2 10.4z" fill="#f6d746"/>
<path d="M728.6 509l5 7.4 5.6-7.6-5-10.6z" fill="#f1711f"/>
<path d="M800.5 543.4l5.2 1.4 5.3-4.2-5.1-1.4z" fill="#e15635"/>
<path d="M457 567.6l4.8-29.7 6-0.4-4.8 27.4z" fill="#da4e3c"/>
<path d="M708.7 469.9l4.9 16.2 5.4 2.1-4.8-14.9z" fill="#f98c0a"/>
<path d="M269.7 675.8l5 4.2 7.8 64.5-4.8 1.8z" fill="#57106e"/>
<path d="M713.6 486.1l5.2-0.7 5.4-1.4-5.2 4.2z" fill="#f8870e"/>
<path d="M341.1 639.2l4.2-44.2 6.4 6.9-4.6 25z" fill="#a92e5e"/>
<path d="M774.6 538l5.1 3.3 5.5-4.6-5.1-3.9z" fill="#e45a31"/>
<path d="M733.6 516.4l5.1 1.4 5.6-8.7-5.1-0.3z" fill="#ef6e21"/>
<path d="M171 544.5l4.9 1.3 6.4-4.3-4.8-1.2z" fill="#e05536"/>
<path d="M224.6 620.4l5.3 18.6 7.6 43.7-5.6-29.2z" fill="#8d2369"/>
<path d="M581.4 578.1l5.2-16.4 5.8-19.4-5.1 15z" fill="#d54a41"/>
<path d="M499.6 504.8l5 2.5 5.9 9.3-5-0.2z" fill="#f06f20"/>
<path d="M196.9 545.7l4.9 2.2 6.4-4.2-4.9-2.2z" fill="#e05536"/>
<path d="M544.8 552.5l5 7.1 5.7 32.7-5-10.8z" fill="#ce4347"/>
<path d="M150 545.1l4.9 1.2 6.4-4.2-4.8-1.2z" fill="#e05536"/>
<path d="M779.7 541.3l5.1 2.7 5.5-4.3-5.1-3z" fill="#e25734"/>
<path d="M587.3 557.3l5.1-15 5.9-35.1-5.1 19.2z" fill="#e65d2f"/>
<path d="M753.8 536.8l5.1 4.5 5.5-4.7-5.1-5.2z" fill="#e45a31"/>
<path d="M805.7 544.8l5.1 1.4 5.4-4.2-5.2-1.4z" fill="#e15635"/>
<path d="M665.9 711.8l5 9.2 5.9-25.5-5-7.6z" fill="#5f136e"/>
<path d="M723.8 488.7l4.8 20.3 5.6-10.8-4.8-15.6z" fill="#f67e14"/>
<path d="M748.8 528.5l5 8.3 5.5-5.4-4.9-12.5z" fill="#e9612b"/>
<path d="M738.7 517.8l5.1 3.1 5.6-9.1-5.1-2.7z" fill="#ef6c23"/>
<path d="M351.7 601.9l4.7-8.2 6.1-6.7-4.8 3.9z" fill="#bd3853"/>
<path d="M658.6 395.3l5.2-4.9 5.3 20.4-5.2 12.6z" fill="#f4dd4f"/>
<path d="M549.8 559.6l5 7.5 5.8 17.4-5.1 7.8z" fill="#cb4149"/>
<path d="M478.7 517.8l4.9-17.1 6 4.9-5 13.2z" fill="#f1711f"/>
<path d="M388 553.6l4.9-3.5 6.7 49.9-4.8 11.6z" fill="#c83f4b"/>
<path d="M610.7 447.8l5.3-22.7 5.7-2.1-5.3 20.9z" fill="#fbbc21"/>
<path d="M670.9 721l5.2-1.8 5.7-19.1-5-4.6z" fill="#5a116e"/>
<path d="M175.9 545.8l4.8 1.2 6.5-4.2-4.9-1.3z" fill="#e05536"/>
<path d="M201.8 547.9l4.9 2.9 6.4-4.2-4.9-2.9z" fill="#df5337"/>
<path d="M660.1 731.8l5.1 5.7 5.7-16.5-5-9.2z" fill="#4c0c6b"/>
<path d="M743.8 520.9l5 7.6 5.6-9.6-5-7.1z" fill="#ed6925"/>
<path d="M504.6 507.3l5-0.4 5.9 14.1-5-4.4z" fill="#f06f20"/>
<path d="M440.3 598.3l4.7-35.1 6.1 7.6-4.7 36.2z" fill="#c43c4e"/>
<path d="M215.6 584.8l5.4 21 6.7 8.4-5.5-25.7z" fill="#ba3655"/>
<path d="M718.8 485.4l5 3.3 5.6-6.1-5.2 1.4z" fill="#f8890c"/>
<path d="M211.6 555.8l5.2 12.1 6.4-3.2-5.2-13.2z" fill="#d74b3f"/>
<path d="M467.8 537.5l4.9-24.5 6 4.8-4.9 17.2z" fill="#eb6429"/>
<path d="M784.8 544l5.2 2 5.4-4.2-5.1-2.1z" fill="#e15635"/>
<path d="M758.9 541.3l5.1 0.5 5.5-5.2-5.1 0z" fill="#e35933"/>
<path d="M539.7 535.8l5.1 16.7 5.7 29-5-15.4z" fill="#d84c3e"/>
<path d="M154.9 546.3l4.8 1.3 6.5-4.3-4.9-1.2z" fill="#e05536"/>
<path d="M637.7 399.9l5.1-2.9 5.4 14.1-5-2.5z" fill="#f4dd4f"/>
<path d="M206.7 550.8l4.9 5 6.4-4.3-4.9-4.9z" fill="#dd513a"/>
<path d="M362.5 587l4.7-18.1 6.1-9.1-4.8 11.7z" fill="#cf4446"/>
<path d="M661 696.5l4.9 15.3 5.9-23.9-4.9-17.6z" fill="#6a176e"/>
<path d="M621.7 423l5.2-20.6 5.6 5.4-5.2 15.3z" fill="#f7d340"/>
<path d="M634.2 734.1l5.1-2.3 5.8-25.7-5-3.3z" fill="#520e6d"/>
<path d="M673.8 403.7l5.1 3.7 5.1 30.5-5-4.8z" fill="#f8cd37"/>
<path d="M676.8 695.5l5 4.6 6-32.1-5-8.2z" fill="#741a6e"/>
<path d="M623.4 743.8l5 10.7 5.8-20.4-4.9-24.9z" fill="#440a68"/>
<path d="M671.8 687.9l5 7.6 6-35.7-5-9.3z" fill="#7a1d6d"/>
<path d="M617.6 760.6l4.9 16.7 5.9-22.8-5-10.7z" fill="#2d0b59"/>
<path d="M628.4 754.5l5.1-8.3 5.8-14.4-5.1 2.3z" fill="#3e0966"/>
<path d="M180.7 547l4.9 1.4 6.4-4.2-4.8-1.4z" fill="#e05536"/>
<path d="M704 444.2l4.7 25.7 5.5 3.4-4.8-21.5z" fill="#fca309"/>
<path d="M665.2 737.5l5.2-7.1 5.7-11.2-5.2 1.8z" fill="#4c0c6b"/>
<path d="M575.7 580.1l5.1-9.1 5.8-9.3-5.2 16.4z" fill="#cf4446"/>
<path d="M554.8 567.1l5.1-3.8 5.7 24-5-2.8z" fill="#cc4248"/>
<path d="M668.9 390.5l4.9 13.2 5.2 29.4-4.9-16.2z" fill="#f6d746"/>
<path d="M790 546l5.1 1.6 5.4-4.2-5.1-1.6z" fill="#e15635"/>
<path d="M274.7 680l4.6-13.5 7.7 64.4-4.5 13.6z" fill="#5f136e"/>
<path d="M318.4 695.9l4-52.2 6.3-1.6-4.1 46.9z" fill="#801f6c"/>
<path d="M655.3 709.3l4.8 22.5 5.8-20-4.9-15.3z" fill="#59106e"/>
<path d="M593.2 526.4l5.1-19.2 5.9-35.8-5.1 19.4z" fill="#f57d15"/>
<path d="M764 541.8l5.2 1.2 5.4-5-5.1-1.4z" fill="#e45a31"/>
<path d="M219.4 607.7l5.2 12.7 7.3 33.1-5.4-21.6z" fill="#a22b62"/>
<path d="M159.7 547.6l4.9 1.2 6.4-4.3-4.8-1.2z" fill="#e05536"/>
<path d="M676.1 719.2l5.1-4.3 5.8-20.2-5.2 5.4z" fill="#5d126e"/>
<path d="M663.8 390.4l5.1 0.1 5.2 26.4-5-6.1z" fill="#f4e156"/>
<path d="M629.3 709.2l4.9 24.9 5.9-31.3-4.9-21z" fill="#5d126e"/>
<path d="M723.1 511.6l5 10.4 5.5-5.6-5-7.4z" fill="#f06f20"/>
<path d="M612.5 757l5.1 3.6 5.8-16.8-5-14.5z" fill="#390963"/>
<path d="M611.7 781.9l5 12 5.8-16.6-4.9-16.7z" fill="#1c0c43"/>
<path d="M681.8 700.1l5.2-5.4 5.9-27.6-5.1 0.9z" fill="#741a6e"/>
<path d="M509.6 506.9l5-10.1 5.9 22.2-5 2z" fill="#f1731d"/>
<path d="M559.9 563.3l5 8.8 5.7 22.2-5-7z" fill="#ca404a"/>
<path d="M666.9 670.3l4.9 17.6 6-37.4-4.9-14z" fill="#87216b"/>
<path d="M622.5 777.3l5.2-12.8 5.8-18.3-5.1 8.3z" fill="#2d0b59"/>
<path d="M654.5 738.7l4.9 12.3 5.8-13.5-5.1-5.7z" fill="#420a68"/>
<path d="M728.1 522l5.1 3.4 5.5-7.6-5.1-1.4z" fill="#ee6a24"/>
<path d="M640.1 702.8l5 3.3 6-29.6-5-10.4z" fill="#6f196e"/>
<path d="M185.6 548.4l4.8 1.5 6.5-4.2-4.9-1.5z" fill="#e05536"/>
<path d="M534.7 518.1l5 17.7 5.8 30.3-5-11.1z" fill="#e25734"/>
<path d="M656.1 682.3l4.9 14.2 5.9-26.2-5-11.6z" fill="#781c6d"/>
<path d="M795.1 547.6l5.2 1.4 5.4-4.2-5.2-1.4z" fill="#e15635"/>
<path d="M645.1 706.1l5.1 1.1 5.9-24.9-5-5.8z" fill="#6c186e"/>
<path d="M769.2 543l5.1 2.6 5.4-4.3-5.1-3.3z" fill="#e35933"/>
<path d="M392.9 550.1l4.9-3.3 6.7 46.5-4.9 6.7z" fill="#cf4446"/>
<path d="M618.4 729.3l5 14.5 5.9-34.6-5-11.6z" fill="#540f6d"/>
<path d="M604.9 467.5l5.2-25.4 5.9-17-5.3 22.7z" fill="#fcb418"/>
<path d="M524.7 513.7l5 5.4 5.8 23.9-5-7.9z" fill="#eb6429"/>
<path d="M606.7 770.6l5 11.3 5.9-21.3-5.1-3.6z" fill="#280b53"/>
<path d="M642.8 397l5.2-9.4 5.4 19.2-5.2 4.3z" fill="#f3e55d"/>
<path d="M678.9 407.4l5.2-4.8 5.2 20.3-5.3 15z" fill="#f7d13d"/>
<path d="M650.2 707.2l5.1 2.1 5.7-12.8-4.9-14.2z" fill="#67166e"/>
<path d="M451.1 570.8l4.8-29.1 5.9-3.8-4.8 29.7z" fill="#db503b"/>
<path d="M639.3 731.8l5.2-14 5.7-10.6-5.1-1.1z" fill="#57106e"/>
<path d="M164.6 548.8l4.8 1.2 6.5-4.2-4.9-1.3z" fill="#e05536"/>
<path d="M529.7 519.1l5-1 5.8 36.9-5-12z" fill="#e8602d"/>
<path d="M733.2 525.4l5.1 3.9 5.5-8.4-5.1-3.1z" fill="#ed6925"/>
<path d="M616.7 793.9l5.2-8.1 5.8-21.3-5.2 12.8z" fill="#1c0c43"/>
<path d="M334.9 641.7l4.2-41.7 6.2-5-4.2 44.2z" fill="#ab2f5e"/>
<path d="M599.1 490.8l5.1-19.4 5.9-29.3-5.2 25.4z" fill="#fb9d07"/>
<path d="M483.6 500.7l5-5.4 6 11.6-5-1.3z" fill="#f57b17"/>
<path d="M210.3 568.3l5.3 16.5 6.6 3.7-5.4-20.6z" fill="#cc4248"/>
<path d="M743.3 535.6l5 7.7 5.5-6.5-5-8.3z" fill="#e75e2e"/>
<path d="M429 572.2l4.9-16.8 6.4 42.9-4.8 23.8z" fill="#c63d4d"/>
<path d="M190.4 549.9l4.9 2 6.5-4-4.9-2.2z" fill="#e05536"/>
<path d="M738.3 529.3l5 6.3 5.5-7.1-5-7.6z" fill="#eb6429"/>
<path d="M564.9 572.1l5 1 5.8 7-5.1 14.2z" fill="#cb4149"/>
<path d="M708.1 487.2l5.1 3 5.6-4.8-5.2 0.7z" fill="#f98b0b"/>
<path d="M651.1 676.5l5 5.8 5.8-23.6-4.9-14.2z" fill="#84206b"/>
<path d="M748.3 543.3l5.1 3 5.5-5-5.1-4.5z" fill="#e45a31"/>
<path d="M718.3 493.6l4.8 18 5.5-2.6-4.8-20.3z" fill="#f57d15"/>
<path d="M682.8 659.8l5 8.2 6.1-40.7-5.1-4.3z" fill="#972766"/>
<path d="M143.5 549.4l4.9 1.2 6.5-4.3-4.9-1.2z" fill="#e05536"/>
<path d="M774.3 545.6l5.1 2.7 5.4-4.3-5.1-2.7zM586.6 561.7l5.1-13 5.9-23.5-5.2 17.1z" fill="#e25734"/>
<path d="M635.2 681.8l4.9 21 6-36.7-4.9-17.8z" fill="#7c1d6d"/>
<path d="M677.8 650.5l5 9.3 6-36.8-5-8.8z" fill="#9d2964"/>
<path d="M356.4 593.7l4.7-16.6 6.1-8.2-4.7 18.1z" fill="#ca404a"/>
<path d="M800.3 549l5.1 1.4 5.4-4.2-5.1-1.4z" fill="#e15635"/>
<path d="M670.4 730.4l5.1-5.7 5.7-9.8-5.1 4.3z" fill="#520e6d"/>
<path d="M519.6 496.6l5.1 17.1 5.8 21.4-5-15.3z" fill="#f06f20"/>
<path d="M301 700.8l4.4-25.3 6.7 17.5-4.3 28.9z" fill="#69166e"/>
<path d="M606 794.4l5 10.7 5.7-11.2-5-12z" fill="#120a32"/>
<path d="M661.9 658.7l5 11.6 6-33.8-4.9-17z" fill="#952667"/>
<path d="M649.6 718.3l4.9 20.4 5.6-6.9-4.8-22.5z" fill="#510e6c"/>
<path d="M514.6 496.8l5-0.2 5.9 23.2-5-0.8z" fill="#f3761b"/>
<path d="M703.3 465.3l4.8 21.9 5.5-1.1-4.9-16.2z" fill="#fa9407"/>
<path d="M169.4 550l4.9 1.3 6.4-4.3-4.8-1.2z" fill="#e05536"/>
<path d="M687 694.7l5.2-5.1 5.9-25-5.2 2.5z" fill="#781c6d"/>
<path d="M195.3 551.9l4.9 2.5 6.5-3.6-4.9-2.9z" fill="#df5337"/>
<path d="M681.2 714.9l5.2-4.8 5.8-20.5-5.2 5.1z" fill="#64156e"/>
<path d="M713.2 490.2l5.1 3.4 5.5-4.9-5-3.3z" fill="#f8890c"/>
<path d="M367.2 568.9l4.8-10.2 6.2-1-4.9 2.1z" fill="#d94d3d"/>
<path d="M699.2 421.8l4.8 22.4 5.4 7.6-4.9-17.9z" fill="#fbbe23"/>
<path d="M646.1 666.1l5 10.4 5.9-32-4.9-15.6z" fill="#8f2469"/>
<path d="M687.8 668l5.1-0.9 6.1-40.8-5.1 1z" fill="#952667"/>
<path d="M214.1 590.5l5.3 17.2 7.1 24.2-5.5-26.1z" fill="#b63458"/>
<path d="M624.3 697.6l5 11.6 5.9-27.4-4.9-18.1z" fill="#71196e"/>
<path d="M345.3 595l4.9-4.6 6.2 3.3-4.7 8.2z" fill="#c03a51"/>
<path d="M753.4 546.3l5.2 0.4 5.4-4.9-5.1-0.5z" fill="#e35933"/>
<path d="M659.4 751l5.5-25.7 5.5 5.1-5.2 7.1z" fill="#470b6a"/>
<path d="M592.4 542.3l5.2-17.1 5.9-34.8-5.2 16.8z" fill="#f06f20"/>
<path d="M779.4 548.3l5.2 1.9 5.4-4.2-5.2-2z" fill="#e15635"/>
<path d="M397.8 546.8l5-3.4 6.7 54.7-5-4.8z" fill="#d34743"/>
<path d="M672.9 636.5l4.9 14 6-36.3-4.9-15.6z" fill="#a82e5f"/>
<path d="M148.4 550.6l4.8 1.3 6.5-4.3-4.8-1.3z" fill="#e05536"/>
<path d="M633.5 746.2l5.3-17.9 5.7-10.5-5.2 14z" fill="#4c0c6b"/>
<path d="M205.2 558.3l5.1 10 6.5-0.4-5.2-12.1z" fill="#d84c3e"/>
<path d="M601 782.2l5 12.2 5.7-12.5-5-11.3z" fill="#1c0c43"/>
<path d="M626.9 402.4l5.2-7.7 5.6 5.2-5.2 7.9z" fill="#f3e55d"/>
<path d="M611 805.1l5.1-7.2 5.8-12.1-5.2 8.1z" fill="#120a32"/>
<path d="M644.5 717.8l5.1 0.5 5.7-9-5.1-2.1z" fill="#5c126e"/>
<path d="M200.2 554.4l5 3.9 6.4-2.5-4.9-5z" fill="#dd513a"/>
<path d="M488.6 495.3l5-4.6 6 14.1-5 2.1z" fill="#f68013"/>
<path d="M279.3 666.5l4.7-5.7 7.7 60.8-4.7 9.3z" fill="#6c186e"/>
<path d="M616 425.1l5.1-8.1 5.8-14.6-5.2 20.6z" fill="#f6d543"/>
<path d="M580.8 571l5.1-8.5 5.8-13.8-5.1 13z" fill="#d94d3d"/>
<path d="M657 644.5l4.9 14.2 6.1-39.2-5-10.7z" fill="#a22b62"/>
<path d="M607.7 721.7l4.8 35.3 5.9-27.7-4.8-35.9z" fill="#510e6c"/>
<path d="M461.8 537.9l4.9-21.8 6-3.1-4.9 24.5z" fill="#ec6726"/>
<path d="M174.3 551.3l4.8 1.3 6.5-4.2-4.9-1.4z" fill="#e05536"/>
<path d="M601.8 746.3l4.9 24.3 5.8-13.6-4.8-35.3z" fill="#3d0965"/>
<path d="M717.5 523.3l5 7.1 5.6-8.4-5-10.4z" fill="#ef6c23"/>
<path d="M722.5 530.4l5 5.7 5.7-10.7-5.1-3.4z" fill="#eb6628"/>
<path d="M684.1 402.6l5.1 0.6 5.3 14.4-5.2 5.3z" fill="#f5db4c"/>
<path d="M784.6 550.2l5.1 1.6 5.4-4.2-5.1-1.6z" fill="#e15635"/>
<path d="M758.6 546.7l5.1 1.6 5.5-5.3-5.2-1.2z" fill="#e35933"/>
<path d="M692.9 667.1l5.2-2.5 6-31.8-5.1-6.5z" fill="#952667"/>
<path d="M648 387.6l5.1-3.9 5.5 11.6-5.2 11.5z" fill="#f1ed71"/>
<path d="M472.7 513l4.9-18.9 6 6.6-4.9 17.1z" fill="#f47918"/>
<path d="M153.2 551.9l4.9 1.2 6.5-4.3-4.9-1.2z" fill="#e05536"/>
<path d="M694.2 410.8l5 11 5.3 12.1-5-6.5z" fill="#f8cf3a"/>
<path d="M727.5 536.1l5.1 3.9 5.7-10.7-5.1-3.9z" fill="#ea632a"/>
<path d="M402.8 543.4l4.9-5.7 6.7 63.8-4.9-3.4z" fill="#d44842"/>
<path d="M312.1 693l4-47.9 6.3-1.4-4 52.2z" fill="#82206c"/>
<path d="M648.8 741.7l5.1 6.4 5.5 2.9-4.9-12.3z" fill="#400a67"/>
<path d="M641.2 648.3l4.9 17.8 6-37.2-4.9-19z" fill="#9f2a63"/>
<path d="M692.2 689.6l5.2-4.6 5.8-20-5.1-0.4z" fill="#7d1e6d"/>
<path d="M630.3 663.7l4.9 18.1 6-33.5-4.9-20.8z" fill="#8f2469"/>
<path d="M613.6 693.4l4.8 35.9 5.9-31.7-4.8-32.5z" fill="#6c186e"/>
<path d="M689.2 403.2l5 7.6 5.3 16.6-5-9.8z" fill="#f5d949"/>
<path d="M179.1 552.6l4.9 1.4 6.4-4.1-4.8-1.5z" fill="#e05536"/>
<path d="M569.9 573.1l5.1-9.2 5.8 7.1-5.1 9.1z" fill="#d34743"/>
<path d="M668 619.5l4.9 17 6-37.9-4.9-14.9z" fill="#b63458"/>
<path d="M732.6 540l5.1 4.9 5.6-9.3-5-6.3z" fill="#e8602d"/>
<path d="M627.7 764.5l5.2-16.8 5.9-19.4-5.3 17.9z" fill="#400a67"/>
<path d="M683.8 614.2l5 8.8 6.1-38-5-12z" fill="#bf3952"/>
<path d="M688.8 623l5.1 4.3 6.1-40.6-5.1-1.7z" fill="#ba3655"/>
<path d="M675.5 724.7l5.3-13 5.6-1.6-5.2 4.8z" fill="#5c126e"/>
<path d="M789.7 551.8l5.2 1.5 5.4-4.3-5.2-1.4z" fill="#e15635"/>
<path d="M763.7 548.3l5.1 2.5 5.5-5.2-5.1-2.6z" fill="#e35933"/>
<path d="M598.3 507.2l5.2-16.8 5.9-33.5-5.2 14.5z" fill="#fa9207"/>
<path d="M737.7 544.9l5.1 4.6 5.5-6.2-5-7.7z" fill="#e55c30"/>
<path d="M698.1 664.6l5.1 0.4 6-29.1-5.1-3.1z" fill="#952667"/>
<path d="M493.6 490.7l5-1.2 6 17.8-5-2.5z" fill="#f78212"/>
<path d="M372 558.7l4.9-7.5 6.2 6.6-4.9-0.1z" fill="#de5238"/>
<path d="M284 660.8l5.2 9.8 7.4 50.4-4.9 0.6z" fill="#6f196e"/>
<path d="M686.4 710.1l5.2-6.7 5.8-18.4-5.2 4.6z" fill="#6c186e"/>
<path d="M712.7 502.3l4.8 21 5.6-11.7-4.8-18z" fill="#f47918"/>
<path d="M600.2 803.3l5 5.4 5.8-3.6-5-10.7z" fill="#0e092b"/>
<path d="M208.9 577.3l5.2 13.2 6.9 15.3-5.4-21z" fill="#c73e4c"/>
<path d="M596 760.4l5 21.8 5.7-11.6-4.9-24.3z" fill="#2f0a5b"/>
<path d="M698.5 443.5l4.8 21.8 5.4 4.6-4.7-25.7z" fill="#fcae12"/>
<path d="M158.1 553.1l4.8 1.2 6.5-4.3-4.8-1.2z" fill="#e05536"/>
<path d="M742.8 549.5l5.1 3.5 5.5-6.7-5.1-3z" fill="#e25734"/>
<path d="M652.1 628.9l4.9 15.6 6-35.7-4.8-24.6z" fill="#b1325a"/>
<path d="M693.9 627.3l5.1-1 6-28.4-5-11.2z" fill="#b73557"/>
<path d="M632.1 394.7l5.1-3.3 5.6 5.6-5.1 2.9z" fill="#f1ed71"/>
<path d="M595.2 796.8l5 6.5 5.8-8.9-5-12.2z" fill="#150b37"/>
<path d="M184 554l4.9 1.6 6.4-3.7-4.9-2z" fill="#e05536"/>
<path d="M610.1 442.1l5.2-9 5.8-16.1-5.1 8.1z" fill="#f9c932"/>
<path d="M328.7 642.1l4.2-39.9 6.2-2.2-4.2 41.7z" fill="#ad305d"/>
<path d="M768.8 550.8l5.2 2.3 5.4-4.8-5.1-2.7z" fill="#e25734"/>
<path d="M621.9 785.8l5.2-20.6 5.8-17.5-5.2 16.8z" fill="#2f0a5b"/>
<path d="M643.9 727.1l4.9 14.6 5.7-3-4.9-20.4z" fill="#4f0d6c"/>
<path d="M137 553.7l4.8 1.2 6.6-4.3-4.9-1.2z" fill="#e05536"/>
<path d="M699 626.3l5.1 6.5 6-33.3-5.1-1.6z" fill="#b43359"/>
<path d="M702.6 487.6l5 9 5.6-6.4-5.1-3z" fill="#f98b0b"/>
<path d="M619.5 665.1l4.8 32.5 6-33.9-4.9-29.7z" fill="#88226a"/>
<path d="M794.9 553.3l5.1 1.4 5.4-4.3-5.1-1.4z" fill="#e15635"/>
<path d="M591.7 548.7l5.1-9 5.9-29.6-5.1 15.1z" fill="#eb6628"/>
<path d="M445 563.2l4.8-20.8 6.1-0.7-4.8 29.1z" fill="#df5337"/>
<path d="M605.2 808.7l5.1 1.1 5.8-11.9-5.1 7.2z" fill="#0d0829"/>
<path d="M638.8 728.3l5.1-1.2 5.7-8.8-5.1-0.5z" fill="#550f6d"/>
<path d="M678.9 598.6l4.9 15.6 6.1-41.2-4.9-17.4z" fill="#ca404a"/>
<path d="M711.8 537l5 6.4 5.7-13-5-7.1z" fill="#eb6429"/>
<path d="M707.6 496.6l5.1 5.7 5.6-8.7-5.1-3.4z" fill="#f8850f"/>
<path d="M604.2 471.4l5.2-14.5 5.9-23.8-5.2 9z" fill="#fcb418"/>
<path d="M716.8 543.4l5 7.2 5.7-14.5-5-5.7z" fill="#e75e2e"/>
<path d="M747.9 553l5.1 1.1 5.6-7.4-5.2-0.4z" fill="#e25734"/>
<path d="M407.7 537.7l4.9-8.3 6.8 69.8-5 2.3zM361.1 577.1l4.8-14.2 6.1-4.2-4.8 10.2z" fill="#d84c3e"/>
<path d="M162.9 554.3l4.9 1.3 6.5-4.3-4.9-1.3z" fill="#e05536"/>
<path d="M498.6 489.5l5-1 6 18.4-5 0.4z" fill="#f78410"/>
<path d="M663 608.8l5 10.7 6-35.8-4.9-20.5z" fill="#c43c4e"/>
<path d="M350.2 590.4l4.6-19.9 6.3 6.6-4.7 16.6z" fill="#cc4248"/>
<path d="M721.8 550.6l5.1 4 5.7-14.6-5.1-3.9z" fill="#e55c30"/>
<path d="M704.1 632.8l5.1 3.1 6-34.2-5.1-2.2z" fill="#b1325a"/>
<path d="M653.1 383.7l5.2-5.3 5.5 12-5.2 4.9z" fill="#f3f586"/>
<path d="M664.9 725.3l5.2-10.6 5.4 10-5.1 5.7z" fill="#550f6d"/>
<path d="M188.9 555.6l4.9 2.1 6.4-3.3-4.9-2.5z" fill="#df5337"/>
<path d="M774 553.1l5.1 1.7 5.5-4.6-5.2-1.9zM585.9 562.5l5.1-7.8 5.8-15-5.1 9z" fill="#e15635"/>
<path d="M227.6 612.1l4.8-0.1 8 58-4.9-2.5z" fill="#9f2a63"/>
<path d="M694.9 585l5.1 1.7 5.9-24.9-5-8.8z" fill="#d44842"/>
<path d="M700 586.7l5 11.2 5.9-30.7-5-5.4z" fill="#d04545"/>
<path d="M203.7 566.6l5.2 10.7 6.7 7.5-5.3-16.5z" fill="#d34743"/>
<path d="M141.8 554.9l4.9 1.3 6.5-4.3-4.8-1.3z" fill="#e05536"/>
<path d="M705 597.9l5.1 1.6 5.9-27.9-5.1-4.4z" fill="#cc4248"/>
<path d="M726.9 554.6l5.1 3.6 5.7-13.3-5.1-4.9z" fill="#e35933"/>
<path d="M636.3 627.5l4.9 20.8 6-38.4-4.9-23.4z" fill="#b1325a"/>
<path d="M697.7 468.5l4.9 19.1 5.5-0.4-4.8-21.9z" fill="#fb9906"/>
<path d="M705.9 561.8l5 5.4 5.9-23.8-5-6.4z" fill="#e15635"/>
<path d="M621.1 417l5.2-13.5 5.8-8.8-5.2 7.7z" fill="#f2e661"/>
<path d="M616.1 797.9l5.2-16.6 5.8-16.1-5.2 20.6z" fill="#210c4a"/>
<path d="M706.9 522.3l4.9 14.7 5.7-13.7-4.8-21z" fill="#f06f20"/>
<path d="M697.4 685l5.3-9.6 5.9-26.2-5.4 15.8z" fill="#87216b"/>
<path d="M597.6 525.2l5.1-15.1 6-35.8-5.2 16.1z" fill="#f78410"/>
<path d="M376.9 551.2l4.8-8.2 6.3 10.6-4.9 4.2z" fill="#e25734"/>
<path d="M575 563.9l5.1-0.2 5.8-1.2-5.1 8.5z" fill="#d94d3d"/>
<path d="M689.9 573l5 12 6-32-4.9-17.3z" fill="#db503b"/>
<path d="M710.9 567.2l5.1 4.4 5.8-21-5-7.2z" fill="#de5238"/>
<path d="M590.2 772.9l5 23.9 5.8-14.6-5-21.8z" fill="#240c4f"/>
<path d="M433.9 555.4l4.9-13.1 6.2 20.9-4.7 35.1z" fill="#d94d3d"/>
<path d="M193.8 557.7l4.9 2.8 6.5-2.2-5-3.9z" fill="#de5238"/>
<path d="M753 554.1l5.2 1.5 5.5-7.3-5.1-1.6z" fill="#e25734"/>
<path d="M289.2 670.6l4.7-9.5 7.1 39.7-4.4 20.2z" fill="#751b6e"/>
<path d="M703.2 665l5.4-15.8 5.9-24-5.3 10.7z" fill="#9b2964"/>
<path d="M167.8 555.6l4.9 1.2 6.4-4.2-4.8-1.3z" fill="#e05536"/>
<path d="M653.9 748.1l5.4-26.9 5.6 4.1-5.5 25.7z" fill="#4c0c6b"/>
<path d="M700.9 553l5 8.8 5.9-24.8-4.9-14.7z" fill="#e65d2f"/>
<path d="M680.8 711.7l5.2-2.8 5.6-5.5-5.2 6.7z" fill="#64156e"/>
<path d="M222.3 597.3l5.3 14.8 7.9 55.4-5.6-28.5z" fill="#a92e5e"/>
<path d="M477.6 494.1l5-4.4 6 5.6-5 5.4z" fill="#f8890c"/>
<path d="M198.7 560.5l5 6.1 6.6 1.7-5.1-10zM716 571.6l5.1 6.6 5.8-23.6-5.1-4z" fill="#da4e3c"/>
<path d="M710.1 599.5l5.1 2.2 5.9-23.5-5.1-6.6z" fill="#ca404a"/>
<path d="M625.4 634l4.9 29.7 6-36.2-4.9-23.3z" fill="#a62d60"/>
<path d="M647.2 609.9l4.9 19 6.1-44.7-5-15.5z" fill="#c33b4f"/>
<path d="M779.1 554.8l5.2 1.5 5.4-4.5-5.1-1.6zM732 558.2l5.1 1.9 5.7-10.6-5.1-4.6z" fill="#e15635"/>
<path d="M674 583.7l4.9 14.9 6.1-43-4.9-13.1z" fill="#d74b3f"/>
<path d="M339.1 600l4.8-12.2 6.3 2.6-4.9 4.6z" fill="#c63d4d"/>
<path d="M455.9 541.7l4.8-27.1 6 1.5-4.9 21.8z" fill="#ee6a24"/>
<path d="M146.7 556.2l4.9 1.2 6.5-4.3-4.9-1.2z" fill="#e05536"/>
<path d="M637.2 391.4l5.2-8.1 5.6 4.3-5.2 9.4z" fill="#f2f482"/>
<path d="M691.6 703.4l5.4-15.4 5.7-12.6-5.3 9.6z" fill="#771c6d"/>
<path d="M709.2 635.9l5.3-10.7 5.9-26.9-5.2 3.4z" fill="#b63458"/>
<path d="M721.1 578.2l5.1-1.2 5.8-18.8-5.1-3.6z" fill="#d94d3d"/>
<path d="M247.4 623.8l5 7.1 8.1 67.9-5.2-14z" fill="#8f2469"/>
<path d="M758.2 555.6l5.1 1.3 5.5-6.1-5.1-2.5z" fill="#e25734"/>
<path d="M701.9 511.3l5 11 5.8-20-5.1-5.7z" fill="#f57d15"/>
<path d="M737.1 560.1l5.2 1.1 5.6-8.2-5.1-3.5z" fill="#e05536"/>
<path d="M658.3 378.4l5.1-2.4 5.5 14.5-5.1-0.1z" fill="#f5f992"/>
<path d="M172.7 556.8l4.8 1.3 6.5-4.1-4.9-1.4z" fill="#e05536"/>
<path d="M693.7 415.9l4.8 27.6 5.5 0.7-4.8-22.4z" fill="#f9cb35"/>
<path d="M539 521.9l5 9.2 5.8 28.5-5-7.1z" fill="#e8602d"/>
<path d="M544 531.1l5.1 2.2 5.7 33.8-5-7.5z" fill="#e55c30"/>
<path d="M632.9 747.7l5.3-16.4 5.7-4.2-5.1 1.2z" fill="#4f0d6c"/>
<path d="M784.3 556.3l5.1 1.4 5.5-4.4-5.2-1.5z" fill="#e15635"/>
<path d="M696 535.7l4.9 17.3 6-30.7-5-11z" fill="#ed6925"/>
<path d="M589.4 802.6l5 3.2 5.8-2.5-5-6.5z" fill="#120a32"/>
<path d="M232.4 612l4.8-5.2 7.7 51.2-4.5 12z" fill="#a32c61"/>
<path d="M715.2 601.7l5.2-3.4 5.8-21.3-5.1 1.2z" fill="#ca404a"/>
<path d="M658.2 584.2l4.8 24.6 6.1-45.6-4.9-19.6z" fill="#d44842"/>
<path d="M696.9 501.4l5 9.9 5.7-14.7-5-9z" fill="#f8850f"/>
<path d="M668.5 381.7l5 9.2 5.4 16.5-5.1-3.7z" fill="#f1ef75"/>
<path d="M643.2 745.7l5 5.2 5.7-2.8-5.1-6.4z" fill="#440a68"/>
<path d="M685 555.6l4.9 17.4 6.1-37.3-5-12z" fill="#e55c30"/>
<path d="M594.4 805.8l5.1 9.9 5.7-7-5-5.4z" fill="#0e092b"/>
<path d="M412.6 529.4l4.9-4.1 6.7 62.9-4.8 11z" fill="#de5238"/>
<path d="M615.3 433.1l5.2-9.7 5.8-19.9-5.2 13.5z" fill="#f5d949"/>
<path d="M503.6 488.5l5-15.2 6 23.5-5 10.1z" fill="#f98c0a"/>
<path d="M663.4 376l5.1 5.7 5.3 22-4.9-13.2z" fill="#f3f68a"/>
<path d="M151.6 557.4l4.8 1.2 6.5-4.3-4.8-1.2z" fill="#e05536"/>
<path d="M603.5 490.4l5.2-16.1 5.9-29.3-5.2 11.9z" fill="#fca60c"/>
<path d="M596.8 539.7l5.2-9.4 5.8-25.8-5.1 5.6z" fill="#f1711f"/>
<path d="M610.3 809.8l5.2-13.5 5.8-15-5.2 16.6z" fill="#160b39"/>
<path d="M549.1 533.3l5 9.4 5.8 20.6-5.1 3.8z" fill="#e35933"/>
<path d="M466.7 516.1l4.9-25.8 6 3.8-4.9 18.9z" fill="#f78212"/>
<path d="M763.3 556.9l5.2 1.6 5.5-5.4-5.2-2.3z" fill="#e15635"/>
<path d="M742.3 561.2l5.1 2.4 5.6-9.5-5.1-1.1z" fill="#df5337"/>
<path d="M599.5 815.7l5.1 0.2 5.7-6.1-5.1-1.1z" fill="#0c0826"/>
<path d="M554.1 542.7l5 10.5 5.8 18.9-5-8.8z" fill="#e05536"/>
<path d="M670.1 714.7l5.2-2 5.5-1-5.3 13z" fill="#5f136e"/>
<path d="M638.2 731.3l5 14.4 5.6-4-4.9-14.6z" fill="#4d0d6c"/>
<path d="M242.2 611.4l5.2 12.4 7.9 61-5.3-18.1z" fill="#9b2964"/>
<path d="M591 554.7l5.1-5.4 5.9-19-5.2 9.4z" fill="#e75e2e"/>
<path d="M580.1 563.7l5.1-2.3 5.8-6.7-5.1 7.8z" fill="#de5238"/>
<path d="M177.5 558.1l4.9 1.4 6.5-3.9-4.9-1.6z" fill="#e05536"/>
<path d="M381.7 543l4.9-3.7 6.3 10.8-4.9 3.5z" fill="#e65d2f"/>
<path d="M669.1 563.2l4.9 20.5 6.1-41.2-4.9-17.8z" fill="#e25734"/>
<path d="M609.4 456.9l5.2-11.9 5.9-21.6-5.2 9.7z" fill="#fac42a"/>
<path d="M673.5 390.9l5.1 1.4 5.5 10.3-5.2 4.8z" fill="#f1ef75"/>
<path d="M217.2 588.7l5.1 8.6 7.6 41.7-5.3-18.6z" fill="#ba3655"/>
<path d="M692.9 449.6l4.8 18.9 5.6-3.2-4.8-21.8z" fill="#fcb216"/>
<path d="M626.3 403.5l5.1-0.4 5.8-11.7-5.1 3.3z" fill="#f1ef75"/>
<path d="M726.2 577l5.3-4.9 5.6-12-5.1-1.9z" fill="#da4e3c"/>
<path d="M365.9 562.9l4.8-11.1 6.2-0.6-4.9 7.5z" fill="#e15635"/>
<path d="M559.1 553.2l5.1 0.9 5.7 19-5-1z" fill="#dd513a"/>
<path d="M789.4 557.7l5.2 1.3 5.4-4.3-5.1-1.4z" fill="#e15635"/>
<path d="M533.9 503.1l5.1 18.8 5.8 30.6-5.1-16.7z" fill="#ef6c23"/>
<path d="M691 523.7l5 12 5.9-24.4-5-9.9z" fill="#f2741c"/>
<path d="M252.4 630.9l4.7-8.8 7.9 61.5-4.5 15.2z" fill="#922568"/>
<path d="M322.4 643.7l4.3-36.5 6.2-5-4.2 39.9z" fill="#b0315b"/>
<path d="M691.9 487.8l5 13.6 5.7-13.8-4.9-19.1z" fill="#fa9407"/>
<path d="M631.4 604.2l4.9 23.3 6-41-4.9-19.9z" fill="#c63d4d"/>
<path d="M482.6 489.7l5-10.2 6 11.2-5 4.6z" fill="#fa9207"/>
<path d="M156.4 558.6l4.9 1.3 6.5-4.3-4.9-1.3z" fill="#e05536"/>
<path d="M597.1 695.4l4.7 50.9 5.9-24.6-4.8-50.4z" fill="#67166e"/>
<path d="M642.3 586.5l4.9 23.4 6-41.2-4.9-22.7z" fill="#d34743"/>
<path d="M584.4 777.3l5 25.3 5.8-5.8-5-23.9z" fill="#1f0c48"/>
<path d="M237.2 606.8l5 4.6 7.8 55.3-5.1-8.7z" fill="#a62d60"/>
<path d="M768.5 558.5l5.1 1.3 5.5-5-5.1-1.7z" fill="#e15635"/>
<path d="M680.1 542.5l4.9 13.1 6-31.9-4.9-16.5z" fill="#ed6925"/>
<path d="M602.9 671.3l4.8 50.4 5.9-28.3-4.8-46.2z" fill="#7d1e6d"/>
<path d="M747.4 563.6l5.2 1.4 5.6-9.4-5.2-1.5z" fill="#df5337"/>
<path d="M602.7 510.1l5.1-5.6 6-31.2-5.1 1z" fill="#fa9008"/>
<path d="M642.4 383.3l5.1-2.6 5.6 3-5.1 3.9z" fill="#f6fa96"/>
<path d="M688.7 410l5 5.9 5.5 5.9-5-11z" fill="#f4df53"/>
<path d="M212.2 584.1l5 4.6 7.4 31.7-5.2-12.7z" fill="#c33b4f"/>
<path d="M182.4 559.5l4.9 1.6 6.5-3.4-4.9-2.1z" fill="#e05536"/>
<path d="M305.4 675.5l4.1-41.9 6.6 11.5-4 47.9z" fill="#902568"/>
<path d="M627.1 765.2l5.3-19.1 5.8-14.8-5.3 16.4z" fill="#450a69"/>
<path d="M608.8 647.2l4.8 46.2 5.9-28.3-4.8-40.8z" fill="#932667"/>
<path d="M354.8 570.5l4.8-9.8 6.3 2.2-4.8 14.2z" fill="#da4e3c"/>
<path d="M678.6 392.3l5.1 5.6 5.5 5.3-5.1-0.6z" fill="#f1ef75"/>
<path d="M686 708.9l5.4-16.2 5.6-4.7-5.4 15.4z" fill="#71196e"/>
<path d="M683.7 397.9l5 12.1 5.5 0.8-5-7.6z" fill="#f2e865"/>
<path d="M591.2 713.7l4.8 46.7 5.8-14.1-4.7-50.9z" fill="#550f6d"/>
<path d="M686.1 507.2l4.9 16.5 5.9-22.3-5-13.6z" fill="#f78212"/>
<path d="M720.4 598.3l5.4-12.4 5.7-13.8-5.3 4.9z" fill="#d04545"/>
<path d="M207.2 576.7l5 7.4 7.2 23.6-5.3-17.2z" fill="#cb4149"/>
<path d="M653.2 568.7l5 15.5 6-40.6-4.9-18.1z" fill="#e25734"/>
<path d="M731.5 572.1l5.2-2 5.6-8.9-5.2-1.1z" fill="#db503b"/>
<path d="M518.7 483.8l5.1 0.9 5.9 34.4-5-5.4z" fill="#f8870e"/>
<path d="M161.3 559.9l4.9 1.2 6.5-4.3-4.9-1.2z" fill="#e05536"/>
<path d="M564.2 554.1l5.1 2.6 5.7 7.2-5.1 9.2z" fill="#de5238"/>
<path d="M614.7 624.3l4.8 40.8 5.9-31.1-4.8-34.7z" fill="#ab2f5e"/>
<path d="M508.6 473.3l5.1 3.8 5.9 19.5-5 0.2z" fill="#fb9606"/>
<path d="M513.7 477.1l5 6.7 6 29.9-5.1-17.1z" fill="#f98e09"/>
<path d="M773.6 559.8l5.2 1.2 5.5-4.7-5.2-1.5z" fill="#e15635"/>
<path d="M187.3 561.1l4.9 1.8 6.5-2.4-4.9-2.8z" fill="#df5337"/>
<path d="M386.6 539.3l5-2.1 6.2 9.6-4.9 3.3z" fill="#e9612b"/>
<path d="M752.6 565l5.1 0.1 5.6-8.2-5.1-1.3z" fill="#df5337"/>
<path d="M528.8 490.5l5.1 12.6 5.8 32.7-5-17.7z" fill="#f57d15"/>
<path d="M620.5 423.4l5.1-5.4 5.8-14.9-5.1 0.4z" fill="#f3e35a"/>
<path d="M585.2 561.4l5.1-2.1 5.8-10-5.1 5.4z" fill="#e25734"/>
<path d="M602 530.3l5.1-5 5.9-26.5-5.2 5.7z" fill="#f47918"/>
<path d="M714.5 625.2l5.4-18 5.9-21.3-5.4 12.4z" fill="#c13a50"/>
<path d="M343.9 587.8l4.6-18.2 6.3 0.9-4.6 19.9z" fill="#d34743"/>
<path d="M675.3 712.7l5.1-3.5 5.6-0.3-5.2 2.8z" fill="#67166e"/>
<path d="M417.5 525.3l5-3 6.5 49.9-4.8 16z" fill="#e45a31"/>
<path d="M596.1 549.3l5.1-2.6 5.9-21.4-5.1 5z" fill="#eb6628"/>
<path d="M708.6 649.2l5.5-20.6 5.8-21.4-5.4 18z" fill="#ae305c"/>
<path d="M620.6 599.3l4.8 34.7 6-29.8-4.9-28.2z" fill="#c13a50"/>
<path d="M202.1 571l5.1 5.7 6.9 13.8-5.2-13.2z" fill="#d44842"/>
<path d="M523.8 484.7l5 5.8 5.9 27.6-5 1z" fill="#f8850f"/>
<path d="M608.7 474.3l5.1-1 5.9-32.8-5.1 4.5z" fill="#fcb216"/>
<path d="M631.4 403.1l5.2-10.2 5.8-9.6-5.2 8.1z" fill="#f3f586"/>
<path d="M664.2 543.6l4.9 19.6 6.1-38.5-4.9-21.5z" fill="#ed6925"/>
<path d="M604.6 815.9l5.2-15.3 5.7-4.3-5.2 13.5z" fill="#120a32"/>
<path d="M192.2 562.9l4.9 3.1 6.6 0.6-5-6.1z" fill="#de5238"/>
<path d="M675.2 524.7l4.9 17.8 6-35.3-4.9-17.6z" fill="#f47918"/>
<path d="M736.7 570.1l5.1 5.2 5.6-11.7-5.1-2.4z" fill="#db503b"/>
<path d="M332.9 602.2l4.7-13.3 6.3-1.1-4.8 12.2z" fill="#c83f4b"/>
<path d="M197.1 566l5 5 6.8 6.3-5.2-10.7z" fill="#da4e3c"/>
<path d="M449.8 542.4l4.9-24.9 6-2.9-4.8 27.1z" fill="#ef6e21"/>
<path d="M687.1 462.5l4.8 25.3 5.8-19.3-4.8-18.9z" fill="#fcaa0f"/>
<path d="M621.3 781.3l5.3-20.8 5.8-14.4-5.3 19.1z" fill="#390963"/>
<path d="M166.2 561.1l4.8 1.3 6.5-4.3-4.8-1.3z" fill="#e05536"/>
<path d="M438.8 542.3l4.9-7.9 6.1 8-4.8 20.8z" fill="#e8602d"/>
<path d="M702.7 675.4l5.6-32.6 5.8-14.2-5.5 20.6z" fill="#9d2964"/>
<path d="M585.3 734.5l4.9 38.4 5.8-12.5-4.8-46.7z" fill="#490b6a"/>
<path d="M647.5 380.7l5.2-3.2 5.6 0.9-5.2 5.3z" fill="#fafda1"/>
<path d="M614.6 445l5.1-4.5 5.9-22.5-5.1 5.4z" fill="#f8cf3a"/>
<path d="M778.8 561l5.2 1.3 5.4-4.6-5.1-1.4z" fill="#e15635"/>
<path d="M607.8 504.5l5.2-5.7 5.9-28.4-5.1 2.9z" fill="#fb9606"/>
<path d="M487.6 479.5l5-6.5 6 16.5-5 1.2z" fill="#fb9906"/>
<path d="M293.9 661.1l4.4-22.5 7.1 36.9-4.4 25.3z" fill="#8c2369"/>
<path d="M659.3 721.2l5.3-12.6 5.5 6.1-5.2 10.6z" fill="#62146e"/>
<path d="M632.4 746.1l5 7.9 5.8-8.3-5-14.4z" fill="#4a0c6b"/>
<path d="M637.4 754l5.2-1 5.6-2.1-5-5.2z" fill="#450a69"/>
<path d="M757.7 565.1l5.2 0.2 5.6-6.8-5.2-1.6z" fill="#e05536"/>
<path d="M688 426.2l4.9 23.4 5.6-6.1-4.8-27.6z" fill="#f8cd37"/>
<path d="M569.3 556.7l5 3.3 5.8 3.7-5.1 0.2z" fill="#e05536"/>
<path d="M257.1 622.1l4.9-3.4 7.7 57.1-4.7 7.8z" fill="#9b2964"/>
<path d="M648.2 750.9l5.6-39.9 5.5 10.2-5.4 26.9z" fill="#550f6d"/>
<path d="M637.4 566.6l4.9 19.9 6-40.5-4.9-18.7z" fill="#e25734"/>
<path d="M626.5 576l4.9 28.2 6-37.6-5-18z" fill="#d84c3e"/>
<path d="M370.7 551.8l4.7-14.5 6.3 5.7-4.8 8.2z" fill="#e8602d"/>
<path d="M741.8 575.3l5.1 1.4 5.7-11.7-5.2-1.4z" fill="#da4e3c"/>
<path d="M681.2 489.6l4.9 17.6 5.8-19.4-4.8-25.3z" fill="#fb9706"/>
<path d="M471.6 490.3l5-5.6 6 5-5 4.4z" fill="#fa9407"/>
<path d="M583.6 797.8l5.1 9.2 5.7-1.2-5-3.2z" fill="#150b37"/>
<path d="M588.7 807l5.1 2.4 5.7 6.3-5.1-9.9z" fill="#110a30"/>
<path d="M171 562.4l4.9 1.2 6.5-4.1-4.9-1.4z" fill="#e05536"/>
<path d="M590.3 559.3l5.1 1.3 5.8-13.9-5.1 2.6z" fill="#e45a31"/>
<path d="M725.8 585.9l5.2-1.9 5.7-13.9-5.2 2z" fill="#d54a41"/>
<path d="M784 562.3l5.2 1.3 5.4-4.6-5.2-1.3z" fill="#e15635"/>
<path d="M613.8 473.3l5.1-2.9 5.9-27.8-5.1-2.1z" fill="#fbb61a"/>
<path d="M391.6 537.2l4.9-7.3 6.3 13.5-5 3.4z" fill="#eb6628"/>
<path d="M601.2 546.7l5.1-0.4 5.9-22-5.1 1z" fill="#ed6925"/>
<path d="M607.1 525.3l5.1-1 5.9-30-5.1 4.5z" fill="#f68013"/>
<path d="M648.3 546l4.9 22.7 6.1-43.2-4.8-26.6z" fill="#ee6a24"/>
<path d="M762.9 565.3l5.2 0.3 5.5-5.8-5.1-1.3zM574.3 560l5.1 3.2 5.8-1.8-5.1 2.3z" fill="#e05536"/>
<path d="M460.7 514.6l4.9-22.2 6-2.1-4.9 25.8z" fill="#f8870e"/>
<path d="M625.6 418l5.2-4.9 5.8-20.2-5.2 10.2z" fill="#f2ea69"/>
<path d="M697 688l5.6-33.5 5.7-11.7-5.6 32.6z" fill="#902568"/>
<path d="M316.1 645.1l4.3-36.3 6.3-1.6-4.3 36.5z" fill="#b1325a"/>
<path d="M593.8 809.4l5.1-0.2 5.7 6.7-5.1-0.2z" fill="#10092d"/>
<path d="M652.7 377.5l5.1 1.4 5.6-2.9-5.1 2.4z" fill="#fcffa4"/>
<path d="M615.5 796.3l5.3-24.7 5.8-11.1-5.3 20.8z" fill="#2d0b59"/>
<path d="M746.9 576.7l5.2-1.7 5.6-9.9-5.1-0.1z" fill="#db503b"/>
<path d="M492.6 473l5-2 6 17.5-5 1z" fill="#fc9f07"/>
<path d="M659.3 525.5l4.9 18.1 6.1-40.4-5-15.3z" fill="#f57d15"/>
<path d="M619.7 440.5l5.1 2.1 6-29.5-5.2 4.9z" fill="#f6d543"/>
<path d="M670.3 503.2l4.9 21.5 6-35.1-4.9-17z" fill="#f98c0a"/>
<path d="M262 618.7l4.9 2.7 7.8 58.6-5-4.2z" fill="#9f2a63"/>
<path d="M175.9 563.6l4.9 1.3 6.5-3.8-4.9-1.6z" fill="#e05536"/>
<path d="M578.6 781.6l5 16.2 5.8 4.8-5-25.3z" fill="#230c4c"/>
<path d="M359.6 560.7l4.7-16.2 6.4 7.3-4.8 11.1z" fill="#e45a31"/>
<path d="M731 584l5.1 3.9 5.7-12.6-5.1-5.2z" fill="#d54a41"/>
<path d="M636.6 392.9l5.2-6.9 5.7-5.3-5.1 2.6z" fill="#f8fb9a"/>
<path d="M615.6 587.5l5 11.8 5.9-23.3-5-9.7z" fill="#d44842"/>
<path d="M595.4 560.6l5 4.2 5.9-18.5-5.1 0.4z" fill="#e55c30"/>
<path d="M613 498.8l5.1-4.5 5.9-29.3-5.1 5.4z" fill="#fb9d07"/>
<path d="M683.1 413.7l4.9 12.5 5.7-10.3-5-5.9z" fill="#f3e35a"/>
<path d="M621.5 566.3l5 9.7 5.9-27.4-5-8.8z" fill="#e35933"/>
<path d="M610.5 583.2l5.1 4.3 5.9-21.2-5.1-7.6z" fill="#d94d3d"/>
<path d="M632.4 548.6l5 18 6-39.3-5-12.3z" fill="#ec6726"/>
<path d="M609.7 608.2l5 16.1 5.9-25-5-11.8z" fill="#c33b4f"/>
<path d="M768.1 565.6l5.2 0.7 5.5-5.3-5.2-1.2zM579.4 563.2l5.1 4.5 5.8-8.4-5.1 2.1z" fill="#e05536"/>
<path d="M719.9 607.2l5.4-10.2 5.7-13-5.2 1.9z" fill="#cc4248"/>
<path d="M606.3 546.3l5.1 0.6 5.9-25.3-5.1 2.7z" fill="#ef6c23"/>
<path d="M422.5 522.3l5-5.8 6.4 38.9-4.9 16.8z" fill="#eb6628"/>
<path d="M626.6 760.5l5.1 1.1 5.7-7.6-5-7.9z" fill="#440a68"/>
<path d="M664.6 708.6l5.1-1.8 5.6 5.9-5.2 2z" fill="#6a176e"/>
<path d="M579.5 736.7l4.9 40.6 5.8-4.4-4.9-38.4z" fill="#440a68"/>
<path d="M604.6 607.2l5.1 1 5.9-20.7-5.1-4.3z" fill="#ca404a"/>
<path d="M616.4 558.7l5.1 7.6 5.9-26.5-5-11.9z" fill="#e8602d"/>
<path d="M605.5 572.8l5 10.4 5.9-24.5-5-11.8z" fill="#df5337"/>
<path d="M736.1 587.9l5.1 2.9 5.7-14.1-5.1-1.4z" fill="#d44842"/>
<path d="M599.6 594.4l5 12.8 5.9-24-5-10.4z" fill="#cf4446"/>
<path d="M680.4 709.2l5.5-20.9 5.5 4.4-5.4 16.2z" fill="#741a6e"/>
<path d="M603.9 629.1l4.9 18.1 5.9-22.9-5-16.1z" fill="#b1325a"/>
<path d="M682.3 438.5l4.8 24 5.8-12.9-4.9-23.4z" fill="#fac62d"/>
<path d="M600.4 564.8l5.1 8 5.9-25.9-5.1-0.6z" fill="#e35933"/>
<path d="M657.8 378.9l5.1-2.9 5.6 5.7-5.1-5.7z" fill="#fcffa4"/>
<path d="M180.8 564.9l4.9 1.4 6.5-3.4-4.9-1.8z" fill="#e05536"/>
<path d="M678.1 399l5 14.7 5.6-3.7-5-12.1z" fill="#f1ed71"/>
<path d="M598.8 629.6l5.1-0.5 5.8-20.9-5.1-1z" fill="#b93556"/>
<path d="M662.9 376l5.1 10.9 5.5 4-5-9.2z" fill="#fafda1"/>
<path d="M668 386.9l5 5.7 5.6-0.3-5.1-1.4z" fill="#f5f992"/>
<path d="M611.4 546.9l5 11.8 6-30.8-5.1-6.3z" fill="#ed6925"/>
<path d="M593.8 613.9l5 15.7 5.8-22.4-5-12.8z" fill="#bf3952"/>
<path d="M375.4 537.3l5-2.9 6.2 4.9-4.9 3.7z" fill="#ed6925"/>
<path d="M627.4 539.8l5 8.8 6-33.6-5.1-5.5z" fill="#f1731d"/>
<path d="M752.1 575l5.3-2.2 5.5-7.5-5.2-0.2z" fill="#dd513a"/>
<path d="M618.9 470.4l5.1-5.4 6-35.2-5.2 12.8z" fill="#fbbe23"/>
<path d="M676.3 472.6l4.9 17 5.9-27.1-4.8-24z" fill="#fcb014"/>
<path d="M476.6 484.7l5-7 6 1.8-5 10.2z" fill="#fb9d07"/>
<path d="M598 646l4.9 25.3 5.9-24.1-4.9-18.1z" fill="#a02a63"/>
<path d="M584.5 567.7l5.1 3.9 5.8-11-5.1-1.3zM348.5 569.6l4.8-11.9 6.3 3-4.8 9.8z" fill="#e05536"/>
<path d="M612.2 524.3l5.1-2.7 6-37.7-5.2 10.4z" fill="#f8870e"/>
<path d="M594.6 581.3l5 13.1 5.9-21.6-5.1-8z" fill="#d84c3e"/>
<path d="M673 392.6l5.1 6.4 5.6-1.1-5.1-5.6z" fill="#f3f68a"/>
<path d="M773.3 566.3l5.2 1.1 5.5-5.1-5.2-1.3z" fill="#e05536"/>
<path d="M592.1 670.9l5 24.5 5.8-24.1-4.9-25.3z" fill="#8d2369"/>
<path d="M622.4 527.9l5 11.9 5.9-30.3-5-11.3z" fill="#f57b17"/>
<path d="M326.7 607.2l4.7-14.8 6.2-3.5-4.7 13.3z" fill="#ca404a"/>
<path d="M714.1 628.6l5.4-15.4 5.8-16.2-5.4 10.2z" fill="#c03a51"/>
<path d="M587.9 633.7l5 17.6 5.9-21.7-5-15.7z" fill="#ae305c"/>
<path d="M592.9 651.3l5.1-5.3 5.9-16.9-5.1 0.5z" fill="#a92e5e"/>
<path d="M396.5 529.9l4.8-13.5 6.4 21.3-4.9 5.7z" fill="#f06f20"/>
<path d="M643.4 527.3l4.9 18.7 6.2-47.1-5-12.8z" fill="#f67e14"/>
<path d="M266.9 621.4l4.8-7.5 7.6 52.6-4.6 13.5z" fill="#a32c61"/>
<path d="M589.6 571.6l5 9.7 5.8-16.5-5-4.2z" fill="#de5238"/>
<path d="M185.7 566.3l4.9 1.7 6.5-2-4.9-3.1z" fill="#e05536"/>
<path d="M337.6 588.9l4.7-18.2 6.2-1.1-4.6 18.2z" fill="#d74b3f"/>
<path d="M641.8 386l5.1 0.2 5.8-8.7-5.2 3.2z" fill="#fcffa4"/>
<path d="M631.7 761.6l5.2-9.1 5.7 0.5-5.2 1z" fill="#450a69"/>
<path d="M586.2 691.7l5 22 5.9-18.3-5-24.5z" fill="#7c1d6d"/>
<path d="M630.8 413.1l5.1-7.3 5.9-19.8-5.2 6.9z" fill="#f2f482"/>
<path d="M725.3 597l5.1 5 5.7-14.1-5.1-3.9z" fill="#ce4347"/>
<path d="M741.2 590.8l5.3-4.2 5.6-11.6-5.2 1.7z" fill="#d54a41"/>
<path d="M598.9 809.2l5.1-10.5 5.8 1.9-5.2 15.3z" fill="#160b39"/>
<path d="M624.8 442.6l5.2-12.8 5.9-24-5.1 7.3z" fill="#f4dd4f"/>
<path d="M665.3 487.9l5 15.3 6-30.6-4.9-24.3z" fill="#fca309"/>
<path d="M654.5 498.9l4.8 26.6 6-37.6-4.9-19.3z" fill="#fa9207"/>
<path d="M609.8 800.6l5.2-15.9 5.8-13.1-5.3 24.7z" fill="#260c51"/>
<path d="M669.7 706.8l5.2-0.6 5.5 3-5.1 3.5z" fill="#6d186e"/>
<path d="M587 672.1l5.1-1.2 5.9-24.9-5.1 5.3z" fill="#982766"/>
<path d="M553.3 542.5l5.1 5.6 5.8 6-5.1-0.9z" fill="#e9612b"/>
<path d="M617.3 521.6l5.1 6.3 5.9-29.7-5-14.3z" fill="#f8850f"/>
<path d="M691.4 692.7l5.6-34.2 5.6-4-5.6 33.5z" fill="#8d2369"/>
<path d="M582 651.5l5 20.6 5.9-20.8-5-17.6z" fill="#9f2a63"/>
<path d="M443.7 534.4l4.9-17.8 6.1 0.9-4.9 24.9z" fill="#f2741c"/>
<path d="M497.6 471l5-14 6 16.3-5 15.2z" fill="#fcaa0f"/>
<path d="M730.4 602l5.1 4.1 5.7-15.3-5.1-2.9z" fill="#cb4149"/>
<path d="M190.6 568l4.9 2 6.6 1-5-5zM757.4 572.8l5.2-1.1 5.5-6.1-5.2-0.3z" fill="#de5238"/>
<path d="M633.3 509.5l5.1 5.5 6-34.8-5.1 0z" fill="#fa9207"/>
<path d="M778.5 567.4l5.2 0.9 5.5-4.7-5.2-1.3z" fill="#e05536"/>
<path d="M677.3 430.4l5 8.1 5.7-12.3-4.9-12.5z" fill="#f5d949"/>
<path d="M588.8 595.5l5 18.4 5.8-19.5-5-13.1z" fill="#cc4248"/>
<path d="M548.3 523.2l5 19.3 5.8 10.7-5-10.5z" fill="#ed6925"/>
<path d="M618.1 494.3l5.2-10.4 5.9-28.3-5.2 9.4z" fill="#fca80d"/>
<path d="M638.4 515l5 12.3 6.1-41.2-5.1-5.9z" fill="#f98c0a"/>
<path d="M642.6 753l5.5-36.8 5.7-5.2-5.6 39.9z" fill="#5a116e"/>
<path d="M380.4 534.4l4.9-3.1 6.3 5.9-5 2.1z" fill="#ef6e21"/>
<path d="M558.4 548.1l5.1 3.8 5.8 4.8-5.1-2.6z" fill="#e75e2e"/>
<path d="M628.3 498.2l5 11.3 6-29.3-5-20.1z" fill="#fb9b06"/>
<path d="M580.4 704.8l4.9 29.7 5.9-20.8-5-22z" fill="#6c186e"/>
<path d="M195.5 570l5 2.3 6.7 4.4-5.1-5.7z" fill="#dd513a"/>
<path d="M646.9 386.2l5.1 2.1 5.8-9.4-5.1-1.4z" fill="#fcffa4"/>
<path d="M581.2 684l5 7.7 5.9-20.8-5.1 1.2z" fill="#88226a"/>
<path d="M465.6 492.4l5-1.6 6-6.1-5 5.6z" fill="#fb9906"/>
<path d="M427.5 516.5l5 6 6.3 19.8-4.9 13.1z" fill="#f06f20"/>
<path d="M708.3 642.8l5.5-17.4 5.7-12.2-5.4 15.4z" fill="#b43359"/>
<path d="M620.8 771.6l5.1-3.1 5.8-6.9-5.1-1.1z" fill="#3d0965"/>
<path d="M454.7 517.5l4.9-16.8 6-8.3-4.9 22.2z" fill="#f8890c"/>
<path d="M671.4 448.3l4.9 24.3 6-34.1-5-8.1z" fill="#fac62d"/>
<path d="M563.5 551.9l5 6.7 5.8 1.4-5-3.3z" fill="#e65d2f"/>
<path d="M200.5 572.3l4.9 2.5 6.8 9.3-5-7.4z" fill="#da4e3c"/>
<path d="M719.5 613.2l5.1 6.6 5.8-17.8-5.1-5z" fill="#c43c4e"/>
<path d="M576.1 669.2l5.1 14.8 5.8-11.9-5-20.6z" fill="#922568"/>
<path d="M568.5 558.6l5.1 7.8 5.8-3.2-5.1-3.2z" fill="#e35933"/>
<path d="M533.1 498.2l5 5.1 5.9 27.8-5-9.2z" fill="#f78212"/>
<path d="M583.7 582.3l5.1 13.2 5.8-14.2-5-9.7z" fill="#d74b3f"/>
<path d="M672.4 410.4l4.9 20 5.8-16.7-5-14.7z" fill="#f2ea69"/>
<path d="M762.6 571.7l5.2 0.4 5.5-5.8-5.2-0.7z" fill="#df5337"/>
<path d="M543.2 510l5.1 13.2 5.8 19.5-5-9.4z" fill="#f3761b"/>
<path d="M746.5 586.6l5.3-5 5.6-8.8-5.3 2.2z" fill="#d94d3d"/>
<path d="M582.9 610.2l5 23.5 5.9-19.8-5-18.4z" fill="#c03a51"/>
<path d="M624 465l5.2-9.4 6-30.7-5.2 4.9z" fill="#f9c932"/>
<path d="M364.3 544.5l4.8-16.5 6.3 9.3-4.7 14.5z" fill="#ee6a24"/>
<path d="M573.6 566.4l5.1 8.2 5.8-6.9-5.1-4.5z" fill="#e05536"/>
<path d="M538.1 503.3l5.1 6.7 5.9 23.3-5.1-2.2z" fill="#f57d15"/>
<path d="M635.9 405.8l5.2-3.7 5.8-15.9-5.1-0.2z" fill="#f5f992"/>
<path d="M481.6 477.7l5-10.1 6 5.4-5 6.5zM623.3 483.9l5 14.3 6-38.1-5.1-4.5z" fill="#fcaa0f"/>
<path d="M735.5 606.1l5.3-8.1 5.7-11.4-5.3 4.2z" fill="#ce4347"/>
<path d="M205.4 574.8l4.9 2.1 6.9 11.8-5-4.6z" fill="#d84c3e"/>
<path d="M578.7 574.6l5 7.7 5.9-10.7-5.1-3.9z" fill="#dd513a"/>
<path d="M652 388.3l5.1 4.3 5.8-16.6-5.1 2.9z" fill="#fcffa4"/>
<path d="M639.3 480.2l5.1 0 5.9-28.8-5-9.4z" fill="#fbb61a"/>
<path d="M724.6 619.8l5.1 0.1 5.8-13.8-5.1-4.1z" fill="#c13a50"/>
<path d="M271.7 613.9l4.9 1.2 7.4 45.7-4.7 5.7z" fill="#ab2f5e"/>
<path d="M660.4 468.6l4.9 19.3 6.1-39.6-4.9-16z" fill="#fbba1f"/>
<path d="M577.9 788.9l5 8.3 5.8 9.8-5.1-9.2z" fill="#1f0c48"/>
<path d="M649.5 486.1l5 12.8 5.9-30.3-4.9-17z" fill="#fca80d"/>
<path d="M653.8 711l5.4-20.3 5.4 17.9-5.3 12.6z" fill="#71196e"/>
<path d="M573.7 742.6l4.9 39 5.8-4.3-4.9-40.6z" fill="#440a68"/>
<path d="M215.3 579.6l5 4.3 7.3 28.2-5.3-14.8z" fill="#cf4446"/>
<path d="M662.2 401.2l5.1 2.8 5.7-11.4-5-5.7z" fill="#f4f88e"/>
<path d="M657.1 392.6l5.1 8.6 5.8-14.3-5.1-10.9z" fill="#f9fc9d"/>
<path d="M582.9 797.2l5.1 4.7 5.8 7.5-5.1-2.4z" fill="#1b0c41"/>
<path d="M210.3 576.9l5 2.7 7 17.7-5.1-8.6z" fill="#d54a41"/>
<path d="M309.5 633.6l4.5-26.5 6.4 1.7-4.3 36.3z" fill="#b93556"/>
<path d="M298.3 638.6l4.5-23.4 6.7 18.4-4.1 41.9z" fill="#ab2f5e"/>
<path d="M630 429.8l5.2-4.9 5.9-22.8-5.2 3.7z" fill="#f2e865"/>
<path d="M644.4 480.2l5.1 5.9 6-34.5-5.2-0.2z" fill="#fcb216"/>
<path d="M667.3 404l5.1 6.4 5.7-11.4-5.1-6.4z" fill="#f3f586"/>
<path d="M220.3 583.9l4.9 1 7.2 27.1-4.8 0.1z" fill="#cc4248"/>
<path d="M634.3 460.1l5 20.1 6-38.2-5-11.7z" fill="#fac228"/>
<path d="M575.3 697.1l5.1 7.7 5.8-13.1-5-7.7z" fill="#7d1e6d"/>
<path d="M401.3 516.4l4.8-14.5 6.5 27.5-4.9 8.3z" fill="#f57d15"/>
<path d="M767.8 572.1l5.2 0.4 5.5-5.1-5.2-1.1z" fill="#e05536"/>
<path d="M528 477l5.1 21.2 5.9 23.7-5.1-18.8z" fill="#fa9008"/>
<path d="M276.6 615.1l5.1 4.1 7.5 51.4-5.2-9.8z" fill="#ab2f5e"/>
<path d="M641.1 402.1l5.1 4.8 5.8-18.6-5.1-2.1z" fill="#f5f992"/>
<path d="M502.6 457l5.1-4.5 6 24.6-5.1-3.8z" fill="#fcb418"/>
<path d="M666.5 432.3l4.9 16 5.9-17.9-4.9-20z" fill="#f5d949"/>
<path d="M432.5 522.5l5 0.1 6.2 11.8-4.9 7.9z" fill="#f2741c"/>
<path d="M702.6 654.5l5.4-13.6 5.8-15.5-5.5 17.4z" fill="#ab2f5e"/>
<path d="M577 625.2l5 26.3 5.9-17.8-5-23.5z" fill="#b43359"/>
<path d="M353.3 557.7l4.7-19 6.3 5.8-4.7 16.2z" fill="#ea632a"/>
<path d="M385.3 531.3l4.8-12.2 6.4 10.8-4.9 7.3z" fill="#f3761b"/>
<path d="M629.2 455.6l5.1 4.5 6-29.8-5.1-5.4z" fill="#f8cd37"/>
<path d="M713.8 625.4l5.1 4.9 5.7-10.5-5.1-6.6z" fill="#ba3655"/>
<path d="M320.4 608.8l4.7-12.5 6.3-3.9-4.7 14.8z" fill="#cb4149"/>
<path d="M625.9 768.5l5.3-9.5 5.7-6.5-5.2 9.1z" fill="#440a68"/>
<path d="M572.9 769.6l5 19.3 5.7 8.9-5-16.2z" fill="#2d0b59"/>
<path d="M470.6 490.8l5-10.1 6-3-5 7z" fill="#fca309"/>
<path d="M655.5 451.6l4.9 17 6.1-36.3-5.1-3.3z" fill="#f9c932"/>
<path d="M574.5 711.3l5 25.4 5.8-2.2-4.9-29.7z" fill="#65156e"/>
<path d="M646.2 406.9l5.1 5.8 5.8-20.1-5.1-4.3z" fill="#f3f68a"/>
<path d="M645.3 442l5 9.4 6-32.6-5-6.1z" fill="#f5d949"/>
<path d="M588 801.9l5.2-3.7 5.7 11-5.1 0.2z" fill="#1c0c43"/>
<path d="M674.9 706.2l5.4-19.9 5.6 2-5.5 20.9z" fill="#7c1d6d"/>
<path d="M751.8 581.6l5.2-2.3 5.6-7.6-5.2 1.1z" fill="#db503b"/>
<path d="M650.3 451.4l5.2 0.2 5.9-22.6-5.1-10.2z" fill="#f7d340"/>
<path d="M651.3 412.7l5 6.1 5.9-17.6-5.1-8.6z" fill="#f2f27d"/>
<path d="M656.3 418.8l5.1 10.2 5.9-25-5.1-2.8z" fill="#f1ec6d"/>
<path d="M570.3 680.6l5 16.5 5.9-13.1-5.1-14.8z" fill="#88226a"/>
<path d="M635.2 424.9l5.1 5.4 5.9-23.4-5.1-4.8z" fill="#f2e865"/>
<path d="M640.3 430.3l5 11.7 6-29.3-5.1-5.8z" fill="#f3e35a"/>
<path d="M331.4 592.4l4.6-17.2 6.3-4.5-4.7 18.2z" fill="#d94d3d"/>
<path d="M507.7 452.5l5.1 5.1 5.9 26.2-5-6.7z" fill="#fcb216"/>
<path d="M577.9 594.1l5 16.1 5.9-14.7-5.1-13.2z" fill="#cf4446"/>
<path d="M661.4 429l5.1 3.3 5.9-21.9-5.1-6.4z" fill="#f2e661"/>
<path d="M342.3 570.7l4.7-13.1 6.3 0.1-4.8 11.9z" fill="#e35933"/>
<path d="M729.7 619.9l5.4-9.1 5.7-12.8-5.3 8.1z" fill="#c63d4d"/>
<path d="M773 572.5l5.2 0.8 5.5-5-5.2-0.9z" fill="#e05536"/>
<path d="M615 784.7l5.2-12.3 5.7-3.9-5.1 3.1z" fill="#380962"/>
<path d="M718.9 630.3l5.2 1.1 5.6-11.5-5.1-0.1z" fill="#b93556"/>
<path d="M225.2 584.9l4.9-0.3 7.1 22.2-4.8 5.2z" fill="#ce4347"/>
<path d="M604 798.7l5.3-20.4 5.7 6.4-5.2 15.9z" fill="#290b55"/>
<path d="M281.7 619.2l4.8-4.4 7.4 46.3-4.7 9.5z" fill="#ab2f5e"/>
<path d="M486.6 467.6l5-4.8 6 8.2-5 2z" fill="#fcb216"/>
<path d="M459.6 500.7l5 0.2 6-10.1-5 1.6z" fill="#fb9606"/>
<path d="M512.8 457.6l5 3 6 24.1-5.1-0.9z" fill="#fcb014"/>
<path d="M740.8 598l5.3-7.1 5.7-9.3-5.3 5z" fill="#d44842"/>
<path d="M522.9 470.7l5.1 6.3 5.9 26.1-5.1-12.6z" fill="#fca108"/>
<path d="M685.9 688.3l5.6-31.5 5.5 1.7-5.6 34.2z" fill="#902568"/>
<path d="M517.8 460.6l5.1 10.1 5.9 19.8-5-5.8z" fill="#fcaa0f"/>
<path d="M571.2 638.8l4.9 30.4 5.9-17.7-5-26.3z" fill="#a82e5f"/>
<path d="M448.6 516.6l5-8.2 6-7.7-4.9 16.8z" fill="#f8890c"/>
<path d="M572.8 583.2l5.1 10.9 5.8-11.8-5-7.7z" fill="#d84c3e"/>
<path d="M369.1 528l4.9-4.3 6.4 10.7-5 2.9z" fill="#f3761b"/>
<path d="M659.2 690.7l5.1 4.4 5.4 11.7-5.1 1.8z" fill="#7a1d6d"/>
<path d="M636.9 752.5l5.5-36 5.7-0.3-5.5 36.8z" fill="#5d126e"/>
<path d="M757 579.3l5.2-1.1 5.6-6.1-5.2-0.4z" fill="#de5238"/>
<path d="M567.8 572.1l5 11.1 5.9-8.6-5.1-8.2z" fill="#df5337"/>
<path d="M406.1 501.9l5-1.3 6.4 24.7-4.9 4.1z" fill="#f8850f"/>
<path d="M569.5 705.9l5 5.4 5.9-6.5-5.1-7.7z" fill="#771c6d"/>
<path d="M230.1 584.6l4.9 1.6 7.2 25.2-5-4.6z" fill="#cf4446"/>
<path d="M235 586.2l5.1 4.5 7.3 33.1-5.2-12.4z" fill="#cb4149"/>
<path d="M547.5 539.2l5 8.1 5.9 0.8-5.1-5.6z" fill="#ee6a24"/>
<path d="M562.7 563l5.1 9.1 5.8-5.7-5.1-7.8z" fill="#e45a31"/>
<path d="M240.1 590.7l4.9 2.4 7.4 37.8-5-7.1z" fill="#c73e4c"/>
<path d="M708 640.9l5.2-2 5.7-8.6-5.1-4.9z" fill="#b43359"/>
<path d="M552.5 547.3l5.1 7.5 5.9-2.9-5.1-3.8z" fill="#eb6628"/>
<path d="M557.6 554.8l5.1 8.2 5.8-4.4-5-6.7z" fill="#e8602d"/>
<path d="M572 604.1l5 21.1 5.9-15-5-16.1z" fill="#c83f4b"/>
<path d="M437.5 522.6l5-11 6.1 5-4.9 17.8z" fill="#f68013"/>
<path d="M664.3 695.1l5.1 0.9 5.5 10.2-5.2 0.6z" fill="#7a1d6d"/>
<path d="M697 658.5l5.5-17.7 5.5 0.1-5.4 13.6z" fill="#a82e5f"/>
<path d="M475.6 480.7l5-5.7 6-7.4-5 10.1z" fill="#fcae12"/>
<path d="M724.1 631.4l5.3-11.3 5.7-9.3-5.4 9.1z" fill="#bf3952"/>
<path d="M762.2 578.2l5.3-0.1 5.5-5.6-5.2-0.4z" fill="#df5337"/>
<path d="M564.4 687.6l5.1 18.3 5.8-8.8-5-16.5z" fill="#82206c"/>
<path d="M593.2 798.2l5.2-18.3 5.6 18.8-5.1 10.5z" fill="#260c51"/>
<path d="M464.6 500.9l5-8.1 6-12.1-5 10.1z" fill="#fb9d07"/>
<path d="M746.1 590.9l5.3-4.6 5.6-7-5.2 2.3z" fill="#d94d3d"/>
<path d="M713.2 638.9l5.2 2.1 5.7-9.6-5.2-1.1z" fill="#b3325a"/>
<path d="M565.3 646.4l5 34.2 5.8-11.4-4.9-30.4z" fill="#a02a63"/>
<path d="M735.1 610.8l5.4-11.4 5.6-8.5-5.3 7.1z" fill="#cf4446"/>
<path d="M390.1 519.1l4.8-18.8 6.4 16.1-4.8 13.5z" fill="#f8850f"/>
<path d="M245 593.1l4.9-1.2 7.2 30.2-4.7 8.8z" fill="#c83f4b"/>
<path d="M374 523.7l4.9-7.3 6.4 14.9-4.9 3.1z" fill="#f57d15"/>
<path d="M491.6 462.8l5.1-11 5.9 5.2-5 14z" fill="#fbbe23"/>
<path d="M542.4 513.5l5.1 25.7 5.8 3.3-5-19.3z" fill="#f47918"/>
<path d="M620.2 772.4l5.3-14.9 5.7 1.5-5.3 9.5z" fill="#450a69"/>
<path d="M411.1 500.6l5-4 6.4 25.7-5 3z" fill="#f98b0b"/>
<path d="M453.6 508.4l5-2.2 6-5.3-5-0.2z" fill="#fa9207"/>
<path d="M568.7 711.5l5 31.1 5.8-5.9-5-25.4z" fill="#67166e"/>
<path d="M566.9 593.4l5.1 10.7 5.9-10-5.1-10.9z" fill="#d34743"/>
<path d="M567.9 730.7l5 38.9 5.7 12-4.9-39z" fill="#4d0d6c"/>
<path d="M325.1 596.3l4.7-15.6 6.2-5.5-4.6 17.2z" fill="#d94d3d"/>
<path d="M286.5 614.8l4.8-6.1 7 29.9-4.4 22.5z" fill="#b73557"/>
<path d="M767.5 578.1l5.2 0.4 5.5-5.2-5.2-0.8z" fill="#df5337"/>
<path d="M314 607.1l4.7-10.4 6.4-0.4-4.7 12.5z" fill="#ce4347"/>
<path d="M358 538.7l4.7-19.8 6.4 9.1-4.8 16.5z" fill="#f37819"/>
<path d="M336 575.2l4.8-11.3 6.2-6.3-4.7 13.1z" fill="#e45a31"/>
<path d="M648.1 716.2l5.4-25.5 5.7 0-5.4 20.3z" fill="#7c1d6d"/>
<path d="M347 557.6l4.7-17.3 6.3-1.6-4.7 19z" fill="#ed6925"/>
<path d="M566.1 615.9l5.1 22.9 5.8-13.6-5-21.1z" fill="#c03a51"/>
<path d="M561.9 582.5l5 10.9 5.9-10.2-5-11.1zM751.4 586.3l5.3-1.8 5.5-6.3-5.2 1.1z" fill="#db503b"/>
<path d="M609.3 778.3l5.2-9.5 5.7 3.6-5.2 12.3z" fill="#3b0964"/>
<path d="M480.6 475l5.1-3.9 5.9-8.3-5 4.8z" fill="#fbb81d"/>
<path d="M302.8 615.2l4.6-17.9 6.6 9.8-4.5 26.5z" fill="#c73e4c"/>
<path d="M556.8 569.6l5.1 12.9 5.9-10.4-5.1-9.1z" fill="#e25734"/>
<path d="M249.9 591.9l5 0.3 7.1 26.5-4.9 3.4z" fill="#cc4248"/>
<path d="M702.5 640.8l5.1 2.5 5.6-4.4-5.2 2z" fill="#b1325a"/>
<path d="M416.1 496.6l5.1 3.6 6.3 16.3-5 5.8z" fill="#f98e09"/>
<path d="M458.6 506.2l5 1.3 6-14.7-5 8.1z" fill="#fb9606"/>
<path d="M572.1 776.9l5.1 4.6 5.7 15.7-5-8.3z" fill="#320a5e"/>
<path d="M577.2 781.5l5.1 9.5 5.7 10.9-5.1-4.7z" fill="#2d0b59"/>
<path d="M563.6 709.7l5.1 1.8 5.8-0.2-5-5.4z" fill="#771c6d"/>
<path d="M718.4 641l5.4-14.3 5.6-6.6-5.3 11.3z" fill="#ba3655"/>
<path d="M537.3 500.5l5.1 13 5.9 9.7-5.1-13.2z" fill="#f98c0a"/>
<path d="M469.6 492.8l5-5.9 6-11.9-5 5.7z" fill="#fca80d"/>
<path d="M631.2 759l5.5-40.8 5.7-1.7-5.5 36z" fill="#5f136e"/>
<path d="M442.5 511.6l5-5.6 6.1 2.4-5 8.2z" fill="#f98e09"/>
<path d="M669.4 696l5.4-21.3 5.5 11.6-5.4 19.9z" fill="#87216b"/>
<path d="M527.2 487.4l5 7.3 5.9 8.6-5-5.1z" fill="#fb9d07"/>
<path d="M551.7 559l5.1 10.6 5.9-6.6-5.1-8.2z" fill="#e8602d"/>
<path d="M740.5 599.4l5.3-5.4 5.6-7.7-5.3 4.6z" fill="#d54a41"/>
<path d="M532.2 494.7l5.1 5.8 5.9 9.5-5.1-6.7z" fill="#fb9606"/>
<path d="M729.4 620.1l5.5-13 5.6-7.7-5.4 11.4z" fill="#ca404a"/>
<path d="M421.2 500.2l5.1 8.5 6.2 13.8-5-6z" fill="#f98c0a"/>
<path d="M546.7 552.6l5 6.4 5.9-4.2-5.1-7.5z" fill="#ec6726"/>
<path d="M756.7 584.5l5.2-0.5 5.6-5.9-5.3 0.1z" fill="#de5238"/>
<path d="M559.4 654.9l5 32.7 5.9-7-5-34.2z" fill="#9b2964"/>
<path d="M541.6 544.4l5.1 8.2 5.8-5.3-5-8.1z" fill="#ef6e21"/>
<path d="M558.6 689.2l5 20.5 5.9-3.8-5.1-18.3z" fill="#82206c"/>
<path d="M561.1 602.9l5 13 5.9-11.8-5.1-10.7z" fill="#ce4347"/>
<path d="M707.6 643.3l5.2 2.2 5.6-4.5-5.2-2.1z" fill="#b1325a"/>
<path d="M496.7 451.8l5-8.3 6 9-5.1 4.5z" fill="#f9cb35"/>
<path d="M378.9 516.4l4.8-15.8 6.4 18.5-4.8 12.2zM426.3 508.7l5 4.1 6.2 9.8-5-0.1z" fill="#f8890c"/>
<path d="M254.9 592.2l4.9 1.7 7.1 27.5-4.9-2.7z" fill="#cc4248"/>
<path d="M680.3 686.3l5.7-41.3 5.5 11.8-5.6 31.5z" fill="#9a2865"/>
<path d="M567.1 755l5 21.9 5.8 12-5-19.3z" fill="#420a68"/>
<path d="M582.3 791l5.2-11.5 5.7 18.7-5.2 3.7z" fill="#2f0a5b"/>
<path d="M522.1 469l5.1 18.4 5.9 10.8-5.1-21.2z" fill="#fcaa0f"/>
<path d="M560.2 624.7l5.1 21.7 5.9-7.6-5.1-22.9z" fill="#ba3655"/>
<path d="M598.4 779.9l5.2-14.6 5.7 13-5.3 20.4z" fill="#3b0964"/>
<path d="M556 592.4l5.1 10.5 5.8-9.5-5-10.9z" fill="#d74b3f"/>
<path d="M691.5 656.8l5.4-19.6 5.6 3.6-5.5 17.7z" fill="#ad305d"/>
<path d="M463.6 507.5l5.1-1.4 5.9-19.2-5 5.9z" fill="#fb9b06"/>
<path d="M447.5 506l5.1 7 6-6.8-5 2.2z" fill="#fa9207"/>
<path d="M761.9 584l5.2-0.4 5.6-5.1-5.2-0.4z" fill="#df5337"/>
<path d="M653.5 690.7l5.2 0.7 5.6 3.7-5.1-4.4z" fill="#88226a"/>
<path d="M362.7 518.9l4.9-5 6.4 9.8-4.9 4.3z" fill="#f8850f"/>
<path d="M474.6 486.9l5.1-2.3 6-13.5-5.1 3.9z" fill="#fcb014"/>
<path d="M394.9 500.3l4.8-19.3 6.4 20.9-4.8 14.5z" fill="#fb9b06"/>
<path d="M318.7 596.7l4.8-11.9 6.3-4.1-4.7 15.6z" fill="#d94d3d"/>
<path d="M329.8 580.7l4.7-12.3 6.3-4.5-4.8 11.3z" fill="#e45a31"/>
<path d="M485.7 471.1l5-13.5 6-5.8-5.1 11z" fill="#fac42a"/>
<path d="M501.7 443.5l5.1 3.1 6 11-5.1-5.1z" fill="#f8cf3a"/>
<path d="M745.8 594l5.3-3.3 5.6-6.2-5.3 1.8z" fill="#da4e3c"/>
<path d="M259.8 593.9l4.9-1.2 7 21.2-4.8 7.5z" fill="#cf4446"/>
<path d="M452.6 513l5 7.6 6-13.1-5-1.3z" fill="#f98e09"/>
<path d="M291.3 608.7l4.8-9.6 6.7 16.1-4.5 23.4z" fill="#c73e4c"/>
<path d="M550.9 578.1l5.1 14.3 5.9-9.9-5.1-12.9z" fill="#df5337"/>
<path d="M536.5 516.4l5.1 28 5.9-5.2-5.1-25.7z" fill="#f68013"/>
<path d="M614.5 768.8l5.2-9.6 5.8-1.7-5.3 14.9z" fill="#4a0c6b"/>
<path d="M517 458.3l5.1 10.7 5.9 8-5.1-6.3z" fill="#fbbc21"/>
<path d="M431.3 512.8l5-7.6 6.2 6.4-5 11z" fill="#f98e09"/>
<path d="M340.8 563.9l4.6-21.4 6.3-2.2-4.7 17.3z" fill="#ee6a24"/>
<path d="M506.8 446.6l5.1 4 5.9 10-5-3z" fill="#f9cb35"/>
<path d="M642.4 716.5l5.4-26.2 5.7 0.4-5.4 25.5z" fill="#7f1e6c"/>
<path d="M511.9 450.6l5.1 7.7 5.9 12.4-5.1-10.1z" fill="#fac62d"/>
<path d="M658.7 691.4l5.2-4 5.5 8.6-5.1-0.9z" fill="#88226a"/>
<path d="M457.6 520.6l5.1 3.1 6-17.6-5.1 1.4z" fill="#f98c0a"/>
<path d="M712.8 645.5l5.4-14.4 5.6-4.4-5.4 14.3z" fill="#b93556"/>
<path d="M468.7 506.1l5 3.4 6-24.9-5.1 2.3z" fill="#fc9f07"/>
<path d="M562.9 703.9l5 26.8 5.8 11.9-5-31.1z" fill="#6f196e"/>
<path d="M555.2 613.3l5 11.4 5.9-8.8-5-13z" fill="#ca404a"/>
<path d="M734.9 607.1l5.3-6.5 5.6-6.6-5.3 5.4z" fill="#d34743"/>
<path d="M545.8 568.1l5.1 10 5.9-8.5-5.1-10.6z" fill="#e65d2f"/>
<path d="M723.8 626.7l5.5-13.5 5.6-6.1-5.5 13z" fill="#c73e4c"/>
<path d="M351.7 540.3l4.7-20.4 6.3-1-4.7 19.8z" fill="#f68013"/>
<path d="M307.4 597.3l4.9-3.2 6.4 2.6-4.7 10.4z" fill="#d44842"/>
<path d="M540.7 562.1l5.1 6 5.9-9.1-5-6.4z" fill="#eb6429"/>
<path d="M535.6 552.6l5.1 9.5 6-9.5-5.1-8.2z" fill="#ee6a24"/>
<path d="M751.1 590.7l5.2-0.9 5.6-5.8-5.2 0.5z" fill="#dd513a"/>
<path d="M264.7 592.7l5 1.2 6.9 21.2-4.9-1.2z" fill="#d24644"/>
<path d="M625.5 757.5l5.4-34.6 5.8-4.7-5.5 40.8z" fill="#62146e"/>
<path d="M553.5 658.7l5.1 30.5 5.8-1.6-5-32.7z" fill="#9b2964"/>
<path d="M462.7 523.7l5.1 1.4 5.9-15.6-5-3.4z" fill="#f98c0a"/>
<path d="M696.9 637.2l5.2 6.5 5.5-0.4-5.1-2.5z" fill="#b63458"/>
<path d="M367.6 513.9l4.9-4.6 6.4 7.1-4.9 7.3z" fill="#f98c0a"/>
<path d="M550.1 601.9l5.1 11.4 5.9-10.4-5.1-10.5z" fill="#d34743"/>
<path d="M554.4 631.2l5 23.7 5.9-8.5-5.1-21.7z" fill="#b73557"/>
<path d="M479.7 484.6l5-13.4 6-13.6-5 13.5z" fill="#fbbc21"/>
<path d="M557.7 704.4l5.2-0.5 5.8 7.6-5.1-1.8z" fill="#7d1e6d"/>
<path d="M269.7 593.9l5 2.4 7 22.9-5.1-4.1z" fill="#d04545"/>
<path d="M587.5 779.5l5.2-18.3 5.7 18.7-5.2 18.3z" fill="#3e0966"/>
<path d="M702.1 643.7l5.2-0.3 5.5 2.1-5.2-2.2z" fill="#b43359"/>
<path d="M383.7 500.6l4.8-15.5 6.4 15.2-4.8 18.8z" fill="#fb9d07"/>
<path d="M521.2 491.5l5.1 10.3 5.9-7.1-5-7.3z" fill="#fca50a"/>
<path d="M399.7 481l5-3.3 6.4 22.9-5 1.3z" fill="#fca80d"/>
<path d="M531.4 500.5l5.1 15.9 5.9-2.9-5.1-13z" fill="#fb9606"/>
<path d="M603.6 765.3l5.2-7.3 5.7 10.8-5.2 9.5z" fill="#4a0c6b"/>
<path d="M552.7 688.9l5 15.5 5.9 5.3-5-20.5z" fill="#87216b"/>
<path d="M436.3 505.2l5-1.4 6.2 2.2-5 5.6z" fill="#fb9706"/>
<path d="M490.7 457.6l5-6.6 6-7.5-5 8.3z" fill="#f7d13d"/>
<path d="M756.3 589.8l5.3-0.6 5.5-5.6-5.2 0.4z" fill="#de5238"/>
<path d="M545 587.3l5.1 14.6 5.9-9.5-5.1-14.3z" fill="#db503b"/>
<path d="M526.3 501.8l5.1-1.3 5.9 0-5.1-5.8z" fill="#fc9f07"/>
<path d="M562.1 713.9l5 41.1 5.8 14.6-5-38.9z" fill="#61136e"/>
<path d="M740.2 600.6l5.3-3.7 5.6-6.2-5.3 3.3z" fill="#d84c3e"/>
<path d="M323.5 584.8l4.8-7.3 6.2-9.1-4.7 12.3z" fill="#e35933"/>
<path d="M446.5 517.5l5.1 6.5 6-3.4-5-7.6z" fill="#f98c0a"/>
<path d="M530.6 528.4l5 24.2 6-8.2-5.1-28z" fill="#f57d15"/>
<path d="M451.6 524l5.1 6 6-6.3-5.1-3.1z" fill="#f8870e"/>
<path d="M473.7 509.5l5-17.2 6-21.1-5 13.4z" fill="#fcaa0f"/>
<path d="M441.3 503.8l5.2 13.7 6.1-4.5-5.1-7z" fill="#fb9606"/>
<path d="M274.7 596.3l4.9-0.2 6.9 18.7-4.8 4.4z" fill="#d24644"/>
<path d="M516.1 478l5.1 13.5 6-4.1-5.1-18.4z" fill="#fcb216"/>
<path d="M456.7 530l5.1 9.6 6-14.5-5.1-1.4z" fill="#f78212"/>
<path d="M334.5 568.4l4.8-15.1 6.1-10.8-4.6 21.4z" fill="#ed6925"/>
<path d="M539.9 576l5.1 11.3 5.9-9.2-5.1-10z" fill="#e35933"/>
<path d="M663.9 687.4l5.4-18.6 5.5 5.9-5.4 21.3z" fill="#952667"/>
<path d="M549.3 620.7l5.1 10.5 5.8-6.5-5-11.4z" fill="#c63d4d"/>
<path d="M296.1 599.1l4.8-5.8 6.5 4-4.6 17.9z" fill="#d54a41"/>
<path d="M312.3 594.1l4.9-7 6.3-2.3-4.8 11.9z" fill="#db503b"/>
<path d="M404.7 477.7l5.1 4.9 6.3 14-5 4z" fill="#fcaa0f"/>
<path d="M647.8 690.3l5.2 0.1 5.7 1-5.2-0.7z" fill="#8f2469"/>
<path d="M534.8 569l5.1 7 5.9-7.9-5.1-6z" fill="#e8602d"/>
<path d="M467.8 525.1l5-13.7 5.9-19.1-5 17.2z" fill="#fb9606"/>
<path d="M529.7 563.4l5.1 5.6 5.9-6.9-5.1-9.5z" fill="#eb6628"/>
<path d="M729.3 613.2l5.3-7.2 5.6-5.4-5.3 6.5z" fill="#d24644"/>
<path d="M495.7 451l5.1 5.3 6-9.7-5.1-3.1z" fill="#f6d543"/>
<path d="M674.8 674.7l5.7-34 5.5 4.3-5.7 41.3z" fill="#a62d60"/>
<path d="M718.2 631.1l5.5-13.6 5.6-4.3-5.5 13.5z" fill="#c73e4c"/>
<path d="M544.2 609.5l5.1 11.2 5.9-7.4-5.1-11.4z" fill="#cf4446"/>
<path d="M686 645l5.4-13 5.5 5.2-5.4 19.6z" fill="#b73557"/>
<path d="M636.7 718.2l5.4-24.6 5.7-3.3-5.4 26.2z" fill="#82206c"/>
<path d="M745.5 596.9l5.3-1.8 5.5-5.3-5.2 0.9z" fill="#db503b"/>
<path d="M707.3 643.4l5.3-10.2 5.6-2.1-5.4 14.4z" fill="#ba3655"/>
<path d="M356.4 519.9l4.9-7.5 6.3 1.5-4.9 5z" fill="#fa9008"/>
<path d="M566.3 758l5.1 6.7 5.8 16.8-5.1-4.6z" fill="#4a0c6b"/>
<path d="M511 464.3l5.1 13.7 6-9-5.1-10.7z" fill="#fac228"/>
<path d="M500.8 456.3l5.1 2.7 6-8.4-5.1-4z" fill="#f7d13d"/>
<path d="M571.4 764.7l5.1 4.7 5.8 21.6-5.1-9.5z" fill="#450a69"/>
<path d="M515.3 508.7l5.1 9.5 5.9-16.4-5.1-10.3z" fill="#fb9b06"/>
<path d="M484.7 471.2l5.1 0.2 5.9-20.4-5 6.6z" fill="#f9c72f"/>
<path d="M409.8 482.6l5-0.2 6.4 17.8-5.1-3.6z" fill="#fcaa0f"/>
<path d="M345.4 542.5l4.8-17.5 6.2-5.1-4.7 20.4z" fill="#f78212"/>
<path d="M372.5 509.3l4.8-20.4 6.4 11.7-4.8 15.8z" fill="#fb9d07"/>
<path d="M505.9 459l5.1 5.3 6-6-5.1-7.7z" fill="#f8cd37"/>
<path d="M279.6 596.1l5-0.8 6.7 13.4-4.8 6.1z" fill="#d44842"/>
<path d="M520.4 518.2l5.1-0.8 5.9-16.9-5.1 1.3z" fill="#fb9706"/>
<path d="M548.4 635.5l5.1 23.2 5.9-3.8-5-23.7z" fill="#b63458"/>
<path d="M419.9 488.6l5.1 9.4 6.3 14.8-5-4.1z" fill="#fc9f07"/>
<path d="M414.8 482.4l5.1 6.2 6.4 20.1-5.1-8.5z" fill="#fca60c"/>
<path d="M525.5 517.4l5.1 11 5.9-12-5.1-15.9z" fill="#fa9207"/>
<path d="M524.6 542.9l5.1 20.5 5.9-10.8-5-24.2z" fill="#f2741c"/>
<path d="M461.8 539.6l5-13.5 6-14.7-5 13.7z" fill="#f8890c"/>
<path d="M539.1 596l5.1 13.5 5.9-7.6-5.1-14.6z" fill="#d84c3e"/>
<path d="M653 690.4l5.2-5.7 5.7 2.7-5.2 4z" fill="#922568"/>
<path d="M608.8 758l5.3-12.7 5.6 13.9-5.2 9.6z" fill="#57106e"/>
<path d="M619.7 759.2l5.5-37.6 5.7 1.3-5.4 34.6z" fill="#65156e"/>
<path d="M547.6 657.2l5.1 31.7 5.9 0.3-5.1-30.5z" fill="#9f2a63"/>
<path d="M510.1 489l5.2 19.7 5.9-17.2-5.1-13.5z" fill="#fcaa0f"/>
<path d="M489.8 471.4l5.1 5.2 5.9-20.3-5.1-5.3z" fill="#f9c72f"/>
<path d="M561.3 735.1l5 22.9 5.8 18.9-5-21.9z" fill="#59106e"/>
<path d="M509.3 530.9l5.1 3 6-15.7-5.1-9.5z" fill="#f98b0b"/>
<path d="M478.7 492.3l5.1-3.8 6-17.1-5.1-0.2z" fill="#fbb61a"/>
<path d="M750.8 595.1l5.2-1.1 5.6-4.8-5.3 0.6z" fill="#dd513a"/>
<path d="M300.9 593.3l5-1.3 6.4 2.1-4.9 3.2z" fill="#db503b"/>
<path d="M734.6 606l5.3-4 5.6-5.1-5.3 3.7z" fill="#d74b3f"/>
<path d="M494.9 476.6l5.1 4.3 5.9-21.9-5.1-2.7z" fill="#fac42a"/>
<path d="M450.6 535l5.1 11.3 6.1-6.7-5.1-9.6z" fill="#f67e14"/>
<path d="M317.2 587.1l4.8-4.8 6.3-4.8-4.8 7.3z" fill="#e25734"/>
<path d="M691.4 632l5.1 10.5 5.6 1.2-5.2-6.5z" fill="#bc3754"/>
<path d="M328.3 577.5l4.8-14.7 6.2-9.5-4.8 15.1z" fill="#eb6628"/>
<path d="M576.5 769.4l5.2-11.6 5.8 21.7-5.2 11.5z" fill="#490b6a"/>
<path d="M425 498l5.1-3.1 6.2 10.3-5 7.6z" fill="#fca108"/>
<path d="M534 585.3l5.1 10.7 5.9-8.7-5.1-11.3z" fill="#e15635"/>
<path d="M592.7 761.2l5.3-18.4 5.6 22.5-5.2 14.6z" fill="#540f6d"/>
<path d="M483.8 488.5l5.1 8.7 6-20.6-5.1-5.2z" fill="#fcb418"/>
<path d="M361.3 512.4l5-3 6.2-0.1-4.9 4.6z" fill="#fb9706"/>
<path d="M388.5 485.1l4.8-18.2 6.4 14.1-4.8 19.3z" fill="#fcb418"/>
<path d="M523.8 571.6l5.1 6.1 5.9-8.7-5.1-5.6z" fill="#e9612b"/>
<path d="M472.8 511.4l5-1.3 6-21.6-5.1 3.8z" fill="#fca309"/>
<path d="M514.4 533.9l5.1-3.6 6-12.9-5.1 0.8z" fill="#f98b0b"/>
<path d="M696.5 642.5l5.2 1.5 5.6-0.6-5.2 0.3z" fill="#b93556"/>
<path d="M488.9 497.2l5.1 8 6-24.3-5.1-4.3z" fill="#fcae12"/>
<path d="M528.9 577.7l5.1 7.6 5.9-9.3-5.1-7z" fill="#e65d2f"/>
<path d="M504.2 512.3l5.1 18.6 6-22.2-5.2-19.7z" fill="#fb9906"/>
<path d="M503.4 551.5l5-2 6-15.6-5.1-3z" fill="#f57b17"/>
<path d="M445.4 520.6l5.2 14.4 6.1-5-5.1-6z" fill="#f8890c"/>
<path d="M500 480.9l5 1 6-17.6-5.1-5.3z" fill="#fac228"/>
<path d="M505 481.9l5.1 7.1 6-11-5.1-13.7z" fill="#fbba1f"/>
<path d="M543.3 624.9l5.1 10.6 6-4.3-5.1-10.5z" fill="#c43c4e"/>
<path d="M483 522.1l5 4.8 6-21.7-5.1-8z" fill="#fb9706"/>
<path d="M557 696.1l5.1 17.8 5.8 16.8-5-26.8z" fill="#801f6c"/>
<path d="M284.6 595.3l4.9-1.1 6.6 4.9-4.8 9.6z" fill="#d94d3d"/>
<path d="M519.5 530.3l5.1 12.6 6-14.5-5.1-11z" fill="#f8850f"/>
<path d="M498.2 535.4l5.2 16.1 5.9-20.6-5.1-18.6z" fill="#f78410"/>
<path d="M477.8 510.1l5.2 12 5.9-24.9-5.1-8.7z" fill="#fc9f07"/>
<path d="M440.3 510.7l5.1 9.9 6.2 3.4-5.1-6.5z" fill="#fa9207"/>
<path d="M723.7 617.5l5.3-7 5.6-4.5-5.3 7.2z" fill="#d24644"/>
<path d="M518.7 557.4l5.1 14.2 5.9-8.2-5.1-20.5z" fill="#ef6c23"/>
<path d="M494 505.2l5.1-3.5 5.9-19.8-5-1z" fill="#fcac11"/>
<path d="M538.2 615.2l5.1 9.7 6-4.2-5.1-11.2z" fill="#ce4347"/>
<path d="M477 540.9l5.1 3.9 5.9-17.9-5-4.8z" fill="#f78410"/>
<path d="M455.7 546.3l5-10.3 6.1-9.9-5 13.5z" fill="#f68013"/>
<path d="M466.8 526.1l5 2.2 6-18.2-5 1.3z" fill="#fa9207"/>
<path d="M551.9 696.3l5.1-0.2 5.9 7.8-5.2 0.5z" fill="#8a226a"/>
<path d="M471.8 528.3l5.2 12.6 6-18.8-5.2-12z" fill="#f98b0b"/>
<path d="M488 526.9l5.1-1 6-24.2-5.1 3.5z" fill="#fb9606"/>
<path d="M739.9 602l5.3-1.5 5.6-5.4-5.3 1.8z" fill="#da4e3c"/>
<path d="M546.8 680.4l5.1 15.9 5.8 8.1-5-15.5z" fill="#902568"/>
<path d="M339.3 553.3l4.7-19 6.2-9.3-4.8 17.5z" fill="#f67e14"/>
<path d="M305.9 592l4.9-2.7 6.4-2.2-4.9 7z" fill="#df5337"/>
<path d="M712.6 633.2l5.5-13.2 5.6-2.5-5.5 13.6z" fill="#c83f4b"/>
<path d="M499.1 501.7l5.1 10.6 5.9-23.3-5.1-7.1z" fill="#fca80d"/>
<path d="M642.1 693.6l5.2-4.4 5.7 1.2-5.2-0.1z" fill="#932667"/>
<path d="M435.1 491.3l5.2 19.4 6.2 6.8-5.2-13.7z" fill="#fc9f07"/>
<path d="M430.1 494.9l5-3.6 6.2 12.5-5 1.4z" fill="#fca60c"/>
<path d="M350.2 525l4.9-3.7 6.2-8.9-4.9 7.5z" fill="#fa9207"/>
<path d="M630.9 722.9l5.4-26.3 5.8-3-5.4 24.6z" fill="#84206b"/>
<path d="M508.4 549.5l5.1-2.3 6-16.9-5.1 3.6z" fill="#f67e14"/>
<path d="M492.3 551.5l5.1 12.1 6-12.1-5.2-16.1z" fill="#f2741c"/>
<path d="M497.4 563.6l5.1 1.1 5.9-15.2-5 2z" fill="#ef6e21"/>
<path d="M493.1 525.9l5.1 9.5 6-23.1-5.1-10.6z" fill="#fa9207"/>
<path d="M533.1 602.4l5.1 12.8 6-5.7-5.1-13.5z" fill="#d54a41"/>
<path d="M482.1 544.8l5.1 1.2 5.9-20.1-5.1 1z" fill="#f78212"/>
<path d="M513.5 547.2l5.2 10.2 5.9-14.5-5.1-12.6z" fill="#f57b17"/>
<path d="M658.2 684.7l5.4-18.7 5.7 2.8-5.4 18.6z" fill="#a02a63"/>
<path d="M701.7 644l5.4-12.2 5.5 1.4-5.3 10.2z" fill="#bf3952"/>
<path d="M487.2 546l5.1 5.5 5.9-16.1-5.1-9.5z" fill="#f67e14"/>
<path d="M322 582.3l4.9-7.7 6.2-11.8-4.8 14.7z" fill="#e9612b"/>
<path d="M471 555.2l5.1 3.7 6-14.1-5.1-3.9z" fill="#f3761b"/>
<path d="M289.5 594.2l5-0.2 6.4-0.7-4.8 5.8z" fill="#de5238"/>
<path d="M377.3 488.9l4.8-16.4 6.4 12.6-4.8 15.5z" fill="#fcb418"/>
<path d="M542.5 636.9l5.1 20.3 5.9 1.5-5.1-23.2z" fill="#b93556"/>
<path d="M528 593.3l5.1 9.1 6-6.4-5.1-10.7z" fill="#de5238"/>
<path d="M465.8 540l5.2 15.2 6-14.3-5.2-12.6z" fill="#f67e14"/>
<path d="M745.2 600.5l5.2-1.9 5.6-4.6-5.2 1.1z" fill="#dd513a"/>
<path d="M517.8 580.7l5.1 6.3 6-9.3-5.1-6.1z" fill="#e65d2f"/>
<path d="M522.9 587l5.1 6.3 6-8-5.1-7.6z" fill="#e35933"/>
<path d="M669.3 668.8l5.6-30.5 5.6 2.4-5.7 34z" fill="#b1325a"/>
<path d="M729 610.5l5.3-4.6 5.6-3.9-5.3 4z" fill="#d74b3f"/>
<path d="M460.7 536l5.1 4 6-11.7-5-2.2z" fill="#f8870e"/>
<path d="M680.5 640.7l5.3-12.1 5.6 3.4-5.4 13z" fill="#c13a50"/>
<path d="M598 742.8l5.1-4 5.7 19.2-5.2 7.3z" fill="#61136e"/>
<path d="M512.7 569.1l5.1 11.6 6-9.1-5.1-14.2z" fill="#eb6628"/>
<path d="M310.8 589.3l5-0.4 6.2-6.6-4.8 4.8z" fill="#e35933"/>
<path d="M502.5 564.7l5.1-3.7 5.9-13.8-5.1 2.3z" fill="#f1711f"/>
<path d="M393.3 466.9l5-6.2 6.4 17-5 3.3z" fill="#fac62d"/>
<path d="M476.1 558.9l5-1.4 6.1-11.5-5.1-1.2z" fill="#f3761b"/>
<path d="M556.2 699l5.1 36.1 5.8 19.9-5-41.1z" fill="#771c6d"/>
<path d="M444.4 532.6l5.2 16.2 6.1-2.5-5.1-11.3z" fill="#f68013"/>
<path d="M366.3 509.4l4.7-22 6.3 1.5-4.8 20.4z" fill="#fca80d"/>
<path d="M647.3 689.2l5.3-6.8 5.6 2.3-5.2 5.7z" fill="#982766"/>
<path d="M333.1 562.8l4.8-12.2 6.1-16.3-4.7 19z" fill="#f37819"/>
<path d="M486.3 564.7l5.1 11.4 6-12.5-5.1-12.1z" fill="#ee6a24"/>
<path d="M355.1 521.3l4.9-7 6.3-4.9-5 3z" fill="#fb9906"/>
<path d="M491.4 576.1l5.1-0.2 6-11.2-5.1-1.1z" fill="#eb6628"/>
<path d="M507.6 561l5.1 8.1 6-11.7-5.2-10.2z" fill="#f06f20"/>
<path d="M581.7 757.8l5.3-25.9 5.7 29.3-5.2 18.3z" fill="#5c126e"/>
<path d="M294.5 594l5-0.1 6.4-1.9-5 1.3z" fill="#e05536"/>
<path d="M481.1 557.5l5.2 7.2 6-13.2-5.1-5.5z" fill="#f1731d"/>
<path d="M537.4 628.5l5.1 8.4 5.9-1.4-5.1-10.6z" fill="#c63d4d"/>
<path d="M541.7 651.3l5.1 29.1 5.9 8.5-5.1-31.7z" fill="#a82e5f"/>
<path d="M614.1 745.3l5.4-31.4 5.7 7.7-5.5 37.6z" fill="#71196e"/>
<path d="M344 534.3l5-1 6.1-12-4.9 3.7z" fill="#f98c0a"/>
<path d="M449.6 548.8l5-11.5 6.1-1.3-5 10.3z" fill="#f67e14"/>
<path d="M718.1 620l5.3-7.6 5.6-1.9-5.3 7z" fill="#d24644"/>
<path d="M532.3 618.7l5.1 9.8 5.9-3.6-5.1-9.7z" fill="#ce4347"/>
<path d="M685.8 628.6l5.1 8.4 5.6 5.5-5.1-10.5z" fill="#c43c4e"/>
<path d="M439.3 517l5.1 15.6 6.2 2.4-5.2-14.4z" fill="#f98e09"/>
<path d="M734.3 605.9l5.3-1.6 5.6-3.8-5.3 1.5z" fill="#da4e3c"/>
<path d="M398.3 460.7l5-0.8 6.5 22.7-5.1-4.9z" fill="#f9c72f"/>
<path d="M690.9 637l5.2 2.2 5.6 4.8-5.2-1.5z" fill="#c03a51"/>
<path d="M464.9 560.6l5.1 3.4 6.1-5.1-5.1-3.7z" fill="#f06f20"/>
<path d="M527.2 607.4l5.1 11.3 5.9-3.5-5.1-12.8z" fill="#d54a41"/>
<path d="M315.8 588.9l4.9-4.8 6.2-9.5-4.9 7.7z" fill="#e65d2f"/>
<path d="M496.5 575.9l5.1-4.6 6-10.3-5.1 3.7z" fill="#ed6925"/>
<path d="M299.5 593.9l4.9 0 6.4-4.6-4.9 2.7z" fill="#e15635"/>
<path d="M707.1 631.8l5.4-10.6 5.6-1.2-5.5 13.2z" fill="#cb4149"/>
<path d="M459.7 541.8l5.2 18.8 6.1-5.4-5.2-15.2z" fill="#f47918"/>
<path d="M603.1 738.8l5.2-1 5.8 7.5-5.3 12.7z" fill="#69166e"/>
<path d="M326.9 574.6l4.8-9.9 6.2-14.1-4.8 12.2z" fill="#ef6e21"/>
<path d="M511.8 588.5l5.1 4.8 6-6.3-5.1-6.3z" fill="#e45a31"/>
<path d="M636.3 696.6l5.3-8.2 5.7 0.8-5.2 4.4z" fill="#972766"/>
<path d="M625.2 721.6l5.4-26.3 5.7 1.3-5.4 26.3z" fill="#88226a"/>
<path d="M403.3 459.9l5.1 1 6.4 21.5-5 0.2z" fill="#f9c72f"/>
<path d="M522 598.6l5.2 8.8 5.9-5-5.1-9.1z" fill="#dd513a"/>
<path d="M506.7 578.3l5.1 10.2 6-7.8-5.1-11.6z" fill="#e9612b"/>
<path d="M516.9 593.3l5.1 5.3 6-5.3-5.1-6.3z" fill="#e15635"/>
<path d="M470 564l5.1 0.9 6-7.4-5 1.4z" fill="#f06f20"/>
<path d="M413.5 470.4l5.2 9 6.3 18.6-5.1-9.4z" fill="#fbbc21"/>
<path d="M560.5 732.8l5.1 9.3 5.8 22.6-5.1-6.7z" fill="#65156e"/>
<path d="M434 497.7l5.3 19.3 6.1 3.6-5.1-9.9z" fill="#fc9f07"/>
<path d="M454.6 537.3l5.1 4.5 6.1-1.8-5.1-4z" fill="#f78410"/>
<path d="M337.9 550.6l5-0.3 6.1-17-5 1z" fill="#f78212"/>
<path d="M739.6 604.3l5.3-1.1 5.5-4.6-5.2 1.9z" fill="#dd513a"/>
<path d="M408.4 460.9l5.1 9.5 6.4 18.2-5.1-6.2z" fill="#fac42a"/>
<path d="M501.6 571.3l5.1 7 6-9.2-5.1-8.1z" fill="#ed6925"/>
<path d="M349 533.3l4.9-5 6.1-14-4.9 7z" fill="#fa9207"/>
<path d="M565.6 742.1l5.2 0.3 5.7 27-5.1-4.7z" fill="#62146e"/>
<path d="M480.2 568.6l5.1 11.2 6.1-3.7-5.1-11.4z" fill="#ec6726"/>
<path d="M418.7 479.4l5-0.6 6.4 16.1-5.1 3.1z" fill="#fbb81d"/>
<path d="M485.3 579.8l5.2 2 6-5.9-5.1 0.2z" fill="#e9612b"/>
<path d="M382.1 472.5l4.8-17.8 6.4 12.2-4.8 18.2z" fill="#f9cb35"/>
<path d="M723.4 612.4l5.3-2.7 5.6-3.8-5.3 4.6z" fill="#d84c3e"/>
<path d="M475.1 564.9l5.1 3.7 6.1-3.9-5.2-7.2z" fill="#ef6e21"/>
<path d="M304.4 593.9l5.1 1 6.3-6-5 0.4z" fill="#e25734"/>
<path d="M696.1 639.2l5.4-8.1 5.6 0.7-5.4 12.2z" fill="#c43c4e"/>
<path d="M652.6 682.4l5.3-15.9 5.7-0.5-5.4 18.7z" fill="#a62d60"/>
<path d="M536.6 636l5.1 15.3 5.9 5.9-5.1-20.3z" fill="#bf3952"/>
<path d="M551.1 681.9l5.1 17.1 5.9 14.9-5.1-17.8z" fill="#932667"/>
<path d="M360 514.3l4.7-21.3 6.3-5.6-4.7 22z" fill="#fcaa0f"/>
<path d="M546 683.8l5.1-1.9 5.9 14.2-5.1 0.2z" fill="#9a2865"/>
<path d="M555.4 713.9l5.1 18.9 5.8 25.2-5-22.9z" fill="#741a6e"/>
<path d="M540.8 668.9l5.2 14.9 5.9 12.5-5.1-15.9z" fill="#a02a63"/>
<path d="M428.9 483.8l5.1 13.9 6.3 13-5.2-19.4z" fill="#fcb014"/>
<path d="M320.7 584.1l4.9-5.1 6.1-14.3-4.8 9.9z" fill="#eb6628"/>
<path d="M663.6 666l5.6-29 5.7 1.3-5.6 30.5z" fill="#b93556"/>
<path d="M331.7 564.7l5-0.7 6.2-13.7-5 0.3z" fill="#f3761b"/>
<path d="M342.9 550.3l4.9-3.6 6.1-18.4-4.9 5z" fill="#f8850f"/>
<path d="M423.7 478.8l5.2 5 6.2 7.5-5 3.6z" fill="#fbba1f"/>
<path d="M371 487.4l4.8-16.8 6.3 1.9-4.8 16.4z" fill="#fac228"/>
<path d="M674.9 638.3l5.3-10.6 5.6 0.9-5.3 12.1z" fill="#c83f4b"/>
<path d="M438.2 526.4l5.3 19.2 6.1 3.2-5.2-16.2z" fill="#f8870e"/>
<path d="M641.6 688.4l5.3-8 5.7 2-5.3 6.8z" fill="#9f2a63"/>
<path d="M309.5 594.9l4.9-2.3 6.3-8.5-4.9 4.8z" fill="#e45a31"/>
<path d="M490.5 581.8l5-6.2 6.1-4.3-5.1 4.6z" fill="#eb6628"/>
<path d="M531.4 626.5l5.2 9.5 5.9 0.9-5.1-8.4z" fill="#ca404a"/>
<path d="M587 731.9l5.2-8.2 5.8 19.1-5.3 18.4z" fill="#71196e"/>
<path d="M728.7 609.7l5.3-1.5 5.6-3.9-5.3 1.6z" fill="#da4e3c"/>
<path d="M570.8 742.4l5.2-11.7 5.7 27.1-5.2 11.6z" fill="#69166e"/>
<path d="M712.5 621.2l5.3-6.3 5.6-2.5-5.3 7.6z" fill="#d44842"/>
<path d="M526.3 618.3l5.1 8.2 6 2-5.1-9.8z" fill="#d04545"/>
<path d="M443.5 545.6l5-10.8 6.1 2.5-5 11.5z" fill="#f8850f"/>
<path d="M505.8 592.3l5.1 3.5 6-2.5-5.1-4.8z" fill="#e45a31"/>
<path d="M500.7 582.5l5.1 9.8 6-3.8-5.1-10.2z" fill="#e75e2e"/>
<path d="M458.8 556.7l5.1 4.9 6.1 2.4-5.1-3.4z" fill="#f2741c"/>
<path d="M521.2 608.5l5.1 9.8 6 0.4-5.1-11.3z" fill="#d74b3f"/>
<path d="M336.7 564l5 0.3 6.1-17.6-4.9 3.6z" fill="#f37819"/>
<path d="M495.5 575.6l5.2 6.9 6-4.2-5.1-7z" fill="#eb6628"/>
<path d="M680.2 627.7l5.1 8.4 5.6 0.9-5.1-8.4z" fill="#ca404a"/>
<path d="M510.9 595.8l5.1 5 6-2.2-5.1-5.3z" fill="#e15635"/>
<path d="M516 600.8l5.2 7.7 6-1.1-5.2-8.8z" fill="#de5238"/>
<path d="M325.6 579l5 1 6.1-16-5 0.7z" fill="#ee6a24"/>
<path d="M353.9 528.3l4.8-17.8 6-17.5-4.7 21.3z" fill="#fca309"/>
<path d="M535.7 647.6l5.1 21.3 6 11.5-5.1-29.1z" fill="#b43359"/>
<path d="M453.6 540.1l5.2 16.6 6.1 3.9-5.2-18.8z" fill="#f67e14"/>
<path d="M386.9 454.7l5-1.9 6.4 7.9-5 6.2z" fill="#f5db4c"/>
<path d="M685.3 636.1l5.2 0.7 5.6 2.4-5.2-2.2z" fill="#c73e4c"/>
<path d="M463.9 561.6l5.1 2.3 6.1 1-5.1-0.9z" fill="#f1731d"/>
<path d="M734 608.2l5.3-1.1 5.6-3.9-5.3 1.1z" fill="#dd513a"/>
<path d="M701.5 631.1l5.4-9.6 5.6-0.3-5.4 10.6z" fill="#cf4446"/>
<path d="M433 507.6l5.2 18.8 6.2 6.2-5.1-15.6z" fill="#fb9906"/>
<path d="M630.6 695.3l5.2-6.9 5.8 0-5.3 8.2z" fill="#9b2964"/>
<path d="M314.4 592.6l5-2 6.2-11.6-4.9 5.1z" fill="#e75e2e"/>
<path d="M474.1 570.7l5.2 7.6 6 1.5-5.1-11.2z" fill="#ed6925"/>
<path d="M469 563.9l5.1 6.8 6.1-2.1-5.1-3.7z" fill="#f06f20"/>
<path d="M717.8 614.9l5.3-2.1 5.6-3.1-5.3 2.7z" fill="#d94d3d"/>
<path d="M448.5 534.8l5.1 5.3 6.1 1.7-5.1-4.5z" fill="#f8890c"/>
<path d="M608.3 737.8l5.5-41.7 5.7 17.8-5.4 31.4z" fill="#82206c"/>
<path d="M479.3 578.3l5.1-1 6.1 4.5-5.2-2z" fill="#eb6628"/>
<path d="M330.6 580l5-1.4 6.1-14.3-5-0.3z" fill="#ef6c23"/>
<path d="M619.5 713.9l5.4-25.1 5.7 6.5-5.4 26.3z" fill="#922568"/>
<path d="M347.8 546.7l4.8-15.8 6.1-20.4-4.8 17.8z" fill="#fa9407"/>
<path d="M550.3 683.3l5.1 30.6 5.9 21.2-5.1-36.1z" fill="#8f2469"/>
<path d="M592.2 723.7l5.2-0.9 5.7 16-5.1 4z" fill="#7a1d6d"/>
<path d="M319.4 590.6l5 1.7 6.2-12.3-5-1z" fill="#e9612b"/>
<path d="M646.9 680.4l5.4-16.7 5.6 2.8-5.3 15.9z" fill="#ad305d"/>
<path d="M690.5 636.8l5.4-7.7 5.6 2-5.4 8.1z" fill="#cb4149"/>
<path d="M391.9 452.8l5-6.2 6.4 13.3-5 0.8z" fill="#f4e156"/>
<path d="M341.7 564.3l4.9-9.8 6-23.6-4.8 15.8z" fill="#f78212"/>
<path d="M427.8 491.8l5.2 15.8 6.3 9.4-5.3-19.3z" fill="#fcae12"/>
<path d="M364.7 493l4.8-16.2 6.3-6.2-4.8 16.8z" fill="#fac62d"/>
<path d="M723.1 612.8l5.3-1.2 5.6-3.4-5.3 1.5z" fill="#db503b"/>
<path d="M375.8 470.6l4.8-16.7 6.3 0.8-4.8 17.8z" fill="#f5d949"/>
<path d="M530.6 631.4l5.1 16.2 6 3.7-5.1-15.3z" fill="#c63d4d"/>
<path d="M657.9 666.5l5.6-29.4 5.7-0.1-5.6 29z" fill="#bf3952"/>
<path d="M484.4 577.3l5.1-5 6 3.3-5 6.2z" fill="#ed6925"/>
<path d="M706.9 621.5l5.3-4.7 5.6-1.9-5.3 6.3z" fill="#d74b3f"/>
<path d="M669.2 637l5.3-10.1 5.7 0.8-5.3 10.6z" fill="#cc4248"/>
<path d="M635.8 688.4l5.3-7.9 5.8-0.1-5.3 8z" fill="#a52c60"/>
<path d="M324.4 592.3l5 0.3 6.2-14-5 1.4z" fill="#ea632a"/>
<path d="M335.6 578.6l4.9-4.2 6.1-19.9-4.9 9.8z" fill="#f1711f"/>
<path d="M576 730.7l5.2-20.6 5.8 21.8-5.3 25.9z" fill="#7c1d6d"/>
<path d="M597.4 722.8l5.2-6.4 5.7 21.4-5.2 1z" fill="#7f1e6c"/>
<path d="M396.9 446.6l5.1 3.1 6.4 11.2-5.1-1z" fill="#f3e35a"/>
<path d="M525.5 623.7l5.1 7.7 6 4.6-5.2-9.5z" fill="#cf4446"/>
<path d="M499.8 592l5.1 4.2 6-0.4-5.1-3.5z" fill="#e55c30"/>
<path d="M432 522.9l5.3 18.8 6.2 3.9-5.3-19.2z" fill="#fa9008"/>
<path d="M494.6 578.1l5.2 13.9 6 0.3-5.1-9.8z" fill="#ea632a"/>
<path d="M407.2 454.8l5.1 6.4 6.4 18.2-5.2-9z" fill="#f6d746"/>
<path d="M520.3 614.3l5.2 9.4 5.9 2.8-5.1-8.2z" fill="#d54a41"/>
<path d="M402 449.7l5.2 5.1 6.3 15.6-5.1-9.5z" fill="#f4df53"/>
<path d="M728.4 611.6l5.2-0.7 5.7-3.8-5.3 1.1z" fill="#dd513a"/>
<path d="M422.6 472.8l5.2 19 6.2 5.9-5.1-13.9z" fill="#fac228"/>
<path d="M489.5 572.3l5.1 5.8 6.1 4.4-5.2-6.9z" fill="#ee6a24"/>
<path d="M504.9 596.2l5.1 1.5 6 3.1-5.1-5z" fill="#e45a31"/>
<path d="M515.2 605.3l5.1 9 6 4-5.1-9.8z" fill="#db503b"/>
<path d="M437.3 541.7l4.9-14 6.3 7.1-5 10.8z" fill="#f98e09"/>
<path d="M412.3 461.2l5.1 0.5 6.3 17.1-5 0.6z" fill="#f7d340"/>
<path d="M534.9 657.7l5.1 11.1 6 15-5.2-14.9z" fill="#b1325a"/>
<path d="M674.5 626.9l5.2 7.3 5.6 1.9-5.1-8.4z" fill="#cf4446"/>
<path d="M510 597.7l5.2 7.6 6 3.2-5.2-7.7z" fill="#e15635"/>
<path d="M545.2 669.1l5.1 14.2 5.9 15.7-5.1-17.1z" fill="#a62d60"/>
<path d="M540 668.8l5.2 0.3 5.9 12.8-5.1 1.9z" fill="#ad305d"/>
<path d="M329.4 592.6l5-3.3 6.1-14.9-4.9 4.2z" fill="#eb6628"/>
<path d="M695.9 629.1l5.3-7 5.7-0.6-5.4 9.6z" fill="#d34743"/>
<path d="M452.6 549.1l5.1 5 6.2 7.5-5.1-4.9z" fill="#f67e14"/>
<path d="M358.7 510.5l4.7-22.2 6.1-11.5-4.8 16.2z" fill="#fbbe23"/>
<path d="M712.2 616.8l5.3-1.1 5.6-2.9-5.3 2.1z" fill="#da4e3c"/>
<path d="M417.4 461.7l5.2 11.1 6.3 11-5.2-5z" fill="#f8cf3a"/>
<path d="M679.7 634.2l5.2 1.4 5.6 1.2-5.2-0.7z" fill="#cc4248"/>
<path d="M554.6 711.6l5.2 2 5.8 28.5-5.1-9.3z" fill="#85216b"/>
<path d="M624.9 688.8l5.2-5.7 5.7 5.3-5.2 6.9z" fill="#a32c61"/>
<path d="M380.6 453.9l5-3.3 6.3 2.2-5 1.9z" fill="#f2e661"/>
<path d="M447.3 528.4l5.3 20.7 6.2 7.6-5.2-16.6z" fill="#f98b0b"/>
<path d="M559.8 713.6l5.1 4.8 5.9 24-5.2-0.3z" fill="#82206c"/>
<path d="M457.7 554.1l5.1-5.9 6.2 15.7-5.1-2.3z" fill="#f67e14"/>
<path d="M426.8 502.3l5.2 20.6 6.2 3.5-5.2-18.8z" fill="#fca60c"/>
<path d="M352.6 530.9l4.8-16.7 6-25.9-4.7 22.2z" fill="#fcaa0f"/>
<path d="M346.6 554.5l4.8-14.3 6-26-4.8 16.7z" fill="#fa9407"/>
<path d="M549.5 697.3l5.1 14.3 5.9 21.2-5.1-18.9z" fill="#8f2469"/>
<path d="M340.5 574.4l4.9-9.7 6-24.5-4.8 14.3z" fill="#f57d15"/>
<path d="M529.7 638.9l5.2 18.8 5.9 11.2-5.1-21.3z" fill="#c03a51"/>
<path d="M467.9 557.7l5.2 10.9 6.2 9.7-5.2-7.6z" fill="#f2741c"/>
<path d="M717.5 615.7l5.2-0.8 5.7-3.3-5.3 1.2z" fill="#dd513a"/>
<path d="M442.2 527.7l5.1 0.7 6.3 11.7-5.1-5.3z" fill="#fb9606"/>
<path d="M369.5 476.8l4.9-15.4 6.2-7.5-4.8 16.7z" fill="#f5db4c"/>
<path d="M462.8 548.2l5.1 9.5 6.2 13-5.1-6.8z" fill="#f57b17"/>
<path d="M473.1 568.6l5.1 2.6 6.2 6.1-5.1 1z" fill="#f06f20"/>
<path d="M641.1 680.5l5.4-17.1 5.8 0.3-5.4 16.7z" fill="#b3325a"/>
<path d="M684.9 635.6l5.3-6.3 5.7-0.2-5.4 7.7z" fill="#d04545"/>
<path d="M334.4 589.3l4.9-4.7 6.1-19.9-4.9 9.7z" fill="#ef6c23"/>
<path d="M652.3 663.7l5.4-22.9 5.8-3.7-5.6 29.4z" fill="#c33b4f"/>
<path d="M701.2 622.1l5.3-2.2 5.7-3.1-5.3 4.7z" fill="#d94d3d"/>
<path d="M663.5 637.1l5.3-7.5 5.7-2.7-5.3 10.1z" fill="#d04545"/>
<path d="M613.8 696.1l5.3-12 5.8 4.7-5.4 25.1z" fill="#a02a63"/>
<path d="M581.2 710.1l5.3-12.1 5.7 25.7-5.2 8.2z" fill="#8f2469"/>
<path d="M385.6 450.6l5-6 6.3 2-5 6.2z" fill="#f1ed71"/>
<path d="M722.7 614.9l5.3-0.3 5.6-3.7-5.2 0.7z" fill="#de5238"/>
<path d="M564.9 718.4l5.3-9.8 5.8 22.1-5.2 11.7z" fill="#87216b"/>
<path d="M421.5 484.2l5.3 18.1 6.2 5.3-5.2-15.8z" fill="#fbbc21"/>
<path d="M630.1 683.1l5.3-4.9 5.7 2.3-5.3 7.9z" fill="#ab2f5e"/>
<path d="M524.6 626.4l5.1 12.5 6 8.7-5.1-16.2z" fill="#cf4446"/>
<path d="M602.6 716.4l5.4-27.6 5.8 7.3-5.5 41.7z" fill="#952667"/>
<path d="M478.2 571.2l5.1-6.1 6.2 7.2-5.1 5z" fill="#f2741c"/>
<path d="M425.8 520.7l5.2 16.3 6.3 4.7-5.3-18.8z" fill="#fb9b06"/>
<path d="M519.4 619.3l5.2 7.1 6 5-5.1-7.7z" fill="#d74b3f"/>
<path d="M706.5 619.9l5.3-1.3 5.7-2.9-5.3 1.1z" fill="#db503b"/>
<path d="M493.7 580.1l5.1 9.3 6.1 6.8-5.1-4.2z" fill="#eb6429"/>
<path d="M668.8 629.6l5.2 5.3 5.7-0.7-5.2-7.3z" fill="#d34743"/>
<path d="M514.3 608.5l5.1 10.8 6.1 4.4-5.2-9.4z" fill="#dd513a"/>
<path d="M544.4 666.5l5.1 30.8 5.9 16.6-5.1-30.6z" fill="#a62d60"/>
<path d="M363.4 488.3l4.9-12 6.1-14.9-4.9 15.4z" fill="#f7d340"/>
<path d="M690.2 629.3l5.4-5 5.6-2.2-5.3 7z" fill="#d74b3f"/>
<path d="M498.8 589.4l5.2 4.7 6 3.6-5.1-1.5z" fill="#e9612b"/>
<path d="M488.5 570.8l5.2 9.3 6.1 11.9-5.2-13.9z" fill="#ef6c23"/>
<path d="M390.6 444.6l5.1-1.3 6.3 6.4-5.1-3.1z" fill="#f1f179"/>
<path d="M431 537l5-10.2 6.2 0.9-4.9 14z" fill="#fb9906"/>
<path d="M509.1 600.1l5.2 8.4 6 5.8-5.1-9z" fill="#e25734"/>
<path d="M674 634.9l5.2 0.5 5.7 0.2-5.2-1.4z" fill="#d04545"/>
<path d="M483.3 565.1l5.2 5.7 6.1 7.3-5.1-5.8z" fill="#f2741c"/>
<path d="M586.5 698l5.2 5.2 5.7 19.6-5.2 0.9z" fill="#932667"/>
<path d="M504 594.1l5.1 6 6.1 5.2-5.2-7.6z" fill="#e75e2e"/>
<path d="M374.4 461.4l5-7.7 6.2-3.1-5 3.3z" fill="#f2ea69"/>
<path d="M345.4 564.7l4.9-10 5.9-29.3-4.8 14.8z" fill="#f98c0a"/>
<path d="M339.3 584.6l5-5.6 6-24.3-4.9 10z" fill="#f3761b"/>
<path d="M416.2 461.8l5.3 22.4 6.3 7.6-5.2-19z" fill="#f7d340"/>
<path d="M351.4 540.2l4.8-14.8 6-27.2-4.8 16z" fill="#fca60c"/>
<path d="M357.4 514.2l4.8-16 6.1-21.9-4.9 12z" fill="#fac228"/>
<path d="M395.7 443.3l5.1 1.5 6.4 10-5.2-5.1z" fill="#f1f179"/>
<path d="M711.8 618.6l5.3-0.2 5.6-3.5-5.2 0.8z" fill="#de5238"/>
<path d="M446.4 545.5l5.1-2.2 6.2 10.8-5.1-5z" fill="#f98c0a"/>
<path d="M400.8 444.8l5.1 4.3 6.4 12.1-5.1-6.4z" fill="#f1ed71"/>
<path d="M420.5 500.3l5.3 20.4 6.2 2.2-5.2-20.6z" fill="#fcb014"/>
<path d="M619.1 684.1l5.2-4.8 5.8 3.8-5.2 5.7z" fill="#ad305d"/>
<path d="M591.7 703.2l5.2-2 5.7 15.2-5.2 6.4z" fill="#972766"/>
<path d="M405.9 449.1l5.2 6.7 6.3 5.9-5.1-0.5z" fill="#f2e865"/>
<path d="M528.9 646.8l5.1 9.4 6 12.6-5.1-11.1z" fill="#c33b4f"/>
<path d="M679.2 635.4l5.3-4.6 5.7-1.5-5.3 6.3z" fill="#d44842"/>
<path d="M635.4 678.2l5.3-14.7 5.8-0.1-5.4 17.1z" fill="#b73557"/>
<path d="M695.6 624.3l5.2-2.1 5.7-2.3-5.3 2.2z" fill="#da4e3c"/>
<path d="M441.1 527.1l5.3 18.4 6.2 3.6-5.3-20.7z" fill="#fb9706"/>
<path d="M411.1 455.8l5.1 6 6.4 11-5.2-11.1z" fill="#f3e35a"/>
<path d="M657.7 640.8l5.4-8.7 5.7-2.5-5.3 7.5z" fill="#d34743"/>
<path d="M646.5 663.4l5.5-21.6 5.7-1-5.4 22.9z" fill="#c63d4d"/>
<path d="M534 656.2l5.2 0.8 6 12.1-5.2-0.3z" fill="#bf3952"/>
<path d="M717.1 618.4l5.2 0.2 5.7-4-5.3 0.3z" fill="#df5337"/>
<path d="M344.3 579l5 0.1 6-24.7-5 0.3z" fill="#f57b17"/>
<path d="M539.2 657l5.2 9.5 5.9 16.8-5.1-14.2z" fill="#ba3655"/>
<path d="M379.4 453.7l5-1.8 6.2-7.3-5 6z" fill="#f1ef75"/>
<path d="M570.2 708.6l5.2-15.5 5.8 17-5.2 20.6z" fill="#982766"/>
<path d="M436 526.8l5.1 0.3 6.2 1.3-5.1-0.7z" fill="#fca108"/>
<path d="M350.3 554.7l5-0.3 6-28.3-5.1-0.7z" fill="#fb9606"/>
<path d="M368.3 476.3l4.9-6.1 6.2-16.5-5 7.7z" fill="#f3e35a"/>
<path d="M451.5 543.3l5.1-3.9 6.2 8.8-5.1 5.9z" fill="#fa9008"/>
<path d="M523.7 633.2l5.2 13.6 6 10.9-5.2-18.8z" fill="#cc4248"/>
<path d="M700.8 622.2l5.3-0.5 5.7-3.1-5.3 1.3z" fill="#dd513a"/>
<path d="M349.3 579.1l5.1 1.7 6-27.8-5.1 1.4z" fill="#f57d15"/>
<path d="M356.2 525.4l5.1 0.7 5.9-34.1-5 6.2z" fill="#fcb418"/>
<path d="M415.3 484.6l5.2 15.7 6.3 2-5.3-18.1z" fill="#fac62d"/>
<path d="M663.1 632.1l5.2 4.4 5.7-1.6-5.2-5.3z" fill="#d54a41"/>
<path d="M419.6 526.3l5.2 13.7 6.2-3-5.2-16.3z" fill="#fc9f07"/>
<path d="M624.3 679.3l5.3-5.2 5.8 4.1-5.3 4.9z" fill="#b43359"/>
<path d="M466.9 550l5.2 7.2 6.1 14-5.1-2.6z" fill="#f78212"/>
<path d="M362.2 498.2l5-6.2 6-21.8-4.9 6.1z" fill="#f8cf3a"/>
<path d="M461.7 541.3l5.2 8.7 6.2 18.6-5.2-10.9z" fill="#f8890c"/>
<path d="M684.5 630.8l5.3-3.9 5.8-2.6-5.4 5z" fill="#d94d3d"/>
<path d="M456.6 539.4l5.1 1.9 6.2 16.4-5.1-9.5z" fill="#fa9008"/>
<path d="M355.3 554.4l5.1-1.4 5.9-28.7-5 1.8z" fill="#fb9706"/>
<path d="M384.4 451.9l5-2.3 6.3-6.3-5.1 1.3z" fill="#f2f482"/>
<path d="M518.6 622.1l5.1 11.1 6 5.7-5.1-12.5z" fill="#d84c3e"/>
<path d="M608 688.8l5.3-13.2 5.8 8.5-5.3 12z" fill="#ae305c"/>
<path d="M424.8 540l5.1-5.8 6.1-7.4-5 10.2z" fill="#fb9d07"/>
<path d="M548.7 692.5l5.2 2.8 5.9 18.3-5.2-2z" fill="#a02a63"/>
<path d="M668.3 636.5l5.2 0.2 5.7-1.3-5.2-0.5z" fill="#d44842"/>
<path d="M354.4 580.8l5.1 2 6-26-5.1-3.8z" fill="#f57d15"/>
<path d="M543.5 678.6l5.2 13.9 5.9 19.1-5.1-14.3z" fill="#a62d60"/>
<path d="M706.1 621.7l5.3 0.3 5.7-3.6-5.3 0.2z" fill="#de5238"/>
<path d="M373.2 470.2l5.1-1.8 6.1-16.5-5 1.8z" fill="#f2e865"/>
<path d="M513.4 610.4l5.2 11.7 6 4.3-5.2-7.1z" fill="#df5337"/>
<path d="M359.5 582.8l5.1 6.1 6.1-24.1-5.2-8z" fill="#f37819"/>
<path d="M361.3 526.1l5-1.8 6-28.6-5.1-3.7z" fill="#fbb61a"/>
<path d="M364.6 588.9l5.2 4.3 6-21-5.1-7.4z" fill="#f1731d"/>
<path d="M472.1 557.2l5.1-3.5 6.1 11.4-5.1 6.1z" fill="#f78410"/>
<path d="M414.4 515.6l5.2 10.7 6.2-5.6-5.3-20.4z" fill="#fcb014"/>
<path d="M553.9 695.3l5.2 0.8 5.8 22.3-5.1-4.8z" fill="#9f2a63"/>
<path d="M360.4 553l5.1 3.8 5.9-33.1-5.1 0.6z" fill="#fb9906"/>
<path d="M370.7 564.8l5.1 7.4 6-27-5.2-13.7z" fill="#f98b0b"/>
<path d="M508.2 601.4l5.2 9 6 8.9-5.1-10.8z" fill="#e45a31"/>
<path d="M487.5 573.9l5.2 8.6 6.1 6.9-5.1-9.3z" fill="#f1711f"/>
<path d="M389.4 449.6l5.2 2.4 6.2-7.2-5.1-1.5z" fill="#f3f586"/>
<path d="M492.7 582.5l5.2 2.4 6.1 9.2-5.2-4.7z" fill="#ef6c23"/>
<path d="M367.2 492l5.1 3.7 6-27.3-5.1 1.8z" fill="#f6d543"/>
<path d="M596.9 701.2l5.3-21.6 5.8 9.2-5.4 27.6z" fill="#a62d60"/>
<path d="M365.5 556.8l5.2 8 5.9-33.3-5.2-7.8z" fill="#fa9407"/>
<path d="M482.4 563.8l5.1 10.1 6.2 6.2-5.2-9.3z" fill="#f57b17"/>
<path d="M410 462.9l5.3 21.7 6.2-0.4-5.3-22.4z" fill="#f4dd4f"/>
<path d="M413.6 548l5.2 12.3 6-20.3-5.2-13.7z" fill="#fb9606"/>
<path d="M689.8 626.9l5.3-1.5 5.7-3.2-5.2 2.1z" fill="#dd513a"/>
<path d="M503 589l5.2 12.4 6.1 7.1-5.2-8.4z" fill="#ea632a"/>
<path d="M394.6 452l5.1 7.7 6.2-10.6-5.1-4.3z" fill="#f2f27d"/>
<path d="M711.4 622l5.3 0.6 5.6-4-5.2-0.2z" fill="#df5337"/>
<path d="M497.9 584.9l5.1 4.1 6.1 11.1-5.1-6z" fill="#ed6925"/>
<path d="M477.2 553.7l5.2 10.1 6.1 7-5.2-5.7z" fill="#f78410"/>
<path d="M673.5 636.7l5.3-3.7 5.7-2.2-5.3 4.6z" fill="#d74b3f"/>
<path d="M369.8 593.2l5-2 6-24.4-5 5.4z" fill="#f1731d"/>
<path d="M435 537.9l5.2 5.9 6.2 1.7-5.3-18.4z" fill="#fb9b06"/>
<path d="M429.9 534.2l5.1 3.7 6.1-10.8-5.1-0.3z" fill="#fca108"/>
<path d="M375.8 572.2l5-5.4 6-27.1-5 5.5z" fill="#f98b0b"/>
<path d="M652 641.8l5.3-7.6 5.8-2.1-5.4 8.7z" fill="#d44842"/>
<path d="M399.7 459.7l5.1 1.9 6.3-5.8-5.2-6.7z" fill="#f1ed71"/>
<path d="M366.3 524.3l5.1-0.6 5.9-30-5 2z" fill="#fbb81d"/>
<path d="M378.3 468.4l5.1 0.9 6-19.7-5 2.3z" fill="#f1ec6d"/>
<path d="M407.5 572.9l5.2 6.5 6.1-19.1-5.2-12.3z" fill="#f78212"/>
<path d="M575.4 693.1l5.3-12.1 5.8 17-5.3 12.1z" fill="#a82e5f"/>
<path d="M376.6 531.5l5.2 13.7 5.9-35.8-5.1-5z" fill="#fcaa0f"/>
<path d="M640.7 663.5l5.5-19.8 5.8-1.9-5.5 21.6z" fill="#ca404a"/>
<path d="M409.2 503.7l5.2 11.9 6.1-15.3-5.2-15.7z" fill="#fac228"/>
<path d="M440.2 543.8l5.1-4.7 6.2 4.2-5.1 2.2z" fill="#fb9706"/>
<path d="M408.4 537.8l5.2 10.2 6-21.7-5.2-10.7z" fill="#fca309"/>
<path d="M629.6 674.1l5.4-12.3 5.7 1.7-5.3 14.7z" fill="#bf3952"/>
<path d="M372.3 495.7l5-2 6.1-24.4-5.1-0.9z" fill="#f6d543"/>
<path d="M404.8 461.6l5.2 1.3 6.2-1.1-5.1-6z" fill="#f1ec6d"/>
<path d="M371.4 523.7l5.2 7.8 6-27.1-5.3-10.7z" fill="#fbb61a"/>
<path d="M402.3 563l5.2 9.9 6.1-24.9-5.2-10.2z" fill="#f98b0b"/>
<path d="M418.8 560.3l4.9-15.5 6.2-10.6-5.1 5.8z" fill="#fb9606"/>
<path d="M559.1 696.1l5.2-5.8 5.9 18.3-5.3 9.8z" fill="#a32c61"/>
<path d="M401.5 593.7l5.1 7.1 6.1-21.4-5.2-6.5z" fill="#f06f20"/>
<path d="M538.4 656.8l5.1 21.8 6 18.7-5.1-30.8z" fill="#ba3655"/>
<path d="M613.3 675.6l5.3-2.2 5.7 5.9-5.2 4.8z" fill="#b73557"/>
<path d="M396.3 586.7l5.2 7 6-20.8-5.2-9.9z" fill="#f3761b"/>
<path d="M391.1 578.3l5.2 8.4 6-23.7-5.1-8.1z" fill="#f57d15"/>
<path d="M695.1 625.4l5.3 0.1 5.7-3.8-5.3 0.5z" fill="#de5238"/>
<path d="M381.8 545.2l5-5.5 5.9-35.8-5 5.5z" fill="#fcaa0f"/>
<path d="M403.1 526.1l5.3 11.7 6-22.2-5.2-11.9z" fill="#fcae12"/>
<path d="M397.2 554.9l5.1 8.1 6.1-25.2-5.3-11.7z" fill="#fb9606"/>
<path d="M374.8 591.2l5.1 1.2 6-22.3-5.1-3.3z" fill="#f3761b"/>
<path d="M383.4 469.3l5.1 0.5 6.1-17.8-5.2-2.4z" fill="#f1ec6d"/>
<path d="M377.3 493.7l5.3 10.7 5.9-34.6-5.1-0.5z" fill="#f6d543"/>
<path d="M382.6 504.4l5.1 5 6-29.7-5.2-9.9z" fill="#f8cd37"/>
<path d="M657.3 634.2l5.2 4.4 5.8-2.1-5.2-4.4z" fill="#d74b3f"/>
<path d="M522.9 643.7l5.1 7 6 5.5-5.1-9.4z" fill="#ce4347"/>
<path d="M380.8 566.8l5.1 3.3 6-32-5.1 1.6z" fill="#f98e09"/>
<path d="M412.7 579.4l5-7.2 6-27.4-4.9 15.5z" fill="#f78410"/>
<path d="M385.1 599.9l5.1 4.4 6.1-17.6-5.2-8.4z" fill="#ee6a24"/>
<path d="M388.5 469.8l5.2 9.9 6-20-5.1-7.7z" fill="#f2e865"/>
<path d="M379.9 592.4l5.2 7.5 6-21.6-5.2-8.2z" fill="#f1711f"/>
<path d="M385.9 570.1l5.2 8.2 6.1-23.4-5.3-16.8z" fill="#f8870e"/>
<path d="M390.2 604.3l5.1 4.3 6.2-14.9-5.2-7z" fill="#eb6628"/>
<path d="M678.8 633l5.3-3.1 5.7-3-5.3 3.9z" fill="#da4e3c"/>
<path d="M406.6 600.8l5.1-6 6-22.6-5 7.2z" fill="#f06f20"/>
<path d="M445.3 539.1l5.1 2.8 6.2-2.5-5.1 3.9z" fill="#fb9b06"/>
<path d="M395.3 608.6l5.2 4.8 6.1-12.6-5.1-7.1z" fill="#e9612b"/>
<path d="M393.7 479.7l5-1.1 6.1-17-5.1-1.9z" fill="#f3e55d"/>
<path d="M528 650.7l5.2-0.8 6 7.1-5.2-0.8z" fill="#cb4149"/>
<path d="M580.7 681l5.1 4.6 5.9 17.6-5.2-5.2z" fill="#ae305c"/>
<path d="M517.7 631.6l5.2 12.1 6 3.1-5.2-13.6z" fill="#d54a41"/>
<path d="M403.8 479.5l5.4 24.2 6.1-19.1-5.3-21.7z" fill="#f6d746"/>
<path d="M700.4 625.5l5.3 0.5 5.7-4-5.3-0.3z" fill="#df5337"/>
<path d="M387.7 509.4l5-5.5 6-25.3-5 1.1z" fill="#f8cd37"/>
<path d="M662.5 638.6l5.2 0.7 5.8-2.6-5.2-0.2z" fill="#d74b3f"/>
<path d="M391.9 538.1l5.3 16.8 5.9-28.8-5.3-20.8z" fill="#fca50a"/>
<path d="M533.2 649.9l5.2 6.9 6 9.7-5.2-9.5z" fill="#c83f4b"/>
<path d="M423.7 544.8l5.1 0.7 6.2-7.6-5.1-3.7z" fill="#fb9b06"/>
<path d="M618.6 673.4l5.2-3.2 5.8 3.9-5.3 5.2z" fill="#bd3853"/>
<path d="M428.8 545.5l5.3 13.6 6.1-15.3-5.2-5.9z" fill="#fb9606"/>
<path d="M386.8 539.7l5.1-1.6 5.9-32.8-5.1-1.4z" fill="#fcb014"/>
<path d="M397.8 505.3l5.3 20.8 6.1-22.4-5.4-24.2z" fill="#fac228"/>
<path d="M585.8 685.6l5.3 1 5.8 14.6-5.2 2z" fill="#ad305d"/>
<path d="M512.5 619.5l5.2 12.1 6 1.6-5.1-11.1z" fill="#de5238"/>
<path d="M450.4 541.9l5.1 2.2 6.2-2.8-5.1-1.9z" fill="#fb9b06"/>
<path d="M400.5 613.4l5.1-2.1 6.1-16.5-5.1 6z" fill="#e9612b"/>
<path d="M398.7 478.6l5.1 0.9 6.2-16.6-5.2-1.3z" fill="#f3e55d"/>
<path d="M705.7 626l5.3 0.7 5.7-4.1-5.3-0.6z" fill="#e05536"/>
<path d="M684.1 629.9l5.3-0.8 5.7-3.7-5.3 1.5z" fill="#de5238"/>
<path d="M434.1 559.1l5.1-1.4 6.1-18.6-5.1 4.7z" fill="#fa9407"/>
<path d="M455.5 544.1l5.2 2.9 6.2 3-5.2-8.7z" fill="#fb9706"/>
<path d="M507.3 612.1l5.2 7.4 6.1 2.6-5.2-11.7z" fill="#e45a31"/>
<path d="M460.7 547l5.2 7.5 6.2 2.7-5.2-7.2z" fill="#fa9207"/>
<path d="M422.8 571.9l5.3 15.7 6-28.5-5.3-13.6z" fill="#f8850f"/>
<path d="M392.7 503.9l5.1 1.4 6-25.8-5.1-0.9z" fill="#f8cf3a"/>
<path d="M411.7 594.8l5.1 0.2 6-23.1-5.1 0.3z" fill="#f2741c"/>
<path d="M417.7 572.2l5.1-0.3 6-26.4-5.1-0.7z" fill="#f98c0a"/>
<path d="M667.7 639.3l5.4-3.5 5.7-2.8-5.3 3.7z" fill="#d84c3e"/>
<path d="M428.1 587.6l5.1-2.8 6-27.1-5.1 1.4z" fill="#f67e14"/>
<path d="M646.2 643.7l5.3-5.9 5.8-3.6-5.3 7.6z" fill="#d74b3f"/>
<path d="M602.2 679.6l5.3-11 5.8 7-5.3 13.2z" fill="#ba3655"/>
<path d="M502.1 604.4l5.2 7.7 6.1-1.7-5.2-9z" fill="#e9612b"/>
<path d="M564.3 690.3l5.2-14.7 5.9 17.5-5.2 15.5z" fill="#b0315b"/>
<path d="M416.8 595l5.2 7.6 6.1-15-5.3-15.7z" fill="#f1711f"/>
<path d="M481.4 573.9l5.2 7.8 6.1 0.8-5.2-8.6z" fill="#f57b17"/>
<path d="M486.6 581.7l5.2 7.6 6.1-4.4-5.2-2.4z" fill="#f2741c"/>
<path d="M422 602.6l5.1 2.2 6.1-20-5.1 2.8z" fill="#ef6c23"/>
<path d="M465.9 554.5l5.1 0.7 6.2-1.5-5.1 3.5z" fill="#fa9008"/>
<path d="M496.9 594.1l5.2 10.3 6.1-3-5.2-12.4z" fill="#ee6a24"/>
<path d="M635 661.8l5.4-15.9 5.8-2.2-5.5 19.8z" fill="#ce4347"/>
<path d="M405.6 611.3l5.1 1.8 6.1-18.1-5.1-0.2z" fill="#eb6429"/>
<path d="M491.8 589.3l5.1 4.8 6.1-5.1-5.1-4.1z" fill="#f1711f"/>
<path d="M476.2 560.8l5.2 13.1 6.1 0-5.1-10.1z" fill="#f78410"/>
<path d="M689.4 629.1l5.3 0.3 5.7-3.9-5.3-0.1z" fill="#df5337"/>
<path d="M439.2 557.7l5.1-1.1 6.1-14.7-5.1-2.8z" fill="#fb9706"/>
<path d="M471 555.2l5.2 5.6 6.2 3-5.2-10.1z" fill="#f98e09"/>
<path d="M410.7 613.1l5.1 5.4 6.2-15.9-5.2-7.6z" fill="#ea632a"/>
<path d="M537.5 672.2l5.2 8.9 6 11.4-5.2-13.9z" fill="#ba3655"/>
<path d="M542.7 681.1l5.2 1.9 6 12.3-5.2-2.8z" fill="#b43359"/>
<path d="M623.8 670.2l5.4-9.9 5.8 1.5-5.4 12.3z" fill="#c43c4e"/>
<path d="M651.5 637.8l5.2 4.1 5.8-3.3-5.2-4.4z" fill="#d94d3d"/>
<path d="M433.2 584.8l5-6.3 6.1-21.9-5.1 1.1z" fill="#f78410"/>
<path d="M673.1 635.8l5.3-2.3 5.7-3.6-5.3 3.1z" fill="#db503b"/>
<path d="M415.8 618.5l5.2 1.9 6.1-15.6-5.1-2.2z" fill="#e8602d"/>
<path d="M427.1 604.8l5.1 0.3 6-26.6-5 6.3z" fill="#f06f20"/>
<path d="M591.1 686.6l5.3-15.8 5.8 8.8-5.3 21.6z" fill="#b73557"/>
<path d="M694.7 629.4l5.2 0.7 5.8-4.1-5.3-0.5z" fill="#df5337"/>
<path d="M444.3 556.6l5.1-1.2 6.1-11.3-5.1-2.2z" fill="#fb9706"/>
<path d="M516.8 647l5.2 5.3 6-1.6-5.1-7z" fill="#d34743"/>
<path d="M656.7 641.9l5.3 0.3 5.7-2.9-5.2-0.7zM511.6 639.2l5.2 7.8 6.1-3.3-5.2-12.1z" fill="#d84c3e"/>
<path d="M547.9 683l5.2 0.9 6 12.2-5.2-0.8z" fill="#b43359"/>
<path d="M607.5 668.6l5.2 1.4 5.9 3.4-5.3 2.2z" fill="#c13a50"/>
<path d="M421 620.4l5.1 4.9 6.1-20.2-5.1-0.3z" fill="#e75e2e"/>
<path d="M532.3 656.5l5.2 15.7 6 6.4-5.1-21.8z" fill="#c73e4c"/>
<path d="M437.4 610l5.2 7.4 6-22.8-5.2-7.5z" fill="#ec6726"/>
<path d="M432.2 605.1l5.2 4.9 6-22.9-5.2-8.6z" fill="#ef6e21"/>
<path d="M506.4 631l5.2 8.2 6.1-7.6-5.2-12.1z" fill="#df5337"/>
<path d="M522 652.3l5.2-0.7 6-1.7-5.2 0.8z" fill="#d24644"/>
<path d="M438.2 578.5l5.2 8.6 6-31.7-5.1 1.2z" fill="#f8850f"/>
<path d="M449.4 555.4l5.2 4 6.1-12.4-5.2-2.9z" fill="#fb9606"/>
<path d="M496.1 618.8l5.1 6 6.1-12.7-5.2-7.7z" fill="#e75e2e"/>
<path d="M442.6 617.4l5.1 3 6.1-21.9-5.2-3.9z" fill="#eb6429"/>
<path d="M501.2 624.8l5.2 6.2 6.1-11.5-5.2-7.4z" fill="#e35933"/>
<path d="M472.8 688.9l5.1 6.4 6.1-20.9-5.2-5.2z" fill="#ba3655"/>
<path d="M699.9 630.1l5.3 0.9 5.8-4.3-5.3-0.7z" fill="#e05536"/>
<path d="M454.6 559.4l5.2 9.4 6.1-14.3-5.2-7.5z" fill="#fa9008"/>
<path d="M480.5 595.8l5.2 7.9 6.1-14.4-5.2-7.6z" fill="#f1711f"/>
<path d="M678.4 633.5l5.2-0.4 5.8-4-5.3 0.8z" fill="#de5238"/>
<path d="M426.1 625.3l5.2 2.4 6.1-17.7-5.2-4.9z" fill="#e65d2f"/>
<path d="M467.6 676.2l5.2 12.7 6-19.7-5.2-10z" fill="#c13a50"/>
<path d="M478.8 669.2l5.2 5.2 6-29.7-5.2-10.2z" fill="#ce4347"/>
<path d="M475.3 588.4l5.2 7.4 6.1-14.1-5.2-7.8z" fill="#f37819"/>
<path d="M490.9 607l5.2 11.8 6-14.4-5.2-10.3z" fill="#eb6628"/>
<path d="M443.4 587.1l5.2 7.5 6-35.2-5.2-4z" fill="#f78212"/>
<path d="M569.5 675.6l5.3-5.4 5.9 10.8-5.3 12.1z" fill="#bd3853"/>
<path d="M485.7 603.7l5.2 3.3 6-12.9-5.1-4.8z" fill="#ef6c23"/>
<path d="M473.6 659.2l5.2 10 6-34.7-5.2-7.1z" fill="#d44842"/>
<path d="M448.6 594.6l5.2 3.9 6-29.7-5.2-9.4z" fill="#f57d15"/>
<path d="M477.9 695.3l5.2 2.9 6.1-21.9-5.2-1.9z" fill="#b93556"/>
<path d="M470.1 582.1l5.2 6.3 6.1-14.5-5.2-13.1z" fill="#f68013"/>
<path d="M459.8 568.8l5.1 1 6.1-14.6-5.1-0.7z" fill="#f98c0a"/>
<path d="M431.3 627.7l5.1 5.2 6.2-15.5-5.2-7.4z" fill="#e45a31"/>
<path d="M527.2 651.6l5.1 4.9 6.1 0.3-5.2-6.9z" fill="#d04545"/>
<path d="M662 642.2l5.3-3 5.8-3.4-5.4 3.5z" fill="#da4e3c"/>
<path d="M484 674.4l5.2 1.9 6-30.8-5.2-0.8z" fill="#cb4149"/>
<path d="M640.4 645.9l5.3-3.9 5.8-4.2-5.3 5.9z" fill="#d84c3e"/>
<path d="M612.7 670l5.3-1.7 5.8 1.9-5.2 3.2z" fill="#c43c4e"/>
<path d="M447.7 620.4l5.2 5.9 6-31.1-5.1 3.3z" fill="#ea632a"/>
<path d="M468.4 647.1l5.2 12.1 6-31.8-5.1-8z" fill="#da4e3c"/>
<path d="M462.4 668.6l5.2 7.6 6-17-5.2-12.1z" fill="#ca404a"/>
<path d="M458.1 635.1l5.1 4.9 6.1-23.6-5.2-12.6z" fill="#e35933"/>
<path d="M483.1 698.2l5.2 6.7 6-20.4-5.1-8.2z" fill="#b43359"/>
<path d="M463.2 640l5.2 7.1 6.1-27.7-5.2-3z" fill="#df5337"/>
<path d="M464.9 569.8l5.2 12.3 6.1-21.3-5.2-5.6z" fill="#f8890c"/>
<path d="M436.4 632.9l5.2 4.9 6.1-17.4-5.1-3z" fill="#e15635"/>
<path d="M553.1 683.9l5.2-6.6 6 13-5.2 5.8z" fill="#b73557"/>
<path d="M490 644.7l5.2 0.8 6-20.7-5.1-6z" fill="#de5238"/>
<path d="M446.8 646.8l5.2 6.5 6.1-18.2-5.2-8.8z" fill="#d94d3d"/>
<path d="M484.8 634.5l5.2 10.2 6.1-25.9-5.2-11.8z" fill="#e25734"/>
<path d="M469.3 616.4l5.2 3 6-23.6-5.2-7.4z" fill="#ec6726"/>
<path d="M464.1 603.8l5.2 12.6 6-28-5.2-6.3z" fill="#ef6e21"/>
<path d="M441.6 637.8l5.2 9 6.1-20.5-5.2-5.9z" fill="#de5238"/>
<path d="M474.5 619.4l5.1 8 6.1-23.7-5.2-7.9z" fill="#e9612b"/>
<path d="M452.9 626.3l5.2 8.8 6-31.3-5.2-8.6z" fill="#e8602d"/>
<path d="M489.2 676.3l5.1 8.2 6.1-32.5-5.2-6.5z" fill="#c83f4b"/>
<path d="M453.8 598.5l5.1-3.3 6-25.4-5.1-1z" fill="#f57b17"/>
<path d="M479.6 627.4l5.2 7.1 6.1-27.5-5.2-3.3z" fill="#e65d2f"/>
<path d="M452 653.3l5.1 3.5 6.1-16.8-5.1-4.9z" fill="#d54a41"/>
<path d="M505.6 659.2l5.1 8.5 6.1-20.7-5.2-7.8z" fill="#d04545"/>
<path d="M494.3 684.5l5.2 3.5 6.1-28.8-5.2-7.2z" fill="#c43c4e"/>
<path d="M457.1 656.8l5.3 11.8 6-21.5-5.2-7.1z" fill="#d24644"/>
<path d="M495.2 645.5l5.2 6.5 6-21-5.2-6.2z" fill="#da4e3c"/>
<path d="M500.4 652l5.2 7.2 6-20-5.2-8.2z" fill="#d74b3f"/>
<path d="M683.6 633.1l5.3 0.5 5.8-4.2-5.3-0.3z" fill="#df5337"/>
<path d="M499.5 688l5.2 4.3 6-24.6-5.1-8.5z" fill="#c03a51"/>
<path d="M488.3 704.9l5.1-4.5 6.1-12.4-5.2-3.5z" fill="#b3325a"/>
<path d="M510.7 667.7l5.2 1.2 6.1-16.6-5.2-5.3z" fill="#ce4347"/>
<path d="M458.9 595.2l5.2 8.6 6-21.7-5.2-12.3z" fill="#f3761b"/>
<path d="M629.2 660.3l5.3-12.6 5.9-1.8-5.4 15.9z" fill="#d04545"/>
<path d="M574.8 670.2l5.2 4 5.8 11.4-5.1-4.6z" fill="#c03a51"/>
<path d="M645.7 642l5.2 2.5 5.8-2.6-5.2-4.1z" fill="#d94d3d"/>
<path d="M504.7 692.3l5.2-3.7 6-19.7-5.2-1.2z" fill="#bf3952"/>
<path d="M667.3 639.2l5.3-1.7 5.8-4-5.3 2.3z" fill="#dd513a"/>
<path d="M493.4 700.4l5.2 3.3 6.1-11.4-5.2-4.3z" fill="#b3325a"/>
<path d="M596.4 670.8l5.2-6.5 5.9 4.3-5.3 11z" fill="#c63d4d"/>
<path d="M688.9 633.6l5.3 0.8 5.7-4.3-5.2-0.7z" fill="#e05536"/>
<path d="M580 674.2l5.2 1.5 5.9 10.9-5.3-1z" fill="#bf3952"/>
<path d="M515.9 668.9l5.2-8 6.1-9.3-5.2 0.7z" fill="#cf4446"/>
<path d="M618 668.3l5.3-8.6 5.9 0.6-5.4 9.9z" fill="#cb4149"/>
<path d="M650.9 644.5l5.3 0.2 5.8-2.5-5.3-0.3z" fill="#d94d3d"/>
<path d="M531.5 676.5l5.2 5.5 6-0.9-5.2-8.9z" fill="#c13a50"/>
<path d="M694.2 634.4l5.3 1 5.7-4.4-5.3-0.9z" fill="#e05536"/>
<path d="M498.6 703.7l5.2-4.2 6.1-10.9-5.2 3.7z" fill="#b43359"/>
<path d="M526.3 664.7l5.2 11.8 6-4.3-5.2-15.7z" fill="#ca404a"/>
<path d="M536.7 682l5.2-2.1 6 3.1-5.2-1.9z" fill="#bf3952"/>
<path d="M672.6 637.5l5.3-0.1 5.7-4.3-5.2 0.4z" fill="#df5337"/>
<path d="M558.3 677.3l5.3-9.1 5.9 7.4-5.2 14.7z" fill="#c13a50"/>
<path d="M509.9 688.6l5.1-1.5 6.1-26.2-5.2 8z" fill="#c33b4f"/>
<path d="M521.1 660.9l5.2 3.8 6-8.2-5.1-4.9z" fill="#d04545"/>
<path d="M656.2 644.7l5.3-1.8 5.8-3.7-5.3 3z" fill="#db503b"/>
<path d="M601.6 664.3l5.3-0.9 5.8 6.6-5.2-1.4z" fill="#cb4149"/>
<path d="M634.5 647.7l5.3-4 5.9-1.7-5.3 3.9z" fill="#d94d3d"/>
<path d="M541.9 679.9l5.2-0.3 6 4.3-5.2-0.9z" fill="#c03a51"/>
<path d="M677.9 637.4l5.2 0.5 5.8-4.3-5.3-0.5z" fill="#df5337"/>
<path d="M585.2 675.7l5.3-11.1 5.9 6.2-5.3 15.8z" fill="#c63d4d"/>
<path d="M503.8 699.5l5.2-2.5 6-9.9-5.1 1.5z" fill="#b73557"/>
<path d="M606.9 663.4l5.3 0.1 5.8 4.8-5.3 1.7z" fill="#cc4248"/>
<path d="M515 687.1l5.2-6.7 6.1-15.7-5.2-3.8z" fill="#c73e4c"/>
<path d="M639.8 643.7l5.3 3.2 5.8-2.4-5.2-2.5z" fill="#da4e3c"/>
<path d="M623.3 659.7l5.4-9.6 5.8-2.4-5.3 12.6z" fill="#d44842"/>
<path d="M661.5 642.9l5.3-1.4 5.8-4-5.3 1.7z" fill="#de5238"/>
<path d="M683.1 637.9l5.3 0.9 5.8-4.4-5.3-0.8z" fill="#e05536"/>
<path d="M525.4 687.6l5.2 5.4 6.1-11-5.2-5.5z" fill="#bf3952"/>
<path d="M520.2 680.4l5.2 7.2 6.1-11.1-5.2-11.8z" fill="#c43c4e"/>
<path d="M563.6 668.2l5.2-5 6 7-5.3 5.4z" fill="#cb4149"/>
<path d="M547.1 679.6l5.2-6.2 6 3.9-5.2 6.6z" fill="#c43c4e"/>
<path d="M645.1 646.9l5.2 0.6 5.9-2.8-5.3-0.2z" fill="#da4e3c"/>
<path d="M688.4 638.8l5.3 1.1 5.8-4.5-5.3-1z" fill="#e05536"/>
<path d="M509 697l5.1-3.5 6.1-13.1-5.2 6.7z" fill="#bd3853"/>
<path d="M666.8 641.5l5.2 0.1 5.9-4.2-5.3 0.1z" fill="#df5337"/>
<path d="M530.6 693l5.2-8.1 6.1-5-5.2 2.1z" fill="#c03a51"/>
<path d="M612.2 663.5l5.2-4.9 5.9 1.1-5.3 8.6z" fill="#d04545"/>
<path d="M568.8 663.2l5.2 4.3 6 6.7-5.2-4z" fill="#cc4248"/>
<path d="M590.5 664.6l5.3-4.6 5.8 4.3-5.2 6.5z" fill="#cf4446"/>
<path d="M650.3 647.5l5.3-1.1 5.9-3.5-5.3 1.8zM628.7 650.1l5.3-2.9 5.8-3.5-5.3 4z" fill="#db503b"/>
<path d="M514.1 693.5l5.3 3.5 6-9.4-5.2-7.2z" fill="#bd3853"/>
<path d="M672 641.6l5.3 0.7 5.8-4.4-5.2-0.5z" fill="#e05536"/>
<path d="M574 667.5l5.3 0.9 5.9 7.3-5.2-1.5z" fill="#cb4149"/>
<path d="M519.4 697l5.2-2 6-2-5.2-5.4z" fill="#bc3754"/>
<path d="M552.3 673.4l5.3-7.1 6 1.9-5.3 9.1z" fill="#cc4248"/>
<path d="M535.8 684.9l5.3-1.9 6-3.4-5.2 0.3z" fill="#c43c4e"/>
<path d="M595.8 660l5.2 2.1 5.9 1.3-5.3 0.9z" fill="#d24644"/>
<path d="M677.3 642.3l5.3 1 5.8-4.5-5.3-0.9z" fill="#e05536"/>
<path d="M655.6 646.4l5.3-0.9 5.9-4-5.3 1.4z" fill="#de5238"/>
<path d="M634 647.2l5.2 2.5 5.9-2.8-5.3-3.2z" fill="#dd513a"/>
<path d="M617.4 658.6l5.4-6.9 5.9-1.6-5.4 9.6z" fill="#d84c3e"/>
<path d="M579.3 668.4l5.2-6.8 6 3-5.3 11.1z" fill="#cf4446"/>
<path d="M682.6 643.3l5.3 1.1 5.8-4.5-5.3-1.1z" fill="#e05536"/>
<path d="M639.2 649.7l5.3 0.9 5.8-3.1-5.2-0.6z" fill="#db503b"/>
<path d="M524.6 695l5.2-3 6-7.1-5.2 8.1z" fill="#bf3952"/>
<path d="M601 662.1l5.3-0.5 5.9 1.9-5.3-0.1z" fill="#d34743"/>
<path d="M660.9 645.5l5.3 0.4 5.8-4.3-5.2-0.1z" fill="#df5337"/>
<path d="M541.1 683l5.2-6.9 6-2.7-5.2 6.2z" fill="#c83f4b"/>
<path d="M557.6 666.3l5.2-4.2 6 1.1-5.2 5z" fill="#d34743"/>
<path d="M644.5 650.6l5.3-0.7 5.8-3.5-5.3 1.1z" fill="#dd513a"/>
<path d="M666.2 645.9l5.3 0.9 5.8-4.5-5.3-0.7z" fill="#e05536"/>
<path d="M622.8 651.7l5.3-0.8 5.9-3.7-5.3 2.9z" fill="#dd513a"/>
<path d="M606.3 661.6l5.3-2.9 5.8-0.1-5.2 4.9z" fill="#d54a41"/>
<path d="M529.8 692l5.2-6.1 6.1-2.9-5.3 1.9z" fill="#c43c4e"/>
<path d="M584.5 661.6l5.3-2.3 6 0.7-5.3 4.6z" fill="#d54a41"/>
<path d="M562.8 662.1l5.3 2.8 5.9 2.6-5.2-4.3z" fill="#d44842"/>
<path d="M671.5 646.8l5.3 1 5.8-4.5-5.3-1z" fill="#e05536"/>
<path d="M649.8 649.9l5.3-0.2 5.8-4.2-5.3 0.9z" fill="#df5337"/>
<path d="M628.1 650.9l5.2 1.9 5.9-3.1-5.2-2.5z" fill="#de5238"/>
<path d="M546.3 676.1l5.2-8.6 6.1-1.2-5.3 7.1z" fill="#d04545"/>
<path d="M568.1 664.9l5.2 1.4 6 2.1-5.3-0.9z" fill="#d34743"/>
<path d="M589.8 659.3l5.3 1.4 5.9 1.4-5.2-2.1z" fill="#d84c3e"/>
<path d="M676.8 647.8l5.3 1.2 5.8-4.6-5.3-1.1z" fill="#e05536"/>
<path d="M611.6 658.7l5.3-4.1 5.9-2.9-5.4 6.9z" fill="#da4e3c"/>
<path d="M633.3 652.8l5.3 1 5.9-3.2-5.3-0.9z" fill="#dd513a"/>
<path d="M655.1 649.7l5.3 0.5 5.8-4.3-5.3-0.4z" fill="#e05536"/>
<path d="M535 685.9l5.2-7.7 6.1-2.1-5.2 6.9z" fill="#cb4149"/>
<path d="M595.1 660.7l5.2 0.5 6 0.4-5.3 0.5z" fill="#d84c3e"/>
<path d="M573.3 666.3l5.3-4.5 5.9-0.2-5.2 6.8z" fill="#d54a41"/>
<path d="M660.4 650.2l5.3 1.1 5.8-4.5-5.3-0.9z" fill="#e05536"/>
<path d="M638.6 653.8l5.3-0.1 5.9-3.8-5.3 0.7z" fill="#de5238"/>
<path d="M551.5 667.5l5.3-2.7 6-2.7-5.2 4.2z" fill="#d54a41"/>
<path d="M616.9 654.6l5.2-0.5 6-3.2-5.3 0.8z" fill="#de5238"/>
<path d="M600.3 661.2l5.3-1.2 6-1.3-5.3 2.9z" fill="#d94d3d"/>
<path d="M665.7 651.3l5.3 1.1 5.8-4.6-5.3-1z" fill="#e05536"/>
<path d="M643.9 653.7l5.3 0.1 5.9-4.1-5.3 0.2z" fill="#df5337"/>
<path d="M556.8 664.8l5.2 1.5 6.1-1.4-5.3-2.8z" fill="#d84c3e"/>
<path d="M578.6 661.8l5.2-1.1 6-1.4-5.3 2.3z" fill="#da4e3c"/>
<path d="M622.1 654.1l5.3 2.1 5.9-3.4-5.2-1.9z" fill="#de5238"/>
<path d="M540.2 678.2l5.3-9 6-1.7-5.2 8.6z" fill="#d34743"/>
<path d="M671 652.4l5.3 1.2 5.8-4.6-5.3-1.2zM649.2 653.8l5.3 0.9 5.9-4.5-5.3-0.5z" fill="#e05536"/>
<path d="M562 666.3l5.3 0.2 6-0.2-5.2-1.4z" fill="#d84c3e"/>
<path d="M627.4 656.2l5.3 1.1 5.9-3.5-5.3-1z" fill="#de5238"/>
<path d="M605.6 660l5.3-2 6-3.4-5.3 4.1z" fill="#dd513a"/>
<path d="M583.8 660.7l5.3 1.4 6-1.4-5.3-1.4z" fill="#db503b"/>
<path d="M654.5 654.7l5.3 1.1 5.9-4.5-5.3-1.1z" fill="#e05536"/>
<path d="M632.7 657.3l5.3 0.3 5.9-3.9-5.3 0.1z" fill="#df5337"/>
<path d="M589.1 662.1l5.3 0.8 5.9-1.7-5.2-0.5z" fill="#db503b"/>
<path d="M567.3 666.5l5.3-2.6 6-2.1-5.3 4.5z" fill="#d94d3d"/>
<path d="M545.5 669.2l5.2-1.7 6.1-2.7-5.3 2.7z" fill="#d84c3e"/>
<path d="M610.9 658l5.3 0 5.9-3.9-5.2 0.5z" fill="#df5337"/>
<path d="M659.8 655.8l5.3 1.2 5.9-4.6-5.3-1.1zM638 657.6l5.3 0.6 5.9-4.4-5.3-0.1z" fill="#e05536"/>
<path d="M594.4 662.9l5.3-0.6 5.9-2.3-5.3 1.2z" fill="#dd513a"/>
<path d="M616.2 658l5.3 1.8 5.9-3.6-5.3-2.1z" fill="#df5337"/>
<path d="M550.7 667.5l5.3 0.6 6-1.8-5.2-1.5z" fill="#d94d3d"/>
<path d="M665.1 657l5.3 1.2 5.9-4.6-5.3-1.2z" fill="#e05536"/>
<path d="M572.6 663.9l5.2-0.8 6-2.4-5.2 1.1z" fill="#dd513a"/>
<path d="M643.3 658.2l5.3 1 5.9-4.5-5.3-0.9z" fill="#e05536"/>
<path d="M621.5 659.8l5.3 1.2 5.9-3.7-5.3-1.1z" fill="#df5337"/>
<path d="M599.7 662.3l5.3-0.7 5.9-3.6-5.3 2z" fill="#de5238"/>
<path d="M556 668.1l5.2 1 6.1-2.6-5.3-0.2z" fill="#da4e3c"/>
<path d="M577.8 663.1l5.3 1.5 6-2.5-5.3-1.4z" fill="#dd513a"/>
<path d="M648.6 659.2l5.3 1.1 5.9-4.5-5.3-1.1z" fill="#e05536"/>
<path d="M626.8 661l5.3 0.7 5.9-4.1-5.3-0.3z" fill="#df5337"/>
<path d="M583.1 664.6l5.3 0.8 6-2.5-5.3-0.8z" fill="#dd513a"/>
<path d="M605 661.6l5.2 0.7 6-4.3-5.3 0z" fill="#df5337"/>
<path d="M561.2 669.1l5.3-2.1 6.1-3.1-5.3 2.6z" fill="#db503b"/>
<path d="M653.9 660.3l5.3 1.3 5.9-4.6-5.3-1.2zM632.1 661.7l5.3 0.9 5.9-4.4-5.3-0.6zM610.2 662.3l5.3 1.6 6-4.1-5.3-1.8z" fill="#e05536"/>
<path d="M588.4 665.4l5.3 0.3 6-3.4-5.3 0.6z" fill="#de5238"/>
<path d="M659.2 661.6l5.4 1.3 5.8-4.7-5.3-1.2z" fill="#e05536"/>
<path d="M566.5 667l5.3-0.2 6-3.7-5.2 0.8z" fill="#de5238"/>
<path d="M637.4 662.6l5.3 1.1 5.9-4.5-5.3-1zM615.5 663.9l5.3 1.2 6-4.1-5.3-1.2z" fill="#e05536"/>
<path d="M593.7 665.7l5.3 0 6-4.1-5.3 0.7z" fill="#df5337"/>
<path d="M571.8 666.8l5.3 1.2 6-3.4-5.3-1.5z" fill="#de5238"/>
<path d="M642.7 663.7l5.3 1.2 5.9-4.6-5.3-1.1zM620.8 665.1l5.3 0.9 6-4.3-5.3-0.7zM599 665.7l5.3 0.9 5.9-4.3-5.2-0.7zM648 664.9l5.3 1.3 5.9-4.6-5.3-1.3z" fill="#e05536"/>
<path d="M577.1 668l5.3 0.9 6-3.5-5.3-0.8z" fill="#df5337"/>
<path d="M626.1 666l5.4 1.1 5.9-4.5-5.3-0.9zM604.3 666.6l5.3 1.5 5.9-4.2-5.3-1.6zM653.3 666.2l5.4 1.3 5.9-4.6-5.4-1.3z" fill="#e05536"/>
<path d="M582.4 668.9l5.3 0.6 6-3.8-5.3-0.3z" fill="#df5337"/>
<path d="M631.5 667.1l5.3 1.2 5.9-4.6-5.3-1.1zM609.6 668.1l5.3 1.3 5.9-4.3-5.3-1.2zM587.7 669.5l5.2 0.5 6.1-4.3-5.3 0zM636.8 668.3l5.3 1.3 5.9-4.7-5.3-1.2zM614.9 669.4l5.3 1.1 5.9-4.5-5.3-0.9zM592.9 670l5.4 1.1 6-4.5-5.3-0.9zM642.1 669.6l5.3 1.3 5.9-4.7-5.3-1.3zM620.2 670.5l5.3 1.2 6-4.6-5.4-1.1zM598.3 671.1l5.3 1.4 6-4.4-5.3-1.5zM647.4 670.9l5.3 1.3 6-4.7-5.4-1.3zM625.5 671.7l5.3 1.3 6-4.7-5.3-1.2zM603.6 672.5l5.3 1.4 6-4.5-5.3-1.3zM630.8 673l5.3 1.3 6-4.7-5.3-1.3zM608.9 673.9l5.3 1.2 6-4.6-5.3-1.1zM636.1 674.3l5.4 1.3 5.9-4.7-5.3-1.3zM614.2 675.1l5.3 1.2 6-4.6-5.3-1.2zM641.5 675.6l5.3 1.3 5.9-4.7-5.3-1.3zM619.5 676.3l5.3 1.3 6-4.6-5.3-1.3zM624.8 677.6l5.4 1.4 5.9-4.7-5.3-1.3zM630.2 679l5.3 1.3 6-4.7-5.4-1.3zM635.5 680.3l5.3 1.4 6-4.8-5.3-1.3z" fill="#e05536"/>
</g>
</g>
</g>
<defs>
<clipPath id="pdinfeb8">
<rect x="13.3" y="60.9" width="1004.81" height="1004.81"/>
</clipPath>
</defs>
<defs><linearGradient id="cbg" x1="0" y1="0" x2="0" y2="1"><stop offset="0.000" stop-color="#fcffa4"/><stop offset="0.031" stop-color="#f3f68a"/><stop offset="0.062" stop-color="#f2ea69"/><stop offset="0.094" stop-color="#f5db4c"/><stop offset="0.125" stop-color="#f9cb35"/><stop offset="0.156" stop-color="#fbbc21"/><stop offset="0.188" stop-color="#fcac11"/><stop offset="0.219" stop-color="#fb9d07"/><stop offset="0.250" stop-color="#f98e09"/><stop offset="0.281" stop-color="#f68013"/><stop offset="0.312" stop-color="#f1731d"/><stop offset="0.344" stop-color="#eb6628"/><stop offset="0.375" stop-color="#e45a31"/><stop offset="0.406" stop-color="#db503b"/><stop offset="0.438" stop-color="#d24644"/><stop offset="0.469" stop-color="#c73e4c"/><stop offset="0.500" stop-color="#bc3754"/><stop offset="0.531" stop-color="#b0315b"/><stop offset="0.562" stop-color="#a32c61"/><stop offset="0.594" stop-color="#972766"/><stop offset="0.625" stop-color="#8a226a"/><stop offset="0.656" stop-color="#7d1e6d"/><stop offset="0.688" stop-color="#71196e"/><stop offset="0.719" stop-color="#64156e"/><stop offset="0.750" stop-color="#57106e"/><stop offset="0.781" stop-color="#4a0c6b"/><stop offset="0.812" stop-color="#3d0965"/><stop offset="0.844" stop-color="#2f0a5b"/><stop offset="0.875" stop-color="#210c4a"/><stop offset="0.906" stop-color="#150b37"/><stop offset="0.938" stop-color="#0b0724"/><stop offset="0.969" stop-color="#040312"/><stop offset="1.000" stop-color="#000004"/></linearGradient></defs>
<rect x="1153.6" y="287.6" width="26.8" height="551.8" fill="url(#cbg)" fill-opacity="0.9" stroke="#2c313a" stroke-width="1"/>
<path d="M1180.4 794.1H1186.4" stroke="#9aa0a8" stroke-width="1.2"/>
<text x="1195.0" y="799.2" style="font-size:14px;font-family:'DejaVu Sans Mono','Liberation Mono',monospace" fill="#9aa0a8">1.5</text>
<path d="M1180.4 715.8H1186.4" stroke="#9aa0a8" stroke-width="1.2"/>
<text x="1195.0" y="720.9" style="font-size:14px;font-family:'DejaVu Sans Mono','Liberation Mono',monospace" fill="#9aa0a8">2.0</text>
<path d="M1180.4 637.4H1186.4" stroke="#9aa0a8" stroke-width="1.2"/>
<text x="1195.0" y="642.5" style="font-size:14px;font-family:'DejaVu Sans Mono','Liberation Mono',monospace" fill="#9aa0a8">2.5</text>
<path d="M1180.4 559.1H1186.4" stroke="#9aa0a8" stroke-width="1.2"/>
<text x="1195.0" y="564.2" style="font-size:14px;font-family:'DejaVu Sans Mono','Liberation Mono',monospace" fill="#9aa0a8">3.0</text>
<path d="M1180.4 480.8H1186.4" stroke="#9aa0a8" stroke-width="1.2"/>
<text x="1195.0" y="485.9" style="font-size:14px;font-family:'DejaVu Sans Mono','Liberation Mono',monospace" fill="#9aa0a8">3.5</text>
<path d="M1180.4 402.4H1186.4" stroke="#9aa0a8" stroke-width="1.2"/>
<text x="1195.0" y="407.5" style="font-size:14px;font-family:'DejaVu Sans Mono','Liberation Mono',monospace" fill="#9aa0a8">4.0</text>
<path d="M1180.4 324.1H1186.4" stroke="#9aa0a8" stroke-width="1.2"/>
<text x="1195.0" y="329.2" style="font-size:14px;font-family:'DejaVu Sans Mono','Liberation Mono',monospace" fill="#9aa0a8">4.5</text>
<text transform="translate(1242.3 565.7) rotate(-90)" text-anchor="middle" style="font-size:18.2px;font-family:'DejaVu Sans Mono','Liberation Mono',monospace" fill="#c8ccd2">Net Sharpe</text>
<text x="515.74" y="32.9" text-anchor="middle" style="font-size:24px;font-family:'DejaVu Sans Mono','Liberation Mono',monospace" fill="#c8ccd2">Net Sharpe Sensitivity Surface</text>
</svg>

</body></html>
